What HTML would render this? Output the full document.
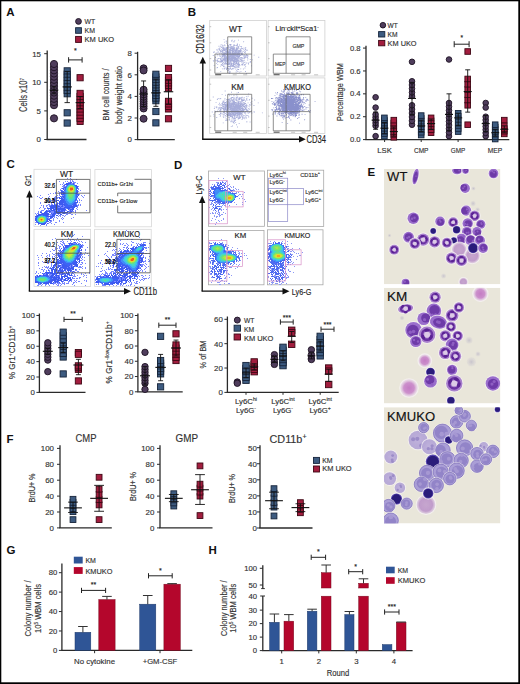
<!DOCTYPE html>
<html><head><meta charset="utf-8"><style>
html,body{margin:0;padding:0;background:#fff;}
svg{display:block;font-family:"Liberation Sans", sans-serif;}
</style></head><body>
<svg width="520" height="684" viewBox="0 0 520 684">
<defs><filter id="soft" x="-5%" y="-5%" width="110%" height="110%"><feGaussianBlur stdDeviation="0.65"/></filter><filter id="blur1" x="-20%" y="-20%" width="140%" height="140%"><feGaussianBlur stdDeviation="0.55"/></filter>
<radialGradient id="gP"><stop offset="0" stop-color="#b47ad2"/><stop offset="0.7" stop-color="#9a58c0"/><stop offset="1" stop-color="#8a4cb2"/></radialGradient>
<radialGradient id="gR"><stop offset="0" stop-color="#dcc4e4"/><stop offset="0.35" stop-color="#b88ad0"/><stop offset="0.6" stop-color="#8c48b4"/><stop offset="1" stop-color="#a06ac6"/></radialGradient>
<radialGradient id="gD"><stop offset="0" stop-color="#30207e"/><stop offset="1" stop-color="#3c2c92"/></radialGradient>
<radialGradient id="gL"><stop offset="0" stop-color="#c6a6ce"/><stop offset="0.7" stop-color="#c09ccb"/><stop offset="1" stop-color="#d0b6d6" stop-opacity="0.5"/></radialGradient>
<radialGradient id="gK"><stop offset="0" stop-color="#9c8ad0"/><stop offset="0.7" stop-color="#7e6cc0"/><stop offset="1" stop-color="#6c58b0"/></radialGradient>
<radialGradient id="gKp"><stop offset="0" stop-color="#c0b2dc"/><stop offset="1" stop-color="#a898d0" stop-opacity="0.8"/></radialGradient>
<radialGradient id="gM"><stop offset="0" stop-color="#c47cc4"/><stop offset="0.6" stop-color="#cc90cc"/><stop offset="1" stop-color="#dcc0dc" stop-opacity="0.3"/></radialGradient>
<radialGradient id="gH"><stop offset="0" stop-color="#d4b8d0" stop-opacity="0.9"/><stop offset="1" stop-color="#e2d4dc" stop-opacity="0"/></radialGradient>
<radialGradient id="gG"><stop offset="0" stop-color="#c8c4cc"/><stop offset="1" stop-color="#d6d2d4" stop-opacity="0.3"/></radialGradient>
<clipPath id="cE1"><rect x="384" y="169" width="116.4" height="115.3"/></clipPath>
<clipPath id="cE2"><rect x="384" y="287.8" width="116.4" height="115.6"/></clipPath>
<clipPath id="cE3"><rect x="384" y="407.2" width="116.4" height="116.3"/></clipPath>
</defs>
<rect x="0" y="0" width="520" height="684" fill="#fff"/>
<text x="6.30" y="16.20" font-size="11.5" text-anchor="start" font-weight="bold" fill="#111">A</text>
<circle cx="78.5" cy="21.4" r="2.9" fill="#4f3d5c" stroke="#1d1222" stroke-width="0.9"/>
<rect x="75.60" y="27.70" width="5.80" height="5.60" fill="#3d5b80" stroke="#16243a" stroke-width="0.9"/>
<rect x="75.60" y="36.40" width="5.80" height="6.00" fill="#a21d3e" stroke="#3f0714" stroke-width="0.9"/>
<text x="84.60" y="23.90" font-size="7.4" text-anchor="start" font-weight="normal" fill="#333" textLength="10.6" lengthAdjust="spacingAndGlyphs" stroke="#333" stroke-width="0.15">WT</text>
<text x="84.60" y="32.90" font-size="7.4" text-anchor="start" font-weight="normal" fill="#333" textLength="10.4" lengthAdjust="spacingAndGlyphs" stroke="#333" stroke-width="0.15">KM</text>
<text x="84.60" y="41.70" font-size="7.4" text-anchor="start" font-weight="normal" fill="#333" textLength="29.6" lengthAdjust="spacingAndGlyphs" stroke="#333" stroke-width="0.15">KM UKO</text>
<line x1="47.20" y1="50.60" x2="47.20" y2="139.50" stroke="#2a2a2a" stroke-width="1.3"/>
<line x1="44.20" y1="139.50" x2="47.20" y2="139.50" stroke="#2a2a2a" stroke-width="1.0"/>
<text x="41.00" y="142.34" font-size="7.9" text-anchor="end" font-weight="normal" fill="#333" stroke="#333" stroke-width="0.15">0</text>
<line x1="44.20" y1="110.90" x2="47.20" y2="110.90" stroke="#2a2a2a" stroke-width="1.0"/>
<text x="41.00" y="113.74" font-size="7.9" text-anchor="end" font-weight="normal" fill="#333" stroke="#333" stroke-width="0.15">5</text>
<line x1="44.20" y1="82.30" x2="47.20" y2="82.30" stroke="#2a2a2a" stroke-width="1.0"/>
<text x="41.00" y="85.14" font-size="7.9" text-anchor="end" font-weight="normal" fill="#333" stroke="#333" stroke-width="0.15">10</text>
<line x1="44.20" y1="53.70" x2="47.20" y2="53.70" stroke="#2a2a2a" stroke-width="1.0"/>
<text x="41.00" y="56.54" font-size="7.9" text-anchor="end" font-weight="normal" fill="#333" stroke="#333" stroke-width="0.15">15</text>
<line x1="46.60" y1="139.50" x2="86.50" y2="139.50" stroke="#2a2a2a" stroke-width="1.3"/>
<text x="27.30" y="95.00" font-size="10" text-anchor="middle" font-weight="normal" fill="#333" textLength="34" lengthAdjust="spacingAndGlyphs" transform="rotate(-90 27.3 95.0)" stroke="#333" stroke-width="0.15">Cells x10<tspan font-size="6" dy="-3.5">7</tspan></text>
<circle cx="54.00" cy="105.18" r="3.60" fill="#4f3d5c" stroke="#1d1222" stroke-width="0.9"/>
<circle cx="54.00" cy="102.01" r="3.60" fill="#4f3d5c" stroke="#1d1222" stroke-width="0.9"/>
<circle cx="54.00" cy="98.84" r="3.60" fill="#4f3d5c" stroke="#1d1222" stroke-width="0.9"/>
<circle cx="54.00" cy="95.68" r="3.60" fill="#4f3d5c" stroke="#1d1222" stroke-width="0.9"/>
<circle cx="54.00" cy="92.51" r="3.60" fill="#4f3d5c" stroke="#1d1222" stroke-width="0.9"/>
<circle cx="54.00" cy="89.34" r="3.60" fill="#4f3d5c" stroke="#1d1222" stroke-width="0.9"/>
<circle cx="54.00" cy="86.17" r="3.60" fill="#4f3d5c" stroke="#1d1222" stroke-width="0.9"/>
<circle cx="54.00" cy="83.00" r="3.60" fill="#4f3d5c" stroke="#1d1222" stroke-width="0.9"/>
<circle cx="54.00" cy="79.84" r="3.60" fill="#4f3d5c" stroke="#1d1222" stroke-width="0.9"/>
<circle cx="54.00" cy="76.67" r="3.60" fill="#4f3d5c" stroke="#1d1222" stroke-width="0.9"/>
<circle cx="54.00" cy="73.50" r="3.60" fill="#4f3d5c" stroke="#1d1222" stroke-width="0.9"/>
<circle cx="54.00" cy="70.33" r="3.60" fill="#4f3d5c" stroke="#1d1222" stroke-width="0.9"/>
<circle cx="54.00" cy="67.16" r="3.60" fill="#4f3d5c" stroke="#1d1222" stroke-width="0.9"/>
<circle cx="54.00" cy="64.00" r="3.60" fill="#4f3d5c" stroke="#1d1222" stroke-width="0.9"/>
<circle cx="54.00" cy="118.34" r="3.60" fill="#4f3d5c" stroke="#1d1222" stroke-width="0.9"/>
<line x1="54.00" y1="93.74" x2="54.00" y2="86.88" stroke="#111" stroke-width="0.9"/>
<line x1="51.50" y1="93.74" x2="56.50" y2="93.74" stroke="#111" stroke-width="0.9"/>
<line x1="51.50" y1="86.88" x2="56.50" y2="86.88" stroke="#111" stroke-width="0.9"/>
<line x1="49.75" y1="90.31" x2="58.25" y2="90.31" stroke="#111" stroke-width="1.1"/>
<rect x="64.10" y="90.64" width="6.20" height="6.20" fill="#3d5b80" stroke="#16243a" stroke-width="0.9"/>
<rect x="64.10" y="87.37" width="6.20" height="6.20" fill="#3d5b80" stroke="#16243a" stroke-width="0.9"/>
<rect x="64.10" y="84.10" width="6.20" height="6.20" fill="#3d5b80" stroke="#16243a" stroke-width="0.9"/>
<rect x="64.10" y="80.83" width="6.20" height="6.20" fill="#3d5b80" stroke="#16243a" stroke-width="0.9"/>
<rect x="64.10" y="77.57" width="6.20" height="6.20" fill="#3d5b80" stroke="#16243a" stroke-width="0.9"/>
<rect x="64.10" y="74.30" width="6.20" height="6.20" fill="#3d5b80" stroke="#16243a" stroke-width="0.9"/>
<rect x="64.10" y="71.03" width="6.20" height="6.20" fill="#3d5b80" stroke="#16243a" stroke-width="0.9"/>
<rect x="64.10" y="67.76" width="6.20" height="6.20" fill="#3d5b80" stroke="#16243a" stroke-width="0.9"/>
<rect x="64.10" y="109.69" width="6.20" height="6.20" fill="#3d5b80" stroke="#16243a" stroke-width="0.9"/>
<rect x="64.10" y="119.93" width="6.20" height="6.20" fill="#3d5b80" stroke="#16243a" stroke-width="0.9"/>
<line x1="67.20" y1="102.61" x2="67.20" y2="71.43" stroke="#111" stroke-width="0.9"/>
<line x1="64.50" y1="102.61" x2="69.90" y2="102.61" stroke="#111" stroke-width="0.9"/>
<line x1="64.50" y1="71.43" x2="69.90" y2="71.43" stroke="#111" stroke-width="0.9"/>
<line x1="62.60" y1="86.88" x2="71.80" y2="86.88" stroke="#111" stroke-width="1.1"/>
<rect x="77.00" y="74.62" width="6.20" height="6.20" fill="#a21d3e" stroke="#3f0714" stroke-width="0.9"/>
<rect x="77.00" y="118.32" width="6.20" height="6.20" fill="#a21d3e" stroke="#3f0714" stroke-width="0.9"/>
<rect x="77.00" y="115.21" width="6.20" height="6.20" fill="#a21d3e" stroke="#3f0714" stroke-width="0.9"/>
<rect x="77.00" y="112.10" width="6.20" height="6.20" fill="#a21d3e" stroke="#3f0714" stroke-width="0.9"/>
<rect x="77.00" y="108.98" width="6.20" height="6.20" fill="#a21d3e" stroke="#3f0714" stroke-width="0.9"/>
<rect x="77.00" y="105.87" width="6.20" height="6.20" fill="#a21d3e" stroke="#3f0714" stroke-width="0.9"/>
<rect x="77.00" y="102.75" width="6.20" height="6.20" fill="#a21d3e" stroke="#3f0714" stroke-width="0.9"/>
<rect x="77.00" y="99.64" width="6.20" height="6.20" fill="#a21d3e" stroke="#3f0714" stroke-width="0.9"/>
<rect x="77.00" y="96.53" width="6.20" height="6.20" fill="#a21d3e" stroke="#3f0714" stroke-width="0.9"/>
<rect x="77.00" y="93.41" width="6.20" height="6.20" fill="#a21d3e" stroke="#3f0714" stroke-width="0.9"/>
<rect x="77.00" y="90.30" width="6.20" height="6.20" fill="#a21d3e" stroke="#3f0714" stroke-width="0.9"/>
<line x1="80.10" y1="108.61" x2="80.10" y2="96.60" stroke="#111" stroke-width="0.9"/>
<line x1="77.60" y1="108.61" x2="82.60" y2="108.61" stroke="#111" stroke-width="0.9"/>
<line x1="77.60" y1="96.60" x2="82.60" y2="96.60" stroke="#111" stroke-width="0.9"/>
<line x1="75.60" y1="102.61" x2="84.60" y2="102.61" stroke="#111" stroke-width="1.1"/>
<line x1="68.60" y1="59.90" x2="82.10" y2="59.90" stroke="#222" stroke-width="1.0"/>
<line x1="68.60" y1="57.20" x2="68.60" y2="62.60" stroke="#222" stroke-width="1.0"/>
<line x1="82.10" y1="57.20" x2="82.10" y2="62.60" stroke="#222" stroke-width="1.0"/>
<text x="75.35" y="52.50" font-size="7" text-anchor="middle" font-weight="normal" fill="#222" stroke="#222" stroke-width="0.15">*</text>
<line x1="137.60" y1="51.80" x2="137.60" y2="139.60" stroke="#2a2a2a" stroke-width="1.3"/>
<line x1="134.60" y1="139.60" x2="137.60" y2="139.60" stroke="#2a2a2a" stroke-width="1.0"/>
<text x="131.80" y="142.44" font-size="7.9" text-anchor="end" font-weight="normal" fill="#333" stroke="#333" stroke-width="0.15">0</text>
<line x1="134.60" y1="118.00" x2="137.60" y2="118.00" stroke="#2a2a2a" stroke-width="1.0"/>
<text x="131.80" y="120.84" font-size="7.9" text-anchor="end" font-weight="normal" fill="#333" stroke="#333" stroke-width="0.15">2</text>
<line x1="134.60" y1="96.40" x2="137.60" y2="96.40" stroke="#2a2a2a" stroke-width="1.0"/>
<text x="131.80" y="99.24" font-size="7.9" text-anchor="end" font-weight="normal" fill="#333" stroke="#333" stroke-width="0.15">4</text>
<line x1="134.60" y1="74.80" x2="137.60" y2="74.80" stroke="#2a2a2a" stroke-width="1.0"/>
<text x="131.80" y="77.64" font-size="7.9" text-anchor="end" font-weight="normal" fill="#333" stroke="#333" stroke-width="0.15">6</text>
<line x1="134.60" y1="53.20" x2="137.60" y2="53.20" stroke="#2a2a2a" stroke-width="1.0"/>
<text x="131.80" y="56.04" font-size="7.9" text-anchor="end" font-weight="normal" fill="#333" stroke="#333" stroke-width="0.15">8</text>
<line x1="137.00" y1="139.60" x2="174.80" y2="139.60" stroke="#2a2a2a" stroke-width="1.3"/>
<text x="109.40" y="94.50" font-size="9.0" text-anchor="middle" font-weight="normal" fill="#333" textLength="52" lengthAdjust="spacingAndGlyphs" transform="rotate(-90 109.4 94.5)" stroke="#333" stroke-width="0.15">BM cell counts /</text>
<text x="121.60" y="95.00" font-size="9.0" text-anchor="middle" font-weight="normal" fill="#333" textLength="58" lengthAdjust="spacingAndGlyphs" transform="rotate(-90 121.6 95.0)" stroke="#333" stroke-width="0.15">body weight ratio</text>
<circle cx="143.60" cy="68.32" r="3.50" fill="#4f3d5c" stroke="#1d1222" stroke-width="0.9"/>
<circle cx="143.60" cy="70.48" r="3.50" fill="#4f3d5c" stroke="#1d1222" stroke-width="0.9"/>
<circle cx="143.60" cy="108.50" r="3.50" fill="#4f3d5c" stroke="#1d1222" stroke-width="0.9"/>
<circle cx="143.60" cy="106.15" r="3.50" fill="#4f3d5c" stroke="#1d1222" stroke-width="0.9"/>
<circle cx="143.60" cy="103.80" r="3.50" fill="#4f3d5c" stroke="#1d1222" stroke-width="0.9"/>
<circle cx="143.60" cy="101.45" r="3.50" fill="#4f3d5c" stroke="#1d1222" stroke-width="0.9"/>
<circle cx="143.60" cy="99.10" r="3.50" fill="#4f3d5c" stroke="#1d1222" stroke-width="0.9"/>
<circle cx="143.60" cy="96.75" r="3.50" fill="#4f3d5c" stroke="#1d1222" stroke-width="0.9"/>
<circle cx="143.60" cy="94.40" r="3.50" fill="#4f3d5c" stroke="#1d1222" stroke-width="0.9"/>
<circle cx="143.60" cy="92.05" r="3.50" fill="#4f3d5c" stroke="#1d1222" stroke-width="0.9"/>
<circle cx="143.60" cy="89.70" r="3.50" fill="#4f3d5c" stroke="#1d1222" stroke-width="0.9"/>
<circle cx="143.60" cy="118.76" r="3.50" fill="#4f3d5c" stroke="#1d1222" stroke-width="0.9"/>
<line x1="143.60" y1="106.66" x2="143.60" y2="80.96" stroke="#111" stroke-width="0.9"/>
<line x1="141.10" y1="106.66" x2="146.10" y2="106.66" stroke="#111" stroke-width="0.9"/>
<line x1="141.10" y1="80.96" x2="146.10" y2="80.96" stroke="#111" stroke-width="0.9"/>
<line x1="139.35" y1="93.92" x2="147.85" y2="93.92" stroke="#111" stroke-width="1.1"/>
<rect x="152.80" y="97.62" width="6.20" height="6.20" fill="#3d5b80" stroke="#16243a" stroke-width="0.9"/>
<rect x="152.80" y="94.97" width="6.20" height="6.20" fill="#3d5b80" stroke="#16243a" stroke-width="0.9"/>
<rect x="152.80" y="92.33" width="6.20" height="6.20" fill="#3d5b80" stroke="#16243a" stroke-width="0.9"/>
<rect x="152.80" y="89.68" width="6.20" height="6.20" fill="#3d5b80" stroke="#16243a" stroke-width="0.9"/>
<rect x="152.80" y="87.04" width="6.20" height="6.20" fill="#3d5b80" stroke="#16243a" stroke-width="0.9"/>
<rect x="152.80" y="84.39" width="6.20" height="6.20" fill="#3d5b80" stroke="#16243a" stroke-width="0.9"/>
<rect x="152.80" y="81.74" width="6.20" height="6.20" fill="#3d5b80" stroke="#16243a" stroke-width="0.9"/>
<rect x="152.80" y="79.10" width="6.20" height="6.20" fill="#3d5b80" stroke="#16243a" stroke-width="0.9"/>
<rect x="152.80" y="76.45" width="6.20" height="6.20" fill="#3d5b80" stroke="#16243a" stroke-width="0.9"/>
<rect x="152.80" y="73.81" width="6.20" height="6.20" fill="#3d5b80" stroke="#16243a" stroke-width="0.9"/>
<rect x="152.80" y="71.16" width="6.20" height="6.20" fill="#3d5b80" stroke="#16243a" stroke-width="0.9"/>
<rect x="152.80" y="108.42" width="6.20" height="6.20" fill="#3d5b80" stroke="#16243a" stroke-width="0.9"/>
<rect x="152.80" y="119.76" width="6.20" height="6.20" fill="#3d5b80" stroke="#16243a" stroke-width="0.9"/>
<line x1="155.90" y1="106.34" x2="155.90" y2="79.12" stroke="#111" stroke-width="0.9"/>
<line x1="153.40" y1="106.34" x2="158.40" y2="106.34" stroke="#111" stroke-width="0.9"/>
<line x1="153.40" y1="79.12" x2="158.40" y2="79.12" stroke="#111" stroke-width="0.9"/>
<line x1="151.15" y1="92.84" x2="160.65" y2="92.84" stroke="#111" stroke-width="1.1"/>
<rect x="165.40" y="65.33" width="6.20" height="6.20" fill="#a21d3e" stroke="#3f0714" stroke-width="0.9"/>
<rect x="165.40" y="84.98" width="6.20" height="6.20" fill="#a21d3e" stroke="#3f0714" stroke-width="0.9"/>
<rect x="165.40" y="82.37" width="6.20" height="6.20" fill="#a21d3e" stroke="#3f0714" stroke-width="0.9"/>
<rect x="165.40" y="79.75" width="6.20" height="6.20" fill="#a21d3e" stroke="#3f0714" stroke-width="0.9"/>
<rect x="165.40" y="77.13" width="6.20" height="6.20" fill="#a21d3e" stroke="#3f0714" stroke-width="0.9"/>
<rect x="165.40" y="74.51" width="6.20" height="6.20" fill="#a21d3e" stroke="#3f0714" stroke-width="0.9"/>
<rect x="165.40" y="105.83" width="6.20" height="6.20" fill="#a21d3e" stroke="#3f0714" stroke-width="0.9"/>
<rect x="165.40" y="103.31" width="6.20" height="6.20" fill="#a21d3e" stroke="#3f0714" stroke-width="0.9"/>
<rect x="165.40" y="100.79" width="6.20" height="6.20" fill="#a21d3e" stroke="#3f0714" stroke-width="0.9"/>
<rect x="165.40" y="98.27" width="6.20" height="6.20" fill="#a21d3e" stroke="#3f0714" stroke-width="0.9"/>
<rect x="165.40" y="115.66" width="6.20" height="6.20" fill="#a21d3e" stroke="#3f0714" stroke-width="0.9"/>
<line x1="168.50" y1="103.96" x2="168.50" y2="79.66" stroke="#111" stroke-width="0.9"/>
<line x1="166.00" y1="103.96" x2="171.00" y2="103.96" stroke="#111" stroke-width="0.9"/>
<line x1="166.00" y1="79.66" x2="171.00" y2="79.66" stroke="#111" stroke-width="0.9"/>
<line x1="163.75" y1="91.76" x2="173.25" y2="91.76" stroke="#111" stroke-width="1.1"/>
<text x="187.80" y="16.20" font-size="11.5" text-anchor="start" font-weight="bold" fill="#111">B</text>
<rect x="209.70" y="20.40" width="56.80" height="55.60" fill="none" stroke="#d0d0d0" stroke-width="0.8"/>
<line x1="209.70" y1="26.70" x2="211.20" y2="26.70" stroke="#999" stroke-width="0.6"/>
<line x1="209.70" y1="42.80" x2="211.20" y2="42.80" stroke="#999" stroke-width="0.6"/>
<line x1="209.70" y1="58.60" x2="211.20" y2="58.60" stroke="#999" stroke-width="0.6"/>
<line x1="209.70" y1="70.00" x2="211.20" y2="70.00" stroke="#999" stroke-width="0.6"/>
<line x1="232.70" y1="74.80" x2="236.70" y2="74.80" stroke="#aaa" stroke-width="0.7"/>
<line x1="243.20" y1="74.80" x2="247.20" y2="74.80" stroke="#aaa" stroke-width="0.7"/>
<line x1="255.70" y1="74.80" x2="259.70" y2="74.80" stroke="#aaa" stroke-width="0.7"/>
<line x1="215.20" y1="74.70" x2="221.20" y2="74.70" stroke="#555" stroke-width="1.1"/>
<rect x="268.10" y="20.40" width="56.80" height="55.60" fill="none" stroke="#d0d0d0" stroke-width="0.8"/>
<line x1="268.10" y1="26.70" x2="269.60" y2="26.70" stroke="#999" stroke-width="0.6"/>
<line x1="268.10" y1="42.80" x2="269.60" y2="42.80" stroke="#999" stroke-width="0.6"/>
<line x1="268.10" y1="58.60" x2="269.60" y2="58.60" stroke="#999" stroke-width="0.6"/>
<line x1="268.10" y1="70.00" x2="269.60" y2="70.00" stroke="#999" stroke-width="0.6"/>
<line x1="291.10" y1="74.80" x2="295.10" y2="74.80" stroke="#aaa" stroke-width="0.7"/>
<line x1="301.60" y1="74.80" x2="305.60" y2="74.80" stroke="#aaa" stroke-width="0.7"/>
<line x1="314.10" y1="74.80" x2="318.10" y2="74.80" stroke="#aaa" stroke-width="0.7"/>
<line x1="273.60" y1="74.70" x2="279.60" y2="74.70" stroke="#555" stroke-width="1.1"/>
<rect x="209.70" y="77.90" width="56.80" height="55.60" fill="none" stroke="#d0d0d0" stroke-width="0.8"/>
<line x1="209.70" y1="84.20" x2="211.20" y2="84.20" stroke="#999" stroke-width="0.6"/>
<line x1="209.70" y1="100.30" x2="211.20" y2="100.30" stroke="#999" stroke-width="0.6"/>
<line x1="209.70" y1="116.10" x2="211.20" y2="116.10" stroke="#999" stroke-width="0.6"/>
<line x1="209.70" y1="127.50" x2="211.20" y2="127.50" stroke="#999" stroke-width="0.6"/>
<line x1="232.70" y1="132.30" x2="236.70" y2="132.30" stroke="#aaa" stroke-width="0.7"/>
<line x1="243.20" y1="132.30" x2="247.20" y2="132.30" stroke="#aaa" stroke-width="0.7"/>
<line x1="255.70" y1="132.30" x2="259.70" y2="132.30" stroke="#aaa" stroke-width="0.7"/>
<line x1="215.20" y1="132.20" x2="221.20" y2="132.20" stroke="#555" stroke-width="1.1"/>
<rect x="268.10" y="77.90" width="56.80" height="55.60" fill="none" stroke="#d0d0d0" stroke-width="0.8"/>
<line x1="268.10" y1="84.20" x2="269.60" y2="84.20" stroke="#999" stroke-width="0.6"/>
<line x1="268.10" y1="100.30" x2="269.60" y2="100.30" stroke="#999" stroke-width="0.6"/>
<line x1="268.10" y1="116.10" x2="269.60" y2="116.10" stroke="#999" stroke-width="0.6"/>
<line x1="268.10" y1="127.50" x2="269.60" y2="127.50" stroke="#999" stroke-width="0.6"/>
<line x1="291.10" y1="132.30" x2="295.10" y2="132.30" stroke="#aaa" stroke-width="0.7"/>
<line x1="301.60" y1="132.30" x2="305.60" y2="132.30" stroke="#aaa" stroke-width="0.7"/>
<line x1="314.10" y1="132.30" x2="318.10" y2="132.30" stroke="#aaa" stroke-width="0.7"/>
<line x1="273.60" y1="132.20" x2="279.60" y2="132.20" stroke="#555" stroke-width="1.1"/>
<path d="M234.4 53.8h0.9v0.9h-0.9zM237.8 56.2h0.9v0.9h-0.9zM234.3 60.4h0.9v0.9h-0.9zM222.9 54.7h0.9v0.9h-0.9zM238.3 65.1h0.9v0.9h-0.9zM235.1 50.6h0.9v0.9h-0.9zM228.2 63.7h0.9v0.9h-0.9zM236.1 50.9h0.9v0.9h-0.9zM234.6 55.0h0.9v0.9h-0.9zM234.1 58.2h0.9v0.9h-0.9zM232.2 68.3h0.9v0.9h-0.9zM235.8 61.4h0.9v0.9h-0.9zM226.8 53.6h0.9v0.9h-0.9zM230.9 63.8h0.9v0.9h-0.9zM228.6 54.7h0.9v0.9h-0.9zM236.2 51.3h0.9v0.9h-0.9zM232.3 58.7h0.9v0.9h-0.9zM230.0 56.6h0.9v0.9h-0.9zM226.5 61.7h0.9v0.9h-0.9zM230.2 52.7h0.9v0.9h-0.9zM232.1 58.3h0.9v0.9h-0.9zM230.1 59.8h0.9v0.9h-0.9zM241.1 57.7h0.9v0.9h-0.9zM239.0 55.8h0.9v0.9h-0.9zM213.0 51.8h0.9v0.9h-0.9zM218.8 61.4h0.9v0.9h-0.9zM230.8 56.8h0.9v0.9h-0.9zM229.0 59.0h0.9v0.9h-0.9zM233.5 53.9h0.9v0.9h-0.9zM233.5 56.1h0.9v0.9h-0.9zM246.8 49.8h0.9v0.9h-0.9zM224.2 56.5h0.9v0.9h-0.9zM229.4 60.6h0.9v0.9h-0.9zM246.3 56.6h0.9v0.9h-0.9zM236.5 61.2h0.9v0.9h-0.9zM236.6 57.9h0.9v0.9h-0.9zM228.4 64.2h0.9v0.9h-0.9zM220.5 54.9h0.9v0.9h-0.9zM233.2 46.2h0.9v0.9h-0.9zM232.8 58.6h0.9v0.9h-0.9zM223.4 55.0h0.9v0.9h-0.9zM227.2 50.2h0.9v0.9h-0.9zM231.5 59.9h0.9v0.9h-0.9zM225.4 57.6h0.9v0.9h-0.9zM231.3 58.7h0.9v0.9h-0.9zM232.7 54.0h0.9v0.9h-0.9zM232.2 57.2h0.9v0.9h-0.9zM228.5 57.5h0.9v0.9h-0.9zM236.2 66.6h0.9v0.9h-0.9zM238.2 51.9h0.9v0.9h-0.9zM234.2 55.9h0.9v0.9h-0.9zM226.3 58.2h0.9v0.9h-0.9zM237.1 45.7h0.9v0.9h-0.9zM228.5 46.4h0.9v0.9h-0.9zM238.2 69.0h0.9v0.9h-0.9zM224.5 45.4h0.9v0.9h-0.9zM238.4 59.4h0.9v0.9h-0.9zM231.9 50.9h0.9v0.9h-0.9zM223.3 51.4h0.9v0.9h-0.9zM229.8 44.1h0.9v0.9h-0.9zM232.4 50.6h0.9v0.9h-0.9zM233.9 60.7h0.9v0.9h-0.9zM225.1 47.7h0.9v0.9h-0.9zM224.2 59.6h0.9v0.9h-0.9zM233.4 57.9h0.9v0.9h-0.9zM228.7 68.1h0.9v0.9h-0.9zM233.6 53.2h0.9v0.9h-0.9zM237.3 63.6h0.9v0.9h-0.9zM220.5 61.3h0.9v0.9h-0.9zM233.8 54.3h0.9v0.9h-0.9zM240.6 46.0h0.9v0.9h-0.9zM229.9 65.1h0.9v0.9h-0.9zM226.3 47.8h0.9v0.9h-0.9zM237.3 53.2h0.9v0.9h-0.9zM233.8 61.3h0.9v0.9h-0.9zM238.3 62.7h0.9v0.9h-0.9zM229.6 50.9h0.9v0.9h-0.9zM221.6 55.8h0.9v0.9h-0.9zM231.2 54.4h0.9v0.9h-0.9zM228.9 63.1h0.9v0.9h-0.9zM237.4 71.0h0.9v0.9h-0.9zM233.4 45.0h0.9v0.9h-0.9zM220.6 61.5h0.9v0.9h-0.9zM223.6 38.9h0.9v0.9h-0.9zM238.2 56.1h0.9v0.9h-0.9zM236.8 49.3h0.9v0.9h-0.9zM227.5 68.0h0.9v0.9h-0.9zM232.0 57.0h0.9v0.9h-0.9zM235.1 51.6h0.9v0.9h-0.9zM235.3 53.0h0.9v0.9h-0.9zM238.1 52.5h0.9v0.9h-0.9zM233.8 57.1h0.9v0.9h-0.9zM231.3 55.1h0.9v0.9h-0.9zM230.2 59.9h0.9v0.9h-0.9zM239.4 65.2h0.9v0.9h-0.9zM216.2 60.2h0.9v0.9h-0.9zM231.0 48.6h0.9v0.9h-0.9zM232.2 46.3h0.9v0.9h-0.9zM222.0 51.5h0.9v0.9h-0.9zM234.3 62.3h0.9v0.9h-0.9zM227.4 54.0h0.9v0.9h-0.9zM238.0 52.0h0.9v0.9h-0.9zM231.1 56.8h0.9v0.9h-0.9zM236.7 47.5h0.9v0.9h-0.9zM240.5 49.2h0.9v0.9h-0.9zM234.7 59.1h0.9v0.9h-0.9zM225.9 54.2h0.9v0.9h-0.9zM221.4 53.3h0.9v0.9h-0.9zM244.3 57.9h0.9v0.9h-0.9zM231.2 52.5h0.9v0.9h-0.9zM227.2 51.9h0.9v0.9h-0.9zM233.0 53.2h0.9v0.9h-0.9zM230.7 59.6h0.9v0.9h-0.9zM238.0 56.4h0.9v0.9h-0.9zM232.2 48.8h0.9v0.9h-0.9zM232.1 54.2h0.9v0.9h-0.9zM227.0 59.9h0.9v0.9h-0.9zM235.3 67.2h0.9v0.9h-0.9zM224.8 49.1h0.9v0.9h-0.9zM236.7 58.0h0.9v0.9h-0.9zM242.7 54.4h0.9v0.9h-0.9zM221.3 61.0h0.9v0.9h-0.9zM214.7 58.7h0.9v0.9h-0.9zM236.3 64.8h0.9v0.9h-0.9zM249.8 59.1h0.9v0.9h-0.9zM225.0 52.7h0.9v0.9h-0.9zM223.2 52.8h0.9v0.9h-0.9zM236.1 58.4h0.9v0.9h-0.9zM226.1 58.4h0.9v0.9h-0.9zM228.5 70.4h0.9v0.9h-0.9zM229.6 66.1h0.9v0.9h-0.9zM235.7 49.0h0.9v0.9h-0.9zM229.2 58.1h0.9v0.9h-0.9zM233.9 48.0h0.9v0.9h-0.9zM230.8 46.1h0.9v0.9h-0.9zM226.1 60.5h0.9v0.9h-0.9zM229.8 59.3h0.9v0.9h-0.9zM225.3 49.8h0.9v0.9h-0.9zM232.0 65.9h0.9v0.9h-0.9zM224.1 50.1h0.9v0.9h-0.9zM224.3 49.0h0.9v0.9h-0.9zM242.2 59.9h0.9v0.9h-0.9zM231.6 57.3h0.9v0.9h-0.9zM231.6 55.0h0.9v0.9h-0.9zM235.6 55.6h0.9v0.9h-0.9zM229.1 57.3h0.9v0.9h-0.9zM230.4 55.2h0.9v0.9h-0.9zM235.0 55.0h0.9v0.9h-0.9zM234.0 44.6h0.9v0.9h-0.9zM223.9 47.9h0.9v0.9h-0.9zM237.8 59.7h0.9v0.9h-0.9zM227.9 51.8h0.9v0.9h-0.9zM224.6 59.3h0.9v0.9h-0.9zM225.7 63.4h0.9v0.9h-0.9zM229.3 53.9h0.9v0.9h-0.9zM243.4 57.7h0.9v0.9h-0.9zM223.8 68.5h0.9v0.9h-0.9zM233.1 60.2h0.9v0.9h-0.9zM217.0 67.1h0.9v0.9h-0.9zM232.0 65.2h0.9v0.9h-0.9zM238.3 60.5h0.9v0.9h-0.9zM230.3 55.3h0.9v0.9h-0.9zM227.6 50.9h0.9v0.9h-0.9zM233.6 49.3h0.9v0.9h-0.9zM236.9 58.9h0.9v0.9h-0.9zM236.6 58.8h0.9v0.9h-0.9zM245.8 55.0h0.9v0.9h-0.9zM233.5 61.1h0.9v0.9h-0.9zM227.9 52.4h0.9v0.9h-0.9zM231.1 62.7h0.9v0.9h-0.9zM231.5 56.2h0.9v0.9h-0.9zM232.8 55.8h0.9v0.9h-0.9zM231.8 56.0h0.9v0.9h-0.9zM233.2 55.4h0.9v0.9h-0.9zM220.3 70.9h0.9v0.9h-0.9zM237.8 46.3h0.9v0.9h-0.9zM228.0 57.1h0.9v0.9h-0.9zM223.8 63.5h0.9v0.9h-0.9zM236.5 60.3h0.9v0.9h-0.9zM241.2 54.2h0.9v0.9h-0.9zM235.5 66.4h0.9v0.9h-0.9zM233.1 49.6h0.9v0.9h-0.9zM225.5 48.2h0.9v0.9h-0.9zM252.1 59.4h0.9v0.9h-0.9zM238.2 47.3h0.9v0.9h-0.9zM224.0 41.7h0.9v0.9h-0.9zM226.5 61.3h0.9v0.9h-0.9zM232.6 60.6h0.9v0.9h-0.9zM221.1 60.4h0.9v0.9h-0.9zM233.2 53.1h0.9v0.9h-0.9zM228.8 57.1h0.9v0.9h-0.9zM240.6 50.2h0.9v0.9h-0.9zM238.7 66.4h0.9v0.9h-0.9zM213.0 60.7h0.9v0.9h-0.9zM232.3 60.5h0.9v0.9h-0.9zM220.7 44.3h0.9v0.9h-0.9zM239.8 60.8h0.9v0.9h-0.9zM233.2 65.0h0.9v0.9h-0.9zM235.8 63.3h0.9v0.9h-0.9zM224.5 60.7h0.9v0.9h-0.9zM244.8 56.0h0.9v0.9h-0.9zM246.1 53.9h0.9v0.9h-0.9zM224.5 59.6h0.9v0.9h-0.9zM234.6 58.3h0.9v0.9h-0.9zM227.3 57.4h0.9v0.9h-0.9zM231.8 54.1h0.9v0.9h-0.9zM223.1 66.1h0.9v0.9h-0.9zM245.1 49.0h0.9v0.9h-0.9zM225.2 55.9h0.9v0.9h-0.9zM229.9 52.5h0.9v0.9h-0.9zM235.5 62.2h0.9v0.9h-0.9zM227.5 64.6h0.9v0.9h-0.9zM230.3 63.5h0.9v0.9h-0.9zM228.1 60.5h0.9v0.9h-0.9zM231.1 47.6h0.9v0.9h-0.9zM223.8 68.5h0.9v0.9h-0.9zM228.9 59.1h0.9v0.9h-0.9zM230.6 55.3h0.9v0.9h-0.9zM229.7 56.1h0.9v0.9h-0.9zM232.4 54.0h0.9v0.9h-0.9zM229.9 58.5h0.9v0.9h-0.9zM237.3 57.9h0.9v0.9h-0.9zM229.7 53.8h0.9v0.9h-0.9zM231.0 40.6h0.9v0.9h-0.9zM227.3 55.8h0.9v0.9h-0.9zM228.3 58.9h0.9v0.9h-0.9zM223.1 59.2h0.9v0.9h-0.9zM235.6 55.1h0.9v0.9h-0.9zM224.0 58.7h0.9v0.9h-0.9zM226.8 62.2h0.9v0.9h-0.9zM234.5 53.2h0.9v0.9h-0.9zM234.8 64.8h0.9v0.9h-0.9zM229.2 44.3h0.9v0.9h-0.9zM217.9 48.4h0.9v0.9h-0.9zM234.9 50.6h0.9v0.9h-0.9zM233.8 41.3h0.9v0.9h-0.9zM222.1 50.0h0.9v0.9h-0.9zM237.4 63.5h0.9v0.9h-0.9zM227.1 63.4h0.9v0.9h-0.9zM224.1 56.6h0.9v0.9h-0.9zM232.7 66.3h0.9v0.9h-0.9zM230.8 57.4h0.9v0.9h-0.9zM233.4 53.0h0.9v0.9h-0.9zM220.8 57.4h0.9v0.9h-0.9zM244.7 55.2h0.9v0.9h-0.9zM227.8 60.4h0.9v0.9h-0.9zM221.2 47.0h0.9v0.9h-0.9zM236.3 62.0h0.9v0.9h-0.9zM229.5 53.2h0.9v0.9h-0.9zM234.3 61.1h0.9v0.9h-0.9zM229.6 46.8h0.9v0.9h-0.9zM231.6 53.5h0.9v0.9h-0.9zM233.7 56.5h0.9v0.9h-0.9zM226.8 61.4h0.9v0.9h-0.9zM236.8 48.7h0.9v0.9h-0.9zM228.7 66.0h0.9v0.9h-0.9zM225.9 58.9h0.9v0.9h-0.9zM232.5 52.8h0.9v0.9h-0.9zM235.1 63.3h0.9v0.9h-0.9zM230.4 56.6h0.9v0.9h-0.9zM226.0 62.9h0.9v0.9h-0.9zM236.3 69.9h0.9v0.9h-0.9zM219.7 60.6h0.9v0.9h-0.9zM224.8 52.8h0.9v0.9h-0.9zM232.3 53.4h0.9v0.9h-0.9zM222.5 59.5h0.9v0.9h-0.9zM232.2 57.7h0.9v0.9h-0.9zM231.6 51.0h0.9v0.9h-0.9zM238.3 52.0h0.9v0.9h-0.9zM225.6 60.0h0.9v0.9h-0.9zM227.6 70.1h0.9v0.9h-0.9zM234.3 40.2h0.9v0.9h-0.9zM214.8 60.3h0.9v0.9h-0.9zM253.7 54.7h0.9v0.9h-0.9zM227.1 60.7h0.9v0.9h-0.9zM226.9 61.2h0.9v0.9h-0.9zM238.0 56.3h0.9v0.9h-0.9zM231.7 49.9h0.9v0.9h-0.9zM219.5 47.6h0.9v0.9h-0.9zM236.4 44.8h0.9v0.9h-0.9zM238.0 63.3h0.9v0.9h-0.9zM228.9 54.7h0.9v0.9h-0.9zM230.0 52.8h0.9v0.9h-0.9zM235.4 54.3h0.9v0.9h-0.9zM225.6 48.0h0.9v0.9h-0.9zM235.1 57.8h0.9v0.9h-0.9zM233.4 63.9h0.9v0.9h-0.9zM227.3 62.8h0.9v0.9h-0.9zM222.3 46.6h0.9v0.9h-0.9zM230.4 64.2h0.9v0.9h-0.9zM225.9 51.4h0.9v0.9h-0.9zM239.0 44.5h0.9v0.9h-0.9zM233.0 48.6h0.9v0.9h-0.9zM237.5 50.2h0.9v0.9h-0.9zM232.9 56.0h0.9v0.9h-0.9zM233.8 49.8h0.9v0.9h-0.9zM226.5 46.9h0.9v0.9h-0.9zM236.7 54.4h0.9v0.9h-0.9zM244.5 67.5h0.9v0.9h-0.9zM229.8 51.8h0.9v0.9h-0.9zM227.9 58.8h0.9v0.9h-0.9zM230.9 56.5h0.9v0.9h-0.9zM228.6 71.9h0.9v0.9h-0.9zM227.1 44.6h0.9v0.9h-0.9zM233.0 62.6h0.9v0.9h-0.9zM230.0 48.3h0.9v0.9h-0.9zM242.1 52.4h0.9v0.9h-0.9zM232.0 55.4h0.9v0.9h-0.9zM238.7 51.4h0.9v0.9h-0.9zM229.9 44.7h0.9v0.9h-0.9zM242.1 63.8h0.9v0.9h-0.9zM227.6 51.0h0.9v0.9h-0.9zM226.3 54.5h0.9v0.9h-0.9zM229.4 55.9h0.9v0.9h-0.9zM231.2 56.6h0.9v0.9h-0.9zM222.2 55.0h0.9v0.9h-0.9zM231.8 57.6h0.9v0.9h-0.9zM220.3 58.3h0.9v0.9h-0.9zM241.7 61.1h0.9v0.9h-0.9zM231.4 53.4h0.9v0.9h-0.9zM227.5 51.5h0.9v0.9h-0.9zM225.6 49.6h0.9v0.9h-0.9zM229.3 59.6h0.9v0.9h-0.9zM230.4 55.7h0.9v0.9h-0.9zM224.7 59.3h0.9v0.9h-0.9zM225.6 59.2h0.9v0.9h-0.9zM230.7 66.1h0.9v0.9h-0.9zM228.4 57.2h0.9v0.9h-0.9zM238.6 60.5h0.9v0.9h-0.9zM240.0 48.8h0.9v0.9h-0.9zM232.1 49.5h0.9v0.9h-0.9zM235.3 54.1h0.9v0.9h-0.9zM222.7 48.7h0.9v0.9h-0.9zM236.5 60.1h0.9v0.9h-0.9zM231.8 48.0h0.9v0.9h-0.9zM235.4 56.4h0.9v0.9h-0.9zM243.2 41.3h0.9v0.9h-0.9zM216.0 49.4h0.9v0.9h-0.9zM233.8 54.0h0.9v0.9h-0.9zM224.3 54.4h0.9v0.9h-0.9zM236.1 45.3h0.9v0.9h-0.9zM222.8 56.7h0.9v0.9h-0.9zM228.5 61.8h0.9v0.9h-0.9zM233.4 59.9h0.9v0.9h-0.9zM236.3 52.0h0.9v0.9h-0.9zM232.5 52.5h0.9v0.9h-0.9zM226.5 48.9h0.9v0.9h-0.9zM228.1 59.8h0.9v0.9h-0.9zM238.2 64.6h0.9v0.9h-0.9zM232.0 52.8h0.9v0.9h-0.9zM220.2 45.8h0.9v0.9h-0.9zM237.9 57.2h0.9v0.9h-0.9zM234.9 60.2h0.9v0.9h-0.9zM238.1 39.7h0.9v0.9h-0.9zM229.6 56.8h0.9v0.9h-0.9zM237.8 69.0h0.9v0.9h-0.9zM224.6 60.9h0.9v0.9h-0.9zM236.0 59.3h0.9v0.9h-0.9zM228.6 58.4h0.9v0.9h-0.9zM236.7 62.4h0.9v0.9h-0.9zM239.0 50.4h0.9v0.9h-0.9zM226.8 50.9h0.9v0.9h-0.9zM231.6 58.4h0.9v0.9h-0.9zM232.3 51.9h0.9v0.9h-0.9zM240.3 57.6h0.9v0.9h-0.9zM237.0 44.5h0.9v0.9h-0.9zM223.5 60.5h0.9v0.9h-0.9zM235.2 61.1h0.9v0.9h-0.9zM237.2 56.3h0.9v0.9h-0.9zM246.9 57.0h0.9v0.9h-0.9zM220.2 65.7h0.9v0.9h-0.9zM228.2 49.5h0.9v0.9h-0.9zM241.3 50.5h0.9v0.9h-0.9zM222.5 49.4h0.9v0.9h-0.9zM223.6 53.5h0.9v0.9h-0.9zM235.6 49.9h0.9v0.9h-0.9zM239.1 56.2h0.9v0.9h-0.9zM227.3 52.1h0.9v0.9h-0.9zM235.8 47.3h0.9v0.9h-0.9zM232.8 46.7h0.9v0.9h-0.9zM242.6 63.3h0.9v0.9h-0.9zM232.0 55.6h0.9v0.9h-0.9zM238.9 54.6h0.9v0.9h-0.9zM225.7 56.2h0.9v0.9h-0.9zM230.7 55.5h0.9v0.9h-0.9zM231.3 60.5h0.9v0.9h-0.9zM240.0 59.4h0.9v0.9h-0.9zM236.1 52.5h0.9v0.9h-0.9zM226.7 51.1h0.9v0.9h-0.9zM236.8 49.5h0.9v0.9h-0.9zM237.4 48.5h0.9v0.9h-0.9zM231.2 64.4h0.9v0.9h-0.9zM230.2 50.5h0.9v0.9h-0.9zM230.6 43.9h0.9v0.9h-0.9zM220.1 50.9h0.9v0.9h-0.9zM233.3 51.3h0.9v0.9h-0.9zM233.6 58.0h0.9v0.9h-0.9zM225.9 50.7h0.9v0.9h-0.9zM237.2 59.2h0.9v0.9h-0.9zM222.4 58.3h0.9v0.9h-0.9zM228.1 63.6h0.9v0.9h-0.9zM228.7 69.0h0.9v0.9h-0.9zM245.9 73.1h0.9v0.9h-0.9zM220.8 64.1h0.9v0.9h-0.9zM235.9 49.0h0.9v0.9h-0.9zM238.6 53.6h0.9v0.9h-0.9zM234.6 57.5h0.9v0.9h-0.9zM240.3 68.4h0.9v0.9h-0.9zM225.0 60.1h0.9v0.9h-0.9zM216.0 63.2h0.9v0.9h-0.9zM237.4 55.0h0.9v0.9h-0.9zM223.6 59.5h0.9v0.9h-0.9zM229.7 60.3h0.9v0.9h-0.9zM223.7 53.3h0.9v0.9h-0.9zM239.4 60.7h0.9v0.9h-0.9zM238.1 62.4h0.9v0.9h-0.9zM227.0 55.0h0.9v0.9h-0.9zM238.3 62.1h0.9v0.9h-0.9zM232.8 65.9h0.9v0.9h-0.9zM231.0 56.4h0.9v0.9h-0.9zM232.4 56.0h0.9v0.9h-0.9zM230.6 54.1h0.9v0.9h-0.9zM236.3 52.3h0.9v0.9h-0.9zM234.2 56.9h0.9v0.9h-0.9zM229.6 53.5h0.9v0.9h-0.9zM239.0 54.1h0.9v0.9h-0.9zM227.7 51.4h0.9v0.9h-0.9zM234.0 46.8h0.9v0.9h-0.9zM235.0 50.4h0.9v0.9h-0.9zM242.4 58.0h0.9v0.9h-0.9zM228.5 48.9h0.9v0.9h-0.9zM244.2 52.1h0.9v0.9h-0.9zM233.2 65.9h0.9v0.9h-0.9zM230.6 62.8h0.9v0.9h-0.9zM227.3 51.8h0.9v0.9h-0.9zM236.1 59.6h0.9v0.9h-0.9zM232.3 52.1h0.9v0.9h-0.9zM224.3 65.8h0.9v0.9h-0.9zM224.1 52.5h0.9v0.9h-0.9zM228.1 56.5h0.9v0.9h-0.9zM227.3 64.3h0.9v0.9h-0.9zM239.6 51.0h0.9v0.9h-0.9zM241.6 63.8h0.9v0.9h-0.9zM238.1 51.1h0.9v0.9h-0.9zM234.5 57.4h0.9v0.9h-0.9zM229.0 54.2h0.9v0.9h-0.9zM232.4 55.5h0.9v0.9h-0.9zM238.2 57.0h0.9v0.9h-0.9zM246.9 55.6h0.9v0.9h-0.9zM238.4 49.9h0.9v0.9h-0.9zM230.0 61.2h0.9v0.9h-0.9zM232.3 60.3h0.9v0.9h-0.9zM228.6 63.7h0.9v0.9h-0.9zM226.5 64.3h0.9v0.9h-0.9zM230.7 47.9h0.9v0.9h-0.9zM233.4 63.7h0.9v0.9h-0.9zM244.9 63.8h0.9v0.9h-0.9zM232.4 52.8h0.9v0.9h-0.9zM241.5 62.2h0.9v0.9h-0.9zM244.4 64.8h0.9v0.9h-0.9zM232.6 52.8h0.9v0.9h-0.9zM243.3 47.7h0.9v0.9h-0.9zM237.0 53.8h0.9v0.9h-0.9zM229.1 72.8h0.9v0.9h-0.9zM233.9 57.4h0.9v0.9h-0.9zM232.2 48.7h0.9v0.9h-0.9zM230.4 54.5h0.9v0.9h-0.9zM230.6 50.0h0.9v0.9h-0.9zM233.0 53.6h0.9v0.9h-0.9zM235.0 56.6h0.9v0.9h-0.9zM225.8 40.6h0.9v0.9h-0.9zM231.9 58.2h0.9v0.9h-0.9zM221.3 64.5h0.9v0.9h-0.9zM233.8 54.8h0.9v0.9h-0.9zM236.4 53.7h0.9v0.9h-0.9zM233.1 62.6h0.9v0.9h-0.9zM234.0 48.4h0.9v0.9h-0.9zM236.1 48.5h0.9v0.9h-0.9zM227.3 47.7h0.9v0.9h-0.9zM230.3 55.1h0.9v0.9h-0.9zM235.6 58.4h0.9v0.9h-0.9zM239.0 55.5h0.9v0.9h-0.9zM234.8 59.3h0.9v0.9h-0.9zM249.9 61.0h0.9v0.9h-0.9zM231.4 59.0h0.9v0.9h-0.9zM239.0 51.1h0.9v0.9h-0.9zM240.9 54.4h0.9v0.9h-0.9zM231.1 63.5h0.9v0.9h-0.9zM226.3 49.7h0.9v0.9h-0.9zM223.7 54.5h0.9v0.9h-0.9zM233.1 53.5h0.9v0.9h-0.9zM239.8 54.9h0.9v0.9h-0.9zM233.9 49.5h0.9v0.9h-0.9zM233.2 47.9h0.9v0.9h-0.9zM229.3 71.3h0.9v0.9h-0.9zM235.9 61.7h0.9v0.9h-0.9zM217.0 51.7h0.9v0.9h-0.9zM233.6 55.6h0.9v0.9h-0.9zM232.2 60.1h0.9v0.9h-0.9zM222.4 53.9h0.9v0.9h-0.9zM247.2 59.7h0.9v0.9h-0.9zM222.3 52.3h0.9v0.9h-0.9zM224.5 53.8h0.9v0.9h-0.9zM223.6 55.5h0.9v0.9h-0.9zM239.8 53.3h0.9v0.9h-0.9zM225.8 41.3h0.9v0.9h-0.9zM236.7 56.1h0.9v0.9h-0.9zM236.1 57.6h0.9v0.9h-0.9zM233.8 58.9h0.9v0.9h-0.9zM222.8 50.0h0.9v0.9h-0.9zM227.7 58.1h0.9v0.9h-0.9zM243.7 57.3h0.9v0.9h-0.9zM223.0 45.4h0.9v0.9h-0.9zM226.2 42.8h0.9v0.9h-0.9zM230.9 58.9h0.9v0.9h-0.9zM237.7 50.3h0.9v0.9h-0.9zM233.8 62.0h0.9v0.9h-0.9zM237.2 68.8h0.9v0.9h-0.9zM224.5 52.5h0.9v0.9h-0.9zM238.6 51.9h0.9v0.9h-0.9zM236.0 55.9h0.9v0.9h-0.9zM220.8 60.0h0.9v0.9h-0.9zM242.8 49.2h0.9v0.9h-0.9zM248.0 63.5h0.9v0.9h-0.9zM226.6 61.9h0.9v0.9h-0.9zM232.4 60.0h0.9v0.9h-0.9zM241.8 52.8h0.9v0.9h-0.9zM221.6 61.5h0.9v0.9h-0.9zM218.1 61.1h0.9v0.9h-0.9zM222.9 48.8h0.9v0.9h-0.9zM228.0 68.5h0.9v0.9h-0.9zM228.0 54.2h0.9v0.9h-0.9zM236.3 58.2h0.9v0.9h-0.9zM233.9 52.9h0.9v0.9h-0.9zM223.3 58.3h0.9v0.9h-0.9zM236.0 63.0h0.9v0.9h-0.9zM245.1 51.2h0.9v0.9h-0.9zM240.4 46.1h0.9v0.9h-0.9zM238.9 53.3h0.9v0.9h-0.9zM232.1 48.2h0.9v0.9h-0.9zM238.9 51.4h0.9v0.9h-0.9zM225.2 55.2h0.9v0.9h-0.9zM237.3 55.6h0.9v0.9h-0.9zM231.4 63.7h0.9v0.9h-0.9zM239.9 49.9h0.9v0.9h-0.9zM235.3 58.1h0.9v0.9h-0.9zM224.4 53.0h0.9v0.9h-0.9zM232.9 64.2h0.9v0.9h-0.9zM240.5 71.2h0.9v0.9h-0.9zM224.1 57.8h0.9v0.9h-0.9zM228.1 66.0h0.9v0.9h-0.9zM226.6 52.8h0.9v0.9h-0.9zM221.5 46.4h0.9v0.9h-0.9zM238.7 48.4h0.9v0.9h-0.9zM241.2 46.5h0.9v0.9h-0.9zM237.6 50.3h0.9v0.9h-0.9zM233.7 54.6h0.9v0.9h-0.9zM231.6 62.9h0.9v0.9h-0.9zM233.7 60.2h0.9v0.9h-0.9zM226.9 58.8h0.9v0.9h-0.9zM238.3 53.5h0.9v0.9h-0.9zM239.3 51.7h0.9v0.9h-0.9zM238.5 56.2h0.9v0.9h-0.9zM228.3 56.8h0.9v0.9h-0.9zM232.5 57.5h0.9v0.9h-0.9zM230.8 58.2h0.9v0.9h-0.9zM244.5 55.3h0.9v0.9h-0.9zM233.3 44.5h0.9v0.9h-0.9zM218.8 49.3h0.9v0.9h-0.9zM234.8 51.0h0.9v0.9h-0.9zM245.2 66.2h0.9v0.9h-0.9zM236.8 53.4h0.9v0.9h-0.9zM238.2 60.1h0.9v0.9h-0.9zM232.3 64.8h0.9v0.9h-0.9zM218.2 58.0h0.9v0.9h-0.9zM219.3 53.6h0.9v0.9h-0.9zM223.3 54.2h0.9v0.9h-0.9zM231.1 49.9h0.9v0.9h-0.9zM234.2 57.8h0.9v0.9h-0.9zM236.8 62.8h0.9v0.9h-0.9zM229.6 59.4h0.9v0.9h-0.9zM238.7 60.6h0.9v0.9h-0.9zM230.0 60.3h0.9v0.9h-0.9zM227.1 68.0h0.9v0.9h-0.9zM238.0 52.2h0.9v0.9h-0.9zM225.6 56.9h0.9v0.9h-0.9zM212.9 60.2h0.9v0.9h-0.9zM224.6 63.5h0.9v0.9h-0.9zM232.7 41.4h0.9v0.9h-0.9zM229.5 54.7h0.9v0.9h-0.9zM229.7 49.8h0.9v0.9h-0.9zM222.0 61.1h0.9v0.9h-0.9zM221.6 57.3h0.9v0.9h-0.9zM228.8 53.6h0.9v0.9h-0.9zM228.2 46.2h0.9v0.9h-0.9zM240.8 48.1h0.9v0.9h-0.9zM234.6 50.1h0.9v0.9h-0.9zM220.9 58.7h0.9v0.9h-0.9zM226.0 48.7h0.9v0.9h-0.9zM236.9 43.6h0.9v0.9h-0.9zM245.3 47.3h0.9v0.9h-0.9zM234.7 52.4h0.9v0.9h-0.9zM234.2 66.0h0.9v0.9h-0.9zM245.0 71.0h0.9v0.9h-0.9zM231.8 53.1h0.9v0.9h-0.9zM229.8 61.7h0.9v0.9h-0.9zM222.1 64.4h0.9v0.9h-0.9zM228.4 63.7h0.9v0.9h-0.9zM247.3 55.3h0.9v0.9h-0.9zM222.0 48.2h0.9v0.9h-0.9zM232.1 53.1h0.9v0.9h-0.9zM222.1 44.8h0.9v0.9h-0.9zM232.9 57.4h0.9v0.9h-0.9zM238.2 60.7h0.9v0.9h-0.9zM230.3 44.6h0.9v0.9h-0.9zM237.1 55.7h0.9v0.9h-0.9zM237.0 57.8h0.9v0.9h-0.9zM235.1 63.5h0.9v0.9h-0.9zM244.0 64.3h0.9v0.9h-0.9zM237.5 60.8h0.9v0.9h-0.9zM229.9 51.9h0.9v0.9h-0.9zM227.2 53.8h0.9v0.9h-0.9zM226.1 63.2h0.9v0.9h-0.9zM235.3 52.4h0.9v0.9h-0.9zM229.7 55.7h0.9v0.9h-0.9zM251.1 65.4h0.9v0.9h-0.9zM244.9 56.8h0.9v0.9h-0.9zM230.5 47.8h0.9v0.9h-0.9zM229.7 54.2h0.9v0.9h-0.9zM243.8 59.8h0.9v0.9h-0.9zM218.8 54.9h0.9v0.9h-0.9zM228.8 63.0h0.9v0.9h-0.9zM238.7 63.7h0.9v0.9h-0.9zM225.6 52.1h0.9v0.9h-0.9zM228.7 53.0h0.9v0.9h-0.9zM229.5 55.4h0.9v0.9h-0.9zM236.6 48.8h0.9v0.9h-0.9zM233.0 58.3h0.9v0.9h-0.9zM234.8 54.9h0.9v0.9h-0.9zM236.2 60.7h0.9v0.9h-0.9zM232.2 52.4h0.9v0.9h-0.9zM239.8 50.7h0.9v0.9h-0.9zM226.9 67.0h0.9v0.9h-0.9zM221.9 50.7h0.9v0.9h-0.9zM219.6 52.5h0.9v0.9h-0.9zM220.7 51.6h0.9v0.9h-0.9zM228.1 54.2h0.9v0.9h-0.9zM239.2 50.5h0.9v0.9h-0.9zM233.2 55.7h0.9v0.9h-0.9zM227.8 51.8h0.9v0.9h-0.9zM224.5 53.5h0.9v0.9h-0.9zM228.3 58.2h0.9v0.9h-0.9zM229.2 60.2h0.9v0.9h-0.9zM228.0 58.8h0.9v0.9h-0.9zM222.0 51.6h0.9v0.9h-0.9zM228.7 58.4h0.9v0.9h-0.9zM239.1 55.3h0.9v0.9h-0.9zM216.8 55.4h0.9v0.9h-0.9zM230.3 45.7h0.9v0.9h-0.9zM217.2 60.0h0.9v0.9h-0.9zM233.3 55.2h0.9v0.9h-0.9zM226.8 66.2h0.9v0.9h-0.9zM217.4 59.8h0.9v0.9h-0.9zM232.7 49.3h0.9v0.9h-0.9zM244.7 47.8h0.9v0.9h-0.9zM232.8 62.9h0.9v0.9h-0.9zM240.1 50.8h0.9v0.9h-0.9zM231.5 60.1h0.9v0.9h-0.9zM216.9 54.2h0.9v0.9h-0.9zM235.4 68.6h0.9v0.9h-0.9zM229.1 56.5h0.9v0.9h-0.9zM221.8 65.1h0.9v0.9h-0.9zM237.5 64.0h0.9v0.9h-0.9zM234.0 53.2h0.9v0.9h-0.9zM228.3 54.0h0.9v0.9h-0.9zM238.1 64.9h0.9v0.9h-0.9zM225.9 56.0h0.9v0.9h-0.9zM236.5 50.8h0.9v0.9h-0.9zM225.4 63.3h0.9v0.9h-0.9zM235.7 71.5h0.9v0.9h-0.9zM224.3 55.9h0.9v0.9h-0.9zM242.4 64.5h0.9v0.9h-0.9zM233.8 55.2h0.9v0.9h-0.9zM242.0 64.3h0.9v0.9h-0.9zM226.2 54.7h0.9v0.9h-0.9zM228.7 64.2h0.9v0.9h-0.9zM237.9 59.5h0.9v0.9h-0.9zM212.8 55.1h0.9v0.9h-0.9zM224.5 57.7h0.9v0.9h-0.9zM239.2 53.0h0.9v0.9h-0.9zM235.3 49.5h0.9v0.9h-0.9zM238.9 49.9h0.9v0.9h-0.9zM229.8 55.9h0.9v0.9h-0.9zM235.9 50.0h0.9v0.9h-0.9zM226.9 59.0h0.9v0.9h-0.9zM222.4 59.5h0.9v0.9h-0.9zM220.1 59.2h0.9v0.9h-0.9zM228.1 53.4h0.9v0.9h-0.9zM228.2 56.7h0.9v0.9h-0.9zM227.6 56.2h0.9v0.9h-0.9zM218.0 51.5h0.9v0.9h-0.9zM228.3 54.1h0.9v0.9h-0.9zM234.0 55.0h0.9v0.9h-0.9zM227.9 55.5h0.9v0.9h-0.9zM225.9 51.9h0.9v0.9h-0.9zM215.8 52.6h0.9v0.9h-0.9zM246.2 62.5h0.9v0.9h-0.9zM224.3 52.6h0.9v0.9h-0.9zM243.8 61.9h0.9v0.9h-0.9zM242.9 68.6h0.9v0.9h-0.9zM233.9 64.1h0.9v0.9h-0.9zM228.0 45.6h0.9v0.9h-0.9zM232.9 61.1h0.9v0.9h-0.9zM223.9 59.3h0.9v0.9h-0.9zM233.8 59.7h0.9v0.9h-0.9zM232.0 46.7h0.9v0.9h-0.9zM235.7 61.0h0.9v0.9h-0.9zM238.7 49.9h0.9v0.9h-0.9zM244.1 64.2h0.9v0.9h-0.9zM229.3 62.8h0.9v0.9h-0.9zM239.3 71.7h0.9v0.9h-0.9zM226.5 54.1h0.9v0.9h-0.9zM225.7 47.2h0.9v0.9h-0.9zM227.7 62.7h0.9v0.9h-0.9zM225.1 61.6h0.9v0.9h-0.9zM238.9 54.1h0.9v0.9h-0.9zM238.5 64.5h0.9v0.9h-0.9zM240.9 60.5h0.9v0.9h-0.9zM231.8 48.6h0.9v0.9h-0.9zM233.9 54.3h0.9v0.9h-0.9zM228.0 53.7h0.9v0.9h-0.9zM223.9 55.7h0.9v0.9h-0.9zM235.1 57.5h0.9v0.9h-0.9zM233.9 52.2h0.9v0.9h-0.9zM224.3 55.2h0.9v0.9h-0.9zM236.1 59.9h0.9v0.9h-0.9zM219.8 55.9h0.9v0.9h-0.9zM230.7 54.7h0.9v0.9h-0.9zM227.6 54.5h0.9v0.9h-0.9zM228.3 55.8h0.9v0.9h-0.9zM224.4 44.9h0.9v0.9h-0.9zM238.7 57.3h0.9v0.9h-0.9zM236.0 50.2h0.9v0.9h-0.9zM240.3 57.0h0.9v0.9h-0.9zM232.9 47.5h0.9v0.9h-0.9zM222.9 61.9h0.9v0.9h-0.9zM229.3 57.8h0.9v0.9h-0.9zM223.7 48.3h0.9v0.9h-0.9zM235.1 57.8h0.9v0.9h-0.9zM240.4 51.8h0.9v0.9h-0.9zM234.2 67.2h0.9v0.9h-0.9zM227.7 59.3h0.9v0.9h-0.9zM229.3 51.6h0.9v0.9h-0.9zM233.3 57.7h0.9v0.9h-0.9zM221.8 56.2h0.9v0.9h-0.9zM232.9 63.6h0.9v0.9h-0.9zM233.3 58.5h0.9v0.9h-0.9zM228.1 59.5h0.9v0.9h-0.9zM229.0 49.7h0.9v0.9h-0.9zM233.1 61.1h0.9v0.9h-0.9zM226.1 69.0h0.9v0.9h-0.9zM226.1 60.2h0.9v0.9h-0.9zM237.3 56.2h0.9v0.9h-0.9zM233.4 57.4h0.9v0.9h-0.9zM243.6 50.7h0.9v0.9h-0.9zM224.9 57.5h0.9v0.9h-0.9zM219.4 49.8h0.9v0.9h-0.9zM238.4 56.7h0.9v0.9h-0.9zM238.5 54.1h0.9v0.9h-0.9zM226.7 51.4h0.9v0.9h-0.9zM221.6 59.9h0.9v0.9h-0.9zM231.5 47.5h0.9v0.9h-0.9zM219.6 56.2h0.9v0.9h-0.9zM229.4 48.5h0.9v0.9h-0.9zM216.5 67.4h0.9v0.9h-0.9zM230.1 68.3h0.9v0.9h-0.9zM216.9 61.5h0.9v0.9h-0.9zM230.1 67.8h0.9v0.9h-0.9zM242.4 60.0h0.9v0.9h-0.9zM229.9 59.7h0.9v0.9h-0.9zM237.1 53.9h0.9v0.9h-0.9zM227.3 51.0h0.9v0.9h-0.9zM225.5 57.2h0.9v0.9h-0.9zM221.3 53.2h0.9v0.9h-0.9zM239.0 53.8h0.9v0.9h-0.9zM231.3 60.8h0.9v0.9h-0.9zM243.1 55.6h0.9v0.9h-0.9zM223.5 47.0h0.9v0.9h-0.9zM230.1 55.1h0.9v0.9h-0.9zM232.3 51.8h0.9v0.9h-0.9zM241.6 54.6h0.9v0.9h-0.9zM244.4 49.8h0.9v0.9h-0.9zM227.1 63.6h0.9v0.9h-0.9zM223.7 67.8h0.9v0.9h-0.9zM219.5 49.7h0.9v0.9h-0.9zM241.0 60.3h0.9v0.9h-0.9zM231.0 60.0h0.9v0.9h-0.9zM227.1 49.9h0.9v0.9h-0.9zM231.3 57.0h0.9v0.9h-0.9zM213.7 64.9h0.9v0.9h-0.9zM219.6 61.5h0.9v0.9h-0.9zM238.2 66.1h0.9v0.9h-0.9zM234.4 49.4h0.9v0.9h-0.9zM232.7 51.9h0.9v0.9h-0.9zM224.6 58.1h0.9v0.9h-0.9zM235.7 58.5h0.9v0.9h-0.9zM244.1 56.5h0.9v0.9h-0.9zM223.1 54.0h0.9v0.9h-0.9zM231.7 53.9h0.9v0.9h-0.9zM228.6 52.7h0.9v0.9h-0.9zM234.2 59.0h0.9v0.9h-0.9zM231.7 39.8h0.9v0.9h-0.9zM230.6 65.9h0.9v0.9h-0.9zM225.4 53.1h0.9v0.9h-0.9zM231.5 47.7h0.9v0.9h-0.9zM227.3 59.6h0.9v0.9h-0.9zM230.6 47.9h0.9v0.9h-0.9zM231.2 58.6h0.9v0.9h-0.9zM236.2 53.9h0.9v0.9h-0.9zM227.5 59.8h0.9v0.9h-0.9zM229.4 61.0h0.9v0.9h-0.9zM239.1 64.0h0.9v0.9h-0.9zM230.1 53.3h0.9v0.9h-0.9zM229.8 54.5h0.9v0.9h-0.9zM237.7 56.2h0.9v0.9h-0.9zM233.5 47.8h0.9v0.9h-0.9zM232.3 59.8h0.9v0.9h-0.9zM233.2 57.0h0.9v0.9h-0.9zM222.9 48.2h0.9v0.9h-0.9zM234.9 63.5h0.9v0.9h-0.9zM240.9 64.4h0.9v0.9h-0.9zM235.7 48.3h0.9v0.9h-0.9zM220.8 59.7h0.9v0.9h-0.9zM233.6 63.7h0.9v0.9h-0.9zM225.3 61.3h0.9v0.9h-0.9zM230.1 50.3h0.9v0.9h-0.9zM232.6 47.8h0.9v0.9h-0.9zM223.3 55.5h0.9v0.9h-0.9zM241.0 53.2h0.9v0.9h-0.9zM231.2 56.2h0.9v0.9h-0.9zM237.3 55.6h0.9v0.9h-0.9zM236.2 59.4h0.9v0.9h-0.9zM241.1 52.8h0.9v0.9h-0.9zM240.1 55.2h0.9v0.9h-0.9zM232.0 55.4h0.9v0.9h-0.9zM216.8 60.6h0.9v0.9h-0.9zM228.6 57.9h0.9v0.9h-0.9zM236.7 57.5h0.9v0.9h-0.9zM238.1 50.7h0.9v0.9h-0.9zM240.8 59.3h0.9v0.9h-0.9zM229.1 55.9h0.9v0.9h-0.9zM234.0 61.1h0.9v0.9h-0.9zM232.4 68.5h0.9v0.9h-0.9zM240.6 57.3h0.9v0.9h-0.9zM242.9 60.7h0.9v0.9h-0.9zM229.3 50.0h0.9v0.9h-0.9zM258.3 56.8h0.9v0.9h-0.9zM231.7 65.5h0.9v0.9h-0.9zM229.2 55.8h0.9v0.9h-0.9zM236.0 52.3h0.9v0.9h-0.9zM237.1 57.4h0.9v0.9h-0.9zM235.6 55.0h0.9v0.9h-0.9zM227.2 54.7h0.9v0.9h-0.9zM242.1 53.9h0.9v0.9h-0.9zM232.2 68.1h0.9v0.9h-0.9zM242.6 50.9h0.9v0.9h-0.9zM241.6 53.7h0.9v0.9h-0.9zM222.9 52.7h0.9v0.9h-0.9zM225.0 63.6h0.9v0.9h-0.9zM224.8 54.5h0.9v0.9h-0.9zM233.6 64.0h0.9v0.9h-0.9zM232.2 57.1h0.9v0.9h-0.9zM233.7 56.0h0.9v0.9h-0.9zM226.2 47.4h0.9v0.9h-0.9zM234.9 63.4h0.9v0.9h-0.9zM241.7 59.4h0.9v0.9h-0.9zM222.5 58.6h0.9v0.9h-0.9zM230.5 55.4h0.9v0.9h-0.9zM233.6 53.6h0.9v0.9h-0.9zM231.0 48.5h0.9v0.9h-0.9zM230.5 61.8h0.9v0.9h-0.9zM244.3 57.7h0.9v0.9h-0.9zM240.9 54.0h0.9v0.9h-0.9zM237.8 52.3h0.9v0.9h-0.9zM226.6 56.8h0.9v0.9h-0.9zM247.6 55.6h0.9v0.9h-0.9zM234.4 66.0h0.9v0.9h-0.9zM227.8 60.8h0.9v0.9h-0.9zM229.5 52.6h0.9v0.9h-0.9zM228.5 49.5h0.9v0.9h-0.9zM246.7 54.7h0.9v0.9h-0.9zM233.3 50.7h0.9v0.9h-0.9zM232.3 56.6h0.9v0.9h-0.9zM216.8 58.6h0.9v0.9h-0.9zM237.1 60.0h0.9v0.9h-0.9zM224.5 58.6h0.9v0.9h-0.9zM224.0 55.0h0.9v0.9h-0.9zM236.2 59.7h0.9v0.9h-0.9zM225.9 50.8h0.9v0.9h-0.9zM237.8 55.7h0.9v0.9h-0.9zM239.8 61.0h0.9v0.9h-0.9zM219.4 57.9h0.9v0.9h-0.9zM231.0 48.5h0.9v0.9h-0.9zM220.9 49.2h0.9v0.9h-0.9zM231.5 46.5h0.9v0.9h-0.9zM238.3 67.0h0.9v0.9h-0.9zM222.4 46.9h0.9v0.9h-0.9zM244.5 55.4h0.9v0.9h-0.9zM229.7 67.2h0.9v0.9h-0.9zM223.6 62.6h0.9v0.9h-0.9zM231.0 64.1h0.9v0.9h-0.9zM237.4 53.2h0.9v0.9h-0.9zM222.2 60.6h0.9v0.9h-0.9zM222.3 56.0h0.9v0.9h-0.9zM240.3 58.7h0.9v0.9h-0.9zM233.0 54.3h0.9v0.9h-0.9zM228.9 56.1h0.9v0.9h-0.9zM239.1 58.4h0.9v0.9h-0.9zM222.9 64.5h0.9v0.9h-0.9zM229.1 50.8h0.9v0.9h-0.9zM244.8 47.6h0.9v0.9h-0.9zM231.0 56.4h0.9v0.9h-0.9zM241.4 57.4h0.9v0.9h-0.9zM233.2 64.7h0.9v0.9h-0.9zM227.0 60.5h0.9v0.9h-0.9zM230.1 52.5h0.9v0.9h-0.9zM232.4 59.6h0.9v0.9h-0.9zM229.0 62.9h0.9v0.9h-0.9zM226.1 57.9h0.9v0.9h-0.9zM226.4 54.2h0.9v0.9h-0.9zM221.5 60.3h0.9v0.9h-0.9zM232.6 54.1h0.9v0.9h-0.9zM234.6 45.0h0.9v0.9h-0.9zM237.1 64.2h0.9v0.9h-0.9zM219.2 48.5h0.9v0.9h-0.9zM237.5 54.2h0.9v0.9h-0.9zM231.7 54.3h0.9v0.9h-0.9zM221.8 54.2h0.9v0.9h-0.9zM232.5 54.5h0.9v0.9h-0.9zM237.5 47.6h0.9v0.9h-0.9zM235.5 59.3h0.9v0.9h-0.9zM236.9 56.3h0.9v0.9h-0.9zM238.5 56.4h0.9v0.9h-0.9zM238.1 62.6h0.9v0.9h-0.9zM231.6 62.8h0.9v0.9h-0.9zM217.3 64.2h0.9v0.9h-0.9zM226.5 67.3h0.9v0.9h-0.9zM234.3 58.9h0.9v0.9h-0.9zM228.6 46.9h0.9v0.9h-0.9zM236.7 57.4h0.9v0.9h-0.9zM237.4 56.2h0.9v0.9h-0.9zM232.2 56.6h0.9v0.9h-0.9zM245.0 52.6h0.9v0.9h-0.9zM225.0 50.8h0.9v0.9h-0.9zM238.4 60.9h0.9v0.9h-0.9zM228.6 62.0h0.9v0.9h-0.9zM226.4 49.5h0.9v0.9h-0.9zM236.0 59.4h0.9v0.9h-0.9zM227.6 55.2h0.9v0.9h-0.9zM237.9 53.8h0.9v0.9h-0.9zM223.7 60.3h0.9v0.9h-0.9zM232.1 55.9h0.9v0.9h-0.9zM226.0 52.8h0.9v0.9h-0.9zM230.2 56.5h0.9v0.9h-0.9zM229.3 44.2h0.9v0.9h-0.9zM224.0 52.6h0.9v0.9h-0.9zM236.5 53.5h0.9v0.9h-0.9zM223.2 47.8h0.9v0.9h-0.9zM225.0 57.2h0.9v0.9h-0.9zM238.1 57.7h0.9v0.9h-0.9zM238.7 52.5h0.9v0.9h-0.9zM236.5 55.1h0.9v0.9h-0.9zM234.3 60.1h0.9v0.9h-0.9zM247.8 62.5h0.9v0.9h-0.9zM223.4 51.5h0.9v0.9h-0.9zM226.7 58.1h0.9v0.9h-0.9zM224.9 62.3h0.9v0.9h-0.9zM238.2 55.9h0.9v0.9h-0.9zM233.9 51.4h0.9v0.9h-0.9zM239.7 51.5h0.9v0.9h-0.9zM238.7 54.1h0.9v0.9h-0.9zM230.3 49.9h0.9v0.9h-0.9zM226.2 68.1h0.9v0.9h-0.9zM224.9 52.6h0.9v0.9h-0.9zM247.4 58.3h0.9v0.9h-0.9zM238.7 57.1h0.9v0.9h-0.9zM236.0 59.8h0.9v0.9h-0.9zM229.5 53.7h0.9v0.9h-0.9zM230.5 48.2h0.9v0.9h-0.9zM229.5 65.8h0.9v0.9h-0.9zM229.6 55.5h0.9v0.9h-0.9zM215.1 56.7h0.9v0.9h-0.9zM231.5 57.2h0.9v0.9h-0.9zM229.2 63.6h0.9v0.9h-0.9zM233.9 60.6h0.9v0.9h-0.9zM233.4 63.0h0.9v0.9h-0.9zM237.9 60.9h0.9v0.9h-0.9zM231.8 56.9h0.9v0.9h-0.9zM237.5 57.5h0.9v0.9h-0.9zM214.0 51.5h0.9v0.9h-0.9zM224.2 44.4h0.9v0.9h-0.9zM244.0 54.6h0.9v0.9h-0.9zM223.4 49.6h0.9v0.9h-0.9zM229.9 71.5h0.9v0.9h-0.9zM236.8 65.4h0.9v0.9h-0.9zM225.7 63.0h0.9v0.9h-0.9zM237.0 52.7h0.9v0.9h-0.9zM221.9 68.4h0.9v0.9h-0.9zM218.5 45.8h0.9v0.9h-0.9zM222.6 48.8h0.9v0.9h-0.9zM220.3 51.3h0.9v0.9h-0.9zM231.8 50.3h0.9v0.9h-0.9zM229.7 56.8h0.9v0.9h-0.9zM234.2 57.2h0.9v0.9h-0.9zM224.7 67.5h0.9v0.9h-0.9zM249.7 62.0h0.9v0.9h-0.9zM231.2 63.3h0.9v0.9h-0.9zM231.6 58.5h0.9v0.9h-0.9zM235.1 55.1h0.9v0.9h-0.9zM230.2 51.9h0.9v0.9h-0.9zM227.5 47.0h0.9v0.9h-0.9zM232.5 50.8h0.9v0.9h-0.9zM238.3 53.7h0.9v0.9h-0.9zM236.6 60.6h0.9v0.9h-0.9zM238.5 45.9h0.9v0.9h-0.9zM228.0 47.8h0.9v0.9h-0.9zM226.5 57.3h0.9v0.9h-0.9zM245.9 49.7h0.9v0.9h-0.9zM230.2 58.0h0.9v0.9h-0.9zM235.3 53.5h0.9v0.9h-0.9zM237.1 51.5h0.9v0.9h-0.9zM241.9 48.0h0.9v0.9h-0.9zM222.5 55.4h0.9v0.9h-0.9zM228.6 51.6h0.9v0.9h-0.9zM228.9 52.3h0.9v0.9h-0.9zM229.8 52.2h0.9v0.9h-0.9zM215.0 57.1h0.9v0.9h-0.9zM231.2 56.9h0.9v0.9h-0.9zM234.0 55.0h0.9v0.9h-0.9zM235.7 58.4h0.9v0.9h-0.9zM236.1 62.2h0.9v0.9h-0.9zM223.5 60.7h0.9v0.9h-0.9zM238.6 57.3h0.9v0.9h-0.9zM225.9 49.1h0.9v0.9h-0.9zM223.3 51.4h0.9v0.9h-0.9zM225.1 61.5h0.9v0.9h-0.9zM226.0 51.8h0.9v0.9h-0.9zM233.1 62.2h0.9v0.9h-0.9zM237.7 63.6h0.9v0.9h-0.9zM217.2 49.6h0.9v0.9h-0.9zM228.2 58.6h0.9v0.9h-0.9zM238.3 55.3h0.9v0.9h-0.9zM233.4 68.2h0.9v0.9h-0.9zM235.5 61.0h0.9v0.9h-0.9zM221.5 52.9h0.9v0.9h-0.9zM238.6 58.4h0.9v0.9h-0.9zM221.0 50.5h0.9v0.9h-0.9zM233.3 55.1h0.9v0.9h-0.9zM241.5 57.2h0.9v0.9h-0.9zM245.2 56.9h0.9v0.9h-0.9zM235.6 57.8h0.9v0.9h-0.9zM238.2 50.6h0.9v0.9h-0.9zM227.8 44.9h0.9v0.9h-0.9zM228.6 53.8h0.9v0.9h-0.9zM240.2 50.6h0.9v0.9h-0.9zM232.0 51.8h0.9v0.9h-0.9zM231.1 68.8h0.9v0.9h-0.9zM222.1 63.0h0.9v0.9h-0.9zM233.1 55.0h0.9v0.9h-0.9zM236.5 47.4h0.9v0.9h-0.9zM226.4 48.2h0.9v0.9h-0.9zM228.5 58.2h0.9v0.9h-0.9zM243.1 62.4h0.9v0.9h-0.9zM233.2 54.3h0.9v0.9h-0.9zM230.0 56.8h0.9v0.9h-0.9zM224.0 57.5h0.9v0.9h-0.9zM227.7 62.4h0.9v0.9h-0.9zM230.3 44.7h0.9v0.9h-0.9zM241.6 56.9h0.9v0.9h-0.9zM227.7 58.4h0.9v0.9h-0.9zM244.6 61.7h0.9v0.9h-0.9zM225.5 58.4h0.9v0.9h-0.9zM229.5 49.4h0.9v0.9h-0.9zM237.9 52.5h0.9v0.9h-0.9zM230.3 46.9h0.9v0.9h-0.9zM226.2 57.2h0.9v0.9h-0.9zM231.1 57.2h0.9v0.9h-0.9zM235.1 59.1h0.9v0.9h-0.9zM220.0 50.2h0.9v0.9h-0.9zM230.3 49.2h0.9v0.9h-0.9zM231.2 65.2h0.9v0.9h-0.9zM229.2 57.1h0.9v0.9h-0.9zM237.1 66.5h0.9v0.9h-0.9zM228.0 58.6h0.9v0.9h-0.9z" fill="#3a46aa" fill-opacity="0.44999999999999996"/>
<path d="M223.0 117.2h0.9v0.9h-0.9zM240.0 101.7h0.9v0.9h-0.9zM243.3 102.2h0.9v0.9h-0.9zM230.6 121.4h0.9v0.9h-0.9zM219.6 105.3h0.9v0.9h-0.9zM239.0 106.6h0.9v0.9h-0.9zM232.9 114.2h0.9v0.9h-0.9zM236.1 105.1h0.9v0.9h-0.9zM213.9 108.1h0.9v0.9h-0.9zM237.4 109.3h0.9v0.9h-0.9zM213.4 115.7h0.9v0.9h-0.9zM227.5 99.1h0.9v0.9h-0.9zM240.6 103.4h0.9v0.9h-0.9zM220.3 107.3h0.9v0.9h-0.9zM220.0 113.0h0.9v0.9h-0.9zM230.6 104.5h0.9v0.9h-0.9zM246.3 110.5h0.9v0.9h-0.9zM246.1 105.2h0.9v0.9h-0.9zM229.4 105.8h0.9v0.9h-0.9zM241.5 115.0h0.9v0.9h-0.9zM238.3 106.7h0.9v0.9h-0.9zM236.0 124.3h0.9v0.9h-0.9zM236.7 110.0h0.9v0.9h-0.9zM228.6 114.2h0.9v0.9h-0.9zM240.0 112.1h0.9v0.9h-0.9zM241.9 99.4h0.9v0.9h-0.9zM254.2 99.5h0.9v0.9h-0.9zM240.9 110.7h0.9v0.9h-0.9zM215.6 101.9h0.9v0.9h-0.9zM224.9 105.0h0.9v0.9h-0.9zM236.5 106.1h0.9v0.9h-0.9zM234.5 103.0h0.9v0.9h-0.9zM220.0 114.5h0.9v0.9h-0.9zM232.9 112.3h0.9v0.9h-0.9zM231.3 109.0h0.9v0.9h-0.9zM233.6 111.1h0.9v0.9h-0.9zM233.0 103.0h0.9v0.9h-0.9zM240.9 112.8h0.9v0.9h-0.9zM244.9 103.3h0.9v0.9h-0.9zM239.1 116.6h0.9v0.9h-0.9zM225.6 104.3h0.9v0.9h-0.9zM227.5 104.9h0.9v0.9h-0.9zM229.0 114.4h0.9v0.9h-0.9zM233.5 111.6h0.9v0.9h-0.9zM230.8 102.7h0.9v0.9h-0.9zM231.3 111.3h0.9v0.9h-0.9zM227.0 108.0h0.9v0.9h-0.9zM241.1 108.1h0.9v0.9h-0.9zM240.4 111.4h0.9v0.9h-0.9zM241.1 111.4h0.9v0.9h-0.9zM233.4 113.6h0.9v0.9h-0.9zM237.4 110.7h0.9v0.9h-0.9zM227.1 109.8h0.9v0.9h-0.9zM226.4 107.5h0.9v0.9h-0.9zM229.9 116.2h0.9v0.9h-0.9zM238.4 103.7h0.9v0.9h-0.9zM232.9 118.5h0.9v0.9h-0.9zM225.4 120.0h0.9v0.9h-0.9zM234.7 120.0h0.9v0.9h-0.9zM237.1 107.3h0.9v0.9h-0.9zM235.2 119.6h0.9v0.9h-0.9zM229.0 114.3h0.9v0.9h-0.9zM234.5 113.9h0.9v0.9h-0.9zM230.8 126.2h0.9v0.9h-0.9zM231.5 109.1h0.9v0.9h-0.9zM233.3 111.2h0.9v0.9h-0.9zM239.6 101.1h0.9v0.9h-0.9zM247.7 95.8h0.9v0.9h-0.9zM245.7 109.6h0.9v0.9h-0.9zM238.7 110.4h0.9v0.9h-0.9zM231.0 111.9h0.9v0.9h-0.9zM231.7 109.7h0.9v0.9h-0.9zM232.0 97.1h0.9v0.9h-0.9zM242.6 110.1h0.9v0.9h-0.9zM213.3 114.2h0.9v0.9h-0.9zM235.9 116.7h0.9v0.9h-0.9zM219.1 102.8h0.9v0.9h-0.9zM234.0 103.1h0.9v0.9h-0.9zM243.9 104.2h0.9v0.9h-0.9zM227.2 104.5h0.9v0.9h-0.9zM216.9 99.1h0.9v0.9h-0.9zM243.7 104.3h0.9v0.9h-0.9zM245.3 116.7h0.9v0.9h-0.9zM237.7 102.2h0.9v0.9h-0.9zM243.4 97.7h0.9v0.9h-0.9zM228.0 106.5h0.9v0.9h-0.9zM242.8 105.2h0.9v0.9h-0.9zM246.8 111.7h0.9v0.9h-0.9zM238.8 103.9h0.9v0.9h-0.9zM236.1 107.0h0.9v0.9h-0.9zM243.6 103.4h0.9v0.9h-0.9zM242.5 102.6h0.9v0.9h-0.9zM228.4 110.0h0.9v0.9h-0.9zM244.2 108.7h0.9v0.9h-0.9zM239.6 107.7h0.9v0.9h-0.9zM235.2 110.8h0.9v0.9h-0.9zM243.8 103.4h0.9v0.9h-0.9zM240.9 108.1h0.9v0.9h-0.9zM239.6 109.1h0.9v0.9h-0.9zM230.2 114.5h0.9v0.9h-0.9zM240.3 97.6h0.9v0.9h-0.9zM225.7 106.0h0.9v0.9h-0.9zM233.1 110.4h0.9v0.9h-0.9zM221.3 104.8h0.9v0.9h-0.9zM221.2 108.5h0.9v0.9h-0.9zM237.3 111.8h0.9v0.9h-0.9zM233.4 110.6h0.9v0.9h-0.9zM234.6 98.5h0.9v0.9h-0.9zM238.4 101.3h0.9v0.9h-0.9zM236.6 92.4h0.9v0.9h-0.9zM227.4 111.6h0.9v0.9h-0.9zM234.6 109.1h0.9v0.9h-0.9zM233.5 115.4h0.9v0.9h-0.9zM230.1 108.3h0.9v0.9h-0.9zM233.1 101.7h0.9v0.9h-0.9zM231.3 113.9h0.9v0.9h-0.9zM229.1 100.7h0.9v0.9h-0.9zM231.5 107.9h0.9v0.9h-0.9zM235.8 106.8h0.9v0.9h-0.9zM249.5 112.2h0.9v0.9h-0.9zM227.9 113.0h0.9v0.9h-0.9zM237.9 105.6h0.9v0.9h-0.9zM223.0 103.9h0.9v0.9h-0.9zM245.9 107.7h0.9v0.9h-0.9zM231.5 104.8h0.9v0.9h-0.9zM235.0 113.2h0.9v0.9h-0.9zM243.6 110.1h0.9v0.9h-0.9zM241.4 115.7h0.9v0.9h-0.9zM222.8 122.4h0.9v0.9h-0.9zM238.2 103.2h0.9v0.9h-0.9zM232.3 104.6h0.9v0.9h-0.9zM238.6 110.6h0.9v0.9h-0.9zM235.1 110.2h0.9v0.9h-0.9zM239.5 106.1h0.9v0.9h-0.9zM236.2 98.5h0.9v0.9h-0.9zM233.0 122.0h0.9v0.9h-0.9zM242.8 108.4h0.9v0.9h-0.9zM222.4 101.5h0.9v0.9h-0.9zM230.8 94.7h0.9v0.9h-0.9zM226.8 115.7h0.9v0.9h-0.9zM232.9 109.8h0.9v0.9h-0.9zM230.8 108.0h0.9v0.9h-0.9zM232.9 102.2h0.9v0.9h-0.9zM230.3 107.4h0.9v0.9h-0.9zM230.5 105.8h0.9v0.9h-0.9zM221.7 94.2h0.9v0.9h-0.9zM233.7 122.8h0.9v0.9h-0.9zM236.3 110.4h0.9v0.9h-0.9zM229.5 106.1h0.9v0.9h-0.9zM229.1 102.6h0.9v0.9h-0.9zM229.2 104.6h0.9v0.9h-0.9zM246.6 121.4h0.9v0.9h-0.9zM235.4 110.1h0.9v0.9h-0.9zM236.9 100.6h0.9v0.9h-0.9zM231.7 112.9h0.9v0.9h-0.9zM230.3 110.7h0.9v0.9h-0.9zM227.4 110.9h0.9v0.9h-0.9zM245.6 107.2h0.9v0.9h-0.9zM221.2 107.0h0.9v0.9h-0.9zM236.2 109.1h0.9v0.9h-0.9zM233.8 106.8h0.9v0.9h-0.9zM232.1 100.1h0.9v0.9h-0.9zM222.3 102.4h0.9v0.9h-0.9zM224.7 108.0h0.9v0.9h-0.9zM241.4 99.1h0.9v0.9h-0.9zM228.8 107.2h0.9v0.9h-0.9zM240.6 106.2h0.9v0.9h-0.9zM239.0 112.0h0.9v0.9h-0.9zM238.3 108.8h0.9v0.9h-0.9zM239.7 106.3h0.9v0.9h-0.9zM224.9 106.3h0.9v0.9h-0.9zM230.4 110.3h0.9v0.9h-0.9zM239.1 113.1h0.9v0.9h-0.9zM224.5 102.0h0.9v0.9h-0.9zM246.5 99.4h0.9v0.9h-0.9zM229.8 103.8h0.9v0.9h-0.9zM233.5 95.1h0.9v0.9h-0.9zM226.3 103.6h0.9v0.9h-0.9zM236.7 112.6h0.9v0.9h-0.9zM228.5 113.4h0.9v0.9h-0.9zM232.2 116.5h0.9v0.9h-0.9zM225.5 108.3h0.9v0.9h-0.9zM242.9 108.8h0.9v0.9h-0.9zM221.8 104.7h0.9v0.9h-0.9zM237.4 105.0h0.9v0.9h-0.9zM235.8 109.5h0.9v0.9h-0.9zM237.3 113.0h0.9v0.9h-0.9zM226.3 110.3h0.9v0.9h-0.9zM241.8 96.7h0.9v0.9h-0.9zM241.2 110.7h0.9v0.9h-0.9zM235.2 107.9h0.9v0.9h-0.9zM236.3 104.6h0.9v0.9h-0.9zM232.8 108.7h0.9v0.9h-0.9zM238.8 112.9h0.9v0.9h-0.9zM227.8 108.7h0.9v0.9h-0.9zM238.2 103.9h0.9v0.9h-0.9zM237.0 126.5h0.9v0.9h-0.9zM223.4 104.4h0.9v0.9h-0.9zM214.3 110.5h0.9v0.9h-0.9zM233.1 114.9h0.9v0.9h-0.9zM232.8 103.1h0.9v0.9h-0.9zM243.1 111.0h0.9v0.9h-0.9zM234.4 103.2h0.9v0.9h-0.9zM230.3 106.4h0.9v0.9h-0.9zM223.8 103.7h0.9v0.9h-0.9zM233.3 117.7h0.9v0.9h-0.9zM229.6 100.3h0.9v0.9h-0.9zM225.7 110.8h0.9v0.9h-0.9zM233.1 108.1h0.9v0.9h-0.9zM241.9 96.9h0.9v0.9h-0.9zM234.7 117.5h0.9v0.9h-0.9zM226.1 104.7h0.9v0.9h-0.9zM236.5 106.4h0.9v0.9h-0.9zM225.8 109.1h0.9v0.9h-0.9zM222.2 102.9h0.9v0.9h-0.9zM237.7 103.6h0.9v0.9h-0.9zM229.9 107.7h0.9v0.9h-0.9zM242.4 103.0h0.9v0.9h-0.9zM236.3 108.4h0.9v0.9h-0.9zM228.0 114.9h0.9v0.9h-0.9zM235.6 102.3h0.9v0.9h-0.9zM243.7 99.1h0.9v0.9h-0.9zM232.6 107.2h0.9v0.9h-0.9zM226.0 110.1h0.9v0.9h-0.9zM229.0 111.6h0.9v0.9h-0.9zM227.9 101.8h0.9v0.9h-0.9zM225.1 94.8h0.9v0.9h-0.9zM224.3 112.8h0.9v0.9h-0.9zM237.2 111.8h0.9v0.9h-0.9zM242.3 116.3h0.9v0.9h-0.9zM231.3 102.5h0.9v0.9h-0.9zM239.9 111.0h0.9v0.9h-0.9zM240.8 113.5h0.9v0.9h-0.9zM246.6 97.7h0.9v0.9h-0.9zM232.6 113.7h0.9v0.9h-0.9zM231.4 115.8h0.9v0.9h-0.9zM237.2 111.1h0.9v0.9h-0.9zM234.7 110.9h0.9v0.9h-0.9zM236.3 112.0h0.9v0.9h-0.9zM243.7 106.4h0.9v0.9h-0.9zM230.8 99.9h0.9v0.9h-0.9zM235.6 102.8h0.9v0.9h-0.9zM226.6 106.9h0.9v0.9h-0.9zM232.8 103.2h0.9v0.9h-0.9zM229.0 113.5h0.9v0.9h-0.9zM228.3 105.6h0.9v0.9h-0.9zM232.4 107.3h0.9v0.9h-0.9zM230.7 98.1h0.9v0.9h-0.9zM236.8 110.1h0.9v0.9h-0.9zM240.0 104.0h0.9v0.9h-0.9zM222.8 116.2h0.9v0.9h-0.9zM241.5 98.4h0.9v0.9h-0.9zM217.3 109.7h0.9v0.9h-0.9zM235.9 105.6h0.9v0.9h-0.9zM239.3 105.9h0.9v0.9h-0.9zM229.1 117.3h0.9v0.9h-0.9zM232.3 113.2h0.9v0.9h-0.9zM228.1 103.2h0.9v0.9h-0.9zM240.7 115.6h0.9v0.9h-0.9zM226.7 112.3h0.9v0.9h-0.9zM219.5 98.3h0.9v0.9h-0.9zM235.4 106.1h0.9v0.9h-0.9zM243.7 106.3h0.9v0.9h-0.9zM242.9 106.1h0.9v0.9h-0.9zM239.0 99.1h0.9v0.9h-0.9zM235.9 97.4h0.9v0.9h-0.9zM228.3 107.8h0.9v0.9h-0.9zM243.1 111.2h0.9v0.9h-0.9zM238.7 108.1h0.9v0.9h-0.9zM227.7 106.0h0.9v0.9h-0.9zM224.4 99.6h0.9v0.9h-0.9zM229.3 106.4h0.9v0.9h-0.9zM242.1 104.8h0.9v0.9h-0.9zM243.4 103.9h0.9v0.9h-0.9zM246.1 108.9h0.9v0.9h-0.9zM228.2 108.8h0.9v0.9h-0.9zM231.3 110.1h0.9v0.9h-0.9zM244.4 106.5h0.9v0.9h-0.9zM235.7 103.3h0.9v0.9h-0.9zM239.7 106.8h0.9v0.9h-0.9zM224.1 106.2h0.9v0.9h-0.9zM231.2 98.8h0.9v0.9h-0.9zM233.9 106.0h0.9v0.9h-0.9zM231.3 98.7h0.9v0.9h-0.9zM230.9 97.0h0.9v0.9h-0.9zM221.8 103.3h0.9v0.9h-0.9zM246.2 104.3h0.9v0.9h-0.9zM235.1 111.7h0.9v0.9h-0.9zM223.1 106.2h0.9v0.9h-0.9zM242.1 110.8h0.9v0.9h-0.9zM234.5 115.8h0.9v0.9h-0.9zM239.4 108.5h0.9v0.9h-0.9zM232.6 110.0h0.9v0.9h-0.9zM228.2 104.1h0.9v0.9h-0.9zM228.4 112.4h0.9v0.9h-0.9zM236.7 108.2h0.9v0.9h-0.9zM239.9 108.2h0.9v0.9h-0.9zM237.8 101.7h0.9v0.9h-0.9zM239.0 102.7h0.9v0.9h-0.9zM243.1 104.2h0.9v0.9h-0.9zM236.3 108.4h0.9v0.9h-0.9zM241.7 113.9h0.9v0.9h-0.9zM242.5 99.5h0.9v0.9h-0.9zM236.4 105.8h0.9v0.9h-0.9zM233.6 106.2h0.9v0.9h-0.9zM230.9 120.4h0.9v0.9h-0.9zM225.2 106.8h0.9v0.9h-0.9zM222.6 104.9h0.9v0.9h-0.9zM244.1 111.9h0.9v0.9h-0.9zM234.2 101.7h0.9v0.9h-0.9zM230.2 110.8h0.9v0.9h-0.9zM246.1 98.6h0.9v0.9h-0.9zM241.6 119.0h0.9v0.9h-0.9zM234.7 107.6h0.9v0.9h-0.9zM241.8 105.5h0.9v0.9h-0.9zM232.9 100.6h0.9v0.9h-0.9zM237.0 107.0h0.9v0.9h-0.9zM248.0 108.3h0.9v0.9h-0.9zM242.3 103.8h0.9v0.9h-0.9zM232.3 114.4h0.9v0.9h-0.9zM239.6 106.0h0.9v0.9h-0.9zM243.3 108.4h0.9v0.9h-0.9zM233.5 109.4h0.9v0.9h-0.9zM231.3 115.3h0.9v0.9h-0.9zM248.5 105.7h0.9v0.9h-0.9zM232.2 108.2h0.9v0.9h-0.9zM224.6 109.5h0.9v0.9h-0.9zM235.6 111.2h0.9v0.9h-0.9zM251.7 97.8h0.9v0.9h-0.9zM239.3 114.2h0.9v0.9h-0.9zM241.8 107.2h0.9v0.9h-0.9zM218.4 103.9h0.9v0.9h-0.9zM230.6 107.7h0.9v0.9h-0.9zM243.8 97.3h0.9v0.9h-0.9zM231.8 103.7h0.9v0.9h-0.9zM244.7 108.9h0.9v0.9h-0.9zM238.5 115.4h0.9v0.9h-0.9zM237.9 107.4h0.9v0.9h-0.9zM247.5 110.1h0.9v0.9h-0.9zM231.2 106.3h0.9v0.9h-0.9zM231.5 112.6h0.9v0.9h-0.9zM235.8 105.7h0.9v0.9h-0.9zM236.6 110.4h0.9v0.9h-0.9zM222.3 106.1h0.9v0.9h-0.9zM244.2 102.6h0.9v0.9h-0.9zM236.7 102.4h0.9v0.9h-0.9zM233.8 104.4h0.9v0.9h-0.9zM239.7 114.3h0.9v0.9h-0.9zM232.0 125.5h0.9v0.9h-0.9zM244.1 106.8h0.9v0.9h-0.9zM235.5 103.9h0.9v0.9h-0.9zM240.4 110.9h0.9v0.9h-0.9zM228.4 110.6h0.9v0.9h-0.9zM232.9 105.0h0.9v0.9h-0.9zM237.8 118.5h0.9v0.9h-0.9zM227.9 112.8h0.9v0.9h-0.9zM230.1 113.1h0.9v0.9h-0.9zM234.6 108.3h0.9v0.9h-0.9zM243.3 108.7h0.9v0.9h-0.9zM240.7 113.3h0.9v0.9h-0.9zM241.8 100.3h0.9v0.9h-0.9zM237.2 103.5h0.9v0.9h-0.9zM241.7 108.5h0.9v0.9h-0.9zM246.5 99.9h0.9v0.9h-0.9zM236.2 117.0h0.9v0.9h-0.9zM238.2 104.6h0.9v0.9h-0.9zM239.3 105.6h0.9v0.9h-0.9zM219.9 109.8h0.9v0.9h-0.9zM234.2 116.3h0.9v0.9h-0.9zM238.1 107.8h0.9v0.9h-0.9zM240.6 103.8h0.9v0.9h-0.9zM232.5 102.9h0.9v0.9h-0.9zM242.2 109.3h0.9v0.9h-0.9zM230.1 104.8h0.9v0.9h-0.9zM233.6 121.1h0.9v0.9h-0.9zM247.5 114.9h0.9v0.9h-0.9zM224.7 90.6h0.9v0.9h-0.9zM234.3 102.9h0.9v0.9h-0.9zM233.7 109.9h0.9v0.9h-0.9zM234.1 120.7h0.9v0.9h-0.9zM230.8 96.9h0.9v0.9h-0.9zM239.7 105.6h0.9v0.9h-0.9zM226.8 114.6h0.9v0.9h-0.9zM224.9 104.2h0.9v0.9h-0.9zM238.3 108.4h0.9v0.9h-0.9zM225.8 105.2h0.9v0.9h-0.9zM237.5 111.7h0.9v0.9h-0.9zM234.9 102.0h0.9v0.9h-0.9zM229.5 108.1h0.9v0.9h-0.9zM232.1 100.0h0.9v0.9h-0.9zM233.9 113.4h0.9v0.9h-0.9zM238.0 111.3h0.9v0.9h-0.9zM229.9 107.8h0.9v0.9h-0.9zM233.0 108.2h0.9v0.9h-0.9zM223.9 108.2h0.9v0.9h-0.9zM232.5 106.0h0.9v0.9h-0.9zM220.2 108.9h0.9v0.9h-0.9zM234.2 110.0h0.9v0.9h-0.9zM231.1 107.6h0.9v0.9h-0.9zM250.2 104.7h0.9v0.9h-0.9zM244.1 105.8h0.9v0.9h-0.9zM233.3 105.5h0.9v0.9h-0.9zM241.5 110.5h0.9v0.9h-0.9zM236.5 108.8h0.9v0.9h-0.9zM225.8 118.9h0.9v0.9h-0.9zM216.2 107.0h0.9v0.9h-0.9zM242.7 108.4h0.9v0.9h-0.9zM237.3 104.5h0.9v0.9h-0.9zM219.7 108.6h0.9v0.9h-0.9zM239.1 105.6h0.9v0.9h-0.9zM241.2 103.3h0.9v0.9h-0.9zM229.2 108.9h0.9v0.9h-0.9zM240.2 116.8h0.9v0.9h-0.9zM221.4 103.2h0.9v0.9h-0.9zM232.6 104.4h0.9v0.9h-0.9zM234.5 107.8h0.9v0.9h-0.9zM240.1 109.4h0.9v0.9h-0.9zM237.2 115.2h0.9v0.9h-0.9zM235.9 104.4h0.9v0.9h-0.9zM238.4 107.2h0.9v0.9h-0.9zM229.3 103.6h0.9v0.9h-0.9zM245.3 103.2h0.9v0.9h-0.9zM231.7 105.4h0.9v0.9h-0.9zM240.2 101.8h0.9v0.9h-0.9zM234.2 110.4h0.9v0.9h-0.9zM232.4 113.7h0.9v0.9h-0.9zM238.6 105.1h0.9v0.9h-0.9zM237.6 104.0h0.9v0.9h-0.9zM244.3 115.2h0.9v0.9h-0.9zM242.3 106.7h0.9v0.9h-0.9zM229.9 116.1h0.9v0.9h-0.9zM238.0 92.0h0.9v0.9h-0.9zM235.0 107.0h0.9v0.9h-0.9zM228.2 102.3h0.9v0.9h-0.9zM226.0 104.9h0.9v0.9h-0.9zM236.1 112.3h0.9v0.9h-0.9zM230.2 113.8h0.9v0.9h-0.9zM223.8 106.9h0.9v0.9h-0.9zM233.5 113.0h0.9v0.9h-0.9zM235.8 101.7h0.9v0.9h-0.9zM234.9 109.3h0.9v0.9h-0.9zM225.2 107.0h0.9v0.9h-0.9zM229.8 98.5h0.9v0.9h-0.9zM244.4 112.8h0.9v0.9h-0.9zM228.4 104.2h0.9v0.9h-0.9zM231.7 110.2h0.9v0.9h-0.9zM251.4 103.6h0.9v0.9h-0.9zM236.8 108.8h0.9v0.9h-0.9zM230.4 111.2h0.9v0.9h-0.9zM219.6 107.8h0.9v0.9h-0.9zM236.5 105.2h0.9v0.9h-0.9zM223.7 111.2h0.9v0.9h-0.9zM233.9 109.0h0.9v0.9h-0.9zM227.6 105.6h0.9v0.9h-0.9zM221.6 108.1h0.9v0.9h-0.9zM246.5 107.4h0.9v0.9h-0.9zM233.3 106.0h0.9v0.9h-0.9zM241.0 112.8h0.9v0.9h-0.9zM239.6 117.5h0.9v0.9h-0.9zM228.6 105.1h0.9v0.9h-0.9zM234.7 107.2h0.9v0.9h-0.9zM231.4 102.7h0.9v0.9h-0.9zM241.3 100.6h0.9v0.9h-0.9zM237.3 114.1h0.9v0.9h-0.9zM231.4 104.2h0.9v0.9h-0.9zM246.5 109.8h0.9v0.9h-0.9zM237.9 100.5h0.9v0.9h-0.9zM237.5 104.4h0.9v0.9h-0.9zM228.2 110.5h0.9v0.9h-0.9zM237.1 110.5h0.9v0.9h-0.9zM223.1 109.2h0.9v0.9h-0.9zM237.5 110.2h0.9v0.9h-0.9zM227.0 109.1h0.9v0.9h-0.9zM235.4 113.4h0.9v0.9h-0.9zM231.9 117.3h0.9v0.9h-0.9zM235.7 111.0h0.9v0.9h-0.9zM236.7 107.3h0.9v0.9h-0.9zM233.6 102.3h0.9v0.9h-0.9zM233.6 105.2h0.9v0.9h-0.9zM222.8 106.1h0.9v0.9h-0.9zM219.8 115.8h0.9v0.9h-0.9zM243.5 99.4h0.9v0.9h-0.9zM238.3 103.5h0.9v0.9h-0.9zM222.9 102.2h0.9v0.9h-0.9zM248.3 112.7h0.9v0.9h-0.9zM228.6 104.1h0.9v0.9h-0.9zM237.8 97.8h0.9v0.9h-0.9zM237.2 96.6h0.9v0.9h-0.9zM234.8 109.6h0.9v0.9h-0.9zM238.6 98.9h0.9v0.9h-0.9zM223.7 113.9h0.9v0.9h-0.9zM233.7 113.7h0.9v0.9h-0.9zM232.1 101.6h0.9v0.9h-0.9zM234.7 106.0h0.9v0.9h-0.9zM231.9 107.9h0.9v0.9h-0.9zM229.2 99.6h0.9v0.9h-0.9zM228.5 101.0h0.9v0.9h-0.9zM240.6 104.3h0.9v0.9h-0.9zM227.6 107.6h0.9v0.9h-0.9zM236.7 109.3h0.9v0.9h-0.9zM236.6 97.4h0.9v0.9h-0.9zM233.3 109.1h0.9v0.9h-0.9zM237.2 107.1h0.9v0.9h-0.9zM238.1 106.3h0.9v0.9h-0.9zM230.0 105.2h0.9v0.9h-0.9zM236.5 113.4h0.9v0.9h-0.9zM248.3 116.3h0.9v0.9h-0.9zM226.0 105.2h0.9v0.9h-0.9zM231.7 106.8h0.9v0.9h-0.9zM228.2 99.0h0.9v0.9h-0.9zM248.9 105.5h0.9v0.9h-0.9zM223.5 111.5h0.9v0.9h-0.9zM234.1 107.2h0.9v0.9h-0.9zM241.0 109.7h0.9v0.9h-0.9zM227.5 107.2h0.9v0.9h-0.9zM233.0 108.3h0.9v0.9h-0.9zM228.7 111.4h0.9v0.9h-0.9zM223.9 112.0h0.9v0.9h-0.9zM233.5 97.1h0.9v0.9h-0.9zM237.7 106.6h0.9v0.9h-0.9zM231.0 91.8h0.9v0.9h-0.9zM235.2 107.9h0.9v0.9h-0.9zM239.1 104.9h0.9v0.9h-0.9zM242.9 104.6h0.9v0.9h-0.9zM224.7 116.5h0.9v0.9h-0.9zM238.6 109.9h0.9v0.9h-0.9zM229.3 114.1h0.9v0.9h-0.9zM219.9 111.4h0.9v0.9h-0.9zM228.2 117.2h0.9v0.9h-0.9zM238.8 106.6h0.9v0.9h-0.9zM236.3 106.6h0.9v0.9h-0.9zM225.8 107.5h0.9v0.9h-0.9zM246.0 121.4h0.9v0.9h-0.9zM237.0 105.6h0.9v0.9h-0.9zM233.5 108.1h0.9v0.9h-0.9zM229.9 115.5h0.9v0.9h-0.9zM237.1 113.1h0.9v0.9h-0.9zM231.1 105.3h0.9v0.9h-0.9zM242.5 117.6h0.9v0.9h-0.9zM236.3 110.6h0.9v0.9h-0.9zM238.6 116.0h0.9v0.9h-0.9zM231.7 111.3h0.9v0.9h-0.9zM222.9 112.3h0.9v0.9h-0.9zM237.9 103.9h0.9v0.9h-0.9zM226.4 115.8h0.9v0.9h-0.9zM233.2 104.1h0.9v0.9h-0.9zM233.9 108.4h0.9v0.9h-0.9zM228.2 114.0h0.9v0.9h-0.9zM240.6 106.1h0.9v0.9h-0.9zM223.3 108.7h0.9v0.9h-0.9zM245.1 108.0h0.9v0.9h-0.9zM229.6 108.9h0.9v0.9h-0.9zM241.2 111.2h0.9v0.9h-0.9zM243.7 99.8h0.9v0.9h-0.9zM227.6 105.1h0.9v0.9h-0.9zM228.5 119.4h0.9v0.9h-0.9zM241.0 97.3h0.9v0.9h-0.9zM235.4 104.5h0.9v0.9h-0.9zM234.6 112.4h0.9v0.9h-0.9zM220.3 97.9h0.9v0.9h-0.9zM221.7 103.3h0.9v0.9h-0.9zM238.0 103.6h0.9v0.9h-0.9zM244.7 116.6h0.9v0.9h-0.9zM228.7 103.2h0.9v0.9h-0.9zM227.5 111.5h0.9v0.9h-0.9zM235.6 104.5h0.9v0.9h-0.9zM237.5 108.1h0.9v0.9h-0.9zM238.2 101.8h0.9v0.9h-0.9zM230.7 99.9h0.9v0.9h-0.9zM219.5 105.4h0.9v0.9h-0.9zM244.9 100.4h0.9v0.9h-0.9zM230.3 107.0h0.9v0.9h-0.9zM243.4 108.7h0.9v0.9h-0.9zM219.2 110.2h0.9v0.9h-0.9zM236.8 116.4h0.9v0.9h-0.9zM230.3 115.8h0.9v0.9h-0.9zM225.9 101.9h0.9v0.9h-0.9zM241.2 103.9h0.9v0.9h-0.9zM243.6 117.3h0.9v0.9h-0.9zM229.6 107.7h0.9v0.9h-0.9zM238.8 105.9h0.9v0.9h-0.9zM226.0 113.9h0.9v0.9h-0.9zM229.4 104.6h0.9v0.9h-0.9zM232.2 113.1h0.9v0.9h-0.9zM231.4 106.3h0.9v0.9h-0.9zM238.8 115.1h0.9v0.9h-0.9zM225.0 107.2h0.9v0.9h-0.9zM241.2 112.5h0.9v0.9h-0.9zM241.2 113.8h0.9v0.9h-0.9zM232.4 116.9h0.9v0.9h-0.9zM225.2 103.6h0.9v0.9h-0.9zM216.3 105.9h0.9v0.9h-0.9zM233.5 100.2h0.9v0.9h-0.9zM228.7 98.5h0.9v0.9h-0.9zM234.8 105.3h0.9v0.9h-0.9zM226.1 108.9h0.9v0.9h-0.9zM234.0 114.9h0.9v0.9h-0.9zM233.5 105.7h0.9v0.9h-0.9zM234.1 118.5h0.9v0.9h-0.9zM236.1 109.0h0.9v0.9h-0.9zM236.2 112.8h0.9v0.9h-0.9zM241.2 106.6h0.9v0.9h-0.9zM228.2 101.1h0.9v0.9h-0.9zM239.4 116.7h0.9v0.9h-0.9zM235.2 106.4h0.9v0.9h-0.9zM230.9 114.1h0.9v0.9h-0.9zM226.6 106.0h0.9v0.9h-0.9zM244.8 111.2h0.9v0.9h-0.9zM235.8 107.1h0.9v0.9h-0.9zM230.2 106.1h0.9v0.9h-0.9zM234.6 107.2h0.9v0.9h-0.9zM234.1 111.7h0.9v0.9h-0.9zM230.1 101.3h0.9v0.9h-0.9zM223.8 102.6h0.9v0.9h-0.9zM235.2 113.4h0.9v0.9h-0.9zM232.8 103.9h0.9v0.9h-0.9zM231.9 109.0h0.9v0.9h-0.9zM241.3 100.5h0.9v0.9h-0.9zM224.3 106.8h0.9v0.9h-0.9zM226.9 114.0h0.9v0.9h-0.9zM235.2 108.4h0.9v0.9h-0.9zM240.2 109.1h0.9v0.9h-0.9zM238.6 105.8h0.9v0.9h-0.9zM239.4 108.5h0.9v0.9h-0.9zM217.7 98.1h0.9v0.9h-0.9zM237.7 98.9h0.9v0.9h-0.9zM237.1 110.2h0.9v0.9h-0.9zM239.1 98.2h0.9v0.9h-0.9zM228.9 115.1h0.9v0.9h-0.9zM237.8 112.6h0.9v0.9h-0.9zM241.5 101.3h0.9v0.9h-0.9zM245.9 95.9h0.9v0.9h-0.9zM235.9 94.6h0.9v0.9h-0.9zM224.2 109.6h0.9v0.9h-0.9zM234.5 107.4h0.9v0.9h-0.9zM238.8 115.3h0.9v0.9h-0.9zM237.9 110.5h0.9v0.9h-0.9zM248.2 116.5h0.9v0.9h-0.9zM232.6 112.7h0.9v0.9h-0.9zM226.5 102.7h0.9v0.9h-0.9zM229.3 106.9h0.9v0.9h-0.9zM238.9 103.2h0.9v0.9h-0.9zM228.1 106.1h0.9v0.9h-0.9zM226.3 105.0h0.9v0.9h-0.9zM227.9 106.6h0.9v0.9h-0.9zM243.0 115.3h0.9v0.9h-0.9zM235.8 104.8h0.9v0.9h-0.9zM231.6 101.3h0.9v0.9h-0.9zM240.4 104.4h0.9v0.9h-0.9zM239.2 105.2h0.9v0.9h-0.9zM226.9 104.6h0.9v0.9h-0.9zM240.2 106.9h0.9v0.9h-0.9zM235.9 105.5h0.9v0.9h-0.9zM218.8 114.0h0.9v0.9h-0.9zM225.3 112.9h0.9v0.9h-0.9zM236.0 103.7h0.9v0.9h-0.9zM237.7 113.3h0.9v0.9h-0.9zM232.0 115.6h0.9v0.9h-0.9zM226.7 107.9h0.9v0.9h-0.9zM235.9 103.3h0.9v0.9h-0.9zM220.5 110.3h0.9v0.9h-0.9zM238.2 107.5h0.9v0.9h-0.9zM233.0 109.8h0.9v0.9h-0.9zM233.9 102.1h0.9v0.9h-0.9zM229.3 119.5h0.9v0.9h-0.9zM240.3 106.8h0.9v0.9h-0.9zM216.8 110.9h0.9v0.9h-0.9zM227.7 104.7h0.9v0.9h-0.9zM238.4 108.8h0.9v0.9h-0.9zM228.9 95.3h0.9v0.9h-0.9zM245.0 100.8h0.9v0.9h-0.9zM237.3 94.4h0.9v0.9h-0.9zM228.5 113.4h0.9v0.9h-0.9zM242.4 100.3h0.9v0.9h-0.9zM233.5 99.4h0.9v0.9h-0.9zM238.5 114.2h0.9v0.9h-0.9zM229.6 105.3h0.9v0.9h-0.9zM229.8 107.1h0.9v0.9h-0.9zM239.5 113.9h0.9v0.9h-0.9zM235.0 110.7h0.9v0.9h-0.9zM228.6 109.8h0.9v0.9h-0.9zM227.7 111.7h0.9v0.9h-0.9zM239.1 97.3h0.9v0.9h-0.9zM247.3 115.2h0.9v0.9h-0.9zM228.1 115.4h0.9v0.9h-0.9zM239.3 118.2h0.9v0.9h-0.9zM212.8 96.5h0.9v0.9h-0.9zM224.0 103.4h0.9v0.9h-0.9zM239.3 105.0h0.9v0.9h-0.9zM246.1 117.5h0.9v0.9h-0.9zM234.8 111.2h0.9v0.9h-0.9zM238.4 117.9h0.9v0.9h-0.9zM236.3 110.6h0.9v0.9h-0.9zM241.8 104.6h0.9v0.9h-0.9zM226.3 101.0h0.9v0.9h-0.9zM239.1 105.0h0.9v0.9h-0.9zM231.1 115.8h0.9v0.9h-0.9zM231.9 103.4h0.9v0.9h-0.9zM234.3 98.3h0.9v0.9h-0.9zM232.8 109.7h0.9v0.9h-0.9zM228.7 115.7h0.9v0.9h-0.9zM232.5 121.5h0.9v0.9h-0.9zM227.4 115.0h0.9v0.9h-0.9zM245.3 113.5h0.9v0.9h-0.9zM239.6 98.3h0.9v0.9h-0.9zM231.3 106.1h0.9v0.9h-0.9zM246.2 106.1h0.9v0.9h-0.9zM243.9 108.9h0.9v0.9h-0.9zM238.0 103.0h0.9v0.9h-0.9zM230.4 112.5h0.9v0.9h-0.9zM236.3 115.0h0.9v0.9h-0.9zM238.6 108.7h0.9v0.9h-0.9zM244.7 106.5h0.9v0.9h-0.9zM233.1 109.2h0.9v0.9h-0.9zM230.2 110.2h0.9v0.9h-0.9zM251.4 112.5h0.9v0.9h-0.9zM244.7 103.4h0.9v0.9h-0.9zM236.7 116.1h0.9v0.9h-0.9zM227.6 108.3h0.9v0.9h-0.9zM238.0 107.1h0.9v0.9h-0.9zM242.7 111.9h0.9v0.9h-0.9zM240.0 104.2h0.9v0.9h-0.9zM240.5 112.9h0.9v0.9h-0.9zM234.7 119.9h0.9v0.9h-0.9zM242.8 110.5h0.9v0.9h-0.9zM229.9 109.2h0.9v0.9h-0.9zM231.1 105.4h0.9v0.9h-0.9zM230.7 116.3h0.9v0.9h-0.9zM229.6 114.3h0.9v0.9h-0.9zM248.8 99.7h0.9v0.9h-0.9zM221.8 113.4h0.9v0.9h-0.9zM236.1 104.4h0.9v0.9h-0.9zM227.1 101.5h0.9v0.9h-0.9zM225.1 107.6h0.9v0.9h-0.9zM235.1 104.4h0.9v0.9h-0.9zM222.7 114.4h0.9v0.9h-0.9zM233.7 101.0h0.9v0.9h-0.9zM251.4 100.9h0.9v0.9h-0.9zM233.5 102.8h0.9v0.9h-0.9zM237.7 107.2h0.9v0.9h-0.9zM228.0 111.2h0.9v0.9h-0.9zM237.9 102.0h0.9v0.9h-0.9zM223.2 104.0h0.9v0.9h-0.9zM235.7 99.3h0.9v0.9h-0.9zM233.3 106.9h0.9v0.9h-0.9zM250.4 102.3h0.9v0.9h-0.9zM233.6 119.9h0.9v0.9h-0.9zM231.5 118.6h0.9v0.9h-0.9zM230.0 102.8h0.9v0.9h-0.9zM225.3 108.7h0.9v0.9h-0.9zM239.9 110.3h0.9v0.9h-0.9zM245.0 104.9h0.9v0.9h-0.9zM231.4 105.8h0.9v0.9h-0.9zM239.4 111.5h0.9v0.9h-0.9zM231.5 106.5h0.9v0.9h-0.9zM237.1 106.3h0.9v0.9h-0.9zM237.6 107.8h0.9v0.9h-0.9zM223.5 114.7h0.9v0.9h-0.9zM228.4 106.5h0.9v0.9h-0.9zM241.1 110.1h0.9v0.9h-0.9zM219.9 109.3h0.9v0.9h-0.9zM234.2 111.9h0.9v0.9h-0.9zM231.5 106.9h0.9v0.9h-0.9zM227.2 105.2h0.9v0.9h-0.9zM234.5 104.2h0.9v0.9h-0.9zM236.4 109.3h0.9v0.9h-0.9zM238.1 108.7h0.9v0.9h-0.9zM214.4 106.5h0.9v0.9h-0.9zM246.6 109.2h0.9v0.9h-0.9zM230.5 121.0h0.9v0.9h-0.9zM241.9 112.3h0.9v0.9h-0.9zM233.2 97.9h0.9v0.9h-0.9zM229.7 115.1h0.9v0.9h-0.9zM233.6 108.7h0.9v0.9h-0.9zM257.8 102.4h0.9v0.9h-0.9zM245.8 115.3h0.9v0.9h-0.9zM231.5 107.5h0.9v0.9h-0.9zM235.8 113.6h0.9v0.9h-0.9zM242.5 104.6h0.9v0.9h-0.9zM238.4 113.8h0.9v0.9h-0.9zM234.7 106.4h0.9v0.9h-0.9zM232.6 113.2h0.9v0.9h-0.9zM226.0 112.5h0.9v0.9h-0.9zM239.7 101.6h0.9v0.9h-0.9zM242.3 110.0h0.9v0.9h-0.9zM250.8 110.5h0.9v0.9h-0.9zM229.9 107.6h0.9v0.9h-0.9zM238.9 98.2h0.9v0.9h-0.9zM233.8 109.5h0.9v0.9h-0.9zM243.4 106.2h0.9v0.9h-0.9zM233.3 114.5h0.9v0.9h-0.9zM229.2 102.1h0.9v0.9h-0.9zM221.4 113.4h0.9v0.9h-0.9zM239.4 108.7h0.9v0.9h-0.9zM235.2 121.9h0.9v0.9h-0.9zM242.5 102.4h0.9v0.9h-0.9zM229.9 113.2h0.9v0.9h-0.9zM253.5 105.0h0.9v0.9h-0.9zM228.7 102.7h0.9v0.9h-0.9zM237.9 113.9h0.9v0.9h-0.9zM237.1 111.3h0.9v0.9h-0.9zM242.3 113.7h0.9v0.9h-0.9zM232.8 99.1h0.9v0.9h-0.9zM227.2 101.4h0.9v0.9h-0.9zM226.6 111.2h0.9v0.9h-0.9zM240.1 103.3h0.9v0.9h-0.9zM234.8 115.2h0.9v0.9h-0.9zM236.6 117.1h0.9v0.9h-0.9zM227.9 107.3h0.9v0.9h-0.9zM235.1 108.2h0.9v0.9h-0.9zM235.6 108.1h0.9v0.9h-0.9zM238.6 106.4h0.9v0.9h-0.9zM223.0 107.8h0.9v0.9h-0.9zM228.2 106.7h0.9v0.9h-0.9zM247.0 110.4h0.9v0.9h-0.9zM231.1 106.2h0.9v0.9h-0.9zM233.4 105.1h0.9v0.9h-0.9zM231.0 106.3h0.9v0.9h-0.9zM222.8 104.6h0.9v0.9h-0.9zM225.9 107.6h0.9v0.9h-0.9zM236.8 111.0h0.9v0.9h-0.9zM229.0 119.3h0.9v0.9h-0.9zM249.2 99.0h0.9v0.9h-0.9zM222.8 100.4h0.9v0.9h-0.9zM219.4 107.6h0.9v0.9h-0.9zM231.1 108.2h0.9v0.9h-0.9zM224.9 107.8h0.9v0.9h-0.9zM244.4 118.3h0.9v0.9h-0.9zM230.8 98.0h0.9v0.9h-0.9zM237.9 107.1h0.9v0.9h-0.9zM223.4 101.0h0.9v0.9h-0.9zM239.0 106.3h0.9v0.9h-0.9zM238.8 110.8h0.9v0.9h-0.9zM243.3 100.1h0.9v0.9h-0.9zM235.6 113.6h0.9v0.9h-0.9zM237.8 103.3h0.9v0.9h-0.9zM235.2 102.2h0.9v0.9h-0.9zM240.9 98.9h0.9v0.9h-0.9zM230.8 104.2h0.9v0.9h-0.9zM238.0 103.9h0.9v0.9h-0.9zM229.7 112.6h0.9v0.9h-0.9zM239.2 99.4h0.9v0.9h-0.9zM231.9 109.2h0.9v0.9h-0.9zM229.1 112.6h0.9v0.9h-0.9zM228.8 106.6h0.9v0.9h-0.9zM245.0 112.2h0.9v0.9h-0.9zM222.2 104.2h0.9v0.9h-0.9zM222.8 110.3h0.9v0.9h-0.9zM238.7 106.2h0.9v0.9h-0.9zM226.5 119.9h0.9v0.9h-0.9zM230.4 106.4h0.9v0.9h-0.9zM230.2 106.4h0.9v0.9h-0.9zM251.0 110.2h0.9v0.9h-0.9zM228.9 105.1h0.9v0.9h-0.9zM228.5 106.9h0.9v0.9h-0.9zM231.0 109.9h0.9v0.9h-0.9zM235.7 112.8h0.9v0.9h-0.9zM237.7 104.7h0.9v0.9h-0.9zM222.9 108.3h0.9v0.9h-0.9zM237.3 107.1h0.9v0.9h-0.9zM248.6 111.8h0.9v0.9h-0.9zM220.5 112.5h0.9v0.9h-0.9zM238.3 110.2h0.9v0.9h-0.9zM239.7 109.5h0.9v0.9h-0.9zM235.1 117.9h0.9v0.9h-0.9zM232.5 103.2h0.9v0.9h-0.9zM216.3 117.0h0.9v0.9h-0.9zM243.0 111.0h0.9v0.9h-0.9zM231.5 99.6h0.9v0.9h-0.9zM232.4 108.7h0.9v0.9h-0.9zM243.2 100.2h0.9v0.9h-0.9zM216.4 107.3h0.9v0.9h-0.9zM233.4 96.8h0.9v0.9h-0.9zM238.4 112.0h0.9v0.9h-0.9zM239.4 103.7h0.9v0.9h-0.9zM238.5 117.1h0.9v0.9h-0.9zM249.3 104.0h0.9v0.9h-0.9zM236.1 108.3h0.9v0.9h-0.9zM241.6 100.5h0.9v0.9h-0.9zM239.8 107.3h0.9v0.9h-0.9zM222.9 108.3h0.9v0.9h-0.9zM228.2 110.8h0.9v0.9h-0.9zM249.6 121.6h0.9v0.9h-0.9zM231.9 117.1h0.9v0.9h-0.9zM233.5 112.3h0.9v0.9h-0.9zM224.1 106.2h0.9v0.9h-0.9zM231.4 106.5h0.9v0.9h-0.9zM224.1 106.4h0.9v0.9h-0.9zM229.4 103.4h0.9v0.9h-0.9zM238.1 111.8h0.9v0.9h-0.9zM227.8 107.8h0.9v0.9h-0.9zM229.4 111.0h0.9v0.9h-0.9zM244.0 106.7h0.9v0.9h-0.9zM237.5 110.2h0.9v0.9h-0.9zM237.9 117.8h0.9v0.9h-0.9zM241.5 110.1h0.9v0.9h-0.9zM229.9 113.3h0.9v0.9h-0.9zM231.1 103.5h0.9v0.9h-0.9zM218.6 107.4h0.9v0.9h-0.9zM239.5 106.1h0.9v0.9h-0.9zM232.4 111.0h0.9v0.9h-0.9zM234.0 109.9h0.9v0.9h-0.9zM225.8 104.6h0.9v0.9h-0.9zM238.6 110.2h0.9v0.9h-0.9zM238.7 109.0h0.9v0.9h-0.9zM235.4 99.7h0.9v0.9h-0.9zM222.1 108.2h0.9v0.9h-0.9zM227.7 114.9h0.9v0.9h-0.9zM233.7 103.5h0.9v0.9h-0.9zM227.7 114.4h0.9v0.9h-0.9zM236.9 112.2h0.9v0.9h-0.9zM241.5 109.4h0.9v0.9h-0.9zM228.3 110.9h0.9v0.9h-0.9zM232.6 104.0h0.9v0.9h-0.9zM228.9 112.4h0.9v0.9h-0.9zM241.7 100.7h0.9v0.9h-0.9zM240.7 102.3h0.9v0.9h-0.9zM254.0 111.5h0.9v0.9h-0.9zM234.1 102.4h0.9v0.9h-0.9zM227.0 119.6h0.9v0.9h-0.9zM237.1 110.4h0.9v0.9h-0.9zM232.3 113.5h0.9v0.9h-0.9zM235.4 113.9h0.9v0.9h-0.9zM243.3 106.4h0.9v0.9h-0.9zM231.9 108.7h0.9v0.9h-0.9zM239.4 111.2h0.9v0.9h-0.9zM218.1 108.6h0.9v0.9h-0.9zM241.9 117.3h0.9v0.9h-0.9zM235.0 114.3h0.9v0.9h-0.9zM232.2 109.8h0.9v0.9h-0.9zM230.3 115.6h0.9v0.9h-0.9zM244.6 109.0h0.9v0.9h-0.9zM230.2 112.9h0.9v0.9h-0.9zM243.5 109.5h0.9v0.9h-0.9zM230.2 107.1h0.9v0.9h-0.9zM234.4 103.4h0.9v0.9h-0.9zM236.7 104.6h0.9v0.9h-0.9zM249.2 108.9h0.9v0.9h-0.9zM235.9 110.9h0.9v0.9h-0.9zM235.8 96.8h0.9v0.9h-0.9zM233.6 106.3h0.9v0.9h-0.9zM231.8 111.7h0.9v0.9h-0.9zM229.5 107.6h0.9v0.9h-0.9zM247.6 102.4h0.9v0.9h-0.9zM245.1 102.9h0.9v0.9h-0.9zM228.9 117.7h0.9v0.9h-0.9zM235.3 99.7h0.9v0.9h-0.9zM225.3 106.6h0.9v0.9h-0.9zM241.2 113.0h0.9v0.9h-0.9zM239.3 97.4h0.9v0.9h-0.9zM234.9 112.1h0.9v0.9h-0.9zM228.1 99.8h0.9v0.9h-0.9zM239.9 113.9h0.9v0.9h-0.9zM238.7 123.0h0.9v0.9h-0.9zM232.8 101.5h0.9v0.9h-0.9zM239.6 108.0h0.9v0.9h-0.9zM224.0 110.4h0.9v0.9h-0.9zM229.6 105.2h0.9v0.9h-0.9zM227.0 111.4h0.9v0.9h-0.9zM235.0 104.4h0.9v0.9h-0.9zM246.6 105.3h0.9v0.9h-0.9zM234.5 103.9h0.9v0.9h-0.9zM242.6 108.1h0.9v0.9h-0.9zM233.9 111.0h0.9v0.9h-0.9zM231.1 113.7h0.9v0.9h-0.9zM241.7 107.8h0.9v0.9h-0.9zM238.2 102.5h0.9v0.9h-0.9zM244.7 105.7h0.9v0.9h-0.9zM241.4 105.5h0.9v0.9h-0.9zM228.0 106.2h0.9v0.9h-0.9zM215.0 111.5h0.9v0.9h-0.9zM235.1 107.6h0.9v0.9h-0.9zM225.3 108.8h0.9v0.9h-0.9zM223.5 108.6h0.9v0.9h-0.9zM223.0 107.8h0.9v0.9h-0.9zM229.3 105.7h0.9v0.9h-0.9zM232.6 112.3h0.9v0.9h-0.9zM234.1 107.8h0.9v0.9h-0.9zM249.4 107.7h0.9v0.9h-0.9zM225.0 102.1h0.9v0.9h-0.9zM234.0 104.4h0.9v0.9h-0.9zM224.7 104.9h0.9v0.9h-0.9zM226.6 111.4h0.9v0.9h-0.9zM234.5 98.6h0.9v0.9h-0.9zM237.2 112.2h0.9v0.9h-0.9zM224.4 108.9h0.9v0.9h-0.9zM242.6 104.3h0.9v0.9h-0.9zM227.1 103.5h0.9v0.9h-0.9zM241.2 111.0h0.9v0.9h-0.9zM233.6 109.3h0.9v0.9h-0.9zM240.8 97.3h0.9v0.9h-0.9zM238.3 104.4h0.9v0.9h-0.9zM231.9 103.1h0.9v0.9h-0.9zM237.6 107.8h0.9v0.9h-0.9zM224.0 104.6h0.9v0.9h-0.9zM224.3 110.7h0.9v0.9h-0.9zM231.4 105.3h0.9v0.9h-0.9zM244.3 106.6h0.9v0.9h-0.9zM228.4 115.0h0.9v0.9h-0.9zM229.5 106.8h0.9v0.9h-0.9zM246.5 105.4h0.9v0.9h-0.9zM234.3 108.3h0.9v0.9h-0.9zM234.0 101.0h0.9v0.9h-0.9zM226.1 99.3h0.9v0.9h-0.9zM234.5 108.0h0.9v0.9h-0.9zM238.5 104.9h0.9v0.9h-0.9zM233.6 100.2h0.9v0.9h-0.9zM239.8 113.2h0.9v0.9h-0.9zM236.5 111.8h0.9v0.9h-0.9zM241.9 109.3h0.9v0.9h-0.9zM240.2 105.1h0.9v0.9h-0.9zM233.0 106.9h0.9v0.9h-0.9zM240.5 104.9h0.9v0.9h-0.9zM247.6 112.7h0.9v0.9h-0.9zM236.3 100.1h0.9v0.9h-0.9zM224.9 109.5h0.9v0.9h-0.9zM235.4 108.1h0.9v0.9h-0.9zM232.5 101.8h0.9v0.9h-0.9zM253.4 111.4h0.9v0.9h-0.9zM239.7 106.1h0.9v0.9h-0.9zM225.7 118.3h0.9v0.9h-0.9zM232.6 114.5h0.9v0.9h-0.9zM245.0 107.7h0.9v0.9h-0.9zM225.3 105.9h0.9v0.9h-0.9zM230.3 104.3h0.9v0.9h-0.9zM234.0 104.0h0.9v0.9h-0.9zM232.9 109.7h0.9v0.9h-0.9zM229.5 100.1h0.9v0.9h-0.9zM234.9 113.3h0.9v0.9h-0.9zM223.4 111.8h0.9v0.9h-0.9zM229.6 107.3h0.9v0.9h-0.9zM229.4 112.1h0.9v0.9h-0.9zM231.7 120.6h0.9v0.9h-0.9zM231.7 109.6h0.9v0.9h-0.9zM233.9 117.5h0.9v0.9h-0.9zM231.3 106.4h0.9v0.9h-0.9zM230.8 104.7h0.9v0.9h-0.9zM236.6 113.5h0.9v0.9h-0.9zM240.6 97.5h0.9v0.9h-0.9zM241.1 113.3h0.9v0.9h-0.9zM225.2 108.0h0.9v0.9h-0.9zM235.7 105.4h0.9v0.9h-0.9zM239.5 108.5h0.9v0.9h-0.9zM231.9 108.6h0.9v0.9h-0.9zM237.4 114.9h0.9v0.9h-0.9zM232.2 112.6h0.9v0.9h-0.9zM236.7 109.1h0.9v0.9h-0.9zM222.4 106.8h0.9v0.9h-0.9zM237.3 102.8h0.9v0.9h-0.9zM230.2 109.1h0.9v0.9h-0.9zM228.3 93.8h0.9v0.9h-0.9zM231.6 113.3h0.9v0.9h-0.9zM241.2 108.0h0.9v0.9h-0.9zM240.9 98.9h0.9v0.9h-0.9zM235.7 111.1h0.9v0.9h-0.9zM240.3 103.1h0.9v0.9h-0.9zM230.8 105.4h0.9v0.9h-0.9zM224.5 98.2h0.9v0.9h-0.9zM219.8 103.9h0.9v0.9h-0.9zM233.6 108.9h0.9v0.9h-0.9zM232.7 107.5h0.9v0.9h-0.9zM234.1 109.6h0.9v0.9h-0.9zM234.3 104.0h0.9v0.9h-0.9zM242.9 111.1h0.9v0.9h-0.9zM226.9 99.8h0.9v0.9h-0.9zM228.0 104.8h0.9v0.9h-0.9zM248.2 93.4h0.9v0.9h-0.9zM239.6 106.3h0.9v0.9h-0.9zM231.5 104.9h0.9v0.9h-0.9zM218.5 106.9h0.9v0.9h-0.9zM227.4 111.1h0.9v0.9h-0.9zM231.1 115.2h0.9v0.9h-0.9zM233.2 101.5h0.9v0.9h-0.9zM235.2 106.6h0.9v0.9h-0.9zM232.1 97.2h0.9v0.9h-0.9zM242.4 118.0h0.9v0.9h-0.9zM224.9 115.1h0.9v0.9h-0.9zM231.6 110.5h0.9v0.9h-0.9zM228.7 114.6h0.9v0.9h-0.9zM239.6 112.7h0.9v0.9h-0.9zM235.1 104.5h0.9v0.9h-0.9zM239.7 111.9h0.9v0.9h-0.9zM234.3 114.4h0.9v0.9h-0.9zM261.9 112.4h0.9v0.9h-0.9zM239.1 107.5h0.9v0.9h-0.9zM228.1 105.9h0.9v0.9h-0.9zM233.7 121.0h0.9v0.9h-0.9zM230.7 109.5h0.9v0.9h-0.9zM239.4 111.0h0.9v0.9h-0.9zM241.0 100.3h0.9v0.9h-0.9zM236.6 111.8h0.9v0.9h-0.9zM232.4 109.4h0.9v0.9h-0.9zM228.8 103.3h0.9v0.9h-0.9zM245.8 115.1h0.9v0.9h-0.9zM242.2 108.0h0.9v0.9h-0.9zM211.8 111.6h0.9v0.9h-0.9zM234.3 110.5h0.9v0.9h-0.9zM227.5 104.2h0.9v0.9h-0.9zM231.0 109.6h0.9v0.9h-0.9z" fill="#3a46aa" fill-opacity="0.44999999999999996"/>
<path d="M298.0 110.5h0.9v0.9h-0.9zM281.8 103.4h0.9v0.9h-0.9zM282.3 102.0h0.9v0.9h-0.9zM283.1 113.1h0.9v0.9h-0.9zM293.8 98.0h0.9v0.9h-0.9zM286.0 98.6h0.9v0.9h-0.9zM290.9 99.3h0.9v0.9h-0.9zM296.4 100.9h0.9v0.9h-0.9zM281.7 121.9h0.9v0.9h-0.9zM298.6 101.7h0.9v0.9h-0.9zM289.2 98.6h0.9v0.9h-0.9zM287.9 105.1h0.9v0.9h-0.9zM298.9 108.2h0.9v0.9h-0.9zM292.0 111.0h0.9v0.9h-0.9zM280.4 99.4h0.9v0.9h-0.9zM288.6 114.9h0.9v0.9h-0.9zM284.0 105.2h0.9v0.9h-0.9zM290.7 99.4h0.9v0.9h-0.9zM285.9 99.9h0.9v0.9h-0.9zM286.8 106.8h0.9v0.9h-0.9zM295.2 104.3h0.9v0.9h-0.9zM278.0 101.8h0.9v0.9h-0.9zM290.8 105.0h0.9v0.9h-0.9zM287.5 117.0h0.9v0.9h-0.9zM291.1 112.1h0.9v0.9h-0.9zM273.6 101.5h0.9v0.9h-0.9zM282.8 100.3h0.9v0.9h-0.9zM286.3 109.7h0.9v0.9h-0.9zM299.7 98.4h0.9v0.9h-0.9zM280.8 94.1h0.9v0.9h-0.9zM281.7 98.9h0.9v0.9h-0.9zM287.7 96.8h0.9v0.9h-0.9zM291.1 95.9h0.9v0.9h-0.9zM285.0 102.7h0.9v0.9h-0.9zM289.5 99.6h0.9v0.9h-0.9zM278.4 102.1h0.9v0.9h-0.9zM300.0 106.0h0.9v0.9h-0.9zM286.8 101.1h0.9v0.9h-0.9zM289.8 96.0h0.9v0.9h-0.9zM306.6 98.8h0.9v0.9h-0.9zM285.3 108.6h0.9v0.9h-0.9zM280.9 98.0h0.9v0.9h-0.9zM282.6 97.7h0.9v0.9h-0.9zM299.9 106.3h0.9v0.9h-0.9zM287.8 98.8h0.9v0.9h-0.9zM283.9 98.8h0.9v0.9h-0.9zM288.8 105.3h0.9v0.9h-0.9zM288.7 103.2h0.9v0.9h-0.9zM295.5 100.9h0.9v0.9h-0.9zM293.7 101.7h0.9v0.9h-0.9zM291.5 109.9h0.9v0.9h-0.9zM292.1 105.8h0.9v0.9h-0.9zM283.8 100.1h0.9v0.9h-0.9zM280.8 101.7h0.9v0.9h-0.9zM291.6 112.7h0.9v0.9h-0.9zM292.4 102.8h0.9v0.9h-0.9zM290.1 105.9h0.9v0.9h-0.9zM290.9 105.7h0.9v0.9h-0.9zM293.1 101.3h0.9v0.9h-0.9zM281.6 105.0h0.9v0.9h-0.9zM286.8 98.8h0.9v0.9h-0.9zM283.4 102.6h0.9v0.9h-0.9zM276.9 110.5h0.9v0.9h-0.9zM292.5 103.2h0.9v0.9h-0.9zM287.5 112.5h0.9v0.9h-0.9zM291.7 105.2h0.9v0.9h-0.9zM293.1 107.0h0.9v0.9h-0.9zM283.1 104.8h0.9v0.9h-0.9zM298.8 99.3h0.9v0.9h-0.9zM291.0 110.0h0.9v0.9h-0.9zM295.6 111.9h0.9v0.9h-0.9zM300.0 105.8h0.9v0.9h-0.9zM285.9 104.2h0.9v0.9h-0.9zM285.0 102.8h0.9v0.9h-0.9zM290.2 106.9h0.9v0.9h-0.9zM296.2 110.0h0.9v0.9h-0.9zM296.4 109.1h0.9v0.9h-0.9zM276.2 105.6h0.9v0.9h-0.9zM298.3 104.3h0.9v0.9h-0.9zM286.1 104.9h0.9v0.9h-0.9zM292.2 103.3h0.9v0.9h-0.9zM280.4 98.3h0.9v0.9h-0.9zM283.3 115.3h0.9v0.9h-0.9zM291.4 99.7h0.9v0.9h-0.9zM277.4 98.9h0.9v0.9h-0.9zM294.3 112.0h0.9v0.9h-0.9zM285.5 106.9h0.9v0.9h-0.9zM290.8 107.1h0.9v0.9h-0.9zM290.0 101.2h0.9v0.9h-0.9zM285.4 104.0h0.9v0.9h-0.9zM297.5 108.4h0.9v0.9h-0.9zM304.2 119.3h0.9v0.9h-0.9zM293.1 107.1h0.9v0.9h-0.9zM277.8 104.9h0.9v0.9h-0.9zM289.8 107.8h0.9v0.9h-0.9zM287.5 104.4h0.9v0.9h-0.9zM294.9 99.8h0.9v0.9h-0.9zM289.4 94.3h0.9v0.9h-0.9zM302.9 106.8h0.9v0.9h-0.9zM293.5 96.1h0.9v0.9h-0.9zM292.9 110.6h0.9v0.9h-0.9zM286.8 101.1h0.9v0.9h-0.9zM283.2 101.5h0.9v0.9h-0.9zM288.4 97.4h0.9v0.9h-0.9zM290.3 98.0h0.9v0.9h-0.9zM292.1 100.3h0.9v0.9h-0.9zM290.3 105.5h0.9v0.9h-0.9zM287.2 101.1h0.9v0.9h-0.9zM289.3 102.9h0.9v0.9h-0.9zM286.0 100.8h0.9v0.9h-0.9zM282.6 106.5h0.9v0.9h-0.9zM283.4 105.9h0.9v0.9h-0.9zM292.2 106.3h0.9v0.9h-0.9zM293.7 98.1h0.9v0.9h-0.9zM287.6 99.4h0.9v0.9h-0.9zM288.1 96.5h0.9v0.9h-0.9zM292.6 107.6h0.9v0.9h-0.9zM288.1 89.2h0.9v0.9h-0.9zM309.4 112.0h0.9v0.9h-0.9zM289.8 102.0h0.9v0.9h-0.9zM285.6 100.1h0.9v0.9h-0.9zM277.2 104.7h0.9v0.9h-0.9zM290.4 102.2h0.9v0.9h-0.9zM295.7 101.7h0.9v0.9h-0.9zM288.6 105.8h0.9v0.9h-0.9zM297.1 106.9h0.9v0.9h-0.9zM285.1 100.8h0.9v0.9h-0.9zM288.3 112.5h0.9v0.9h-0.9zM287.8 96.5h0.9v0.9h-0.9zM284.1 108.4h0.9v0.9h-0.9zM279.4 105.1h0.9v0.9h-0.9zM282.8 98.1h0.9v0.9h-0.9zM276.6 108.4h0.9v0.9h-0.9zM293.9 110.9h0.9v0.9h-0.9zM287.9 95.1h0.9v0.9h-0.9zM288.3 107.0h0.9v0.9h-0.9zM285.3 103.2h0.9v0.9h-0.9zM295.2 105.0h0.9v0.9h-0.9zM283.5 94.5h0.9v0.9h-0.9zM300.0 107.1h0.9v0.9h-0.9zM296.1 110.2h0.9v0.9h-0.9zM284.5 105.3h0.9v0.9h-0.9zM287.7 100.0h0.9v0.9h-0.9zM293.1 101.9h0.9v0.9h-0.9zM297.1 105.5h0.9v0.9h-0.9zM283.9 102.6h0.9v0.9h-0.9zM285.8 96.2h0.9v0.9h-0.9zM305.3 97.2h0.9v0.9h-0.9zM295.0 95.5h0.9v0.9h-0.9zM294.8 103.9h0.9v0.9h-0.9zM301.6 113.8h0.9v0.9h-0.9zM291.9 111.0h0.9v0.9h-0.9zM286.0 102.5h0.9v0.9h-0.9zM277.8 102.6h0.9v0.9h-0.9zM294.6 108.9h0.9v0.9h-0.9zM281.6 107.5h0.9v0.9h-0.9zM293.4 110.7h0.9v0.9h-0.9zM276.2 106.2h0.9v0.9h-0.9zM285.9 101.6h0.9v0.9h-0.9zM288.9 107.0h0.9v0.9h-0.9zM280.9 113.4h0.9v0.9h-0.9zM285.4 105.3h0.9v0.9h-0.9zM283.6 115.1h0.9v0.9h-0.9zM289.8 99.0h0.9v0.9h-0.9zM280.8 102.2h0.9v0.9h-0.9zM287.3 105.1h0.9v0.9h-0.9zM297.9 103.3h0.9v0.9h-0.9zM298.1 108.9h0.9v0.9h-0.9zM301.3 105.6h0.9v0.9h-0.9zM291.7 107.5h0.9v0.9h-0.9zM286.4 112.1h0.9v0.9h-0.9zM291.1 97.3h0.9v0.9h-0.9zM293.6 102.3h0.9v0.9h-0.9zM290.8 114.8h0.9v0.9h-0.9zM298.4 102.0h0.9v0.9h-0.9zM284.7 98.0h0.9v0.9h-0.9zM287.7 99.2h0.9v0.9h-0.9zM279.1 97.5h0.9v0.9h-0.9zM286.3 103.0h0.9v0.9h-0.9zM297.1 105.3h0.9v0.9h-0.9zM289.3 105.7h0.9v0.9h-0.9zM293.9 108.0h0.9v0.9h-0.9zM291.8 103.0h0.9v0.9h-0.9zM295.3 108.3h0.9v0.9h-0.9zM283.6 109.9h0.9v0.9h-0.9zM292.5 96.2h0.9v0.9h-0.9zM293.4 98.4h0.9v0.9h-0.9zM296.5 106.4h0.9v0.9h-0.9zM298.1 97.4h0.9v0.9h-0.9zM285.8 109.7h0.9v0.9h-0.9zM279.7 100.5h0.9v0.9h-0.9zM284.8 100.4h0.9v0.9h-0.9zM297.6 104.6h0.9v0.9h-0.9zM282.5 116.6h0.9v0.9h-0.9zM280.1 97.6h0.9v0.9h-0.9zM280.5 103.6h0.9v0.9h-0.9zM280.5 99.7h0.9v0.9h-0.9zM293.7 106.9h0.9v0.9h-0.9zM284.0 103.0h0.9v0.9h-0.9zM284.9 103.5h0.9v0.9h-0.9zM296.4 106.3h0.9v0.9h-0.9zM295.1 102.5h0.9v0.9h-0.9zM294.7 104.0h0.9v0.9h-0.9zM284.0 106.6h0.9v0.9h-0.9zM277.9 103.6h0.9v0.9h-0.9zM291.3 102.4h0.9v0.9h-0.9zM300.4 99.0h0.9v0.9h-0.9zM286.7 106.1h0.9v0.9h-0.9zM287.2 104.5h0.9v0.9h-0.9zM300.3 100.3h0.9v0.9h-0.9zM287.7 101.1h0.9v0.9h-0.9zM277.7 98.5h0.9v0.9h-0.9zM288.6 113.5h0.9v0.9h-0.9zM285.1 107.2h0.9v0.9h-0.9zM293.1 114.8h0.9v0.9h-0.9zM303.0 94.3h0.9v0.9h-0.9zM283.8 95.1h0.9v0.9h-0.9zM290.0 105.4h0.9v0.9h-0.9zM286.5 102.8h0.9v0.9h-0.9zM284.7 101.2h0.9v0.9h-0.9zM292.0 100.4h0.9v0.9h-0.9zM299.1 102.4h0.9v0.9h-0.9zM291.9 89.6h0.9v0.9h-0.9zM286.2 117.2h0.9v0.9h-0.9zM292.4 102.0h0.9v0.9h-0.9zM290.5 102.7h0.9v0.9h-0.9zM294.3 109.0h0.9v0.9h-0.9zM285.4 102.9h0.9v0.9h-0.9zM289.9 105.7h0.9v0.9h-0.9zM299.7 107.8h0.9v0.9h-0.9zM289.1 108.1h0.9v0.9h-0.9zM295.4 106.9h0.9v0.9h-0.9zM288.9 110.0h0.9v0.9h-0.9zM289.5 110.1h0.9v0.9h-0.9zM284.2 104.8h0.9v0.9h-0.9zM307.5 107.2h0.9v0.9h-0.9zM296.8 101.3h0.9v0.9h-0.9zM296.7 108.6h0.9v0.9h-0.9zM296.5 97.1h0.9v0.9h-0.9zM282.4 96.6h0.9v0.9h-0.9zM284.1 100.1h0.9v0.9h-0.9zM287.8 107.1h0.9v0.9h-0.9zM278.1 101.1h0.9v0.9h-0.9zM283.1 102.6h0.9v0.9h-0.9zM294.4 111.2h0.9v0.9h-0.9zM275.1 113.4h0.9v0.9h-0.9zM283.1 116.4h0.9v0.9h-0.9zM288.3 110.6h0.9v0.9h-0.9zM288.4 108.2h0.9v0.9h-0.9zM288.8 107.4h0.9v0.9h-0.9zM284.0 98.6h0.9v0.9h-0.9zM294.9 105.4h0.9v0.9h-0.9zM273.6 104.0h0.9v0.9h-0.9zM291.7 110.4h0.9v0.9h-0.9zM279.1 107.6h0.9v0.9h-0.9zM284.3 99.5h0.9v0.9h-0.9zM288.5 103.0h0.9v0.9h-0.9zM299.4 107.5h0.9v0.9h-0.9zM283.0 105.5h0.9v0.9h-0.9zM279.6 101.2h0.9v0.9h-0.9zM295.3 109.2h0.9v0.9h-0.9zM288.4 94.2h0.9v0.9h-0.9zM289.1 107.6h0.9v0.9h-0.9zM292.6 99.7h0.9v0.9h-0.9zM295.5 96.3h0.9v0.9h-0.9zM290.0 102.5h0.9v0.9h-0.9zM275.2 110.5h0.9v0.9h-0.9zM287.6 95.6h0.9v0.9h-0.9zM289.1 103.3h0.9v0.9h-0.9zM281.4 104.2h0.9v0.9h-0.9zM282.3 101.7h0.9v0.9h-0.9zM293.1 101.9h0.9v0.9h-0.9zM290.6 103.4h0.9v0.9h-0.9zM283.1 105.2h0.9v0.9h-0.9zM292.7 112.1h0.9v0.9h-0.9zM289.9 89.1h0.9v0.9h-0.9zM280.6 105.5h0.9v0.9h-0.9zM287.2 108.9h0.9v0.9h-0.9zM280.4 94.5h0.9v0.9h-0.9zM283.4 107.5h0.9v0.9h-0.9zM290.9 109.3h0.9v0.9h-0.9zM281.0 101.8h0.9v0.9h-0.9zM280.9 105.4h0.9v0.9h-0.9zM291.4 100.8h0.9v0.9h-0.9zM282.4 97.2h0.9v0.9h-0.9zM287.2 101.0h0.9v0.9h-0.9zM287.3 100.3h0.9v0.9h-0.9zM287.9 109.1h0.9v0.9h-0.9zM291.5 100.5h0.9v0.9h-0.9zM286.2 107.7h0.9v0.9h-0.9zM283.9 108.9h0.9v0.9h-0.9zM286.0 110.5h0.9v0.9h-0.9zM296.6 104.3h0.9v0.9h-0.9zM295.1 106.8h0.9v0.9h-0.9zM288.6 99.7h0.9v0.9h-0.9zM297.0 98.5h0.9v0.9h-0.9zM293.6 112.8h0.9v0.9h-0.9zM282.0 109.9h0.9v0.9h-0.9zM298.8 98.5h0.9v0.9h-0.9zM307.2 99.3h0.9v0.9h-0.9zM291.4 113.4h0.9v0.9h-0.9zM278.4 105.7h0.9v0.9h-0.9zM298.8 110.5h0.9v0.9h-0.9zM293.0 112.3h0.9v0.9h-0.9zM288.3 103.3h0.9v0.9h-0.9zM275.8 109.1h0.9v0.9h-0.9zM288.3 97.7h0.9v0.9h-0.9zM287.0 103.9h0.9v0.9h-0.9zM286.9 108.4h0.9v0.9h-0.9zM286.3 111.7h0.9v0.9h-0.9zM295.3 104.2h0.9v0.9h-0.9zM286.3 107.0h0.9v0.9h-0.9zM291.8 99.5h0.9v0.9h-0.9zM276.6 109.1h0.9v0.9h-0.9zM282.6 96.9h0.9v0.9h-0.9zM289.0 102.1h0.9v0.9h-0.9zM283.2 103.3h0.9v0.9h-0.9zM289.3 99.0h0.9v0.9h-0.9zM288.7 100.7h0.9v0.9h-0.9zM290.2 102.3h0.9v0.9h-0.9zM286.9 109.3h0.9v0.9h-0.9zM293.2 107.5h0.9v0.9h-0.9zM280.1 105.9h0.9v0.9h-0.9zM286.4 106.0h0.9v0.9h-0.9zM299.0 106.2h0.9v0.9h-0.9zM286.3 98.8h0.9v0.9h-0.9zM299.0 102.2h0.9v0.9h-0.9zM291.3 102.8h0.9v0.9h-0.9zM287.5 108.2h0.9v0.9h-0.9zM289.6 105.8h0.9v0.9h-0.9zM299.4 107.0h0.9v0.9h-0.9zM287.0 97.6h0.9v0.9h-0.9zM281.8 112.7h0.9v0.9h-0.9zM292.3 100.5h0.9v0.9h-0.9zM293.7 98.6h0.9v0.9h-0.9zM294.6 104.2h0.9v0.9h-0.9zM279.1 105.5h0.9v0.9h-0.9zM291.6 102.9h0.9v0.9h-0.9zM289.5 112.0h0.9v0.9h-0.9zM287.4 100.9h0.9v0.9h-0.9zM285.9 101.3h0.9v0.9h-0.9zM292.1 96.7h0.9v0.9h-0.9zM288.6 111.1h0.9v0.9h-0.9zM288.7 102.0h0.9v0.9h-0.9zM302.0 101.8h0.9v0.9h-0.9zM289.4 94.0h0.9v0.9h-0.9zM281.5 99.3h0.9v0.9h-0.9zM283.0 101.0h0.9v0.9h-0.9zM284.0 106.0h0.9v0.9h-0.9zM278.5 108.9h0.9v0.9h-0.9zM296.1 110.0h0.9v0.9h-0.9zM301.1 99.8h0.9v0.9h-0.9zM284.9 105.1h0.9v0.9h-0.9zM294.9 112.2h0.9v0.9h-0.9zM284.1 107.4h0.9v0.9h-0.9zM284.5 108.5h0.9v0.9h-0.9zM277.6 111.0h0.9v0.9h-0.9zM288.6 107.1h0.9v0.9h-0.9zM297.0 104.6h0.9v0.9h-0.9zM297.2 118.0h0.9v0.9h-0.9zM292.4 96.1h0.9v0.9h-0.9zM287.2 105.5h0.9v0.9h-0.9zM296.8 107.9h0.9v0.9h-0.9zM300.3 104.9h0.9v0.9h-0.9zM284.0 104.4h0.9v0.9h-0.9zM290.7 102.2h0.9v0.9h-0.9zM288.7 110.4h0.9v0.9h-0.9zM284.8 94.6h0.9v0.9h-0.9zM281.3 98.1h0.9v0.9h-0.9zM283.6 96.7h0.9v0.9h-0.9zM289.7 100.5h0.9v0.9h-0.9zM290.7 101.3h0.9v0.9h-0.9zM289.9 106.2h0.9v0.9h-0.9zM297.3 109.6h0.9v0.9h-0.9zM284.5 99.7h0.9v0.9h-0.9zM280.8 104.4h0.9v0.9h-0.9zM281.3 115.6h0.9v0.9h-0.9zM291.6 108.5h0.9v0.9h-0.9zM285.5 95.6h0.9v0.9h-0.9zM278.3 108.3h0.9v0.9h-0.9zM295.0 104.8h0.9v0.9h-0.9zM298.1 104.6h0.9v0.9h-0.9zM290.2 106.2h0.9v0.9h-0.9zM293.2 108.9h0.9v0.9h-0.9zM279.9 105.9h0.9v0.9h-0.9zM279.8 109.8h0.9v0.9h-0.9zM290.1 106.3h0.9v0.9h-0.9zM290.4 109.2h0.9v0.9h-0.9zM287.7 107.4h0.9v0.9h-0.9zM287.1 99.6h0.9v0.9h-0.9zM284.9 96.2h0.9v0.9h-0.9zM298.4 114.6h0.9v0.9h-0.9zM283.4 99.6h0.9v0.9h-0.9zM288.1 98.4h0.9v0.9h-0.9zM295.8 110.0h0.9v0.9h-0.9zM282.4 110.4h0.9v0.9h-0.9zM289.9 103.3h0.9v0.9h-0.9zM288.3 111.3h0.9v0.9h-0.9zM293.0 101.4h0.9v0.9h-0.9zM273.1 102.2h0.9v0.9h-0.9zM287.1 96.8h0.9v0.9h-0.9zM283.9 115.5h0.9v0.9h-0.9zM296.1 104.9h0.9v0.9h-0.9zM288.6 108.3h0.9v0.9h-0.9zM285.3 95.6h0.9v0.9h-0.9zM294.8 107.0h0.9v0.9h-0.9zM293.2 94.5h0.9v0.9h-0.9zM295.6 100.7h0.9v0.9h-0.9zM296.0 108.1h0.9v0.9h-0.9zM294.0 112.3h0.9v0.9h-0.9zM285.3 113.2h0.9v0.9h-0.9zM290.9 104.2h0.9v0.9h-0.9zM290.9 97.3h0.9v0.9h-0.9zM291.3 106.5h0.9v0.9h-0.9zM291.2 102.0h0.9v0.9h-0.9zM289.6 108.5h0.9v0.9h-0.9zM286.3 107.1h0.9v0.9h-0.9zM288.5 114.1h0.9v0.9h-0.9zM282.6 108.0h0.9v0.9h-0.9zM283.2 103.8h0.9v0.9h-0.9zM293.7 107.1h0.9v0.9h-0.9zM286.9 102.9h0.9v0.9h-0.9zM289.6 102.0h0.9v0.9h-0.9zM285.5 101.3h0.9v0.9h-0.9zM278.4 103.2h0.9v0.9h-0.9zM286.4 101.1h0.9v0.9h-0.9zM299.5 104.7h0.9v0.9h-0.9zM288.3 96.3h0.9v0.9h-0.9zM284.6 101.9h0.9v0.9h-0.9zM293.5 107.6h0.9v0.9h-0.9zM285.9 100.2h0.9v0.9h-0.9zM285.0 98.8h0.9v0.9h-0.9zM278.8 114.2h0.9v0.9h-0.9zM277.8 101.5h0.9v0.9h-0.9zM291.7 114.0h0.9v0.9h-0.9zM289.9 104.0h0.9v0.9h-0.9zM289.2 107.1h0.9v0.9h-0.9zM293.5 109.2h0.9v0.9h-0.9zM286.0 100.9h0.9v0.9h-0.9zM289.1 100.0h0.9v0.9h-0.9zM283.4 104.8h0.9v0.9h-0.9zM283.4 104.0h0.9v0.9h-0.9zM284.1 108.5h0.9v0.9h-0.9zM295.3 101.8h0.9v0.9h-0.9zM293.6 100.7h0.9v0.9h-0.9zM282.4 105.6h0.9v0.9h-0.9zM286.9 100.3h0.9v0.9h-0.9zM289.8 99.3h0.9v0.9h-0.9zM283.7 105.9h0.9v0.9h-0.9zM293.4 102.1h0.9v0.9h-0.9zM283.9 97.0h0.9v0.9h-0.9zM286.8 109.0h0.9v0.9h-0.9zM286.8 103.0h0.9v0.9h-0.9zM277.0 92.0h0.9v0.9h-0.9zM277.6 100.0h0.9v0.9h-0.9zM283.4 109.7h0.9v0.9h-0.9zM296.7 104.2h0.9v0.9h-0.9zM292.7 100.5h0.9v0.9h-0.9zM291.9 105.4h0.9v0.9h-0.9zM284.9 100.5h0.9v0.9h-0.9zM285.9 102.2h0.9v0.9h-0.9zM289.3 106.2h0.9v0.9h-0.9zM290.7 98.9h0.9v0.9h-0.9zM279.1 114.1h0.9v0.9h-0.9zM284.3 89.9h0.9v0.9h-0.9zM284.0 95.6h0.9v0.9h-0.9zM297.5 109.0h0.9v0.9h-0.9zM285.4 106.0h0.9v0.9h-0.9zM283.6 114.5h0.9v0.9h-0.9zM294.3 107.7h0.9v0.9h-0.9zM286.1 110.4h0.9v0.9h-0.9zM295.0 107.9h0.9v0.9h-0.9zM282.7 103.2h0.9v0.9h-0.9zM301.2 94.4h0.9v0.9h-0.9zM288.4 102.7h0.9v0.9h-0.9zM289.8 106.6h0.9v0.9h-0.9zM287.4 105.6h0.9v0.9h-0.9zM288.6 99.2h0.9v0.9h-0.9zM289.1 109.4h0.9v0.9h-0.9zM286.8 101.9h0.9v0.9h-0.9zM297.0 98.8h0.9v0.9h-0.9zM274.3 104.6h0.9v0.9h-0.9zM281.1 103.9h0.9v0.9h-0.9zM286.5 97.8h0.9v0.9h-0.9zM288.1 98.9h0.9v0.9h-0.9zM298.3 105.1h0.9v0.9h-0.9zM292.5 113.9h0.9v0.9h-0.9zM288.9 90.6h0.9v0.9h-0.9zM283.7 91.0h0.9v0.9h-0.9zM301.7 100.3h0.9v0.9h-0.9zM294.6 101.8h0.9v0.9h-0.9zM305.5 108.6h0.9v0.9h-0.9zM279.3 95.3h0.9v0.9h-0.9zM300.2 105.7h0.9v0.9h-0.9zM288.3 106.1h0.9v0.9h-0.9zM283.4 109.2h0.9v0.9h-0.9zM289.8 100.8h0.9v0.9h-0.9zM289.7 99.8h0.9v0.9h-0.9zM286.9 102.9h0.9v0.9h-0.9zM279.5 101.4h0.9v0.9h-0.9zM286.7 101.5h0.9v0.9h-0.9zM280.6 101.5h0.9v0.9h-0.9zM289.6 108.2h0.9v0.9h-0.9zM280.1 102.9h0.9v0.9h-0.9zM290.4 103.2h0.9v0.9h-0.9zM286.3 107.6h0.9v0.9h-0.9zM295.2 102.9h0.9v0.9h-0.9zM283.9 105.6h0.9v0.9h-0.9zM280.1 96.3h0.9v0.9h-0.9zM279.8 104.8h0.9v0.9h-0.9zM290.7 104.6h0.9v0.9h-0.9zM314.6 100.9h0.9v0.9h-0.9zM280.0 101.4h0.9v0.9h-0.9zM284.8 99.8h0.9v0.9h-0.9zM298.9 110.8h0.9v0.9h-0.9zM293.1 103.6h0.9v0.9h-0.9zM297.1 100.6h0.9v0.9h-0.9zM290.9 100.9h0.9v0.9h-0.9zM292.0 99.2h0.9v0.9h-0.9zM289.2 105.5h0.9v0.9h-0.9zM281.6 105.1h0.9v0.9h-0.9zM290.2 99.9h0.9v0.9h-0.9zM282.5 100.3h0.9v0.9h-0.9zM292.9 105.7h0.9v0.9h-0.9zM271.0 98.0h0.9v0.9h-0.9zM275.2 112.2h0.9v0.9h-0.9zM287.7 105.0h0.9v0.9h-0.9zM289.2 101.3h0.9v0.9h-0.9zM300.6 105.6h0.9v0.9h-0.9zM283.2 94.3h0.9v0.9h-0.9zM292.6 107.2h0.9v0.9h-0.9zM276.8 101.0h0.9v0.9h-0.9zM303.9 109.4h0.9v0.9h-0.9zM271.5 109.0h0.9v0.9h-0.9zM298.2 99.9h0.9v0.9h-0.9zM286.0 112.2h0.9v0.9h-0.9zM276.5 102.6h0.9v0.9h-0.9zM284.6 102.7h0.9v0.9h-0.9zM294.0 110.0h0.9v0.9h-0.9zM287.3 109.4h0.9v0.9h-0.9zM282.7 100.8h0.9v0.9h-0.9zM289.3 105.2h0.9v0.9h-0.9zM288.1 101.0h0.9v0.9h-0.9zM294.1 99.2h0.9v0.9h-0.9zM292.5 100.5h0.9v0.9h-0.9zM285.0 106.3h0.9v0.9h-0.9zM283.0 94.4h0.9v0.9h-0.9zM288.3 105.5h0.9v0.9h-0.9zM287.0 99.8h0.9v0.9h-0.9zM289.7 102.6h0.9v0.9h-0.9zM281.3 110.8h0.9v0.9h-0.9zM288.8 106.5h0.9v0.9h-0.9zM282.7 102.1h0.9v0.9h-0.9zM291.7 113.8h0.9v0.9h-0.9zM289.8 95.6h0.9v0.9h-0.9zM286.4 104.4h0.9v0.9h-0.9zM277.7 109.3h0.9v0.9h-0.9zM295.3 96.9h0.9v0.9h-0.9zM282.5 106.7h0.9v0.9h-0.9zM284.9 102.8h0.9v0.9h-0.9zM287.5 113.0h0.9v0.9h-0.9zM290.7 108.8h0.9v0.9h-0.9zM284.5 107.1h0.9v0.9h-0.9zM284.6 96.0h0.9v0.9h-0.9zM278.8 102.6h0.9v0.9h-0.9zM294.8 113.1h0.9v0.9h-0.9zM284.8 108.4h0.9v0.9h-0.9zM285.0 100.2h0.9v0.9h-0.9zM274.5 102.9h0.9v0.9h-0.9zM284.2 94.4h0.9v0.9h-0.9zM293.8 104.7h0.9v0.9h-0.9zM295.0 98.6h0.9v0.9h-0.9zM281.3 96.3h0.9v0.9h-0.9zM288.5 98.6h0.9v0.9h-0.9zM292.2 108.3h0.9v0.9h-0.9zM278.8 95.6h0.9v0.9h-0.9zM285.6 88.7h0.9v0.9h-0.9zM292.7 115.6h0.9v0.9h-0.9zM295.3 101.5h0.9v0.9h-0.9zM278.7 101.5h0.9v0.9h-0.9zM280.9 97.7h0.9v0.9h-0.9zM295.7 110.3h0.9v0.9h-0.9zM285.5 107.7h0.9v0.9h-0.9zM290.5 108.1h0.9v0.9h-0.9zM280.6 106.6h0.9v0.9h-0.9zM295.7 108.9h0.9v0.9h-0.9zM290.7 106.3h0.9v0.9h-0.9zM297.3 103.0h0.9v0.9h-0.9zM282.0 109.5h0.9v0.9h-0.9zM284.6 105.3h0.9v0.9h-0.9zM280.2 101.1h0.9v0.9h-0.9zM280.1 105.9h0.9v0.9h-0.9zM279.4 93.5h0.9v0.9h-0.9zM289.1 104.8h0.9v0.9h-0.9zM281.9 100.3h0.9v0.9h-0.9zM287.6 95.8h0.9v0.9h-0.9zM283.2 107.2h0.9v0.9h-0.9zM290.0 114.8h0.9v0.9h-0.9zM293.1 110.9h0.9v0.9h-0.9zM292.9 107.3h0.9v0.9h-0.9zM293.3 99.8h0.9v0.9h-0.9zM286.8 96.3h0.9v0.9h-0.9zM292.3 102.2h0.9v0.9h-0.9zM286.0 100.3h0.9v0.9h-0.9zM282.4 105.3h0.9v0.9h-0.9zM279.6 113.4h0.9v0.9h-0.9zM287.4 108.5h0.9v0.9h-0.9zM289.5 106.0h0.9v0.9h-0.9zM298.4 106.2h0.9v0.9h-0.9zM284.7 95.7h0.9v0.9h-0.9zM297.4 108.0h0.9v0.9h-0.9zM277.7 105.1h0.9v0.9h-0.9zM287.3 100.1h0.9v0.9h-0.9zM303.2 103.7h0.9v0.9h-0.9zM285.7 103.0h0.9v0.9h-0.9zM282.1 107.4h0.9v0.9h-0.9zM281.3 101.4h0.9v0.9h-0.9zM302.5 110.2h0.9v0.9h-0.9zM296.1 104.3h0.9v0.9h-0.9zM284.4 101.4h0.9v0.9h-0.9zM285.1 111.8h0.9v0.9h-0.9zM271.9 103.2h0.9v0.9h-0.9zM286.9 104.1h0.9v0.9h-0.9zM298.2 98.3h0.9v0.9h-0.9zM275.5 110.5h0.9v0.9h-0.9zM295.2 103.9h0.9v0.9h-0.9zM292.2 107.1h0.9v0.9h-0.9zM298.5 102.6h0.9v0.9h-0.9zM284.7 105.6h0.9v0.9h-0.9zM290.0 97.1h0.9v0.9h-0.9zM297.1 101.6h0.9v0.9h-0.9zM291.5 97.1h0.9v0.9h-0.9zM293.0 102.4h0.9v0.9h-0.9zM286.3 108.1h0.9v0.9h-0.9zM287.2 101.3h0.9v0.9h-0.9zM284.6 103.6h0.9v0.9h-0.9zM289.2 105.1h0.9v0.9h-0.9zM288.6 113.2h0.9v0.9h-0.9zM286.7 108.5h0.9v0.9h-0.9zM274.5 95.2h0.9v0.9h-0.9zM279.2 111.4h0.9v0.9h-0.9zM288.0 94.8h0.9v0.9h-0.9zM296.0 95.9h0.9v0.9h-0.9zM282.6 105.2h0.9v0.9h-0.9zM285.0 112.5h0.9v0.9h-0.9zM288.1 99.6h0.9v0.9h-0.9zM294.7 97.4h0.9v0.9h-0.9zM299.3 102.2h0.9v0.9h-0.9zM290.2 104.8h0.9v0.9h-0.9zM288.5 111.4h0.9v0.9h-0.9zM283.2 104.4h0.9v0.9h-0.9zM291.0 101.8h0.9v0.9h-0.9zM286.5 101.7h0.9v0.9h-0.9zM289.4 104.7h0.9v0.9h-0.9zM282.6 106.5h0.9v0.9h-0.9zM295.5 98.5h0.9v0.9h-0.9zM285.8 102.9h0.9v0.9h-0.9zM278.4 108.0h0.9v0.9h-0.9zM288.2 116.0h0.9v0.9h-0.9zM281.2 106.5h0.9v0.9h-0.9zM291.9 91.8h0.9v0.9h-0.9zM297.1 100.7h0.9v0.9h-0.9zM292.0 106.1h0.9v0.9h-0.9zM287.4 102.0h0.9v0.9h-0.9zM283.0 110.3h0.9v0.9h-0.9zM285.3 102.5h0.9v0.9h-0.9zM302.4 106.8h0.9v0.9h-0.9zM295.4 106.5h0.9v0.9h-0.9zM281.9 101.4h0.9v0.9h-0.9zM282.4 101.0h0.9v0.9h-0.9zM291.0 101.9h0.9v0.9h-0.9zM289.2 97.9h0.9v0.9h-0.9zM289.3 104.1h0.9v0.9h-0.9zM292.7 100.1h0.9v0.9h-0.9zM281.6 103.9h0.9v0.9h-0.9zM283.4 98.0h0.9v0.9h-0.9zM295.3 112.6h0.9v0.9h-0.9zM290.8 106.7h0.9v0.9h-0.9zM287.1 111.4h0.9v0.9h-0.9zM288.1 100.4h0.9v0.9h-0.9zM293.0 101.9h0.9v0.9h-0.9zM290.8 106.5h0.9v0.9h-0.9zM284.4 105.8h0.9v0.9h-0.9zM281.2 105.6h0.9v0.9h-0.9zM294.0 108.3h0.9v0.9h-0.9zM280.9 106.6h0.9v0.9h-0.9zM302.1 110.2h0.9v0.9h-0.9zM281.3 101.0h0.9v0.9h-0.9zM284.8 109.4h0.9v0.9h-0.9zM298.3 105.7h0.9v0.9h-0.9zM289.3 102.5h0.9v0.9h-0.9zM271.5 101.2h0.9v0.9h-0.9zM288.0 103.8h0.9v0.9h-0.9zM275.2 103.4h0.9v0.9h-0.9zM285.6 106.0h0.9v0.9h-0.9zM294.4 98.4h0.9v0.9h-0.9zM294.0 100.6h0.9v0.9h-0.9zM289.7 106.0h0.9v0.9h-0.9zM290.5 101.1h0.9v0.9h-0.9zM292.9 101.6h0.9v0.9h-0.9zM286.3 106.8h0.9v0.9h-0.9zM286.4 105.0h0.9v0.9h-0.9zM296.7 100.9h0.9v0.9h-0.9zM292.0 99.6h0.9v0.9h-0.9zM296.8 106.8h0.9v0.9h-0.9zM291.5 108.0h0.9v0.9h-0.9zM291.4 107.3h0.9v0.9h-0.9zM294.3 106.7h0.9v0.9h-0.9zM293.5 102.4h0.9v0.9h-0.9zM300.0 99.5h0.9v0.9h-0.9zM292.8 103.5h0.9v0.9h-0.9zM285.8 103.0h0.9v0.9h-0.9zM286.4 100.5h0.9v0.9h-0.9zM282.8 105.2h0.9v0.9h-0.9zM290.4 119.6h0.9v0.9h-0.9zM284.3 101.1h0.9v0.9h-0.9zM280.4 102.0h0.9v0.9h-0.9zM293.1 107.7h0.9v0.9h-0.9zM298.5 99.9h0.9v0.9h-0.9zM278.5 101.6h0.9v0.9h-0.9zM295.2 101.5h0.9v0.9h-0.9zM290.3 103.5h0.9v0.9h-0.9zM282.2 108.3h0.9v0.9h-0.9zM284.4 106.7h0.9v0.9h-0.9zM287.7 96.1h0.9v0.9h-0.9zM303.8 102.1h0.9v0.9h-0.9zM290.4 98.4h0.9v0.9h-0.9zM299.2 105.5h0.9v0.9h-0.9zM285.0 101.2h0.9v0.9h-0.9zM295.8 109.6h0.9v0.9h-0.9zM294.2 114.3h0.9v0.9h-0.9zM284.5 102.2h0.9v0.9h-0.9zM285.2 104.9h0.9v0.9h-0.9zM292.1 108.0h0.9v0.9h-0.9zM278.6 100.1h0.9v0.9h-0.9zM288.7 95.9h0.9v0.9h-0.9zM280.5 106.4h0.9v0.9h-0.9zM288.9 105.5h0.9v0.9h-0.9zM291.7 93.6h0.9v0.9h-0.9zM293.4 103.3h0.9v0.9h-0.9zM291.5 101.0h0.9v0.9h-0.9zM287.7 100.3h0.9v0.9h-0.9zM285.4 103.9h0.9v0.9h-0.9zM283.4 95.9h0.9v0.9h-0.9zM285.0 96.1h0.9v0.9h-0.9zM286.1 110.4h0.9v0.9h-0.9zM285.6 107.1h0.9v0.9h-0.9zM290.1 103.2h0.9v0.9h-0.9zM284.5 104.3h0.9v0.9h-0.9zM278.6 105.3h0.9v0.9h-0.9zM293.3 103.9h0.9v0.9h-0.9zM284.0 116.4h0.9v0.9h-0.9zM278.1 100.6h0.9v0.9h-0.9zM282.9 107.0h0.9v0.9h-0.9zM286.7 97.5h0.9v0.9h-0.9zM287.4 107.1h0.9v0.9h-0.9zM290.2 113.2h0.9v0.9h-0.9zM301.3 103.4h0.9v0.9h-0.9zM280.3 99.6h0.9v0.9h-0.9zM299.3 95.0h0.9v0.9h-0.9zM290.0 109.8h0.9v0.9h-0.9zM286.8 100.0h0.9v0.9h-0.9zM274.3 105.0h0.9v0.9h-0.9zM287.0 107.6h0.9v0.9h-0.9zM293.1 98.7h0.9v0.9h-0.9zM282.0 104.2h0.9v0.9h-0.9zM278.9 111.1h0.9v0.9h-0.9zM280.4 99.3h0.9v0.9h-0.9zM290.0 102.3h0.9v0.9h-0.9zM289.1 104.0h0.9v0.9h-0.9zM299.2 95.1h0.9v0.9h-0.9zM285.7 101.5h0.9v0.9h-0.9zM294.1 108.7h0.9v0.9h-0.9zM280.9 114.8h0.9v0.9h-0.9zM287.4 98.8h0.9v0.9h-0.9zM296.0 104.2h0.9v0.9h-0.9zM286.9 105.8h0.9v0.9h-0.9zM292.2 102.3h0.9v0.9h-0.9zM280.5 100.6h0.9v0.9h-0.9zM282.7 102.7h0.9v0.9h-0.9zM285.3 101.5h0.9v0.9h-0.9zM281.4 99.4h0.9v0.9h-0.9zM285.8 102.6h0.9v0.9h-0.9zM298.3 103.2h0.9v0.9h-0.9zM287.3 91.6h0.9v0.9h-0.9zM290.5 104.6h0.9v0.9h-0.9zM299.0 102.8h0.9v0.9h-0.9zM289.0 104.3h0.9v0.9h-0.9zM287.9 93.1h0.9v0.9h-0.9zM285.7 114.6h0.9v0.9h-0.9zM296.1 104.0h0.9v0.9h-0.9zM294.8 95.2h0.9v0.9h-0.9zM302.3 109.7h0.9v0.9h-0.9zM302.4 107.3h0.9v0.9h-0.9zM279.2 101.0h0.9v0.9h-0.9zM293.9 110.6h0.9v0.9h-0.9zM302.7 106.9h0.9v0.9h-0.9zM291.1 98.5h0.9v0.9h-0.9zM290.1 100.3h0.9v0.9h-0.9zM281.6 106.2h0.9v0.9h-0.9zM296.5 112.8h0.9v0.9h-0.9zM282.5 101.5h0.9v0.9h-0.9zM290.2 111.6h0.9v0.9h-0.9zM286.9 104.9h0.9v0.9h-0.9zM292.1 100.0h0.9v0.9h-0.9zM286.3 111.2h0.9v0.9h-0.9zM286.3 99.1h0.9v0.9h-0.9zM295.8 102.9h0.9v0.9h-0.9zM288.8 92.5h0.9v0.9h-0.9zM295.0 102.2h0.9v0.9h-0.9zM284.8 108.4h0.9v0.9h-0.9zM298.8 97.1h0.9v0.9h-0.9zM292.5 95.6h0.9v0.9h-0.9zM297.1 112.4h0.9v0.9h-0.9zM294.2 107.5h0.9v0.9h-0.9zM278.9 99.9h0.9v0.9h-0.9zM272.3 103.6h0.9v0.9h-0.9zM296.0 114.4h0.9v0.9h-0.9zM285.9 97.5h0.9v0.9h-0.9zM286.4 109.3h0.9v0.9h-0.9zM283.6 107.0h0.9v0.9h-0.9zM285.4 106.0h0.9v0.9h-0.9zM291.0 103.5h0.9v0.9h-0.9zM294.8 108.2h0.9v0.9h-0.9zM287.1 99.0h0.9v0.9h-0.9zM274.8 104.5h0.9v0.9h-0.9zM292.9 111.4h0.9v0.9h-0.9zM291.0 103.1h0.9v0.9h-0.9zM285.0 104.8h0.9v0.9h-0.9zM280.6 108.9h0.9v0.9h-0.9zM280.3 95.0h0.9v0.9h-0.9zM297.2 92.6h0.9v0.9h-0.9zM285.0 111.6h0.9v0.9h-0.9zM296.8 105.8h0.9v0.9h-0.9zM287.4 106.7h0.9v0.9h-0.9zM294.7 101.6h0.9v0.9h-0.9zM283.0 104.4h0.9v0.9h-0.9zM280.8 108.4h0.9v0.9h-0.9zM287.7 103.6h0.9v0.9h-0.9zM277.7 101.0h0.9v0.9h-0.9zM280.3 99.1h0.9v0.9h-0.9zM292.0 95.8h0.9v0.9h-0.9zM299.2 90.7h0.9v0.9h-0.9zM290.2 101.7h0.9v0.9h-0.9zM278.2 101.5h0.9v0.9h-0.9zM282.3 117.4h0.9v0.9h-0.9zM290.1 100.5h0.9v0.9h-0.9zM288.1 97.7h0.9v0.9h-0.9zM304.6 114.2h0.9v0.9h-0.9zM301.3 99.9h0.9v0.9h-0.9zM287.1 102.1h0.9v0.9h-0.9zM302.7 109.4h0.9v0.9h-0.9zM282.8 109.5h0.9v0.9h-0.9zM282.8 109.6h0.9v0.9h-0.9zM298.4 107.7h0.9v0.9h-0.9zM282.2 98.9h0.9v0.9h-0.9zM285.4 100.5h0.9v0.9h-0.9zM299.5 101.6h0.9v0.9h-0.9zM286.3 107.6h0.9v0.9h-0.9zM297.9 102.7h0.9v0.9h-0.9zM293.7 110.1h0.9v0.9h-0.9zM286.3 105.6h0.9v0.9h-0.9zM293.3 106.1h0.9v0.9h-0.9zM296.4 92.1h0.9v0.9h-0.9zM294.5 105.2h0.9v0.9h-0.9zM283.6 98.6h0.9v0.9h-0.9zM295.2 109.2h0.9v0.9h-0.9zM273.7 103.4h0.9v0.9h-0.9zM287.0 108.3h0.9v0.9h-0.9zM289.3 108.0h0.9v0.9h-0.9zM295.2 101.3h0.9v0.9h-0.9zM298.0 100.4h0.9v0.9h-0.9zM280.1 110.2h0.9v0.9h-0.9zM285.3 111.7h0.9v0.9h-0.9zM288.1 100.0h0.9v0.9h-0.9zM285.8 95.6h0.9v0.9h-0.9zM291.4 109.1h0.9v0.9h-0.9zM293.1 96.5h0.9v0.9h-0.9zM293.4 104.1h0.9v0.9h-0.9zM286.7 93.0h0.9v0.9h-0.9zM309.9 110.3h0.9v0.9h-0.9zM281.3 106.5h0.9v0.9h-0.9zM287.6 102.2h0.9v0.9h-0.9zM299.2 97.6h0.9v0.9h-0.9zM294.4 89.1h0.9v0.9h-0.9zM294.2 103.9h0.9v0.9h-0.9zM297.4 108.1h0.9v0.9h-0.9zM287.9 105.6h0.9v0.9h-0.9zM289.8 97.2h0.9v0.9h-0.9zM296.6 108.4h0.9v0.9h-0.9zM299.8 106.3h0.9v0.9h-0.9zM280.8 95.7h0.9v0.9h-0.9zM285.8 95.0h0.9v0.9h-0.9zM289.3 99.0h0.9v0.9h-0.9zM295.2 111.1h0.9v0.9h-0.9zM281.2 100.9h0.9v0.9h-0.9zM295.5 114.1h0.9v0.9h-0.9zM284.9 111.3h0.9v0.9h-0.9zM294.3 95.2h0.9v0.9h-0.9zM291.0 103.0h0.9v0.9h-0.9zM299.1 122.7h0.9v0.9h-0.9zM282.6 104.4h0.9v0.9h-0.9zM293.1 108.4h0.9v0.9h-0.9zM287.5 106.5h0.9v0.9h-0.9zM284.8 103.0h0.9v0.9h-0.9zM295.6 100.4h0.9v0.9h-0.9zM283.0 106.0h0.9v0.9h-0.9zM294.2 106.9h0.9v0.9h-0.9zM282.6 107.8h0.9v0.9h-0.9zM281.6 109.2h0.9v0.9h-0.9zM293.8 98.4h0.9v0.9h-0.9zM303.4 99.3h0.9v0.9h-0.9zM292.3 108.7h0.9v0.9h-0.9zM283.1 105.3h0.9v0.9h-0.9zM291.4 93.9h0.9v0.9h-0.9zM287.2 99.1h0.9v0.9h-0.9zM284.8 117.5h0.9v0.9h-0.9zM290.6 102.4h0.9v0.9h-0.9zM292.7 102.9h0.9v0.9h-0.9zM294.5 106.4h0.9v0.9h-0.9zM282.4 107.0h0.9v0.9h-0.9zM299.8 96.7h0.9v0.9h-0.9zM287.2 100.5h0.9v0.9h-0.9zM278.6 112.9h0.9v0.9h-0.9zM283.6 99.0h0.9v0.9h-0.9zM289.9 104.7h0.9v0.9h-0.9zM283.5 112.3h0.9v0.9h-0.9zM290.4 103.8h0.9v0.9h-0.9zM283.1 103.9h0.9v0.9h-0.9zM295.7 99.4h0.9v0.9h-0.9zM290.1 100.1h0.9v0.9h-0.9zM287.3 110.6h0.9v0.9h-0.9zM295.4 107.6h0.9v0.9h-0.9zM282.8 105.8h0.9v0.9h-0.9zM287.9 101.6h0.9v0.9h-0.9zM292.7 113.4h0.9v0.9h-0.9zM291.3 114.1h0.9v0.9h-0.9zM289.3 105.2h0.9v0.9h-0.9zM294.6 99.7h0.9v0.9h-0.9zM285.5 98.3h0.9v0.9h-0.9zM288.7 116.9h0.9v0.9h-0.9zM283.1 118.7h0.9v0.9h-0.9zM288.4 100.7h0.9v0.9h-0.9zM281.2 105.4h0.9v0.9h-0.9zM281.2 93.2h0.9v0.9h-0.9zM288.7 99.8h0.9v0.9h-0.9zM282.1 114.9h0.9v0.9h-0.9zM293.8 108.7h0.9v0.9h-0.9zM295.1 109.0h0.9v0.9h-0.9zM292.6 102.5h0.9v0.9h-0.9zM293.7 98.6h0.9v0.9h-0.9zM292.2 102.5h0.9v0.9h-0.9zM279.0 110.5h0.9v0.9h-0.9zM281.6 106.5h0.9v0.9h-0.9zM291.0 107.9h0.9v0.9h-0.9zM281.7 107.9h0.9v0.9h-0.9zM284.4 100.2h0.9v0.9h-0.9zM288.6 105.0h0.9v0.9h-0.9zM290.8 99.2h0.9v0.9h-0.9zM278.5 98.4h0.9v0.9h-0.9zM289.0 107.0h0.9v0.9h-0.9zM294.4 96.9h0.9v0.9h-0.9zM291.3 112.6h0.9v0.9h-0.9zM298.6 105.5h0.9v0.9h-0.9zM285.8 96.8h0.9v0.9h-0.9zM297.1 101.0h0.9v0.9h-0.9zM302.9 98.2h0.9v0.9h-0.9zM293.5 109.5h0.9v0.9h-0.9zM295.3 107.4h0.9v0.9h-0.9zM295.5 104.6h0.9v0.9h-0.9zM274.7 113.5h0.9v0.9h-0.9zM284.3 104.5h0.9v0.9h-0.9zM295.9 102.9h0.9v0.9h-0.9zM280.6 99.1h0.9v0.9h-0.9zM290.8 97.6h0.9v0.9h-0.9zM292.4 106.4h0.9v0.9h-0.9zM297.1 108.8h0.9v0.9h-0.9zM288.0 103.8h0.9v0.9h-0.9zM294.5 105.9h0.9v0.9h-0.9zM288.7 104.6h0.9v0.9h-0.9zM299.1 113.7h0.9v0.9h-0.9zM284.7 105.5h0.9v0.9h-0.9zM285.4 110.7h0.9v0.9h-0.9zM291.4 103.3h0.9v0.9h-0.9zM299.7 99.5h0.9v0.9h-0.9zM290.5 95.6h0.9v0.9h-0.9zM288.6 98.2h0.9v0.9h-0.9zM284.8 106.5h0.9v0.9h-0.9zM295.6 98.6h0.9v0.9h-0.9zM284.3 110.2h0.9v0.9h-0.9zM287.2 101.9h0.9v0.9h-0.9zM287.0 93.8h0.9v0.9h-0.9zM296.1 105.0h0.9v0.9h-0.9zM283.2 101.3h0.9v0.9h-0.9zM283.3 114.5h0.9v0.9h-0.9zM290.1 107.9h0.9v0.9h-0.9zM289.1 98.5h0.9v0.9h-0.9zM279.2 104.5h0.9v0.9h-0.9zM283.0 96.1h0.9v0.9h-0.9zM284.6 95.4h0.9v0.9h-0.9zM289.1 103.6h0.9v0.9h-0.9zM283.3 106.9h0.9v0.9h-0.9zM301.6 101.2h0.9v0.9h-0.9zM290.6 110.4h0.9v0.9h-0.9zM296.7 93.9h0.9v0.9h-0.9zM290.9 107.1h0.9v0.9h-0.9zM290.4 105.4h0.9v0.9h-0.9zM293.6 95.7h0.9v0.9h-0.9zM286.6 106.4h0.9v0.9h-0.9zM277.0 102.3h0.9v0.9h-0.9zM291.7 110.6h0.9v0.9h-0.9zM283.9 95.3h0.9v0.9h-0.9zM297.3 107.7h0.9v0.9h-0.9zM282.9 102.4h0.9v0.9h-0.9zM289.8 112.5h0.9v0.9h-0.9zM289.0 118.2h0.9v0.9h-0.9zM285.1 101.9h0.9v0.9h-0.9zM286.3 102.5h0.9v0.9h-0.9zM287.7 103.5h0.9v0.9h-0.9zM290.0 103.5h0.9v0.9h-0.9zM290.5 109.5h0.9v0.9h-0.9zM289.1 100.9h0.9v0.9h-0.9zM288.8 99.8h0.9v0.9h-0.9zM274.4 103.7h0.9v0.9h-0.9zM297.8 103.9h0.9v0.9h-0.9zM293.3 111.9h0.9v0.9h-0.9zM280.6 101.0h0.9v0.9h-0.9zM283.4 100.6h0.9v0.9h-0.9zM275.0 107.2h0.9v0.9h-0.9zM285.8 98.3h0.9v0.9h-0.9zM299.7 101.9h0.9v0.9h-0.9zM289.9 96.3h0.9v0.9h-0.9zM290.3 108.1h0.9v0.9h-0.9zM289.4 99.3h0.9v0.9h-0.9zM292.7 100.1h0.9v0.9h-0.9zM288.6 101.6h0.9v0.9h-0.9zM283.5 98.8h0.9v0.9h-0.9zM285.1 104.1h0.9v0.9h-0.9zM293.4 108.7h0.9v0.9h-0.9zM286.3 105.4h0.9v0.9h-0.9zM276.5 115.6h0.9v0.9h-0.9zM292.5 104.6h0.9v0.9h-0.9zM290.4 94.5h0.9v0.9h-0.9zM297.7 103.6h0.9v0.9h-0.9zM289.6 100.5h0.9v0.9h-0.9zM289.1 109.0h0.9v0.9h-0.9zM288.3 102.6h0.9v0.9h-0.9zM283.8 105.8h0.9v0.9h-0.9zM290.7 96.1h0.9v0.9h-0.9zM285.6 99.9h0.9v0.9h-0.9zM282.2 104.6h0.9v0.9h-0.9zM288.3 101.9h0.9v0.9h-0.9zM289.6 103.9h0.9v0.9h-0.9zM291.3 112.8h0.9v0.9h-0.9zM293.3 96.9h0.9v0.9h-0.9zM303.2 97.1h0.9v0.9h-0.9zM287.2 111.1h0.9v0.9h-0.9zM297.7 105.0h0.9v0.9h-0.9zM289.0 100.0h0.9v0.9h-0.9zM289.8 105.9h0.9v0.9h-0.9zM294.2 108.9h0.9v0.9h-0.9zM283.4 99.8h0.9v0.9h-0.9zM288.5 109.0h0.9v0.9h-0.9zM293.4 103.0h0.9v0.9h-0.9zM279.6 111.6h0.9v0.9h-0.9zM282.8 91.8h0.9v0.9h-0.9zM286.0 114.2h0.9v0.9h-0.9zM288.8 103.3h0.9v0.9h-0.9zM294.0 110.4h0.9v0.9h-0.9zM280.6 100.6h0.9v0.9h-0.9zM298.0 106.7h0.9v0.9h-0.9zM293.5 110.1h0.9v0.9h-0.9zM292.9 104.5h0.9v0.9h-0.9zM276.1 101.7h0.9v0.9h-0.9zM291.1 100.0h0.9v0.9h-0.9zM283.9 100.0h0.9v0.9h-0.9zM293.7 108.4h0.9v0.9h-0.9zM288.3 98.7h0.9v0.9h-0.9zM286.1 107.9h0.9v0.9h-0.9zM282.9 104.2h0.9v0.9h-0.9zM287.4 102.7h0.9v0.9h-0.9zM293.3 100.2h0.9v0.9h-0.9zM278.3 101.4h0.9v0.9h-0.9zM284.0 92.8h0.9v0.9h-0.9zM287.3 107.4h0.9v0.9h-0.9zM287.6 101.4h0.9v0.9h-0.9zM285.8 110.7h0.9v0.9h-0.9zM290.2 99.7h0.9v0.9h-0.9zM289.4 99.5h0.9v0.9h-0.9zM275.2 103.6h0.9v0.9h-0.9zM295.5 101.8h0.9v0.9h-0.9zM279.7 97.6h0.9v0.9h-0.9zM296.5 92.7h0.9v0.9h-0.9zM293.9 99.3h0.9v0.9h-0.9zM277.5 100.5h0.9v0.9h-0.9zM289.6 107.8h0.9v0.9h-0.9zM297.8 108.0h0.9v0.9h-0.9zM297.9 98.3h0.9v0.9h-0.9zM290.1 108.2h0.9v0.9h-0.9zM283.9 98.3h0.9v0.9h-0.9zM296.8 100.1h0.9v0.9h-0.9zM279.2 101.5h0.9v0.9h-0.9zM279.2 99.0h0.9v0.9h-0.9zM294.0 108.1h0.9v0.9h-0.9zM281.0 112.5h0.9v0.9h-0.9zM292.5 98.3h0.9v0.9h-0.9zM282.0 106.1h0.9v0.9h-0.9zM284.8 103.9h0.9v0.9h-0.9zM296.5 106.6h0.9v0.9h-0.9zM288.5 100.8h0.9v0.9h-0.9zM293.1 110.9h0.9v0.9h-0.9zM287.7 107.6h0.9v0.9h-0.9zM286.0 107.0h0.9v0.9h-0.9zM284.5 115.4h0.9v0.9h-0.9zM282.9 100.2h0.9v0.9h-0.9zM291.6 103.7h0.9v0.9h-0.9zM291.9 107.9h0.9v0.9h-0.9zM299.8 109.7h0.9v0.9h-0.9zM290.8 104.5h0.9v0.9h-0.9zM287.3 107.7h0.9v0.9h-0.9zM292.2 112.1h0.9v0.9h-0.9zM298.4 103.0h0.9v0.9h-0.9zM279.6 102.7h0.9v0.9h-0.9zM299.8 104.5h0.9v0.9h-0.9zM283.7 90.5h0.9v0.9h-0.9zM283.8 107.3h0.9v0.9h-0.9zM305.7 107.1h0.9v0.9h-0.9zM296.1 115.0h0.9v0.9h-0.9zM285.5 96.4h0.9v0.9h-0.9zM294.6 105.8h0.9v0.9h-0.9zM297.8 106.4h0.9v0.9h-0.9zM293.5 107.9h0.9v0.9h-0.9zM296.1 97.5h0.9v0.9h-0.9zM291.3 87.1h0.9v0.9h-0.9zM292.4 104.3h0.9v0.9h-0.9zM281.6 105.5h0.9v0.9h-0.9zM282.3 105.5h0.9v0.9h-0.9zM290.2 100.3h0.9v0.9h-0.9zM280.3 99.4h0.9v0.9h-0.9zM293.4 103.5h0.9v0.9h-0.9zM288.5 98.8h0.9v0.9h-0.9zM296.7 98.8h0.9v0.9h-0.9zM294.8 105.5h0.9v0.9h-0.9zM286.3 107.1h0.9v0.9h-0.9zM271.5 97.9h0.9v0.9h-0.9zM279.6 93.9h0.9v0.9h-0.9zM289.0 98.4h0.9v0.9h-0.9zM302.3 107.8h0.9v0.9h-0.9zM289.1 102.3h0.9v0.9h-0.9zM292.8 107.8h0.9v0.9h-0.9zM288.9 107.4h0.9v0.9h-0.9zM271.7 110.4h0.9v0.9h-0.9zM292.9 102.1h0.9v0.9h-0.9zM287.4 104.7h0.9v0.9h-0.9zM279.2 108.8h0.9v0.9h-0.9zM293.5 101.6h0.9v0.9h-0.9zM288.7 98.6h0.9v0.9h-0.9zM308.2 110.1h0.9v0.9h-0.9zM274.6 112.3h0.9v0.9h-0.9zM283.8 99.3h0.9v0.9h-0.9zM289.3 106.9h0.9v0.9h-0.9zM286.5 106.5h0.9v0.9h-0.9zM293.2 105.2h0.9v0.9h-0.9zM294.8 101.9h0.9v0.9h-0.9zM292.1 99.4h0.9v0.9h-0.9zM289.4 97.5h0.9v0.9h-0.9zM284.5 109.4h0.9v0.9h-0.9zM290.2 104.0h0.9v0.9h-0.9zM294.8 107.2h0.9v0.9h-0.9zM289.8 94.0h0.9v0.9h-0.9zM275.4 109.4h0.9v0.9h-0.9zM300.0 109.3h0.9v0.9h-0.9zM285.8 105.6h0.9v0.9h-0.9zM294.7 115.4h0.9v0.9h-0.9zM285.8 105.2h0.9v0.9h-0.9zM296.1 104.9h0.9v0.9h-0.9zM286.9 98.8h0.9v0.9h-0.9zM298.7 100.5h0.9v0.9h-0.9zM297.5 106.6h0.9v0.9h-0.9zM284.8 105.8h0.9v0.9h-0.9zM291.3 100.7h0.9v0.9h-0.9zM282.6 106.7h0.9v0.9h-0.9zM295.4 98.9h0.9v0.9h-0.9zM291.5 103.0h0.9v0.9h-0.9zM286.6 100.5h0.9v0.9h-0.9zM282.9 91.7h0.9v0.9h-0.9zM283.5 108.3h0.9v0.9h-0.9zM298.6 98.9h0.9v0.9h-0.9zM295.3 99.1h0.9v0.9h-0.9zM287.6 104.8h0.9v0.9h-0.9zM291.1 97.5h0.9v0.9h-0.9zM295.0 98.7h0.9v0.9h-0.9zM287.8 89.8h0.9v0.9h-0.9zM277.3 103.8h0.9v0.9h-0.9zM299.8 107.4h0.9v0.9h-0.9zM286.9 101.4h0.9v0.9h-0.9zM285.1 109.9h0.9v0.9h-0.9zM289.2 111.9h0.9v0.9h-0.9zM282.8 107.6h0.9v0.9h-0.9zM282.0 102.1h0.9v0.9h-0.9zM290.5 107.8h0.9v0.9h-0.9zM284.4 107.9h0.9v0.9h-0.9zM291.8 104.6h0.9v0.9h-0.9zM291.7 110.0h0.9v0.9h-0.9zM301.9 106.3h0.9v0.9h-0.9zM287.3 97.3h0.9v0.9h-0.9zM289.7 102.5h0.9v0.9h-0.9zM285.6 104.4h0.9v0.9h-0.9zM296.8 97.1h0.9v0.9h-0.9zM292.3 95.9h0.9v0.9h-0.9zM291.6 104.3h0.9v0.9h-0.9zM301.4 106.5h0.9v0.9h-0.9zM291.0 98.2h0.9v0.9h-0.9zM290.9 106.6h0.9v0.9h-0.9zM280.6 98.5h0.9v0.9h-0.9zM277.8 97.1h0.9v0.9h-0.9zM285.8 108.8h0.9v0.9h-0.9zM289.8 104.6h0.9v0.9h-0.9zM282.0 93.8h0.9v0.9h-0.9zM282.9 94.8h0.9v0.9h-0.9zM294.1 104.2h0.9v0.9h-0.9zM285.4 98.9h0.9v0.9h-0.9zM285.3 99.0h0.9v0.9h-0.9zM286.9 96.0h0.9v0.9h-0.9zM282.0 102.2h0.9v0.9h-0.9zM294.7 116.4h0.9v0.9h-0.9zM298.4 94.7h0.9v0.9h-0.9zM295.9 112.8h0.9v0.9h-0.9zM299.2 98.8h0.9v0.9h-0.9zM276.3 97.1h0.9v0.9h-0.9zM295.0 108.4h0.9v0.9h-0.9zM288.3 102.3h0.9v0.9h-0.9zM298.1 102.1h0.9v0.9h-0.9zM285.0 109.9h0.9v0.9h-0.9zM294.5 114.6h0.9v0.9h-0.9zM300.8 105.8h0.9v0.9h-0.9zM293.2 97.8h0.9v0.9h-0.9zM290.1 97.7h0.9v0.9h-0.9zM288.2 103.0h0.9v0.9h-0.9zM292.7 109.2h0.9v0.9h-0.9zM288.1 105.9h0.9v0.9h-0.9zM281.8 105.2h0.9v0.9h-0.9zM293.4 109.8h0.9v0.9h-0.9zM300.2 91.4h0.9v0.9h-0.9zM292.0 108.5h0.9v0.9h-0.9zM296.4 104.0h0.9v0.9h-0.9zM297.4 103.7h0.9v0.9h-0.9zM289.7 105.9h0.9v0.9h-0.9zM289.0 102.0h0.9v0.9h-0.9zM284.2 97.7h0.9v0.9h-0.9zM291.0 92.6h0.9v0.9h-0.9zM292.7 105.5h0.9v0.9h-0.9zM283.4 97.0h0.9v0.9h-0.9zM287.6 103.2h0.9v0.9h-0.9zM296.3 94.3h0.9v0.9h-0.9zM285.2 103.5h0.9v0.9h-0.9zM294.3 106.3h0.9v0.9h-0.9zM291.9 101.6h0.9v0.9h-0.9zM287.5 105.9h0.9v0.9h-0.9zM295.3 99.6h0.9v0.9h-0.9zM293.5 101.0h0.9v0.9h-0.9zM289.1 104.8h0.9v0.9h-0.9zM290.1 103.8h0.9v0.9h-0.9zM292.1 106.4h0.9v0.9h-0.9zM292.7 104.5h0.9v0.9h-0.9zM292.3 109.2h0.9v0.9h-0.9zM294.1 112.9h0.9v0.9h-0.9zM286.3 107.4h0.9v0.9h-0.9zM299.1 109.2h0.9v0.9h-0.9zM288.8 105.9h0.9v0.9h-0.9zM288.4 98.2h0.9v0.9h-0.9zM298.0 108.7h0.9v0.9h-0.9zM296.0 108.8h0.9v0.9h-0.9zM277.4 97.9h0.9v0.9h-0.9zM289.5 103.1h0.9v0.9h-0.9zM294.5 95.5h0.9v0.9h-0.9zM293.0 105.8h0.9v0.9h-0.9zM278.7 112.2h0.9v0.9h-0.9zM284.9 104.9h0.9v0.9h-0.9zM284.5 100.1h0.9v0.9h-0.9zM293.6 110.0h0.9v0.9h-0.9zM295.2 106.9h0.9v0.9h-0.9zM291.9 105.1h0.9v0.9h-0.9zM289.3 108.6h0.9v0.9h-0.9zM284.3 102.8h0.9v0.9h-0.9zM296.5 110.0h0.9v0.9h-0.9zM275.2 92.4h0.9v0.9h-0.9zM293.0 106.9h0.9v0.9h-0.9zM293.4 99.5h0.9v0.9h-0.9zM291.5 106.1h0.9v0.9h-0.9zM289.5 99.7h0.9v0.9h-0.9zM290.4 95.0h0.9v0.9h-0.9zM293.8 106.8h0.9v0.9h-0.9zM285.2 96.6h0.9v0.9h-0.9zM294.3 90.6h0.9v0.9h-0.9zM289.5 102.6h0.9v0.9h-0.9zM290.1 111.2h0.9v0.9h-0.9zM272.2 113.7h0.9v0.9h-0.9zM280.8 112.4h0.9v0.9h-0.9zM288.0 93.4h0.9v0.9h-0.9zM285.2 103.6h0.9v0.9h-0.9zM295.3 98.5h0.9v0.9h-0.9zM279.7 105.0h0.9v0.9h-0.9zM297.3 93.4h0.9v0.9h-0.9zM294.7 107.3h0.9v0.9h-0.9zM290.8 104.9h0.9v0.9h-0.9zM286.2 110.9h0.9v0.9h-0.9zM281.8 110.6h0.9v0.9h-0.9zM281.5 104.4h0.9v0.9h-0.9zM284.7 95.0h0.9v0.9h-0.9zM289.3 107.0h0.9v0.9h-0.9zM293.7 100.2h0.9v0.9h-0.9zM294.0 104.1h0.9v0.9h-0.9zM296.4 110.4h0.9v0.9h-0.9zM296.0 93.2h0.9v0.9h-0.9zM284.9 102.3h0.9v0.9h-0.9zM285.9 98.4h0.9v0.9h-0.9zM296.3 105.1h0.9v0.9h-0.9zM284.1 106.3h0.9v0.9h-0.9zM296.0 105.7h0.9v0.9h-0.9zM289.7 106.1h0.9v0.9h-0.9zM280.4 99.4h0.9v0.9h-0.9zM292.3 100.5h0.9v0.9h-0.9zM290.9 103.4h0.9v0.9h-0.9zM284.2 104.9h0.9v0.9h-0.9zM273.8 103.2h0.9v0.9h-0.9zM291.2 98.7h0.9v0.9h-0.9zM292.3 102.0h0.9v0.9h-0.9zM294.8 104.8h0.9v0.9h-0.9zM292.2 97.5h0.9v0.9h-0.9zM284.8 98.7h0.9v0.9h-0.9zM278.6 106.5h0.9v0.9h-0.9zM288.6 116.4h0.9v0.9h-0.9zM295.7 104.7h0.9v0.9h-0.9zM288.8 97.7h0.9v0.9h-0.9zM281.5 112.6h0.9v0.9h-0.9zM278.5 106.9h0.9v0.9h-0.9zM272.3 98.2h0.9v0.9h-0.9zM290.6 105.5h0.9v0.9h-0.9zM292.3 106.1h0.9v0.9h-0.9zM275.3 109.6h0.9v0.9h-0.9zM285.4 98.7h0.9v0.9h-0.9zM298.6 109.7h0.9v0.9h-0.9zM275.5 101.7h0.9v0.9h-0.9zM299.1 105.4h0.9v0.9h-0.9zM296.9 97.1h0.9v0.9h-0.9zM295.0 110.7h0.9v0.9h-0.9zM292.7 105.1h0.9v0.9h-0.9zM292.7 99.0h0.9v0.9h-0.9zM293.6 106.3h0.9v0.9h-0.9zM300.2 107.8h0.9v0.9h-0.9zM282.3 109.1h0.9v0.9h-0.9zM278.0 108.5h0.9v0.9h-0.9zM276.6 93.5h0.9v0.9h-0.9zM290.9 97.8h0.9v0.9h-0.9zM296.1 103.4h0.9v0.9h-0.9zM284.8 104.8h0.9v0.9h-0.9zM292.2 96.9h0.9v0.9h-0.9zM290.9 109.7h0.9v0.9h-0.9zM297.0 106.3h0.9v0.9h-0.9zM294.2 93.9h0.9v0.9h-0.9zM292.2 97.0h0.9v0.9h-0.9zM285.1 110.3h0.9v0.9h-0.9zM287.0 93.6h0.9v0.9h-0.9zM295.2 115.3h0.9v0.9h-0.9zM290.5 112.8h0.9v0.9h-0.9zM298.0 96.8h0.9v0.9h-0.9zM285.4 105.9h0.9v0.9h-0.9zM295.7 109.4h0.9v0.9h-0.9zM288.2 95.9h0.9v0.9h-0.9zM292.2 93.1h0.9v0.9h-0.9zM278.3 112.0h0.9v0.9h-0.9zM293.9 102.2h0.9v0.9h-0.9zM283.6 94.1h0.9v0.9h-0.9zM297.1 109.6h0.9v0.9h-0.9zM295.0 109.5h0.9v0.9h-0.9zM285.3 105.8h0.9v0.9h-0.9zM299.0 103.0h0.9v0.9h-0.9zM299.3 98.0h0.9v0.9h-0.9zM300.8 94.1h0.9v0.9h-0.9zM297.5 107.6h0.9v0.9h-0.9zM287.2 106.1h0.9v0.9h-0.9zM298.9 95.2h0.9v0.9h-0.9zM281.5 98.2h0.9v0.9h-0.9zM287.5 98.7h0.9v0.9h-0.9zM291.8 100.7h0.9v0.9h-0.9zM279.2 102.7h0.9v0.9h-0.9zM297.4 111.3h0.9v0.9h-0.9zM293.6 103.6h0.9v0.9h-0.9zM288.8 109.3h0.9v0.9h-0.9zM275.8 103.7h0.9v0.9h-0.9zM285.3 108.7h0.9v0.9h-0.9zM294.8 102.5h0.9v0.9h-0.9zM293.8 108.4h0.9v0.9h-0.9zM283.7 99.1h0.9v0.9h-0.9zM281.2 93.7h0.9v0.9h-0.9zM289.7 109.1h0.9v0.9h-0.9zM282.0 96.1h0.9v0.9h-0.9zM279.0 96.9h0.9v0.9h-0.9zM298.9 111.6h0.9v0.9h-0.9zM289.6 101.4h0.9v0.9h-0.9zM291.9 103.7h0.9v0.9h-0.9zM287.9 104.8h0.9v0.9h-0.9zM295.7 106.1h0.9v0.9h-0.9zM295.8 108.9h0.9v0.9h-0.9zM288.5 101.8h0.9v0.9h-0.9zM286.7 98.0h0.9v0.9h-0.9zM286.9 108.7h0.9v0.9h-0.9zM295.3 102.6h0.9v0.9h-0.9zM290.4 100.5h0.9v0.9h-0.9zM281.8 106.9h0.9v0.9h-0.9zM298.1 107.3h0.9v0.9h-0.9zM289.6 104.5h0.9v0.9h-0.9zM292.7 91.6h0.9v0.9h-0.9zM298.7 114.9h0.9v0.9h-0.9zM292.8 103.0h0.9v0.9h-0.9zM294.8 95.4h0.9v0.9h-0.9zM288.9 106.4h0.9v0.9h-0.9zM293.4 110.7h0.9v0.9h-0.9zM295.3 109.9h0.9v0.9h-0.9zM292.0 105.6h0.9v0.9h-0.9zM288.9 106.0h0.9v0.9h-0.9zM288.4 93.4h0.9v0.9h-0.9zM287.7 88.2h0.9v0.9h-0.9zM291.1 110.4h0.9v0.9h-0.9zM286.4 104.7h0.9v0.9h-0.9zM293.1 104.6h0.9v0.9h-0.9zM286.5 94.7h0.9v0.9h-0.9zM295.9 112.7h0.9v0.9h-0.9zM290.2 99.8h0.9v0.9h-0.9zM285.3 107.9h0.9v0.9h-0.9zM292.2 95.4h0.9v0.9h-0.9zM282.5 91.3h0.9v0.9h-0.9zM308.7 104.5h0.9v0.9h-0.9zM285.0 106.2h0.9v0.9h-0.9zM288.5 96.9h0.9v0.9h-0.9zM298.5 117.0h0.9v0.9h-0.9zM285.8 100.3h0.9v0.9h-0.9zM283.5 111.1h0.9v0.9h-0.9zM283.1 109.7h0.9v0.9h-0.9zM296.7 95.4h0.9v0.9h-0.9zM282.1 106.1h0.9v0.9h-0.9zM300.2 98.7h0.9v0.9h-0.9zM293.4 104.6h0.9v0.9h-0.9zM288.6 102.8h0.9v0.9h-0.9zM296.7 109.0h0.9v0.9h-0.9zM289.4 99.4h0.9v0.9h-0.9zM287.6 106.7h0.9v0.9h-0.9zM281.2 107.8h0.9v0.9h-0.9zM280.1 109.9h0.9v0.9h-0.9zM290.9 99.1h0.9v0.9h-0.9zM276.3 107.6h0.9v0.9h-0.9zM279.2 107.8h0.9v0.9h-0.9zM279.4 109.7h0.9v0.9h-0.9zM288.8 90.5h0.9v0.9h-0.9zM280.2 92.9h0.9v0.9h-0.9zM287.9 92.6h0.9v0.9h-0.9zM305.3 100.5h0.9v0.9h-0.9zM289.2 96.3h0.9v0.9h-0.9zM300.3 101.0h0.9v0.9h-0.9zM289.9 102.0h0.9v0.9h-0.9zM281.8 109.3h0.9v0.9h-0.9zM285.3 108.5h0.9v0.9h-0.9zM284.6 100.6h0.9v0.9h-0.9zM291.6 102.5h0.9v0.9h-0.9zM293.2 93.5h0.9v0.9h-0.9zM289.9 100.0h0.9v0.9h-0.9zM286.2 102.2h0.9v0.9h-0.9zM283.7 100.5h0.9v0.9h-0.9zM286.1 114.3h0.9v0.9h-0.9zM283.0 89.3h0.9v0.9h-0.9zM283.6 100.0h0.9v0.9h-0.9zM304.7 103.2h0.9v0.9h-0.9zM294.4 108.1h0.9v0.9h-0.9zM282.0 105.4h0.9v0.9h-0.9zM288.8 93.8h0.9v0.9h-0.9zM290.8 97.9h0.9v0.9h-0.9zM288.4 106.1h0.9v0.9h-0.9zM284.3 104.0h0.9v0.9h-0.9zM290.9 109.6h0.9v0.9h-0.9zM289.5 106.6h0.9v0.9h-0.9zM291.7 102.2h0.9v0.9h-0.9zM295.8 101.4h0.9v0.9h-0.9zM285.1 107.3h0.9v0.9h-0.9zM289.9 99.5h0.9v0.9h-0.9zM285.5 101.9h0.9v0.9h-0.9zM283.1 109.8h0.9v0.9h-0.9zM285.1 101.0h0.9v0.9h-0.9zM289.9 105.9h0.9v0.9h-0.9zM285.0 89.0h0.9v0.9h-0.9zM282.4 98.9h0.9v0.9h-0.9zM283.9 103.4h0.9v0.9h-0.9zM289.6 106.4h0.9v0.9h-0.9zM297.8 102.5h0.9v0.9h-0.9zM297.0 103.7h0.9v0.9h-0.9zM278.5 98.7h0.9v0.9h-0.9zM286.7 102.9h0.9v0.9h-0.9zM292.4 107.7h0.9v0.9h-0.9zM286.0 98.1h0.9v0.9h-0.9zM287.7 95.7h0.9v0.9h-0.9zM282.7 109.0h0.9v0.9h-0.9zM289.7 113.5h0.9v0.9h-0.9zM287.9 111.2h0.9v0.9h-0.9zM283.2 99.8h0.9v0.9h-0.9zM292.1 101.9h0.9v0.9h-0.9zM295.4 101.1h0.9v0.9h-0.9zM291.9 106.5h0.9v0.9h-0.9zM281.4 107.9h0.9v0.9h-0.9zM290.5 99.4h0.9v0.9h-0.9zM293.8 106.9h0.9v0.9h-0.9zM295.9 105.6h0.9v0.9h-0.9zM296.5 111.7h0.9v0.9h-0.9zM294.8 102.7h0.9v0.9h-0.9zM287.6 105.4h0.9v0.9h-0.9zM292.1 93.8h0.9v0.9h-0.9zM293.3 101.2h0.9v0.9h-0.9zM289.5 107.1h0.9v0.9h-0.9zM290.9 96.5h0.9v0.9h-0.9zM282.3 99.0h0.9v0.9h-0.9zM290.8 103.3h0.9v0.9h-0.9zM286.0 101.6h0.9v0.9h-0.9zM287.9 98.4h0.9v0.9h-0.9zM299.8 100.4h0.9v0.9h-0.9zM290.3 106.5h0.9v0.9h-0.9zM290.8 111.4h0.9v0.9h-0.9zM284.8 108.7h0.9v0.9h-0.9zM279.3 105.3h0.9v0.9h-0.9zM281.1 111.1h0.9v0.9h-0.9zM286.7 95.1h0.9v0.9h-0.9zM287.4 109.9h0.9v0.9h-0.9zM277.3 104.1h0.9v0.9h-0.9zM284.5 103.1h0.9v0.9h-0.9zM288.8 100.1h0.9v0.9h-0.9zM283.6 103.6h0.9v0.9h-0.9zM286.4 106.1h0.9v0.9h-0.9zM289.5 100.0h0.9v0.9h-0.9zM296.6 98.4h0.9v0.9h-0.9zM291.0 106.0h0.9v0.9h-0.9zM298.5 112.1h0.9v0.9h-0.9zM280.0 110.0h0.9v0.9h-0.9zM297.1 109.8h0.9v0.9h-0.9zM287.7 100.0h0.9v0.9h-0.9zM295.2 101.0h0.9v0.9h-0.9zM301.5 101.5h0.9v0.9h-0.9zM294.9 114.2h0.9v0.9h-0.9zM291.5 101.2h0.9v0.9h-0.9zM299.1 110.2h0.9v0.9h-0.9zM285.8 108.2h0.9v0.9h-0.9zM295.5 99.0h0.9v0.9h-0.9zM291.4 106.2h0.9v0.9h-0.9zM291.3 111.3h0.9v0.9h-0.9zM285.0 107.6h0.9v0.9h-0.9zM291.0 105.2h0.9v0.9h-0.9zM291.2 109.9h0.9v0.9h-0.9zM288.8 96.1h0.9v0.9h-0.9zM291.0 101.0h0.9v0.9h-0.9zM280.0 104.1h0.9v0.9h-0.9zM294.9 107.9h0.9v0.9h-0.9zM287.3 110.7h0.9v0.9h-0.9zM290.5 100.5h0.9v0.9h-0.9zM284.9 104.2h0.9v0.9h-0.9zM286.7 110.6h0.9v0.9h-0.9zM284.8 110.3h0.9v0.9h-0.9zM296.9 100.5h0.9v0.9h-0.9zM283.6 98.8h0.9v0.9h-0.9zM284.1 101.9h0.9v0.9h-0.9zM287.8 105.9h0.9v0.9h-0.9zM281.1 90.5h0.9v0.9h-0.9zM282.4 111.7h0.9v0.9h-0.9zM290.2 102.7h0.9v0.9h-0.9zM290.7 109.5h0.9v0.9h-0.9zM293.7 112.0h0.9v0.9h-0.9zM291.7 101.6h0.9v0.9h-0.9zM283.3 95.7h0.9v0.9h-0.9zM282.2 94.5h0.9v0.9h-0.9zM295.5 113.0h0.9v0.9h-0.9zM274.9 100.2h0.9v0.9h-0.9zM289.8 103.6h0.9v0.9h-0.9zM293.2 96.2h0.9v0.9h-0.9zM296.4 100.9h0.9v0.9h-0.9zM297.6 105.3h0.9v0.9h-0.9zM295.8 106.7h0.9v0.9h-0.9zM301.1 103.7h0.9v0.9h-0.9zM277.3 98.1h0.9v0.9h-0.9zM287.0 102.6h0.9v0.9h-0.9zM291.1 102.2h0.9v0.9h-0.9zM274.4 110.5h0.9v0.9h-0.9zM284.0 100.5h0.9v0.9h-0.9zM296.4 96.9h0.9v0.9h-0.9zM284.6 106.0h0.9v0.9h-0.9zM295.3 98.7h0.9v0.9h-0.9zM293.0 111.0h0.9v0.9h-0.9zM296.5 111.0h0.9v0.9h-0.9zM294.2 101.7h0.9v0.9h-0.9zM292.4 101.6h0.9v0.9h-0.9zM293.3 107.4h0.9v0.9h-0.9zM283.3 94.8h0.9v0.9h-0.9zM299.7 109.5h0.9v0.9h-0.9zM287.5 111.1h0.9v0.9h-0.9zM283.8 105.1h0.9v0.9h-0.9zM291.9 104.3h0.9v0.9h-0.9zM280.1 100.3h0.9v0.9h-0.9zM302.3 99.1h0.9v0.9h-0.9zM304.3 106.0h0.9v0.9h-0.9zM296.7 105.6h0.9v0.9h-0.9zM283.1 100.6h0.9v0.9h-0.9zM292.0 109.4h0.9v0.9h-0.9zM290.9 101.8h0.9v0.9h-0.9zM285.8 109.3h0.9v0.9h-0.9zM287.3 98.4h0.9v0.9h-0.9zM292.1 105.7h0.9v0.9h-0.9zM286.0 107.3h0.9v0.9h-0.9zM289.0 109.4h0.9v0.9h-0.9zM289.6 102.3h0.9v0.9h-0.9zM281.2 104.1h0.9v0.9h-0.9zM287.2 104.6h0.9v0.9h-0.9zM286.7 110.0h0.9v0.9h-0.9zM299.8 99.0h0.9v0.9h-0.9zM290.3 102.7h0.9v0.9h-0.9zM292.1 94.1h0.9v0.9h-0.9zM291.0 113.0h0.9v0.9h-0.9zM289.4 105.0h0.9v0.9h-0.9zM290.0 102.0h0.9v0.9h-0.9zM288.8 103.3h0.9v0.9h-0.9zM276.0 108.2h0.9v0.9h-0.9zM289.7 102.1h0.9v0.9h-0.9zM285.5 105.4h0.9v0.9h-0.9zM287.6 96.0h0.9v0.9h-0.9zM283.4 96.9h0.9v0.9h-0.9zM283.6 110.4h0.9v0.9h-0.9zM289.5 104.2h0.9v0.9h-0.9zM286.5 95.0h0.9v0.9h-0.9zM289.8 104.5h0.9v0.9h-0.9zM291.0 108.2h0.9v0.9h-0.9zM289.4 112.5h0.9v0.9h-0.9zM290.2 99.6h0.9v0.9h-0.9zM285.7 104.9h0.9v0.9h-0.9zM288.1 99.4h0.9v0.9h-0.9zM293.5 94.5h0.9v0.9h-0.9zM288.4 98.4h0.9v0.9h-0.9zM293.3 103.6h0.9v0.9h-0.9zM289.9 100.9h0.9v0.9h-0.9zM296.0 102.4h0.9v0.9h-0.9zM283.2 101.0h0.9v0.9h-0.9zM291.3 105.0h0.9v0.9h-0.9zM294.9 116.2h0.9v0.9h-0.9zM284.6 107.0h0.9v0.9h-0.9zM290.5 109.4h0.9v0.9h-0.9zM291.7 114.7h0.9v0.9h-0.9zM288.7 96.2h0.9v0.9h-0.9zM295.4 97.1h0.9v0.9h-0.9zM291.7 99.4h0.9v0.9h-0.9zM288.0 96.7h0.9v0.9h-0.9zM294.8 109.8h0.9v0.9h-0.9zM291.9 97.3h0.9v0.9h-0.9zM307.6 100.2h0.9v0.9h-0.9zM279.4 109.2h0.9v0.9h-0.9zM290.5 99.2h0.9v0.9h-0.9zM289.1 105.3h0.9v0.9h-0.9zM289.4 108.4h0.9v0.9h-0.9zM276.5 100.2h0.9v0.9h-0.9zM289.9 110.5h0.9v0.9h-0.9zM285.7 107.6h0.9v0.9h-0.9zM293.9 106.3h0.9v0.9h-0.9zM282.2 103.1h0.9v0.9h-0.9zM300.2 98.6h0.9v0.9h-0.9zM288.9 114.6h0.9v0.9h-0.9zM286.0 100.8h0.9v0.9h-0.9zM291.2 102.5h0.9v0.9h-0.9zM279.8 103.3h0.9v0.9h-0.9zM282.4 103.1h0.9v0.9h-0.9zM292.8 107.1h0.9v0.9h-0.9zM287.1 99.7h0.9v0.9h-0.9zM289.5 103.8h0.9v0.9h-0.9zM274.5 109.3h0.9v0.9h-0.9zM280.2 98.1h0.9v0.9h-0.9zM278.0 103.8h0.9v0.9h-0.9zM299.4 97.0h0.9v0.9h-0.9zM287.7 103.2h0.9v0.9h-0.9zM297.0 105.2h0.9v0.9h-0.9zM287.0 99.3h0.9v0.9h-0.9zM295.4 114.4h0.9v0.9h-0.9zM285.2 96.1h0.9v0.9h-0.9zM285.6 110.4h0.9v0.9h-0.9zM287.7 103.1h0.9v0.9h-0.9zM289.1 105.7h0.9v0.9h-0.9zM275.6 98.5h0.9v0.9h-0.9zM288.4 107.3h0.9v0.9h-0.9zM282.4 106.3h0.9v0.9h-0.9zM284.1 94.9h0.9v0.9h-0.9zM286.6 103.0h0.9v0.9h-0.9zM285.8 102.7h0.9v0.9h-0.9zM288.0 108.6h0.9v0.9h-0.9zM295.3 97.2h0.9v0.9h-0.9zM295.6 108.0h0.9v0.9h-0.9zM299.7 105.8h0.9v0.9h-0.9zM284.2 112.4h0.9v0.9h-0.9zM287.8 96.6h0.9v0.9h-0.9zM286.6 109.3h0.9v0.9h-0.9zM285.7 89.1h0.9v0.9h-0.9zM292.5 96.7h0.9v0.9h-0.9zM293.4 102.1h0.9v0.9h-0.9zM288.0 97.5h0.9v0.9h-0.9zM289.7 108.0h0.9v0.9h-0.9zM296.8 101.1h0.9v0.9h-0.9zM287.9 104.4h0.9v0.9h-0.9zM295.9 103.7h0.9v0.9h-0.9zM289.0 107.7h0.9v0.9h-0.9zM292.0 100.0h0.9v0.9h-0.9zM300.9 109.5h0.9v0.9h-0.9zM285.6 102.8h0.9v0.9h-0.9zM291.5 106.3h0.9v0.9h-0.9zM297.2 107.3h0.9v0.9h-0.9zM290.1 106.8h0.9v0.9h-0.9zM297.8 99.6h0.9v0.9h-0.9zM305.7 100.9h0.9v0.9h-0.9zM298.5 100.7h0.9v0.9h-0.9zM289.0 105.3h0.9v0.9h-0.9zM284.3 105.1h0.9v0.9h-0.9zM290.8 92.0h0.9v0.9h-0.9zM286.0 92.5h0.9v0.9h-0.9zM284.6 108.1h0.9v0.9h-0.9zM294.2 97.6h0.9v0.9h-0.9zM293.7 106.4h0.9v0.9h-0.9zM279.0 99.5h0.9v0.9h-0.9zM286.2 106.1h0.9v0.9h-0.9zM282.9 105.4h0.9v0.9h-0.9zM293.7 98.1h0.9v0.9h-0.9zM292.0 110.4h0.9v0.9h-0.9zM295.6 110.4h0.9v0.9h-0.9zM289.4 106.9h0.9v0.9h-0.9zM292.9 93.9h0.9v0.9h-0.9zM294.0 99.8h0.9v0.9h-0.9zM289.3 106.6h0.9v0.9h-0.9zM295.2 109.1h0.9v0.9h-0.9zM278.0 99.4h0.9v0.9h-0.9zM296.1 89.8h0.9v0.9h-0.9zM281.0 98.3h0.9v0.9h-0.9zM287.2 107.6h0.9v0.9h-0.9zM291.0 99.5h0.9v0.9h-0.9zM290.3 111.9h0.9v0.9h-0.9zM280.6 102.1h0.9v0.9h-0.9zM289.6 112.9h0.9v0.9h-0.9zM275.3 97.6h0.9v0.9h-0.9zM287.8 103.7h0.9v0.9h-0.9zM286.2 108.1h0.9v0.9h-0.9zM298.8 99.0h0.9v0.9h-0.9zM287.2 122.9h0.9v0.9h-0.9zM284.4 110.7h0.9v0.9h-0.9zM284.6 101.6h0.9v0.9h-0.9zM283.7 106.6h0.9v0.9h-0.9zM289.0 102.1h0.9v0.9h-0.9zM290.4 102.8h0.9v0.9h-0.9zM299.4 111.2h0.9v0.9h-0.9zM280.8 105.0h0.9v0.9h-0.9zM292.7 113.3h0.9v0.9h-0.9zM280.0 103.6h0.9v0.9h-0.9zM287.1 108.8h0.9v0.9h-0.9zM296.2 107.4h0.9v0.9h-0.9zM296.8 110.5h0.9v0.9h-0.9zM294.5 102.2h0.9v0.9h-0.9zM285.4 106.5h0.9v0.9h-0.9zM295.2 106.2h0.9v0.9h-0.9zM298.7 96.0h0.9v0.9h-0.9zM280.2 108.5h0.9v0.9h-0.9zM285.6 105.7h0.9v0.9h-0.9zM289.7 99.6h0.9v0.9h-0.9zM290.7 107.8h0.9v0.9h-0.9zM291.2 109.1h0.9v0.9h-0.9zM287.8 101.7h0.9v0.9h-0.9zM284.9 106.7h0.9v0.9h-0.9zM292.5 111.7h0.9v0.9h-0.9zM284.5 105.9h0.9v0.9h-0.9zM288.1 104.3h0.9v0.9h-0.9zM292.2 103.0h0.9v0.9h-0.9zM292.1 98.8h0.9v0.9h-0.9zM294.8 109.7h0.9v0.9h-0.9zM295.1 103.2h0.9v0.9h-0.9zM293.7 98.9h0.9v0.9h-0.9zM299.0 88.0h0.9v0.9h-0.9zM280.7 103.9h0.9v0.9h-0.9zM290.6 100.3h0.9v0.9h-0.9zM290.6 102.7h0.9v0.9h-0.9zM287.9 103.9h0.9v0.9h-0.9zM289.3 102.6h0.9v0.9h-0.9zM291.7 106.2h0.9v0.9h-0.9zM287.2 109.3h0.9v0.9h-0.9zM302.4 101.5h0.9v0.9h-0.9zM302.2 105.6h0.9v0.9h-0.9zM286.4 100.9h0.9v0.9h-0.9zM296.1 108.3h0.9v0.9h-0.9zM294.9 102.7h0.9v0.9h-0.9zM291.0 102.5h0.9v0.9h-0.9zM288.3 105.6h0.9v0.9h-0.9zM292.8 104.0h0.9v0.9h-0.9zM290.5 100.6h0.9v0.9h-0.9zM286.1 105.3h0.9v0.9h-0.9zM295.1 107.8h0.9v0.9h-0.9zM290.6 103.6h0.9v0.9h-0.9zM296.7 100.8h0.9v0.9h-0.9zM281.2 110.4h0.9v0.9h-0.9zM284.5 104.3h0.9v0.9h-0.9zM286.8 98.9h0.9v0.9h-0.9zM282.1 102.8h0.9v0.9h-0.9zM293.1 110.2h0.9v0.9h-0.9zM295.8 110.6h0.9v0.9h-0.9zM290.0 107.8h0.9v0.9h-0.9zM295.1 97.3h0.9v0.9h-0.9zM284.9 101.9h0.9v0.9h-0.9zM281.4 111.1h0.9v0.9h-0.9zM298.1 108.5h0.9v0.9h-0.9zM295.7 105.3h0.9v0.9h-0.9zM294.0 108.4h0.9v0.9h-0.9zM287.2 102.5h0.9v0.9h-0.9zM295.9 106.0h0.9v0.9h-0.9zM293.2 106.7h0.9v0.9h-0.9zM306.1 99.6h0.9v0.9h-0.9zM272.3 109.6h0.9v0.9h-0.9zM281.5 102.0h0.9v0.9h-0.9zM294.8 107.7h0.9v0.9h-0.9zM294.1 98.7h0.9v0.9h-0.9zM291.4 112.0h0.9v0.9h-0.9zM288.1 116.1h0.9v0.9h-0.9zM285.1 101.1h0.9v0.9h-0.9zM299.8 107.9h0.9v0.9h-0.9zM296.6 99.0h0.9v0.9h-0.9zM291.5 114.4h0.9v0.9h-0.9zM292.0 96.9h0.9v0.9h-0.9zM300.2 102.3h0.9v0.9h-0.9zM282.9 101.3h0.9v0.9h-0.9zM281.9 113.5h0.9v0.9h-0.9zM288.6 98.4h0.9v0.9h-0.9zM282.7 106.0h0.9v0.9h-0.9zM294.9 110.0h0.9v0.9h-0.9zM293.8 105.7h0.9v0.9h-0.9zM294.0 101.6h0.9v0.9h-0.9zM287.8 105.7h0.9v0.9h-0.9zM285.5 101.3h0.9v0.9h-0.9zM292.0 107.6h0.9v0.9h-0.9zM275.9 107.2h0.9v0.9h-0.9zM279.4 105.3h0.9v0.9h-0.9zM282.7 109.1h0.9v0.9h-0.9zM280.3 101.7h0.9v0.9h-0.9zM289.3 102.4h0.9v0.9h-0.9zM281.8 105.4h0.9v0.9h-0.9zM293.4 107.0h0.9v0.9h-0.9zM288.5 101.6h0.9v0.9h-0.9zM278.5 107.1h0.9v0.9h-0.9zM273.3 107.4h0.9v0.9h-0.9zM301.0 104.4h0.9v0.9h-0.9zM291.0 103.2h0.9v0.9h-0.9zM291.8 101.4h0.9v0.9h-0.9zM285.8 111.1h0.9v0.9h-0.9zM282.7 99.9h0.9v0.9h-0.9zM297.6 112.8h0.9v0.9h-0.9zM281.4 102.2h0.9v0.9h-0.9zM286.3 95.9h0.9v0.9h-0.9zM289.0 107.6h0.9v0.9h-0.9zM283.3 104.8h0.9v0.9h-0.9zM285.4 101.4h0.9v0.9h-0.9zM285.5 103.2h0.9v0.9h-0.9zM285.7 102.7h0.9v0.9h-0.9zM298.9 107.6h0.9v0.9h-0.9zM289.2 97.6h0.9v0.9h-0.9zM295.3 98.4h0.9v0.9h-0.9zM283.3 110.5h0.9v0.9h-0.9zM285.3 106.8h0.9v0.9h-0.9zM284.8 102.8h0.9v0.9h-0.9zM278.7 112.1h0.9v0.9h-0.9zM288.9 101.1h0.9v0.9h-0.9zM279.7 115.3h0.9v0.9h-0.9zM281.3 100.0h0.9v0.9h-0.9zM288.9 105.5h0.9v0.9h-0.9zM290.8 105.2h0.9v0.9h-0.9zM283.7 112.0h0.9v0.9h-0.9zM289.8 107.4h0.9v0.9h-0.9zM296.6 106.7h0.9v0.9h-0.9zM298.2 107.5h0.9v0.9h-0.9zM294.8 109.3h0.9v0.9h-0.9zM286.9 109.7h0.9v0.9h-0.9zM297.1 100.7h0.9v0.9h-0.9zM287.1 101.2h0.9v0.9h-0.9zM287.0 105.4h0.9v0.9h-0.9zM295.2 95.4h0.9v0.9h-0.9zM291.3 94.8h0.9v0.9h-0.9zM292.2 105.6h0.9v0.9h-0.9zM283.6 106.2h0.9v0.9h-0.9zM287.2 101.9h0.9v0.9h-0.9zM291.0 99.7h0.9v0.9h-0.9zM292.4 99.0h0.9v0.9h-0.9zM292.6 105.0h0.9v0.9h-0.9zM277.5 113.3h0.9v0.9h-0.9zM303.5 101.9h0.9v0.9h-0.9zM294.2 106.1h0.9v0.9h-0.9zM283.7 103.4h0.9v0.9h-0.9z" fill="#3a46aa" fill-opacity="0.6000000000000001"/>
<path d="M227.7 36.8H251.7V73.3H227.7Z M227.7 54.1H251.7 M227.7 54.1H214.9V73.3H227.7" fill="none" stroke="#606060" stroke-width="0.7"/>
<path d="M286.1 36.8H310.1V73.3H286.1Z M286.1 54.1H310.1 M286.1 54.1H273.3V73.3H286.1" fill="none" stroke="#606060" stroke-width="0.7"/>
<path d="M227.7 94.3H251.7V130.8H227.7Z M227.7 111.6H251.7 M227.7 111.6H214.9V130.8H227.7" fill="none" stroke="#606060" stroke-width="0.7"/>
<path d="M286.1 94.3H310.1V130.8H286.1Z M286.1 111.6H310.1 M286.1 111.6H273.3V130.8H286.1" fill="none" stroke="#606060" stroke-width="0.7"/>
<text x="235.60" y="31.80" font-size="8.4" text-anchor="middle" font-weight="normal" fill="#222" stroke="#222" stroke-width="0.15">WT</text>
<text x="297.00" y="31.00" font-size="7.6" text-anchor="middle" font-weight="normal" fill="#222" textLength="43.5" lengthAdjust="spacingAndGlyphs" stroke="#222" stroke-width="0.15">Lin<tspan font-size="4.5" dy="-2.5">-</tspan><tspan dy="2.5">ckit</tspan><tspan font-size="4.5" dy="-2.5">+</tspan><tspan dy="2.5">Sca1</tspan><tspan font-size="4.5" dy="-2.5">-</tspan></text>
<text x="298.40" y="47.80" font-size="5.8" text-anchor="middle" font-weight="normal" fill="#333" textLength="12" lengthAdjust="spacingAndGlyphs" stroke="#333" stroke-width="0.15">GMP</text>
<text x="298.40" y="65.80" font-size="5.8" text-anchor="middle" font-weight="normal" fill="#333" textLength="12" lengthAdjust="spacingAndGlyphs" stroke="#333" stroke-width="0.15">CMP</text>
<text x="280.30" y="65.80" font-size="5.4" text-anchor="middle" font-weight="normal" fill="#333" textLength="10.5" lengthAdjust="spacingAndGlyphs" stroke="#333" stroke-width="0.15">MEP</text>
<text x="237.50" y="89.80" font-size="8.4" text-anchor="middle" font-weight="normal" fill="#222" stroke="#222" stroke-width="0.15">KM</text>
<text x="297.50" y="89.80" font-size="8.4" text-anchor="middle" font-weight="normal" fill="#222" textLength="27" lengthAdjust="spacingAndGlyphs" stroke="#222" stroke-width="0.15">KMUKO</text>
<path d="M202.8 139.2 V62" stroke="#111" stroke-width="1.4" fill="none"/>
<path d="M199.6 63.5 L202.8 56.8 L206 63.5 Z" fill="#111"/>
<path d="M202.1 139.2 H300" stroke="#111" stroke-width="1.4" fill="none"/>
<path d="M299 136 L305.8 139.2 L299 142.4 Z" fill="#111"/>
<text x="203.60" y="39.00" font-size="10.8" text-anchor="middle" font-weight="normal" fill="#222" textLength="29.6" lengthAdjust="spacingAndGlyphs" transform="rotate(-90 203.6 39)" stroke="#222" stroke-width="0.15">CD16/32</text>
<text x="316.20" y="142.80" font-size="10.8" text-anchor="middle" font-weight="normal" fill="#222" textLength="19.5" lengthAdjust="spacingAndGlyphs" stroke="#222" stroke-width="0.15">CD34</text>
<line x1="366.00" y1="45.80" x2="366.00" y2="139.60" stroke="#2a2a2a" stroke-width="1.3"/>
<line x1="363.00" y1="139.60" x2="366.00" y2="139.60" stroke="#2a2a2a" stroke-width="1.0"/>
<text x="360.60" y="142.20" font-size="7.7" text-anchor="end" font-weight="normal" fill="#333" stroke="#333" stroke-width="0.15">0.0</text>
<line x1="363.00" y1="116.72" x2="366.00" y2="116.72" stroke="#2a2a2a" stroke-width="1.0"/>
<text x="360.60" y="119.32" font-size="7.7" text-anchor="end" font-weight="normal" fill="#333" stroke="#333" stroke-width="0.15">0.2</text>
<line x1="363.00" y1="93.84" x2="366.00" y2="93.84" stroke="#2a2a2a" stroke-width="1.0"/>
<text x="360.60" y="96.44" font-size="7.7" text-anchor="end" font-weight="normal" fill="#333" stroke="#333" stroke-width="0.15">0.4</text>
<line x1="363.00" y1="70.96" x2="366.00" y2="70.96" stroke="#2a2a2a" stroke-width="1.0"/>
<text x="360.60" y="73.56" font-size="7.7" text-anchor="end" font-weight="normal" fill="#333" stroke="#333" stroke-width="0.15">0.6</text>
<line x1="363.00" y1="48.08" x2="366.00" y2="48.08" stroke="#2a2a2a" stroke-width="1.0"/>
<text x="360.60" y="50.68" font-size="7.7" text-anchor="end" font-weight="normal" fill="#333" stroke="#333" stroke-width="0.15">0.8</text>
<line x1="365.40" y1="139.60" x2="509.30" y2="139.60" stroke="#2a2a2a" stroke-width="1.3"/>
<text x="343.00" y="92.00" font-size="8.6" text-anchor="middle" font-weight="normal" fill="#333" textLength="58" lengthAdjust="spacingAndGlyphs" transform="rotate(-90 343.0 92)" stroke="#333" stroke-width="0.15">Percentage WBM</text>
<line x1="384.60" y1="139.60" x2="384.60" y2="142.00" stroke="#2a2a2a" stroke-width="1.0"/>
<text x="384.60" y="153.20" font-size="8.0" text-anchor="middle" font-weight="normal" fill="#333" textLength="14.5" lengthAdjust="spacingAndGlyphs" stroke="#333" stroke-width="0.15">LSK</text>
<line x1="421.20" y1="139.60" x2="421.20" y2="142.00" stroke="#2a2a2a" stroke-width="1.0"/>
<text x="421.20" y="153.20" font-size="8.0" text-anchor="middle" font-weight="normal" fill="#333" textLength="14.5" lengthAdjust="spacingAndGlyphs" stroke="#333" stroke-width="0.15">CMP</text>
<line x1="458.10" y1="139.60" x2="458.10" y2="142.00" stroke="#2a2a2a" stroke-width="1.0"/>
<text x="458.10" y="153.20" font-size="8.0" text-anchor="middle" font-weight="normal" fill="#333" textLength="14.5" lengthAdjust="spacingAndGlyphs" stroke="#333" stroke-width="0.15">GMP</text>
<line x1="495.00" y1="139.60" x2="495.00" y2="142.00" stroke="#2a2a2a" stroke-width="1.0"/>
<text x="495.00" y="153.20" font-size="8.0" text-anchor="middle" font-weight="normal" fill="#333" textLength="14.5" lengthAdjust="spacingAndGlyphs" stroke="#333" stroke-width="0.15">MEP</text>
<circle cx="382.9" cy="25.2" r="2.8" fill="#4f3d5c" stroke="#1d1222" stroke-width="0.9"/>
<rect x="378.60" y="31.60" width="6.20" height="5.40" fill="#3d5b80" stroke="#16243a" stroke-width="0.9"/>
<rect x="378.60" y="40.40" width="6.20" height="5.40" fill="#a21d3e" stroke="#3f0714" stroke-width="0.9"/>
<text x="387.60" y="27.80" font-size="7.3" text-anchor="start" font-weight="normal" fill="#333" textLength="10.2" lengthAdjust="spacingAndGlyphs" stroke="#333" stroke-width="0.15">WT</text>
<text x="387.60" y="36.90" font-size="7.3" text-anchor="start" font-weight="normal" fill="#333" textLength="10.0" lengthAdjust="spacingAndGlyphs" stroke="#333" stroke-width="0.15">KM</text>
<text x="387.60" y="45.70" font-size="7.3" text-anchor="start" font-weight="normal" fill="#333" textLength="29" lengthAdjust="spacingAndGlyphs" stroke="#333" stroke-width="0.15">KM UKO</text>
<circle cx="375.60" cy="97.27" r="2.80" fill="#4f3d5c" stroke="#1d1222" stroke-width="0.9"/>
<circle cx="375.60" cy="107.57" r="2.80" fill="#4f3d5c" stroke="#1d1222" stroke-width="0.9"/>
<circle cx="375.60" cy="125.87" r="2.80" fill="#4f3d5c" stroke="#1d1222" stroke-width="0.9"/>
<circle cx="375.60" cy="123.01" r="2.80" fill="#4f3d5c" stroke="#1d1222" stroke-width="0.9"/>
<circle cx="375.60" cy="120.15" r="2.80" fill="#4f3d5c" stroke="#1d1222" stroke-width="0.9"/>
<circle cx="375.60" cy="117.29" r="2.80" fill="#4f3d5c" stroke="#1d1222" stroke-width="0.9"/>
<circle cx="375.60" cy="114.43" r="2.80" fill="#4f3d5c" stroke="#1d1222" stroke-width="0.9"/>
<circle cx="375.60" cy="136.17" r="2.80" fill="#4f3d5c" stroke="#1d1222" stroke-width="0.9"/>
<line x1="375.60" y1="129.30" x2="375.60" y2="112.14" stroke="#111" stroke-width="0.9"/>
<line x1="373.10" y1="129.30" x2="378.10" y2="129.30" stroke="#111" stroke-width="0.9"/>
<line x1="373.10" y1="112.14" x2="378.10" y2="112.14" stroke="#111" stroke-width="0.9"/>
<line x1="371.60" y1="120.15" x2="379.60" y2="120.15" stroke="#111" stroke-width="1.1"/>
<rect x="381.60" y="133.37" width="5.60" height="5.60" fill="#3d5b80" stroke="#16243a" stroke-width="0.9"/>
<rect x="381.60" y="130.75" width="5.60" height="5.60" fill="#3d5b80" stroke="#16243a" stroke-width="0.9"/>
<rect x="381.60" y="128.14" width="5.60" height="5.60" fill="#3d5b80" stroke="#16243a" stroke-width="0.9"/>
<rect x="381.60" y="125.52" width="5.60" height="5.60" fill="#3d5b80" stroke="#16243a" stroke-width="0.9"/>
<rect x="381.60" y="122.91" width="5.60" height="5.60" fill="#3d5b80" stroke="#16243a" stroke-width="0.9"/>
<rect x="381.60" y="120.29" width="5.60" height="5.60" fill="#3d5b80" stroke="#16243a" stroke-width="0.9"/>
<rect x="381.60" y="117.68" width="5.60" height="5.60" fill="#3d5b80" stroke="#16243a" stroke-width="0.9"/>
<rect x="381.60" y="115.06" width="5.60" height="5.60" fill="#3d5b80" stroke="#16243a" stroke-width="0.9"/>
<line x1="384.40" y1="133.88" x2="384.40" y2="122.44" stroke="#111" stroke-width="0.9"/>
<line x1="381.90" y1="133.88" x2="386.90" y2="133.88" stroke="#111" stroke-width="0.9"/>
<line x1="381.90" y1="122.44" x2="386.90" y2="122.44" stroke="#111" stroke-width="0.9"/>
<line x1="380.40" y1="128.16" x2="388.40" y2="128.16" stroke="#111" stroke-width="1.1"/>
<rect x="391.00" y="134.51" width="5.60" height="5.60" fill="#a21d3e" stroke="#3f0714" stroke-width="0.9"/>
<rect x="391.00" y="131.65" width="5.60" height="5.60" fill="#a21d3e" stroke="#3f0714" stroke-width="0.9"/>
<rect x="391.00" y="128.79" width="5.60" height="5.60" fill="#a21d3e" stroke="#3f0714" stroke-width="0.9"/>
<rect x="391.00" y="125.93" width="5.60" height="5.60" fill="#a21d3e" stroke="#3f0714" stroke-width="0.9"/>
<rect x="391.00" y="123.07" width="5.60" height="5.60" fill="#a21d3e" stroke="#3f0714" stroke-width="0.9"/>
<rect x="391.00" y="120.21" width="5.60" height="5.60" fill="#a21d3e" stroke="#3f0714" stroke-width="0.9"/>
<rect x="391.00" y="117.35" width="5.60" height="5.60" fill="#a21d3e" stroke="#3f0714" stroke-width="0.9"/>
<line x1="393.80" y1="136.17" x2="393.80" y2="127.02" stroke="#111" stroke-width="0.9"/>
<line x1="391.30" y1="136.17" x2="396.30" y2="136.17" stroke="#111" stroke-width="0.9"/>
<line x1="391.30" y1="127.02" x2="396.30" y2="127.02" stroke="#111" stroke-width="0.9"/>
<line x1="389.80" y1="131.59" x2="397.80" y2="131.59" stroke="#111" stroke-width="1.1"/>
<circle cx="412.00" cy="61.81" r="2.80" fill="#4f3d5c" stroke="#1d1222" stroke-width="0.9"/>
<circle cx="412.00" cy="96.13" r="2.80" fill="#4f3d5c" stroke="#1d1222" stroke-width="0.9"/>
<circle cx="412.00" cy="92.41" r="2.80" fill="#4f3d5c" stroke="#1d1222" stroke-width="0.9"/>
<circle cx="412.00" cy="88.69" r="2.80" fill="#4f3d5c" stroke="#1d1222" stroke-width="0.9"/>
<circle cx="412.00" cy="84.97" r="2.80" fill="#4f3d5c" stroke="#1d1222" stroke-width="0.9"/>
<circle cx="412.00" cy="81.26" r="2.80" fill="#4f3d5c" stroke="#1d1222" stroke-width="0.9"/>
<circle cx="412.00" cy="124.73" r="2.80" fill="#4f3d5c" stroke="#1d1222" stroke-width="0.9"/>
<circle cx="412.00" cy="120.84" r="2.80" fill="#4f3d5c" stroke="#1d1222" stroke-width="0.9"/>
<circle cx="412.00" cy="116.95" r="2.80" fill="#4f3d5c" stroke="#1d1222" stroke-width="0.9"/>
<circle cx="412.00" cy="113.06" r="2.80" fill="#4f3d5c" stroke="#1d1222" stroke-width="0.9"/>
<circle cx="412.00" cy="109.17" r="2.80" fill="#4f3d5c" stroke="#1d1222" stroke-width="0.9"/>
<circle cx="412.00" cy="105.28" r="2.80" fill="#4f3d5c" stroke="#1d1222" stroke-width="0.9"/>
<line x1="412.00" y1="114.43" x2="412.00" y2="82.40" stroke="#111" stroke-width="0.9"/>
<line x1="409.50" y1="114.43" x2="414.50" y2="114.43" stroke="#111" stroke-width="0.9"/>
<line x1="409.50" y1="82.40" x2="414.50" y2="82.40" stroke="#111" stroke-width="0.9"/>
<line x1="408.00" y1="98.42" x2="416.00" y2="98.42" stroke="#111" stroke-width="1.1"/>
<rect x="418.40" y="132.22" width="5.60" height="5.60" fill="#3d5b80" stroke="#16243a" stroke-width="0.9"/>
<rect x="418.40" y="129.45" width="5.60" height="5.60" fill="#3d5b80" stroke="#16243a" stroke-width="0.9"/>
<rect x="418.40" y="126.67" width="5.60" height="5.60" fill="#3d5b80" stroke="#16243a" stroke-width="0.9"/>
<rect x="418.40" y="123.89" width="5.60" height="5.60" fill="#3d5b80" stroke="#16243a" stroke-width="0.9"/>
<rect x="418.40" y="121.11" width="5.60" height="5.60" fill="#3d5b80" stroke="#16243a" stroke-width="0.9"/>
<rect x="418.40" y="118.33" width="5.60" height="5.60" fill="#3d5b80" stroke="#16243a" stroke-width="0.9"/>
<rect x="418.40" y="115.55" width="5.60" height="5.60" fill="#3d5b80" stroke="#16243a" stroke-width="0.9"/>
<rect x="418.40" y="112.78" width="5.60" height="5.60" fill="#3d5b80" stroke="#16243a" stroke-width="0.9"/>
<line x1="421.20" y1="131.59" x2="421.20" y2="120.15" stroke="#111" stroke-width="0.9"/>
<line x1="418.70" y1="131.59" x2="423.70" y2="131.59" stroke="#111" stroke-width="0.9"/>
<line x1="418.70" y1="120.15" x2="423.70" y2="120.15" stroke="#111" stroke-width="0.9"/>
<line x1="417.20" y1="125.87" x2="425.20" y2="125.87" stroke="#111" stroke-width="1.1"/>
<rect x="428.30" y="129.94" width="5.60" height="5.60" fill="#a21d3e" stroke="#3f0714" stroke-width="0.9"/>
<rect x="428.30" y="126.96" width="5.60" height="5.60" fill="#a21d3e" stroke="#3f0714" stroke-width="0.9"/>
<rect x="428.30" y="123.99" width="5.60" height="5.60" fill="#a21d3e" stroke="#3f0714" stroke-width="0.9"/>
<rect x="428.30" y="121.01" width="5.60" height="5.60" fill="#a21d3e" stroke="#3f0714" stroke-width="0.9"/>
<rect x="428.30" y="118.04" width="5.60" height="5.60" fill="#a21d3e" stroke="#3f0714" stroke-width="0.9"/>
<rect x="428.30" y="115.06" width="5.60" height="5.60" fill="#a21d3e" stroke="#3f0714" stroke-width="0.9"/>
<line x1="431.10" y1="129.30" x2="431.10" y2="119.01" stroke="#111" stroke-width="0.9"/>
<line x1="428.60" y1="129.30" x2="433.60" y2="129.30" stroke="#111" stroke-width="0.9"/>
<line x1="428.60" y1="119.01" x2="433.60" y2="119.01" stroke="#111" stroke-width="0.9"/>
<line x1="427.10" y1="123.58" x2="435.10" y2="123.58" stroke="#111" stroke-width="1.1"/>
<circle cx="449.00" cy="59.52" r="2.80" fill="#4f3d5c" stroke="#1d1222" stroke-width="0.9"/>
<circle cx="449.00" cy="136.17" r="2.80" fill="#4f3d5c" stroke="#1d1222" stroke-width="0.9"/>
<circle cx="449.00" cy="132.48" r="2.80" fill="#4f3d5c" stroke="#1d1222" stroke-width="0.9"/>
<circle cx="449.00" cy="128.80" r="2.80" fill="#4f3d5c" stroke="#1d1222" stroke-width="0.9"/>
<circle cx="449.00" cy="125.11" r="2.80" fill="#4f3d5c" stroke="#1d1222" stroke-width="0.9"/>
<circle cx="449.00" cy="121.42" r="2.80" fill="#4f3d5c" stroke="#1d1222" stroke-width="0.9"/>
<circle cx="449.00" cy="117.74" r="2.80" fill="#4f3d5c" stroke="#1d1222" stroke-width="0.9"/>
<circle cx="449.00" cy="114.05" r="2.80" fill="#4f3d5c" stroke="#1d1222" stroke-width="0.9"/>
<circle cx="449.00" cy="110.36" r="2.80" fill="#4f3d5c" stroke="#1d1222" stroke-width="0.9"/>
<circle cx="449.00" cy="106.68" r="2.80" fill="#4f3d5c" stroke="#1d1222" stroke-width="0.9"/>
<circle cx="449.00" cy="102.99" r="2.80" fill="#4f3d5c" stroke="#1d1222" stroke-width="0.9"/>
<line x1="449.00" y1="130.45" x2="449.00" y2="93.84" stroke="#111" stroke-width="0.9"/>
<line x1="446.50" y1="130.45" x2="451.50" y2="130.45" stroke="#111" stroke-width="0.9"/>
<line x1="446.50" y1="93.84" x2="451.50" y2="93.84" stroke="#111" stroke-width="0.9"/>
<line x1="445.00" y1="114.43" x2="453.00" y2="114.43" stroke="#111" stroke-width="1.1"/>
<rect x="455.40" y="128.79" width="5.60" height="5.60" fill="#3d5b80" stroke="#16243a" stroke-width="0.9"/>
<rect x="455.40" y="125.74" width="5.60" height="5.60" fill="#3d5b80" stroke="#16243a" stroke-width="0.9"/>
<rect x="455.40" y="122.69" width="5.60" height="5.60" fill="#3d5b80" stroke="#16243a" stroke-width="0.9"/>
<rect x="455.40" y="119.64" width="5.60" height="5.60" fill="#3d5b80" stroke="#16243a" stroke-width="0.9"/>
<rect x="455.40" y="116.59" width="5.60" height="5.60" fill="#3d5b80" stroke="#16243a" stroke-width="0.9"/>
<rect x="455.40" y="113.54" width="5.60" height="5.60" fill="#3d5b80" stroke="#16243a" stroke-width="0.9"/>
<rect x="455.40" y="110.49" width="5.60" height="5.60" fill="#3d5b80" stroke="#16243a" stroke-width="0.9"/>
<line x1="458.20" y1="125.87" x2="458.20" y2="113.29" stroke="#111" stroke-width="0.9"/>
<line x1="455.70" y1="125.87" x2="460.70" y2="125.87" stroke="#111" stroke-width="0.9"/>
<line x1="455.70" y1="113.29" x2="460.70" y2="113.29" stroke="#111" stroke-width="0.9"/>
<line x1="454.20" y1="117.86" x2="462.20" y2="117.86" stroke="#111" stroke-width="1.1"/>
<rect x="464.90" y="48.71" width="5.60" height="5.60" fill="#a21d3e" stroke="#3f0714" stroke-width="0.9"/>
<rect x="464.90" y="102.48" width="5.60" height="5.60" fill="#a21d3e" stroke="#3f0714" stroke-width="0.9"/>
<rect x="464.90" y="97.22" width="5.60" height="5.60" fill="#a21d3e" stroke="#3f0714" stroke-width="0.9"/>
<rect x="464.90" y="91.96" width="5.60" height="5.60" fill="#a21d3e" stroke="#3f0714" stroke-width="0.9"/>
<rect x="464.90" y="86.69" width="5.60" height="5.60" fill="#a21d3e" stroke="#3f0714" stroke-width="0.9"/>
<rect x="464.90" y="81.43" width="5.60" height="5.60" fill="#a21d3e" stroke="#3f0714" stroke-width="0.9"/>
<rect x="464.90" y="76.17" width="5.60" height="5.60" fill="#a21d3e" stroke="#3f0714" stroke-width="0.9"/>
<rect x="464.90" y="121.93" width="5.60" height="5.60" fill="#a21d3e" stroke="#3f0714" stroke-width="0.9"/>
<line x1="467.70" y1="112.14" x2="467.70" y2="69.82" stroke="#111" stroke-width="0.9"/>
<line x1="465.20" y1="112.14" x2="470.20" y2="112.14" stroke="#111" stroke-width="0.9"/>
<line x1="465.20" y1="69.82" x2="470.20" y2="69.82" stroke="#111" stroke-width="0.9"/>
<line x1="463.70" y1="91.55" x2="471.70" y2="91.55" stroke="#111" stroke-width="1.1"/>
<circle cx="485.70" cy="102.99" r="2.80" fill="#4f3d5c" stroke="#1d1222" stroke-width="0.9"/>
<circle cx="485.70" cy="107.57" r="2.80" fill="#4f3d5c" stroke="#1d1222" stroke-width="0.9"/>
<circle cx="485.70" cy="136.17" r="2.80" fill="#4f3d5c" stroke="#1d1222" stroke-width="0.9"/>
<circle cx="485.70" cy="132.93" r="2.80" fill="#4f3d5c" stroke="#1d1222" stroke-width="0.9"/>
<circle cx="485.70" cy="129.69" r="2.80" fill="#4f3d5c" stroke="#1d1222" stroke-width="0.9"/>
<circle cx="485.70" cy="126.44" r="2.80" fill="#4f3d5c" stroke="#1d1222" stroke-width="0.9"/>
<circle cx="485.70" cy="123.20" r="2.80" fill="#4f3d5c" stroke="#1d1222" stroke-width="0.9"/>
<circle cx="485.70" cy="119.96" r="2.80" fill="#4f3d5c" stroke="#1d1222" stroke-width="0.9"/>
<circle cx="485.70" cy="116.72" r="2.80" fill="#4f3d5c" stroke="#1d1222" stroke-width="0.9"/>
<line x1="485.70" y1="131.59" x2="485.70" y2="115.58" stroke="#111" stroke-width="0.9"/>
<line x1="483.20" y1="131.59" x2="488.20" y2="131.59" stroke="#111" stroke-width="0.9"/>
<line x1="483.20" y1="115.58" x2="488.20" y2="115.58" stroke="#111" stroke-width="0.9"/>
<line x1="481.70" y1="123.58" x2="489.70" y2="123.58" stroke="#111" stroke-width="1.1"/>
<rect x="492.40" y="136.23" width="5.60" height="5.60" fill="#3d5b80" stroke="#16243a" stroke-width="0.9"/>
<rect x="492.40" y="133.84" width="5.60" height="5.60" fill="#3d5b80" stroke="#16243a" stroke-width="0.9"/>
<rect x="492.40" y="131.46" width="5.60" height="5.60" fill="#3d5b80" stroke="#16243a" stroke-width="0.9"/>
<rect x="492.40" y="129.08" width="5.60" height="5.60" fill="#3d5b80" stroke="#16243a" stroke-width="0.9"/>
<rect x="492.40" y="126.69" width="5.60" height="5.60" fill="#3d5b80" stroke="#16243a" stroke-width="0.9"/>
<rect x="492.40" y="124.31" width="5.60" height="5.60" fill="#3d5b80" stroke="#16243a" stroke-width="0.9"/>
<rect x="492.40" y="121.93" width="5.60" height="5.60" fill="#3d5b80" stroke="#16243a" stroke-width="0.9"/>
<line x1="495.20" y1="136.17" x2="495.20" y2="129.30" stroke="#111" stroke-width="0.9"/>
<line x1="492.70" y1="136.17" x2="497.70" y2="136.17" stroke="#111" stroke-width="0.9"/>
<line x1="492.70" y1="129.30" x2="497.70" y2="129.30" stroke="#111" stroke-width="0.9"/>
<line x1="491.20" y1="132.74" x2="499.20" y2="132.74" stroke="#111" stroke-width="1.1"/>
<rect x="501.50" y="117.35" width="5.60" height="5.60" fill="#a21d3e" stroke="#3f0714" stroke-width="0.9"/>
<rect x="501.50" y="131.08" width="5.60" height="5.60" fill="#a21d3e" stroke="#3f0714" stroke-width="0.9"/>
<rect x="501.50" y="128.41" width="5.60" height="5.60" fill="#a21d3e" stroke="#3f0714" stroke-width="0.9"/>
<rect x="501.50" y="125.74" width="5.60" height="5.60" fill="#a21d3e" stroke="#3f0714" stroke-width="0.9"/>
<rect x="501.50" y="123.07" width="5.60" height="5.60" fill="#a21d3e" stroke="#3f0714" stroke-width="0.9"/>
<line x1="504.30" y1="132.74" x2="504.30" y2="125.87" stroke="#111" stroke-width="0.9"/>
<line x1="501.80" y1="132.74" x2="506.80" y2="132.74" stroke="#111" stroke-width="0.9"/>
<line x1="501.80" y1="125.87" x2="506.80" y2="125.87" stroke="#111" stroke-width="0.9"/>
<line x1="500.30" y1="129.30" x2="508.30" y2="129.30" stroke="#111" stroke-width="1.1"/>
<line x1="454.20" y1="44.20" x2="469.10" y2="44.20" stroke="#222" stroke-width="1.0"/>
<line x1="454.20" y1="41.20" x2="454.20" y2="47.20" stroke="#222" stroke-width="1.0"/>
<line x1="469.10" y1="41.20" x2="469.10" y2="47.20" stroke="#222" stroke-width="1.0"/>
<text x="461.65" y="40.20" font-size="6.5" text-anchor="middle" font-weight="normal" fill="#222" stroke="#222" stroke-width="0.15">*</text>
<text x="6.50" y="168.20" font-size="11.5" text-anchor="start" font-weight="bold" fill="#111">C</text>
<rect x="34.00" y="169.30" width="56.60" height="57.20" fill="none" stroke="#d8d8d8" stroke-width="0.8"/>
<rect x="94.90" y="169.60" width="56.60" height="57.20" fill="none" stroke="#d8d8d8" stroke-width="0.8"/>
<rect x="34.00" y="229.30" width="56.60" height="57.20" fill="none" stroke="#d8d8d8" stroke-width="0.8"/>
<rect x="94.60" y="229.30" width="56.60" height="57.20" fill="none" stroke="#d8d8d8" stroke-width="0.8"/>
<g filter="url(#soft)">
<path d="M67.0 178.0h1v1h-1zM70.0 178.0h1v1h-1zM71.0 179.0h1v1h-1zM76.0 179.0h1v1h-1zM70.0 180.0h1v1h-1zM72.0 180.0h1v1h-1zM59.0 181.0h1v1h-1zM65.0 181.0h1v1h-1zM67.0 181.0h1v1h-1zM70.0 181.0h1v1h-1zM72.0 181.0h2v1h-2zM63.0 182.0h1v1h-1zM68.0 182.0h2v1h-2zM73.0 182.0h3v1h-3zM54.0 183.0h1v1h-1zM63.0 183.0h1v1h-1zM71.0 183.0h2v1h-2zM74.0 183.0h1v1h-1zM77.0 183.0h1v1h-1zM60.0 184.0h1v1h-1zM62.0 184.0h1v1h-1zM64.0 184.0h1v1h-1zM74.0 184.0h1v1h-1zM48.0 185.0h1v1h-1zM63.0 185.0h1v1h-1zM66.0 185.0h1v1h-1zM62.0 186.0h4v1h-4zM78.0 186.0h1v1h-1zM63.0 187.0h1v1h-1zM61.0 188.0h1v1h-1zM64.0 188.0h1v1h-1zM78.0 188.0h1v1h-1zM60.0 189.0h1v1h-1zM64.0 189.0h1v1h-1zM78.0 189.0h1v1h-1zM60.0 190.0h1v1h-1zM62.0 190.0h1v1h-1zM80.0 190.0h1v1h-1zM58.0 191.0h1v1h-1zM64.0 191.0h1v1h-1zM78.0 191.0h1v1h-1zM55.0 192.0h1v1h-1zM59.0 192.0h2v1h-2zM50.0 193.0h1v1h-1zM53.0 193.0h1v1h-1zM55.0 193.0h1v1h-1zM59.0 193.0h1v1h-1zM62.0 193.0h1v1h-1zM77.0 193.0h1v1h-1zM48.0 194.0h1v1h-1zM59.0 194.0h1v1h-1zM79.0 194.0h1v1h-1zM40.0 195.0h1v1h-1zM57.0 195.0h1v1h-1zM59.0 195.0h1v1h-1zM62.0 195.0h2v1h-2zM77.0 195.0h1v1h-1zM81.0 195.0h1v1h-1zM84.0 195.0h1v1h-1zM37.0 196.0h1v1h-1zM49.0 196.0h1v1h-1zM55.0 196.0h2v1h-2zM61.0 196.0h1v1h-1zM82.0 196.0h1v1h-1zM39.0 197.0h1v1h-1zM42.0 197.0h1v1h-1zM48.0 197.0h1v1h-1zM54.0 197.0h5v1h-5zM62.0 197.0h1v1h-1zM77.0 197.0h1v1h-1zM83.0 197.0h1v1h-1zM40.0 198.0h2v1h-2zM48.0 198.0h1v1h-1zM52.0 198.0h2v1h-2zM55.0 198.0h3v1h-3zM63.0 198.0h1v1h-1zM78.0 198.0h1v1h-1zM44.0 199.0h1v1h-1zM54.0 199.0h2v1h-2zM79.0 199.0h1v1h-1zM47.0 200.0h1v1h-1zM51.0 200.0h3v1h-3zM55.0 200.0h2v1h-2zM76.0 200.0h2v1h-2zM79.0 200.0h1v1h-1zM81.0 200.0h1v1h-1zM46.0 201.0h1v1h-1zM49.0 201.0h2v1h-2zM53.0 201.0h1v1h-1zM55.0 201.0h1v1h-1zM75.0 201.0h1v1h-1zM40.0 202.0h1v1h-1zM44.0 202.0h1v1h-1zM49.0 202.0h1v1h-1zM51.0 202.0h2v1h-2zM54.0 202.0h1v1h-1zM57.0 202.0h1v1h-1zM79.0 202.0h1v1h-1zM40.0 203.0h1v1h-1zM51.0 203.0h1v1h-1zM58.0 203.0h1v1h-1zM63.0 203.0h1v1h-1zM76.0 203.0h1v1h-1zM48.0 204.0h2v1h-2zM51.0 204.0h2v1h-2zM55.0 204.0h2v1h-2zM76.0 204.0h1v1h-1zM78.0 204.0h1v1h-1zM80.0 204.0h1v1h-1zM41.0 205.0h1v1h-1zM43.0 205.0h1v1h-1zM46.0 205.0h2v1h-2zM49.0 205.0h2v1h-2zM58.0 205.0h4v1h-4zM63.0 205.0h1v1h-1zM72.0 205.0h1v1h-1zM77.0 205.0h2v1h-2zM80.0 205.0h1v1h-1zM43.0 206.0h1v1h-1zM46.0 206.0h1v1h-1zM49.0 206.0h1v1h-1zM60.0 206.0h1v1h-1zM63.0 206.0h2v1h-2zM77.0 206.0h1v1h-1zM40.0 207.0h1v1h-1zM43.0 207.0h1v1h-1zM47.0 207.0h1v1h-1zM58.0 207.0h2v1h-2zM61.0 207.0h3v1h-3zM77.0 207.0h1v1h-1zM39.0 208.0h1v1h-1zM44.0 208.0h2v1h-2zM54.0 208.0h1v1h-1zM65.0 208.0h2v1h-2zM70.0 208.0h2v1h-2zM76.0 208.0h1v1h-1zM44.0 209.0h1v1h-1zM48.0 209.0h1v1h-1zM69.0 209.0h1v1h-1zM77.0 209.0h1v1h-1zM41.0 210.0h3v1h-3zM47.0 210.0h2v1h-2zM50.0 210.0h1v1h-1zM55.0 210.0h1v1h-1zM57.0 210.0h1v1h-1zM60.0 210.0h1v1h-1zM65.0 210.0h2v1h-2zM69.0 210.0h1v1h-1zM71.0 210.0h1v1h-1zM75.0 210.0h1v1h-1zM86.0 210.0h1v1h-1zM38.0 211.0h1v1h-1zM40.0 211.0h2v1h-2zM51.0 211.0h3v1h-3zM63.0 211.0h1v1h-1zM69.0 211.0h1v1h-1zM72.0 211.0h2v1h-2zM75.0 211.0h1v1h-1zM38.0 212.0h1v1h-1zM47.0 212.0h1v1h-1zM50.0 212.0h4v1h-4zM69.0 212.0h3v1h-3zM75.0 212.0h1v1h-1zM35.0 213.0h1v1h-1zM37.0 213.0h2v1h-2zM41.0 213.0h1v1h-1zM52.0 213.0h1v1h-1zM56.0 213.0h1v1h-1zM60.0 213.0h1v1h-1zM62.0 213.0h1v1h-1zM65.0 213.0h6v1h-6zM36.0 214.0h1v1h-1zM49.0 214.0h3v1h-3zM55.0 214.0h1v1h-1zM58.0 214.0h1v1h-1zM66.0 214.0h2v1h-2zM71.0 214.0h2v1h-2zM75.0 214.0h1v1h-1zM36.0 215.0h1v1h-1zM48.0 215.0h1v1h-1zM50.0 215.0h2v1h-2zM59.0 215.0h2v1h-2zM62.0 215.0h2v1h-2zM65.0 215.0h1v1h-1zM54.0 216.0h1v1h-1zM58.0 216.0h1v1h-1zM60.0 216.0h1v1h-1zM64.0 216.0h1v1h-1zM35.0 217.0h1v1h-1zM47.0 217.0h2v1h-2zM54.0 217.0h1v1h-1zM56.0 217.0h1v1h-1zM62.0 217.0h1v1h-1zM73.0 217.0h1v1h-1zM48.0 218.0h2v1h-2zM51.0 218.0h1v1h-1zM53.0 218.0h1v1h-1zM57.0 218.0h1v1h-1zM61.0 218.0h1v1h-1zM63.0 218.0h1v1h-1zM71.0 218.0h1v1h-1zM53.0 219.0h1v1h-1zM62.0 219.0h1v1h-1zM51.0 220.0h1v1h-1zM53.0 220.0h1v1h-1zM59.0 220.0h1v1h-1zM50.0 221.0h2v1h-2zM59.0 221.0h1v1h-1zM35.0 222.0h2v1h-2zM46.0 222.0h1v1h-1zM49.0 222.0h2v1h-2zM55.0 222.0h2v1h-2zM63.0 222.0h1v1h-1zM48.0 223.0h1v1h-1zM51.0 223.0h1v1h-1zM35.0 224.0h1v1h-1zM38.0 224.0h1v1h-1zM46.0 224.0h1v1h-1zM54.0 224.0h1v1h-1zM40.0 225.0h1v1h-1zM46.0 225.0h1v1h-1z" fill="#7a88ff"/>
<path d="M70.0 182.0h2v1h-2zM66.0 183.0h5v1h-5zM73.0 183.0h1v1h-1zM65.0 184.0h3v1h-3zM64.0 185.0h1v1h-1zM75.0 185.0h2v1h-2zM76.0 186.0h2v1h-2zM64.0 187.0h2v1h-2zM76.0 187.0h2v1h-2zM62.0 188.0h2v1h-2zM77.0 188.0h1v1h-1zM63.0 189.0h1v1h-1zM61.0 190.0h1v1h-1zM64.0 190.0h1v1h-1zM77.0 190.0h1v1h-1zM61.0 191.0h3v1h-3zM77.0 191.0h1v1h-1zM61.0 192.0h3v1h-3zM77.0 192.0h1v1h-1zM61.0 193.0h1v1h-1zM63.0 193.0h1v1h-1zM61.0 194.0h3v1h-3zM77.0 194.0h2v1h-2zM78.0 195.0h1v1h-1zM60.0 196.0h1v1h-1zM62.0 196.0h2v1h-2zM77.0 196.0h1v1h-1zM59.0 197.0h1v1h-1zM61.0 197.0h1v1h-1zM63.0 197.0h1v1h-1zM59.0 198.0h4v1h-4zM76.0 198.0h1v1h-1zM61.0 199.0h3v1h-3zM76.0 199.0h1v1h-1zM57.0 200.0h2v1h-2zM60.0 200.0h4v1h-4zM56.0 201.0h1v1h-1zM59.0 201.0h5v1h-5zM77.0 201.0h1v1h-1zM59.0 202.0h5v1h-5zM75.0 202.0h3v1h-3zM54.0 203.0h1v1h-1zM57.0 203.0h1v1h-1zM59.0 203.0h4v1h-4zM74.0 203.0h2v1h-2zM54.0 204.0h1v1h-1zM57.0 204.0h1v1h-1zM59.0 204.0h6v1h-6zM74.0 204.0h2v1h-2zM51.0 205.0h7v1h-7zM62.0 205.0h1v1h-1zM64.0 205.0h1v1h-1zM73.0 205.0h4v1h-4zM50.0 206.0h10v1h-10zM61.0 206.0h2v1h-2zM71.0 206.0h6v1h-6zM50.0 207.0h8v1h-8zM60.0 207.0h1v1h-1zM64.0 207.0h11v1h-11zM47.0 208.0h7v1h-7zM55.0 208.0h10v1h-10zM67.0 208.0h3v1h-3zM72.0 208.0h2v1h-2zM50.0 209.0h2v1h-2zM53.0 209.0h13v1h-13zM68.0 209.0h1v1h-1zM70.0 209.0h4v1h-4zM46.0 210.0h1v1h-1zM49.0 210.0h1v1h-1zM51.0 210.0h4v1h-4zM56.0 210.0h1v1h-1zM58.0 210.0h2v1h-2zM61.0 210.0h4v1h-4zM70.0 210.0h1v1h-1zM72.0 210.0h1v1h-1zM45.0 211.0h6v1h-6zM54.0 211.0h9v1h-9zM64.0 211.0h1v1h-1zM67.0 211.0h2v1h-2zM70.0 211.0h2v1h-2zM40.0 212.0h2v1h-2zM44.0 212.0h3v1h-3zM49.0 212.0h1v1h-1zM54.0 212.0h14v1h-14zM42.0 213.0h7v1h-7zM51.0 213.0h1v1h-1zM53.0 213.0h3v1h-3zM57.0 213.0h3v1h-3zM63.0 213.0h2v1h-2zM38.0 214.0h11v1h-11zM52.0 214.0h3v1h-3zM60.0 214.0h2v1h-2zM37.0 215.0h3v1h-3zM45.0 215.0h3v1h-3zM52.0 215.0h3v1h-3zM56.0 215.0h2v1h-2zM35.0 216.0h3v1h-3zM47.0 216.0h7v1h-7zM36.0 217.0h1v1h-1zM50.0 217.0h3v1h-3zM35.0 218.0h1v1h-1zM50.0 218.0h1v1h-1zM35.0 219.0h1v1h-1zM48.0 219.0h2v1h-2zM35.0 220.0h1v1h-1zM47.0 220.0h1v1h-1zM49.0 220.0h2v1h-2zM36.0 221.0h1v1h-1zM47.0 221.0h2v1h-2zM37.0 222.0h1v1h-1zM38.0 223.0h2v1h-2zM43.0 223.0h3v1h-3zM47.0 223.0h1v1h-1zM41.0 224.0h4v1h-4z" fill="#3c5af0"/>
<path d="M68.0 184.0h1v1h-1zM73.0 184.0h1v1h-1zM67.0 185.0h1v1h-1zM66.0 186.0h1v1h-1zM65.0 188.0h1v1h-1zM76.0 188.0h1v1h-1zM65.0 189.0h1v1h-1zM76.0 189.0h1v1h-1zM76.0 190.0h1v1h-1zM76.0 191.0h1v1h-1zM64.0 192.0h1v1h-1zM76.0 192.0h1v1h-1zM64.0 193.0h1v1h-1zM76.0 193.0h1v1h-1zM64.0 194.0h1v1h-1zM76.0 194.0h1v1h-1zM64.0 195.0h1v1h-1zM76.0 195.0h1v1h-1zM64.0 196.0h1v1h-1zM76.0 196.0h1v1h-1zM64.0 197.0h1v1h-1zM76.0 197.0h1v1h-1zM64.0 198.0h1v1h-1zM64.0 199.0h1v1h-1zM75.0 199.0h1v1h-1zM64.0 200.0h1v1h-1zM75.0 200.0h1v1h-1zM64.0 201.0h2v1h-2zM64.0 202.0h2v1h-2zM74.0 202.0h1v1h-1zM64.0 203.0h3v1h-3zM73.0 203.0h1v1h-1zM65.0 204.0h3v1h-3zM72.0 204.0h2v1h-2zM65.0 205.0h7v1h-7zM65.0 206.0h6v1h-6zM40.0 215.0h1v1h-1zM43.0 215.0h2v1h-2zM46.0 216.0h1v1h-1zM36.0 218.0h1v1h-1zM47.0 218.0h1v1h-1zM36.0 219.0h1v1h-1zM47.0 219.0h1v1h-1zM36.0 220.0h1v1h-1zM46.0 221.0h1v1h-1zM38.0 222.0h1v1h-1zM45.0 222.0h1v1h-1zM40.0 223.0h3v1h-3z" fill="#3d63f5"/>
<path d="M69.0 184.0h4v1h-4zM74.0 185.0h1v1h-1zM75.0 186.0h1v1h-1zM66.0 187.0h1v1h-1zM65.0 190.0h1v1h-1zM65.0 191.0h1v1h-1zM65.0 192.0h1v1h-1zM65.0 193.0h1v1h-1zM75.0 193.0h1v1h-1zM65.0 194.0h1v1h-1zM75.0 194.0h1v1h-1zM65.0 195.0h1v1h-1zM75.0 195.0h1v1h-1zM65.0 196.0h1v1h-1zM75.0 196.0h1v1h-1zM65.0 197.0h1v1h-1zM75.0 197.0h1v1h-1zM65.0 198.0h1v1h-1zM75.0 198.0h1v1h-1zM65.0 199.0h2v1h-2zM65.0 200.0h2v1h-2zM74.0 200.0h1v1h-1zM66.0 201.0h2v1h-2zM73.0 201.0h2v1h-2zM66.0 202.0h3v1h-3zM72.0 202.0h2v1h-2zM67.0 203.0h6v1h-6zM68.0 204.0h4v1h-4zM41.0 215.0h2v1h-2zM38.0 216.0h1v1h-1zM45.0 216.0h1v1h-1zM37.0 217.0h1v1h-1zM46.0 217.0h1v1h-1zM46.0 218.0h1v1h-1zM46.0 219.0h1v1h-1zM46.0 220.0h1v1h-1zM37.0 221.0h1v1h-1zM44.0 222.0h1v1h-1z" fill="#3f8cf7"/>
<path d="M68.0 185.0h1v1h-1zM67.0 186.0h1v1h-1zM75.0 187.0h1v1h-1zM66.0 188.0h1v1h-1zM66.0 189.0h1v1h-1zM66.0 190.0h1v1h-1zM75.0 190.0h1v1h-1zM66.0 191.0h1v1h-1zM75.0 191.0h1v1h-1zM66.0 192.0h1v1h-1zM75.0 192.0h1v1h-1zM66.0 193.0h1v1h-1zM66.0 194.0h1v1h-1zM66.0 195.0h1v1h-1zM74.0 195.0h1v1h-1zM66.0 196.0h1v1h-1zM74.0 196.0h1v1h-1zM66.0 197.0h1v1h-1zM74.0 197.0h1v1h-1zM66.0 198.0h2v1h-2zM74.0 198.0h1v1h-1zM67.0 199.0h1v1h-1zM73.0 199.0h2v1h-2zM67.0 200.0h2v1h-2zM72.0 200.0h2v1h-2zM68.0 201.0h5v1h-5zM69.0 202.0h3v1h-3zM39.0 216.0h1v1h-1zM43.0 216.0h2v1h-2zM38.0 217.0h1v1h-1zM45.0 217.0h1v1h-1zM37.0 218.0h1v1h-1zM37.0 219.0h1v1h-1zM37.0 220.0h1v1h-1zM45.0 221.0h1v1h-1zM39.0 222.0h1v1h-1zM43.0 222.0h1v1h-1z" fill="#3fbcee"/>
<path d="M69.0 185.0h1v1h-1zM73.0 185.0h1v1h-1zM68.0 186.0h1v1h-1zM74.0 186.0h1v1h-1zM67.0 187.0h1v1h-1zM75.0 188.0h1v1h-1zM75.0 189.0h1v1h-1zM67.0 191.0h1v1h-1zM67.0 192.0h1v1h-1zM74.0 192.0h1v1h-1zM67.0 193.0h1v1h-1zM74.0 193.0h1v1h-1zM67.0 194.0h1v1h-1zM74.0 194.0h1v1h-1zM67.0 195.0h1v1h-1zM67.0 196.0h1v1h-1zM73.0 196.0h1v1h-1zM67.0 197.0h2v1h-2zM73.0 197.0h1v1h-1zM68.0 198.0h1v1h-1zM72.0 198.0h2v1h-2zM68.0 199.0h5v1h-5zM69.0 200.0h3v1h-3zM40.0 216.0h3v1h-3zM44.0 217.0h1v1h-1zM45.0 218.0h1v1h-1zM45.0 219.0h1v1h-1zM45.0 220.0h1v1h-1zM38.0 221.0h1v1h-1zM44.0 221.0h1v1h-1zM40.0 222.0h3v1h-3z" fill="#45d8c6"/>
<path d="M70.0 185.0h3v1h-3zM74.0 187.0h1v1h-1zM67.0 188.0h1v1h-1zM67.0 189.0h1v1h-1zM67.0 190.0h1v1h-1zM74.0 191.0h1v1h-1zM68.0 192.0h1v1h-1zM68.0 193.0h1v1h-1zM73.0 193.0h1v1h-1zM68.0 194.0h1v1h-1zM73.0 194.0h1v1h-1zM68.0 195.0h1v1h-1zM72.0 195.0h2v1h-2zM68.0 196.0h2v1h-2zM72.0 196.0h1v1h-1zM69.0 197.0h4v1h-4zM69.0 198.0h3v1h-3zM39.0 217.0h1v1h-1zM38.0 218.0h1v1h-1zM38.0 220.0h1v1h-1zM39.0 221.0h1v1h-1z" fill="#62e08a"/>
<path d="M69.0 186.0h1v1h-1zM73.0 186.0h1v1h-1zM68.0 187.0h1v1h-1zM74.0 188.0h1v1h-1zM74.0 189.0h1v1h-1zM74.0 190.0h1v1h-1zM68.0 191.0h1v1h-1zM69.0 192.0h1v1h-1zM73.0 192.0h1v1h-1zM69.0 193.0h4v1h-4zM69.0 194.0h4v1h-4zM69.0 195.0h3v1h-3zM70.0 196.0h2v1h-2zM40.0 217.0h1v1h-1zM43.0 217.0h1v1h-1zM44.0 218.0h1v1h-1zM38.0 219.0h1v1h-1zM44.0 219.0h1v1h-1zM44.0 220.0h1v1h-1zM43.0 221.0h1v1h-1z" fill="#7ee468"/>
<path d="M70.0 186.0h1v1h-1zM72.0 186.0h1v1h-1zM68.0 188.0h1v1h-1zM68.0 189.0h1v1h-1zM68.0 190.0h1v1h-1zM69.0 191.0h1v1h-1zM73.0 191.0h1v1h-1zM70.0 192.0h3v1h-3zM41.0 217.0h2v1h-2zM39.0 218.0h1v1h-1zM39.0 220.0h1v1h-1zM40.0 221.0h3v1h-3z" fill="#a2e84e"/>
<path d="M71.0 186.0h1v1h-1zM69.0 187.0h1v1h-1zM73.0 187.0h1v1h-1zM69.0 190.0h1v1h-1zM73.0 190.0h1v1h-1zM70.0 191.0h1v1h-1zM72.0 191.0h1v1h-1zM43.0 218.0h1v1h-1zM39.0 219.0h1v1h-1zM43.0 219.0h1v1h-1zM43.0 220.0h1v1h-1z" fill="#c8e63a"/>
<path d="M70.0 187.0h3v1h-3zM70.0 190.0h2v1h-2zM40.0 219.0h1v1h-1zM42.0 219.0h1v1h-1zM41.0 220.0h1v1h-1z" fill="#f4a424"/>
<path d="M69.0 188.0h1v1h-1zM73.0 188.0h1v1h-1zM69.0 189.0h1v1h-1zM73.0 189.0h1v1h-1zM72.0 190.0h1v1h-1zM71.0 191.0h1v1h-1zM40.0 218.0h3v1h-3zM40.0 220.0h1v1h-1zM42.0 220.0h1v1h-1z" fill="#ecd42c"/>
<path d="M70.0 188.0h3v1h-3zM70.0 189.0h3v1h-3zM41.0 219.0h1v1h-1z" fill="#e8601c"/>
</g>
<g filter="url(#soft)">
<path d="M74.0 234.0h1v1h-1zM73.0 235.0h1v1h-1zM67.0 236.0h1v1h-1zM71.0 236.0h1v1h-1zM82.0 236.0h1v1h-1zM71.0 237.0h1v1h-1zM55.0 238.0h1v1h-1zM68.0 238.0h1v1h-1zM77.0 238.0h1v1h-1zM52.0 239.0h1v1h-1zM62.0 239.0h1v1h-1zM70.0 239.0h1v1h-1zM72.0 239.0h2v1h-2zM80.0 239.0h1v1h-1zM62.0 240.0h1v1h-1zM70.0 240.0h1v1h-1zM74.0 240.0h1v1h-1zM76.0 240.0h1v1h-1zM78.0 240.0h1v1h-1zM60.0 241.0h2v1h-2zM63.0 241.0h1v1h-1zM67.0 241.0h1v1h-1zM71.0 241.0h1v1h-1zM79.0 241.0h1v1h-1zM81.0 241.0h1v1h-1zM57.0 242.0h1v1h-1zM62.0 242.0h2v1h-2zM70.0 242.0h1v1h-1zM73.0 242.0h1v1h-1zM77.0 242.0h1v1h-1zM82.0 242.0h1v1h-1zM85.0 242.0h1v1h-1zM60.0 243.0h1v1h-1zM63.0 243.0h2v1h-2zM68.0 243.0h1v1h-1zM73.0 243.0h3v1h-3zM78.0 243.0h2v1h-2zM56.0 244.0h1v1h-1zM61.0 244.0h2v1h-2zM64.0 244.0h1v1h-1zM70.0 244.0h1v1h-1zM79.0 244.0h1v1h-1zM82.0 244.0h1v1h-1zM58.0 245.0h1v1h-1zM62.0 245.0h1v1h-1zM64.0 245.0h1v1h-1zM80.0 245.0h1v1h-1zM82.0 245.0h2v1h-2zM59.0 246.0h2v1h-2zM82.0 246.0h1v1h-1zM55.0 247.0h1v1h-1zM59.0 247.0h1v1h-1zM64.0 247.0h1v1h-1zM81.0 247.0h2v1h-2zM87.0 247.0h1v1h-1zM55.0 248.0h1v1h-1zM57.0 248.0h1v1h-1zM59.0 248.0h1v1h-1zM63.0 248.0h1v1h-1zM65.0 248.0h1v1h-1zM52.0 249.0h1v1h-1zM55.0 249.0h1v1h-1zM60.0 249.0h1v1h-1zM85.0 249.0h1v1h-1zM53.0 250.0h2v1h-2zM58.0 250.0h2v1h-2zM80.0 250.0h1v1h-1zM85.0 250.0h1v1h-1zM50.0 251.0h1v1h-1zM59.0 251.0h2v1h-2zM62.0 251.0h1v1h-1zM58.0 252.0h1v1h-1zM61.0 252.0h1v1h-1zM79.0 252.0h1v1h-1zM81.0 252.0h1v1h-1zM85.0 252.0h1v1h-1zM42.0 253.0h1v1h-1zM46.0 253.0h1v1h-1zM52.0 253.0h1v1h-1zM55.0 253.0h3v1h-3zM60.0 253.0h2v1h-2zM78.0 253.0h1v1h-1zM81.0 253.0h1v1h-1zM87.0 253.0h1v1h-1zM49.0 254.0h1v1h-1zM53.0 254.0h2v1h-2zM57.0 254.0h1v1h-1zM59.0 254.0h1v1h-1zM78.0 254.0h1v1h-1zM81.0 254.0h2v1h-2zM84.0 254.0h1v1h-1zM37.0 255.0h1v1h-1zM41.0 255.0h1v1h-1zM47.0 255.0h1v1h-1zM49.0 255.0h1v1h-1zM55.0 255.0h1v1h-1zM57.0 255.0h1v1h-1zM60.0 255.0h1v1h-1zM80.0 255.0h2v1h-2zM88.0 255.0h1v1h-1zM46.0 256.0h1v1h-1zM49.0 256.0h1v1h-1zM52.0 256.0h1v1h-1zM54.0 256.0h1v1h-1zM79.0 256.0h1v1h-1zM82.0 256.0h1v1h-1zM38.0 257.0h1v1h-1zM42.0 257.0h1v1h-1zM47.0 257.0h1v1h-1zM52.0 257.0h1v1h-1zM55.0 257.0h1v1h-1zM60.0 257.0h1v1h-1zM78.0 257.0h2v1h-2zM82.0 257.0h1v1h-1zM84.0 257.0h1v1h-1zM49.0 258.0h1v1h-1zM52.0 258.0h1v1h-1zM54.0 258.0h1v1h-1zM56.0 258.0h1v1h-1zM81.0 258.0h1v1h-1zM38.0 259.0h1v1h-1zM49.0 259.0h1v1h-1zM54.0 259.0h1v1h-1zM56.0 259.0h1v1h-1zM76.0 259.0h1v1h-1zM82.0 259.0h1v1h-1zM45.0 260.0h1v1h-1zM48.0 260.0h1v1h-1zM51.0 260.0h1v1h-1zM58.0 260.0h1v1h-1zM77.0 260.0h1v1h-1zM80.0 260.0h2v1h-2zM84.0 260.0h1v1h-1zM42.0 261.0h1v1h-1zM50.0 261.0h1v1h-1zM53.0 261.0h2v1h-2zM56.0 261.0h1v1h-1zM59.0 261.0h1v1h-1zM78.0 261.0h1v1h-1zM38.0 262.0h1v1h-1zM43.0 262.0h2v1h-2zM47.0 262.0h1v1h-1zM51.0 262.0h1v1h-1zM53.0 262.0h3v1h-3zM81.0 262.0h2v1h-2zM38.0 263.0h1v1h-1zM47.0 263.0h2v1h-2zM51.0 263.0h1v1h-1zM62.0 263.0h1v1h-1zM78.0 263.0h1v1h-1zM82.0 263.0h1v1h-1zM85.0 263.0h1v1h-1zM51.0 264.0h1v1h-1zM57.0 264.0h2v1h-2zM61.0 264.0h1v1h-1zM72.0 264.0h1v1h-1zM80.0 264.0h2v1h-2zM38.0 265.0h1v1h-1zM51.0 265.0h1v1h-1zM57.0 265.0h1v1h-1zM61.0 265.0h1v1h-1zM70.0 265.0h1v1h-1zM72.0 265.0h1v1h-1zM74.0 265.0h1v1h-1zM44.0 266.0h1v1h-1zM46.0 266.0h1v1h-1zM48.0 266.0h1v1h-1zM51.0 266.0h1v1h-1zM54.0 266.0h4v1h-4zM60.0 266.0h2v1h-2zM69.0 266.0h2v1h-2zM72.0 266.0h1v1h-1zM75.0 266.0h1v1h-1zM79.0 266.0h2v1h-2zM82.0 266.0h1v1h-1zM42.0 267.0h1v1h-1zM45.0 267.0h4v1h-4zM50.0 267.0h1v1h-1zM67.0 267.0h1v1h-1zM70.0 267.0h1v1h-1zM78.0 267.0h4v1h-4zM85.0 267.0h1v1h-1zM39.0 268.0h1v1h-1zM47.0 268.0h1v1h-1zM49.0 268.0h1v1h-1zM52.0 268.0h1v1h-1zM57.0 268.0h1v1h-1zM61.0 268.0h2v1h-2zM82.0 268.0h1v1h-1zM85.0 268.0h1v1h-1zM41.0 269.0h2v1h-2zM44.0 269.0h1v1h-1zM48.0 269.0h1v1h-1zM56.0 269.0h2v1h-2zM61.0 269.0h1v1h-1zM66.0 269.0h1v1h-1zM71.0 269.0h1v1h-1zM76.0 269.0h1v1h-1zM79.0 269.0h1v1h-1zM43.0 270.0h1v1h-1zM46.0 270.0h1v1h-1zM49.0 270.0h1v1h-1zM57.0 270.0h1v1h-1zM63.0 270.0h1v1h-1zM75.0 270.0h2v1h-2zM36.0 271.0h1v1h-1zM43.0 271.0h1v1h-1zM46.0 271.0h1v1h-1zM49.0 271.0h1v1h-1zM51.0 271.0h1v1h-1zM57.0 271.0h1v1h-1zM59.0 271.0h1v1h-1zM65.0 271.0h2v1h-2zM71.0 271.0h2v1h-2zM74.0 271.0h1v1h-1zM77.0 271.0h2v1h-2zM36.0 272.0h1v1h-1zM40.0 272.0h1v1h-1zM59.0 272.0h1v1h-1zM69.0 272.0h1v1h-1zM74.0 272.0h2v1h-2zM89.0 272.0h1v1h-1zM35.0 273.0h1v1h-1zM38.0 273.0h1v1h-1zM43.0 273.0h1v1h-1zM45.0 273.0h1v1h-1zM49.0 273.0h1v1h-1zM58.0 273.0h1v1h-1zM60.0 273.0h2v1h-2zM65.0 273.0h1v1h-1zM69.0 273.0h1v1h-1zM71.0 273.0h3v1h-3zM81.0 273.0h1v1h-1zM85.0 273.0h1v1h-1zM89.0 273.0h1v1h-1zM44.0 274.0h2v1h-2zM49.0 274.0h3v1h-3zM55.0 274.0h1v1h-1zM59.0 274.0h2v1h-2zM63.0 274.0h2v1h-2zM74.0 274.0h1v1h-1zM81.0 274.0h1v1h-1zM83.0 274.0h1v1h-1zM36.0 275.0h1v1h-1zM41.0 275.0h2v1h-2zM48.0 275.0h3v1h-3zM59.0 275.0h1v1h-1zM66.0 275.0h2v1h-2zM72.0 275.0h1v1h-1zM74.0 275.0h1v1h-1zM77.0 275.0h1v1h-1zM84.0 275.0h1v1h-1zM86.0 275.0h1v1h-1zM36.0 276.0h1v1h-1zM49.0 276.0h1v1h-1zM53.0 276.0h1v1h-1zM55.0 276.0h1v1h-1zM57.0 276.0h1v1h-1zM59.0 276.0h1v1h-1zM73.0 276.0h3v1h-3zM83.0 276.0h1v1h-1zM69.0 277.0h1v1h-1zM79.0 277.0h2v1h-2zM86.0 277.0h1v1h-1zM52.0 278.0h1v1h-1zM57.0 278.0h1v1h-1zM60.0 278.0h1v1h-1zM67.0 278.0h1v1h-1zM72.0 278.0h3v1h-3zM76.0 278.0h2v1h-2zM79.0 278.0h1v1h-1zM59.0 279.0h1v1h-1zM62.0 279.0h2v1h-2zM67.0 279.0h1v1h-1zM56.0 280.0h1v1h-1zM63.0 280.0h1v1h-1zM71.0 280.0h1v1h-1zM74.0 280.0h1v1h-1zM76.0 280.0h1v1h-1zM84.0 280.0h1v1h-1zM86.0 280.0h1v1h-1zM52.0 281.0h1v1h-1zM63.0 281.0h1v1h-1zM68.0 281.0h2v1h-2zM71.0 281.0h1v1h-1zM75.0 281.0h1v1h-1zM78.0 281.0h2v1h-2zM86.0 281.0h1v1h-1zM54.0 282.0h1v1h-1zM56.0 282.0h1v1h-1zM58.0 282.0h1v1h-1zM62.0 282.0h1v1h-1zM64.0 282.0h1v1h-1zM68.0 282.0h1v1h-1zM73.0 282.0h2v1h-2zM76.0 282.0h1v1h-1zM39.0 283.0h1v1h-1zM53.0 283.0h3v1h-3zM57.0 283.0h4v1h-4zM62.0 283.0h3v1h-3zM66.0 283.0h3v1h-3zM73.0 283.0h1v1h-1zM81.0 283.0h1v1h-1zM38.0 284.0h3v1h-3zM42.0 284.0h1v1h-1zM45.0 284.0h2v1h-2zM48.0 284.0h1v1h-1zM53.0 284.0h1v1h-1zM56.0 284.0h1v1h-1zM58.0 284.0h1v1h-1zM61.0 284.0h1v1h-1zM64.0 284.0h1v1h-1zM72.0 284.0h1v1h-1zM37.0 285.0h2v1h-2zM41.0 285.0h1v1h-1zM45.0 285.0h1v1h-1zM49.0 285.0h1v1h-1zM57.0 285.0h2v1h-2zM60.0 285.0h1v1h-1zM74.0 285.0h1v1h-1zM85.0 285.0h1v1h-1z" fill="#7a88ff"/>
<path d="M74.0 242.0h2v1h-2zM69.0 243.0h4v1h-4zM76.0 243.0h1v1h-1zM69.0 244.0h1v1h-1zM71.0 244.0h2v1h-2zM80.0 244.0h1v1h-1zM65.0 245.0h5v1h-5zM81.0 245.0h1v1h-1zM63.0 246.0h1v1h-1zM65.0 246.0h3v1h-3zM80.0 246.0h2v1h-2zM63.0 247.0h1v1h-1zM65.0 247.0h2v1h-2zM80.0 247.0h1v1h-1zM61.0 248.0h1v1h-1zM64.0 248.0h1v1h-1zM80.0 248.0h1v1h-1zM63.0 249.0h1v1h-1zM79.0 249.0h1v1h-1zM81.0 249.0h1v1h-1zM60.0 250.0h1v1h-1zM62.0 250.0h2v1h-2zM79.0 250.0h1v1h-1zM81.0 250.0h1v1h-1zM61.0 251.0h1v1h-1zM79.0 251.0h1v1h-1zM60.0 252.0h1v1h-1zM78.0 252.0h1v1h-1zM80.0 252.0h1v1h-1zM58.0 253.0h2v1h-2zM80.0 253.0h1v1h-1zM58.0 254.0h1v1h-1zM60.0 254.0h1v1h-1zM79.0 254.0h2v1h-2zM58.0 255.0h2v1h-2zM77.0 255.0h3v1h-3zM58.0 256.0h3v1h-3zM77.0 256.0h2v1h-2zM80.0 256.0h1v1h-1zM57.0 257.0h1v1h-1zM59.0 257.0h1v1h-1zM77.0 257.0h1v1h-1zM80.0 257.0h1v1h-1zM59.0 258.0h2v1h-2zM76.0 258.0h4v1h-4zM57.0 259.0h2v1h-2zM60.0 259.0h2v1h-2zM77.0 259.0h3v1h-3zM57.0 260.0h1v1h-1zM59.0 260.0h3v1h-3zM75.0 260.0h1v1h-1zM79.0 260.0h1v1h-1zM57.0 261.0h2v1h-2zM60.0 261.0h3v1h-3zM75.0 261.0h2v1h-2zM79.0 261.0h1v1h-1zM56.0 262.0h8v1h-8zM74.0 262.0h4v1h-4zM79.0 262.0h1v1h-1zM55.0 263.0h7v1h-7zM63.0 263.0h1v1h-1zM73.0 263.0h4v1h-4zM54.0 264.0h3v1h-3zM62.0 264.0h3v1h-3zM73.0 264.0h5v1h-5zM53.0 265.0h3v1h-3zM58.0 265.0h3v1h-3zM62.0 265.0h5v1h-5zM69.0 265.0h1v1h-1zM71.0 265.0h1v1h-1zM75.0 265.0h3v1h-3zM53.0 266.0h1v1h-1zM58.0 266.0h2v1h-2zM62.0 266.0h7v1h-7zM71.0 266.0h1v1h-1zM73.0 266.0h2v1h-2zM76.0 266.0h2v1h-2zM52.0 267.0h3v1h-3zM56.0 267.0h3v1h-3zM60.0 267.0h7v1h-7zM68.0 267.0h2v1h-2zM71.0 267.0h3v1h-3zM50.0 268.0h2v1h-2zM53.0 268.0h1v1h-1zM55.0 268.0h1v1h-1zM59.0 268.0h2v1h-2zM63.0 268.0h11v1h-11zM51.0 269.0h5v1h-5zM59.0 269.0h2v1h-2zM62.0 269.0h1v1h-1zM64.0 269.0h2v1h-2zM67.0 269.0h4v1h-4zM72.0 269.0h2v1h-2zM75.0 269.0h1v1h-1zM48.0 270.0h1v1h-1zM51.0 270.0h2v1h-2zM54.0 270.0h3v1h-3zM58.0 270.0h5v1h-5zM64.0 270.0h2v1h-2zM67.0 270.0h5v1h-5zM52.0 271.0h1v1h-1zM54.0 271.0h2v1h-2zM58.0 271.0h1v1h-1zM60.0 271.0h4v1h-4zM68.0 271.0h1v1h-1zM70.0 271.0h1v1h-1zM73.0 271.0h1v1h-1zM45.0 272.0h8v1h-8zM54.0 272.0h2v1h-2zM57.0 272.0h2v1h-2zM60.0 272.0h3v1h-3zM66.0 272.0h1v1h-1zM68.0 272.0h1v1h-1zM72.0 272.0h1v1h-1zM42.0 273.0h1v1h-1zM44.0 273.0h1v1h-1zM46.0 273.0h3v1h-3zM50.0 273.0h8v1h-8zM59.0 273.0h1v1h-1zM62.0 273.0h3v1h-3zM66.0 273.0h3v1h-3zM43.0 274.0h1v1h-1zM46.0 274.0h2v1h-2zM52.0 274.0h3v1h-3zM56.0 274.0h1v1h-1zM61.0 274.0h2v1h-2zM65.0 274.0h1v1h-1zM67.0 274.0h3v1h-3zM71.0 274.0h1v1h-1zM37.0 275.0h1v1h-1zM39.0 275.0h2v1h-2zM43.0 275.0h5v1h-5zM51.0 275.0h3v1h-3zM55.0 275.0h4v1h-4zM61.0 275.0h1v1h-1zM64.0 275.0h2v1h-2zM69.0 275.0h3v1h-3zM35.0 276.0h1v1h-1zM37.0 276.0h1v1h-1zM50.0 276.0h3v1h-3zM54.0 276.0h1v1h-1zM56.0 276.0h1v1h-1zM58.0 276.0h1v1h-1zM61.0 276.0h7v1h-7zM35.0 277.0h1v1h-1zM51.0 277.0h9v1h-9zM61.0 277.0h2v1h-2zM64.0 277.0h1v1h-1zM67.0 277.0h2v1h-2zM70.0 277.0h1v1h-1zM72.0 277.0h1v1h-1zM53.0 278.0h4v1h-4zM58.0 278.0h2v1h-2zM61.0 278.0h2v1h-2zM65.0 278.0h2v1h-2zM68.0 278.0h3v1h-3zM52.0 279.0h7v1h-7zM60.0 279.0h2v1h-2zM64.0 279.0h2v1h-2zM68.0 279.0h1v1h-1zM70.0 279.0h2v1h-2zM51.0 280.0h5v1h-5zM57.0 280.0h5v1h-5zM64.0 280.0h4v1h-4zM69.0 280.0h2v1h-2zM35.0 281.0h2v1h-2zM49.0 281.0h3v1h-3zM54.0 281.0h5v1h-5zM61.0 281.0h2v1h-2zM35.0 282.0h4v1h-4zM46.0 282.0h6v1h-6zM53.0 282.0h1v1h-1zM55.0 282.0h1v1h-1zM57.0 282.0h1v1h-1zM59.0 282.0h1v1h-1zM38.0 283.0h1v1h-1zM40.0 283.0h2v1h-2zM43.0 283.0h6v1h-6zM50.0 283.0h3v1h-3z" fill="#3c5af0"/>
<path d="M73.0 244.0h2v1h-2zM78.0 244.0h1v1h-1zM70.0 245.0h1v1h-1zM68.0 246.0h1v1h-1zM67.0 247.0h1v1h-1zM79.0 248.0h1v1h-1zM64.0 249.0h1v1h-1zM78.0 250.0h1v1h-1zM63.0 251.0h1v1h-1zM78.0 251.0h1v1h-1zM62.0 252.0h1v1h-1zM77.0 253.0h1v1h-1zM61.0 254.0h1v1h-1zM77.0 254.0h1v1h-1zM61.0 255.0h1v1h-1zM61.0 256.0h1v1h-1zM76.0 256.0h1v1h-1zM61.0 257.0h1v1h-1zM76.0 257.0h1v1h-1zM61.0 258.0h1v1h-1zM75.0 258.0h1v1h-1zM62.0 259.0h1v1h-1zM75.0 259.0h1v1h-1zM62.0 260.0h2v1h-2zM74.0 260.0h1v1h-1zM63.0 261.0h2v1h-2zM73.0 261.0h2v1h-2zM64.0 262.0h2v1h-2zM72.0 262.0h2v1h-2zM64.0 263.0h9v1h-9zM65.0 264.0h7v1h-7zM67.0 265.0h2v1h-2zM38.0 276.0h2v1h-2zM46.0 276.0h3v1h-3zM36.0 277.0h1v1h-1zM49.0 277.0h2v1h-2zM35.0 278.0h1v1h-1zM50.0 278.0h2v1h-2zM35.0 279.0h1v1h-1zM50.0 279.0h2v1h-2zM35.0 280.0h1v1h-1zM49.0 280.0h2v1h-2zM37.0 281.0h1v1h-1zM48.0 281.0h1v1h-1zM39.0 282.0h2v1h-2zM44.0 282.0h2v1h-2z" fill="#3d63f5"/>
<path d="M75.0 244.0h3v1h-3zM71.0 245.0h1v1h-1zM79.0 245.0h1v1h-1zM69.0 246.0h1v1h-1zM79.0 246.0h1v1h-1zM68.0 247.0h1v1h-1zM79.0 247.0h1v1h-1zM66.0 248.0h1v1h-1zM65.0 249.0h1v1h-1zM78.0 249.0h1v1h-1zM64.0 250.0h1v1h-1zM77.0 250.0h1v1h-1zM77.0 251.0h1v1h-1zM63.0 252.0h1v1h-1zM77.0 252.0h1v1h-1zM62.0 253.0h1v1h-1zM76.0 253.0h1v1h-1zM62.0 254.0h1v1h-1zM76.0 254.0h1v1h-1zM62.0 255.0h1v1h-1zM76.0 255.0h1v1h-1zM62.0 256.0h1v1h-1zM75.0 256.0h1v1h-1zM62.0 257.0h1v1h-1zM75.0 257.0h1v1h-1zM62.0 258.0h2v1h-2zM74.0 258.0h1v1h-1zM63.0 259.0h1v1h-1zM74.0 259.0h1v1h-1zM64.0 260.0h1v1h-1zM73.0 260.0h1v1h-1zM65.0 261.0h2v1h-2zM71.0 261.0h2v1h-2zM66.0 262.0h6v1h-6zM40.0 276.0h6v1h-6zM37.0 277.0h2v1h-2zM47.0 277.0h2v1h-2zM36.0 278.0h1v1h-1zM48.0 278.0h2v1h-2zM36.0 279.0h1v1h-1zM49.0 279.0h1v1h-1zM36.0 280.0h1v1h-1zM48.0 280.0h1v1h-1zM38.0 281.0h1v1h-1zM46.0 281.0h2v1h-2zM41.0 282.0h3v1h-3z" fill="#3f8cf7"/>
<path d="M72.0 245.0h1v1h-1zM78.0 245.0h1v1h-1zM70.0 246.0h1v1h-1zM67.0 248.0h1v1h-1zM78.0 248.0h1v1h-1zM66.0 249.0h1v1h-1zM77.0 249.0h1v1h-1zM65.0 250.0h1v1h-1zM64.0 251.0h1v1h-1zM76.0 251.0h1v1h-1zM64.0 252.0h1v1h-1zM76.0 252.0h1v1h-1zM63.0 253.0h1v1h-1zM63.0 254.0h1v1h-1zM75.0 254.0h1v1h-1zM63.0 255.0h1v1h-1zM75.0 255.0h1v1h-1zM63.0 256.0h1v1h-1zM74.0 256.0h1v1h-1zM63.0 257.0h1v1h-1zM74.0 257.0h1v1h-1zM64.0 258.0h1v1h-1zM73.0 258.0h1v1h-1zM64.0 259.0h2v1h-2zM72.0 259.0h2v1h-2zM65.0 260.0h3v1h-3zM70.0 260.0h3v1h-3zM67.0 261.0h4v1h-4zM39.0 277.0h1v1h-1zM45.0 277.0h2v1h-2zM37.0 278.0h1v1h-1zM47.0 278.0h1v1h-1zM37.0 279.0h1v1h-1zM47.0 279.0h2v1h-2zM37.0 280.0h1v1h-1zM47.0 280.0h1v1h-1zM39.0 281.0h2v1h-2zM44.0 281.0h2v1h-2z" fill="#3fbcee"/>
<path d="M73.0 245.0h1v1h-1zM77.0 245.0h1v1h-1zM71.0 246.0h1v1h-1zM78.0 246.0h1v1h-1zM69.0 247.0h1v1h-1zM78.0 247.0h1v1h-1zM68.0 248.0h1v1h-1zM67.0 249.0h1v1h-1zM66.0 250.0h1v1h-1zM76.0 250.0h1v1h-1zM65.0 251.0h1v1h-1zM75.0 251.0h1v1h-1zM75.0 252.0h1v1h-1zM64.0 253.0h1v1h-1zM75.0 253.0h1v1h-1zM64.0 254.0h1v1h-1zM74.0 254.0h1v1h-1zM64.0 255.0h1v1h-1zM74.0 255.0h1v1h-1zM64.0 256.0h1v1h-1zM64.0 257.0h1v1h-1zM73.0 257.0h1v1h-1zM65.0 258.0h1v1h-1zM72.0 258.0h1v1h-1zM66.0 259.0h2v1h-2zM70.0 259.0h2v1h-2zM68.0 260.0h2v1h-2zM40.0 277.0h5v1h-5zM38.0 278.0h2v1h-2zM45.0 278.0h2v1h-2zM38.0 279.0h1v1h-1zM46.0 279.0h1v1h-1zM38.0 280.0h2v1h-2zM45.0 280.0h2v1h-2zM41.0 281.0h3v1h-3z" fill="#45d8c6"/>
<path d="M74.0 245.0h3v1h-3zM70.0 247.0h1v1h-1zM77.0 248.0h1v1h-1zM68.0 249.0h1v1h-1zM76.0 249.0h1v1h-1zM67.0 250.0h1v1h-1zM75.0 250.0h1v1h-1zM66.0 251.0h1v1h-1zM65.0 252.0h1v1h-1zM74.0 252.0h1v1h-1zM65.0 253.0h1v1h-1zM74.0 253.0h1v1h-1zM73.0 255.0h1v1h-1zM65.0 256.0h1v1h-1zM73.0 256.0h1v1h-1zM65.0 257.0h1v1h-1zM72.0 257.0h1v1h-1zM66.0 258.0h2v1h-2zM70.0 258.0h2v1h-2zM68.0 259.0h2v1h-2zM40.0 278.0h5v1h-5zM39.0 279.0h1v1h-1zM44.0 279.0h2v1h-2zM40.0 280.0h5v1h-5z" fill="#62e08a"/>
<path d="M72.0 246.0h1v1h-1zM77.0 246.0h1v1h-1zM77.0 247.0h1v1h-1zM69.0 248.0h1v1h-1zM68.0 250.0h1v1h-1zM67.0 251.0h1v1h-1zM74.0 251.0h1v1h-1zM66.0 252.0h1v1h-1zM73.0 252.0h1v1h-1zM66.0 253.0h1v1h-1zM73.0 253.0h1v1h-1zM65.0 254.0h1v1h-1zM73.0 254.0h1v1h-1zM65.0 255.0h1v1h-1zM72.0 255.0h1v1h-1zM66.0 256.0h1v1h-1zM72.0 256.0h1v1h-1zM66.0 257.0h2v1h-2zM70.0 257.0h2v1h-2zM68.0 258.0h2v1h-2zM40.0 279.0h4v1h-4z" fill="#7ee468"/>
<path d="M73.0 246.0h1v1h-1zM76.0 246.0h1v1h-1zM76.0 247.0h1v1h-1zM70.0 248.0h1v1h-1zM70.0 249.0h1v1h-1zM69.0 250.0h2v1h-2zM73.0 250.0h1v1h-1zM69.0 251.0h4v1h-4zM68.0 252.0h4v1h-4zM68.0 253.0h1v1h-1zM71.0 253.0h1v1h-1zM67.0 254.0h2v1h-2zM70.0 254.0h2v1h-2zM67.0 255.0h4v1h-4zM68.0 256.0h2v1h-2z" fill="#c8e63a"/>
<path d="M74.0 246.0h2v1h-2zM72.0 247.0h1v1h-1zM71.0 248.0h1v1h-1zM75.0 248.0h1v1h-1zM74.0 249.0h1v1h-1zM71.0 250.0h2v1h-2zM69.0 253.0h2v1h-2zM69.0 254.0h1v1h-1z" fill="#ecd42c"/>
<path d="M71.0 247.0h1v1h-1zM76.0 248.0h1v1h-1zM69.0 249.0h1v1h-1zM75.0 249.0h1v1h-1zM74.0 250.0h1v1h-1zM68.0 251.0h1v1h-1zM73.0 251.0h1v1h-1zM67.0 252.0h1v1h-1zM72.0 252.0h1v1h-1zM67.0 253.0h1v1h-1zM72.0 253.0h1v1h-1zM66.0 254.0h1v1h-1zM72.0 254.0h1v1h-1zM66.0 255.0h1v1h-1zM71.0 255.0h1v1h-1zM67.0 256.0h1v1h-1zM70.0 256.0h2v1h-2zM68.0 257.0h2v1h-2z" fill="#a2e84e"/>
<path d="M73.0 247.0h2v1h-2zM72.0 248.0h3v1h-3z" fill="#e8601c"/>
<path d="M75.0 247.0h1v1h-1zM71.0 249.0h3v1h-3z" fill="#f4a424"/>
</g>
<g filter="url(#soft)">
<path d="M126.0 230.0h1v1h-1zM127.0 231.0h1v1h-1zM131.0 233.0h1v1h-1zM125.0 235.0h1v1h-1zM130.0 235.0h1v1h-1zM139.0 237.0h1v1h-1zM127.0 239.0h1v1h-1zM131.0 239.0h2v1h-2zM141.0 239.0h1v1h-1zM120.0 240.0h1v1h-1zM140.0 240.0h1v1h-1zM131.0 241.0h1v1h-1zM132.0 242.0h2v1h-2zM143.0 242.0h3v1h-3zM120.0 243.0h1v1h-1zM123.0 243.0h1v1h-1zM126.0 243.0h1v1h-1zM136.0 243.0h1v1h-1zM138.0 243.0h1v1h-1zM141.0 243.0h1v1h-1zM143.0 243.0h1v1h-1zM149.0 243.0h1v1h-1zM120.0 244.0h1v1h-1zM122.0 244.0h1v1h-1zM127.0 244.0h1v1h-1zM131.0 244.0h1v1h-1zM137.0 244.0h1v1h-1zM139.0 244.0h1v1h-1zM141.0 244.0h1v1h-1zM145.0 244.0h1v1h-1zM124.0 245.0h2v1h-2zM128.0 245.0h1v1h-1zM131.0 245.0h1v1h-1zM127.0 246.0h1v1h-1zM133.0 246.0h2v1h-2zM136.0 246.0h1v1h-1zM108.0 247.0h1v1h-1zM115.0 247.0h1v1h-1zM123.0 247.0h2v1h-2zM126.0 247.0h2v1h-2zM132.0 247.0h1v1h-1zM143.0 247.0h1v1h-1zM145.0 247.0h2v1h-2zM148.0 247.0h1v1h-1zM119.0 248.0h1v1h-1zM126.0 248.0h1v1h-1zM134.0 248.0h1v1h-1zM145.0 248.0h2v1h-2zM113.0 249.0h1v1h-1zM115.0 249.0h2v1h-2zM120.0 249.0h1v1h-1zM123.0 249.0h1v1h-1zM112.0 250.0h1v1h-1zM114.0 250.0h1v1h-1zM119.0 250.0h1v1h-1zM121.0 250.0h1v1h-1zM126.0 250.0h1v1h-1zM146.0 250.0h1v1h-1zM107.0 251.0h1v1h-1zM115.0 251.0h1v1h-1zM118.0 251.0h1v1h-1zM129.0 251.0h2v1h-2zM115.0 252.0h1v1h-1zM124.0 252.0h2v1h-2zM127.0 252.0h2v1h-2zM141.0 252.0h3v1h-3zM105.0 253.0h1v1h-1zM114.0 253.0h2v1h-2zM120.0 253.0h3v1h-3zM139.0 253.0h2v1h-2zM143.0 253.0h1v1h-1zM145.0 253.0h2v1h-2zM104.0 254.0h1v1h-1zM112.0 254.0h2v1h-2zM115.0 254.0h3v1h-3zM119.0 254.0h1v1h-1zM123.0 254.0h1v1h-1zM142.0 254.0h1v1h-1zM98.0 255.0h1v1h-1zM106.0 255.0h1v1h-1zM112.0 255.0h4v1h-4zM121.0 255.0h1v1h-1zM139.0 255.0h1v1h-1zM143.0 255.0h1v1h-1zM107.0 256.0h1v1h-1zM111.0 256.0h1v1h-1zM120.0 256.0h1v1h-1zM143.0 256.0h1v1h-1zM149.0 256.0h1v1h-1zM108.0 257.0h1v1h-1zM111.0 257.0h1v1h-1zM115.0 257.0h1v1h-1zM117.0 257.0h2v1h-2zM141.0 257.0h2v1h-2zM145.0 257.0h1v1h-1zM109.0 258.0h1v1h-1zM119.0 258.0h1v1h-1zM145.0 258.0h1v1h-1zM112.0 259.0h3v1h-3zM140.0 259.0h1v1h-1zM148.0 259.0h1v1h-1zM101.0 260.0h1v1h-1zM111.0 260.0h1v1h-1zM116.0 260.0h1v1h-1zM145.0 260.0h1v1h-1zM149.0 260.0h1v1h-1zM106.0 261.0h1v1h-1zM108.0 261.0h1v1h-1zM111.0 261.0h2v1h-2zM140.0 261.0h1v1h-1zM143.0 261.0h3v1h-3zM148.0 261.0h2v1h-2zM100.0 262.0h1v1h-1zM109.0 262.0h1v1h-1zM112.0 262.0h1v1h-1zM119.0 262.0h1v1h-1zM143.0 262.0h1v1h-1zM98.0 263.0h1v1h-1zM100.0 263.0h1v1h-1zM104.0 263.0h1v1h-1zM112.0 263.0h2v1h-2zM145.0 263.0h1v1h-1zM102.0 264.0h1v1h-1zM109.0 264.0h1v1h-1zM114.0 264.0h1v1h-1zM141.0 264.0h3v1h-3zM146.0 264.0h1v1h-1zM110.0 265.0h1v1h-1zM112.0 265.0h1v1h-1zM121.0 265.0h1v1h-1zM139.0 265.0h1v1h-1zM141.0 265.0h2v1h-2zM144.0 265.0h1v1h-1zM96.0 266.0h1v1h-1zM98.0 266.0h1v1h-1zM102.0 266.0h1v1h-1zM110.0 266.0h1v1h-1zM115.0 266.0h1v1h-1zM117.0 266.0h1v1h-1zM123.0 266.0h2v1h-2zM139.0 266.0h1v1h-1zM142.0 266.0h1v1h-1zM145.0 266.0h1v1h-1zM148.0 266.0h1v1h-1zM108.0 267.0h1v1h-1zM112.0 267.0h2v1h-2zM123.0 267.0h1v1h-1zM127.0 267.0h1v1h-1zM139.0 267.0h2v1h-2zM146.0 267.0h1v1h-1zM101.0 268.0h1v1h-1zM108.0 268.0h1v1h-1zM110.0 268.0h1v1h-1zM118.0 268.0h1v1h-1zM139.0 268.0h1v1h-1zM145.0 268.0h1v1h-1zM106.0 269.0h1v1h-1zM108.0 269.0h2v1h-2zM111.0 269.0h2v1h-2zM123.0 269.0h1v1h-1zM128.0 269.0h1v1h-1zM141.0 269.0h1v1h-1zM144.0 269.0h1v1h-1zM102.0 270.0h1v1h-1zM104.0 270.0h1v1h-1zM117.0 270.0h1v1h-1zM124.0 270.0h1v1h-1zM128.0 270.0h1v1h-1zM130.0 270.0h1v1h-1zM140.0 270.0h1v1h-1zM142.0 270.0h1v1h-1zM100.0 271.0h2v1h-2zM105.0 271.0h1v1h-1zM111.0 271.0h3v1h-3zM117.0 271.0h1v1h-1zM131.0 271.0h1v1h-1zM134.0 271.0h1v1h-1zM136.0 271.0h2v1h-2zM142.0 271.0h1v1h-1zM145.0 271.0h1v1h-1zM105.0 272.0h2v1h-2zM110.0 272.0h2v1h-2zM113.0 272.0h4v1h-4zM120.0 272.0h2v1h-2zM126.0 272.0h1v1h-1zM133.0 272.0h1v1h-1zM135.0 272.0h1v1h-1zM102.0 273.0h1v1h-1zM105.0 273.0h3v1h-3zM109.0 273.0h3v1h-3zM118.0 273.0h2v1h-2zM123.0 273.0h1v1h-1zM125.0 273.0h1v1h-1zM128.0 273.0h1v1h-1zM99.0 274.0h1v1h-1zM101.0 274.0h1v1h-1zM103.0 274.0h3v1h-3zM107.0 274.0h1v1h-1zM109.0 274.0h1v1h-1zM116.0 274.0h1v1h-1zM131.0 274.0h1v1h-1zM137.0 274.0h1v1h-1zM100.0 275.0h1v1h-1zM107.0 275.0h1v1h-1zM116.0 275.0h1v1h-1zM119.0 275.0h1v1h-1zM123.0 275.0h1v1h-1zM127.0 275.0h1v1h-1zM129.0 275.0h1v1h-1zM132.0 275.0h1v1h-1zM138.0 275.0h1v1h-1zM141.0 275.0h2v1h-2zM145.0 275.0h1v1h-1zM149.0 275.0h1v1h-1zM95.0 276.0h1v1h-1zM97.0 276.0h2v1h-2zM101.0 276.0h2v1h-2zM104.0 276.0h2v1h-2zM117.0 276.0h2v1h-2zM139.0 276.0h1v1h-1zM143.0 276.0h1v1h-1zM96.0 277.0h1v1h-1zM111.0 277.0h1v1h-1zM119.0 277.0h1v1h-1zM122.0 277.0h2v1h-2zM125.0 277.0h1v1h-1zM127.0 277.0h1v1h-1zM131.0 277.0h1v1h-1zM137.0 277.0h1v1h-1zM142.0 277.0h1v1h-1zM149.0 277.0h1v1h-1zM119.0 278.0h2v1h-2zM122.0 278.0h3v1h-3zM126.0 278.0h1v1h-1zM133.0 278.0h1v1h-1zM135.0 278.0h1v1h-1zM137.0 278.0h1v1h-1zM143.0 278.0h4v1h-4zM148.0 278.0h1v1h-1zM95.0 279.0h1v1h-1zM118.0 279.0h3v1h-3zM122.0 279.0h1v1h-1zM124.0 279.0h1v1h-1zM128.0 279.0h1v1h-1zM139.0 279.0h1v1h-1zM141.0 279.0h2v1h-2zM144.0 279.0h1v1h-1zM95.0 280.0h1v1h-1zM97.0 280.0h1v1h-1zM118.0 280.0h1v1h-1zM120.0 280.0h1v1h-1zM129.0 280.0h1v1h-1zM140.0 280.0h1v1h-1zM143.0 280.0h1v1h-1zM114.0 281.0h2v1h-2zM117.0 281.0h1v1h-1zM122.0 281.0h1v1h-1zM125.0 281.0h1v1h-1zM136.0 281.0h2v1h-2zM95.0 282.0h1v1h-1zM99.0 282.0h1v1h-1zM122.0 282.0h1v1h-1zM125.0 282.0h1v1h-1zM129.0 282.0h1v1h-1zM131.0 282.0h1v1h-1zM134.0 282.0h1v1h-1zM136.0 282.0h1v1h-1zM139.0 282.0h1v1h-1zM98.0 283.0h1v1h-1zM101.0 283.0h1v1h-1zM121.0 283.0h1v1h-1zM131.0 283.0h1v1h-1zM135.0 283.0h3v1h-3zM96.0 284.0h1v1h-1zM98.0 284.0h1v1h-1zM102.0 284.0h2v1h-2zM110.0 284.0h2v1h-2zM117.0 284.0h2v1h-2zM120.0 284.0h2v1h-2zM123.0 284.0h1v1h-1zM130.0 284.0h2v1h-2zM102.0 285.0h4v1h-4zM109.0 285.0h1v1h-1zM113.0 285.0h1v1h-1zM116.0 285.0h1v1h-1zM120.0 285.0h1v1h-1zM122.0 285.0h1v1h-1zM126.0 285.0h1v1h-1zM128.0 285.0h1v1h-1zM130.0 285.0h1v1h-1zM134.0 285.0h1v1h-1z" fill="#7a88ff"/>
<path d="M140.0 244.0h1v1h-1zM142.0 244.0h3v1h-3zM137.0 245.0h1v1h-1zM140.0 245.0h6v1h-6zM133.0 247.0h1v1h-1zM135.0 247.0h2v1h-2zM144.0 247.0h1v1h-1zM128.0 248.0h1v1h-1zM130.0 248.0h4v1h-4zM135.0 248.0h1v1h-1zM143.0 248.0h1v1h-1zM127.0 249.0h1v1h-1zM131.0 249.0h3v1h-3zM142.0 249.0h2v1h-2zM124.0 250.0h2v1h-2zM127.0 250.0h2v1h-2zM130.0 250.0h1v1h-1zM132.0 250.0h1v1h-1zM141.0 250.0h2v1h-2zM120.0 251.0h2v1h-2zM123.0 251.0h6v1h-6zM131.0 251.0h1v1h-1zM140.0 251.0h2v1h-2zM120.0 252.0h4v1h-4zM126.0 252.0h1v1h-1zM139.0 252.0h2v1h-2zM117.0 253.0h3v1h-3zM123.0 253.0h3v1h-3zM138.0 253.0h1v1h-1zM141.0 253.0h2v1h-2zM118.0 254.0h1v1h-1zM120.0 254.0h3v1h-3zM124.0 254.0h1v1h-1zM139.0 254.0h1v1h-1zM141.0 254.0h1v1h-1zM119.0 255.0h2v1h-2zM122.0 255.0h1v1h-1zM140.0 255.0h2v1h-2zM116.0 256.0h1v1h-1zM118.0 256.0h2v1h-2zM121.0 256.0h1v1h-1zM140.0 256.0h1v1h-1zM116.0 257.0h1v1h-1zM119.0 257.0h2v1h-2zM140.0 257.0h1v1h-1zM143.0 257.0h1v1h-1zM115.0 258.0h4v1h-4zM140.0 258.0h3v1h-3zM116.0 259.0h4v1h-4zM141.0 259.0h2v1h-2zM114.0 260.0h2v1h-2zM117.0 260.0h3v1h-3zM139.0 260.0h4v1h-4zM113.0 261.0h1v1h-1zM116.0 261.0h4v1h-4zM139.0 261.0h1v1h-1zM141.0 261.0h2v1h-2zM113.0 262.0h2v1h-2zM118.0 262.0h1v1h-1zM139.0 262.0h3v1h-3zM116.0 263.0h4v1h-4zM139.0 263.0h1v1h-1zM113.0 264.0h1v1h-1zM117.0 264.0h4v1h-4zM139.0 264.0h2v1h-2zM113.0 265.0h1v1h-1zM116.0 265.0h5v1h-5zM122.0 265.0h2v1h-2zM138.0 265.0h1v1h-1zM140.0 265.0h1v1h-1zM113.0 266.0h1v1h-1zM116.0 266.0h1v1h-1zM118.0 266.0h5v1h-5zM125.0 266.0h2v1h-2zM138.0 266.0h1v1h-1zM141.0 266.0h1v1h-1zM117.0 267.0h3v1h-3zM121.0 267.0h2v1h-2zM124.0 267.0h3v1h-3zM128.0 267.0h1v1h-1zM138.0 267.0h1v1h-1zM117.0 268.0h1v1h-1zM119.0 268.0h6v1h-6zM126.0 268.0h4v1h-4zM137.0 268.0h2v1h-2zM140.0 268.0h1v1h-1zM114.0 269.0h9v1h-9zM125.0 269.0h3v1h-3zM129.0 269.0h1v1h-1zM137.0 269.0h1v1h-1zM114.0 270.0h3v1h-3zM118.0 270.0h2v1h-2zM121.0 270.0h3v1h-3zM127.0 270.0h1v1h-1zM129.0 270.0h1v1h-1zM136.0 270.0h1v1h-1zM138.0 270.0h1v1h-1zM115.0 271.0h1v1h-1zM119.0 271.0h5v1h-5zM125.0 271.0h3v1h-3zM129.0 271.0h2v1h-2zM132.0 271.0h2v1h-2zM135.0 271.0h1v1h-1zM139.0 271.0h1v1h-1zM118.0 272.0h1v1h-1zM122.0 272.0h1v1h-1zM129.0 272.0h2v1h-2zM132.0 272.0h1v1h-1zM134.0 272.0h1v1h-1zM136.0 272.0h3v1h-3zM113.0 273.0h3v1h-3zM117.0 273.0h1v1h-1zM121.0 273.0h1v1h-1zM124.0 273.0h1v1h-1zM126.0 273.0h2v1h-2zM129.0 273.0h1v1h-1zM131.0 273.0h5v1h-5zM137.0 273.0h2v1h-2zM111.0 274.0h1v1h-1zM113.0 274.0h1v1h-1zM115.0 274.0h1v1h-1zM117.0 274.0h1v1h-1zM119.0 274.0h2v1h-2zM123.0 274.0h5v1h-5zM132.0 274.0h5v1h-5zM104.0 275.0h3v1h-3zM108.0 275.0h2v1h-2zM111.0 275.0h2v1h-2zM114.0 275.0h2v1h-2zM118.0 275.0h1v1h-1zM120.0 275.0h3v1h-3zM124.0 275.0h3v1h-3zM130.0 275.0h1v1h-1zM133.0 275.0h4v1h-4zM99.0 276.0h2v1h-2zM103.0 276.0h1v1h-1zM106.0 276.0h3v1h-3zM110.0 276.0h1v1h-1zM112.0 276.0h5v1h-5zM119.0 276.0h1v1h-1zM122.0 276.0h4v1h-4zM127.0 276.0h6v1h-6zM134.0 276.0h4v1h-4zM97.0 277.0h1v1h-1zM100.0 277.0h2v1h-2zM112.0 277.0h7v1h-7zM120.0 277.0h2v1h-2zM124.0 277.0h1v1h-1zM126.0 277.0h1v1h-1zM129.0 277.0h2v1h-2zM134.0 277.0h1v1h-1zM96.0 278.0h3v1h-3zM116.0 278.0h3v1h-3zM121.0 278.0h1v1h-1zM125.0 278.0h1v1h-1zM129.0 278.0h2v1h-2zM132.0 278.0h1v1h-1zM134.0 278.0h1v1h-1zM96.0 279.0h2v1h-2zM121.0 279.0h1v1h-1zM123.0 279.0h1v1h-1zM125.0 279.0h1v1h-1zM127.0 279.0h1v1h-1zM130.0 279.0h1v1h-1zM136.0 279.0h1v1h-1zM117.0 280.0h1v1h-1zM119.0 280.0h1v1h-1zM121.0 280.0h7v1h-7zM130.0 280.0h1v1h-1zM133.0 280.0h1v1h-1zM96.0 281.0h3v1h-3zM116.0 281.0h1v1h-1zM118.0 281.0h4v1h-4zM126.0 281.0h1v1h-1zM128.0 281.0h1v1h-1zM130.0 281.0h1v1h-1zM96.0 282.0h3v1h-3zM100.0 282.0h1v1h-1zM111.0 282.0h9v1h-9zM121.0 282.0h1v1h-1zM126.0 282.0h1v1h-1zM102.0 283.0h1v1h-1zM104.0 283.0h5v1h-5zM110.0 283.0h5v1h-5zM116.0 283.0h3v1h-3zM120.0 283.0h1v1h-1zM123.0 283.0h3v1h-3zM104.0 284.0h6v1h-6zM112.0 284.0h1v1h-1z" fill="#3c5af0"/>
<path d="M138.0 246.0h1v1h-1zM143.0 246.0h1v1h-1zM142.0 248.0h1v1h-1zM134.0 249.0h1v1h-1zM133.0 250.0h1v1h-1zM140.0 250.0h1v1h-1zM132.0 251.0h2v1h-2zM139.0 251.0h1v1h-1zM129.0 252.0h3v1h-3zM137.0 252.0h2v1h-2zM126.0 253.0h3v1h-3zM137.0 253.0h1v1h-1zM125.0 254.0h1v1h-1zM138.0 254.0h1v1h-1zM123.0 255.0h2v1h-2zM138.0 255.0h1v1h-1zM122.0 256.0h2v1h-2zM139.0 256.0h1v1h-1zM121.0 257.0h2v1h-2zM139.0 257.0h1v1h-1zM120.0 258.0h2v1h-2zM139.0 258.0h1v1h-1zM120.0 259.0h1v1h-1zM139.0 259.0h1v1h-1zM120.0 260.0h1v1h-1zM120.0 261.0h1v1h-1zM138.0 261.0h1v1h-1zM120.0 262.0h2v1h-2zM138.0 262.0h1v1h-1zM120.0 263.0h3v1h-3zM138.0 263.0h1v1h-1zM121.0 264.0h4v1h-4zM138.0 264.0h1v1h-1zM124.0 265.0h4v1h-4zM127.0 266.0h2v1h-2zM137.0 266.0h1v1h-1zM129.0 267.0h1v1h-1zM137.0 267.0h1v1h-1zM130.0 268.0h1v1h-1zM136.0 268.0h1v1h-1zM130.0 269.0h2v1h-2zM136.0 269.0h1v1h-1zM131.0 270.0h5v1h-5zM102.0 277.0h9v1h-9zM99.0 278.0h1v1h-1zM112.0 278.0h4v1h-4zM98.0 279.0h1v1h-1zM113.0 279.0h5v1h-5zM98.0 280.0h1v1h-1zM113.0 280.0h4v1h-4zM99.0 281.0h1v1h-1zM112.0 281.0h2v1h-2zM101.0 282.0h1v1h-1zM108.0 282.0h3v1h-3z" fill="#3d63f5"/>
<path d="M139.0 246.0h4v1h-4zM137.0 247.0h1v1h-1zM142.0 247.0h1v1h-1zM136.0 248.0h1v1h-1zM135.0 249.0h1v1h-1zM141.0 249.0h1v1h-1zM134.0 250.0h2v1h-2zM139.0 250.0h1v1h-1zM134.0 251.0h5v1h-5zM132.0 252.0h5v1h-5zM129.0 253.0h4v1h-4zM134.0 253.0h3v1h-3zM126.0 254.0h3v1h-3zM136.0 254.0h2v1h-2zM125.0 255.0h2v1h-2zM137.0 255.0h1v1h-1zM124.0 256.0h1v1h-1zM138.0 256.0h1v1h-1zM123.0 257.0h1v1h-1zM138.0 257.0h1v1h-1zM122.0 258.0h2v1h-2zM138.0 258.0h1v1h-1zM121.0 259.0h2v1h-2zM138.0 259.0h1v1h-1zM121.0 260.0h2v1h-2zM138.0 260.0h1v1h-1zM121.0 261.0h3v1h-3zM122.0 262.0h3v1h-3zM137.0 262.0h1v1h-1zM123.0 263.0h3v1h-3zM137.0 263.0h1v1h-1zM125.0 264.0h3v1h-3zM137.0 264.0h1v1h-1zM128.0 265.0h2v1h-2zM136.0 265.0h2v1h-2zM129.0 266.0h2v1h-2zM136.0 266.0h1v1h-1zM130.0 267.0h2v1h-2zM135.0 267.0h2v1h-2zM131.0 268.0h5v1h-5zM132.0 269.0h4v1h-4zM100.0 278.0h2v1h-2zM109.0 278.0h3v1h-3zM99.0 279.0h1v1h-1zM111.0 279.0h2v1h-2zM99.0 280.0h1v1h-1zM111.0 280.0h2v1h-2zM100.0 281.0h1v1h-1zM109.0 281.0h3v1h-3zM102.0 282.0h6v1h-6z" fill="#3f8cf7"/>
<path d="M138.0 247.0h4v1h-4zM137.0 248.0h1v1h-1zM141.0 248.0h1v1h-1zM136.0 249.0h1v1h-1zM140.0 249.0h1v1h-1zM136.0 250.0h3v1h-3zM133.0 253.0h1v1h-1zM129.0 254.0h7v1h-7zM127.0 255.0h2v1h-2zM136.0 255.0h1v1h-1zM125.0 256.0h2v1h-2zM137.0 256.0h1v1h-1zM124.0 257.0h2v1h-2zM124.0 258.0h1v1h-1zM123.0 259.0h2v1h-2zM137.0 259.0h1v1h-1zM123.0 260.0h2v1h-2zM137.0 260.0h1v1h-1zM124.0 261.0h2v1h-2zM137.0 261.0h1v1h-1zM125.0 262.0h2v1h-2zM136.0 262.0h1v1h-1zM126.0 263.0h2v1h-2zM136.0 263.0h1v1h-1zM128.0 264.0h3v1h-3zM135.0 264.0h2v1h-2zM130.0 265.0h2v1h-2zM135.0 265.0h1v1h-1zM131.0 266.0h5v1h-5zM132.0 267.0h3v1h-3zM102.0 278.0h7v1h-7zM100.0 279.0h2v1h-2zM109.0 279.0h2v1h-2zM100.0 280.0h2v1h-2zM109.0 280.0h2v1h-2zM101.0 281.0h3v1h-3zM107.0 281.0h2v1h-2z" fill="#3fbcee"/>
<path d="M138.0 248.0h3v1h-3zM137.0 249.0h3v1h-3zM129.0 255.0h2v1h-2zM135.0 255.0h1v1h-1zM127.0 256.0h2v1h-2zM136.0 256.0h1v1h-1zM126.0 257.0h2v1h-2zM137.0 257.0h1v1h-1zM125.0 258.0h2v1h-2zM137.0 258.0h1v1h-1zM125.0 259.0h2v1h-2zM125.0 260.0h2v1h-2zM126.0 261.0h1v1h-1zM136.0 261.0h1v1h-1zM127.0 262.0h1v1h-1zM135.0 262.0h1v1h-1zM128.0 263.0h2v1h-2zM134.0 263.0h2v1h-2zM131.0 264.0h4v1h-4zM132.0 265.0h3v1h-3zM102.0 279.0h7v1h-7zM102.0 280.0h2v1h-2zM106.0 280.0h3v1h-3zM104.0 281.0h3v1h-3z" fill="#45d8c6"/>
<path d="M131.0 255.0h4v1h-4zM129.0 256.0h1v1h-1zM135.0 256.0h1v1h-1zM128.0 257.0h1v1h-1zM136.0 257.0h1v1h-1zM127.0 258.0h1v1h-1zM127.0 259.0h1v1h-1zM136.0 259.0h1v1h-1zM127.0 260.0h1v1h-1zM136.0 260.0h1v1h-1zM127.0 261.0h1v1h-1zM135.0 261.0h1v1h-1zM128.0 262.0h1v1h-1zM134.0 262.0h1v1h-1zM130.0 263.0h4v1h-4zM104.0 280.0h2v1h-2z" fill="#62e08a"/>
<path d="M130.0 256.0h2v1h-2zM134.0 256.0h1v1h-1zM129.0 257.0h1v1h-1zM128.0 258.0h1v1h-1zM136.0 258.0h1v1h-1zM135.0 260.0h1v1h-1zM128.0 261.0h1v1h-1zM129.0 262.0h2v1h-2zM132.0 262.0h2v1h-2z" fill="#7ee468"/>
<path d="M132.0 256.0h2v1h-2zM130.0 257.0h1v1h-1zM135.0 257.0h1v1h-1zM135.0 258.0h1v1h-1zM128.0 259.0h1v1h-1zM135.0 259.0h1v1h-1zM128.0 260.0h1v1h-1zM129.0 261.0h1v1h-1zM134.0 261.0h1v1h-1zM131.0 262.0h1v1h-1z" fill="#a2e84e"/>
<path d="M131.0 257.0h1v1h-1zM134.0 257.0h1v1h-1zM129.0 258.0h1v1h-1zM129.0 259.0h1v1h-1zM129.0 260.0h1v1h-1zM134.0 260.0h1v1h-1zM130.0 261.0h1v1h-1zM133.0 261.0h1v1h-1z" fill="#c8e63a"/>
<path d="M132.0 257.0h2v1h-2zM130.0 258.0h1v1h-1zM134.0 258.0h1v1h-1zM134.0 259.0h1v1h-1zM131.0 261.0h2v1h-2z" fill="#ecd42c"/>
<path d="M131.0 258.0h1v1h-1zM130.0 259.0h1v1h-1zM130.0 260.0h1v1h-1zM133.0 260.0h1v1h-1z" fill="#f4a424"/>
<path d="M132.0 258.0h2v1h-2zM131.0 259.0h3v1h-3zM131.0 260.0h2v1h-2z" fill="#e8601c"/>
</g>
<path d="M56.4 179.4H89.8V212.8H56.4Z M56.4 193.2H89.8" fill="none" stroke="#505050" stroke-width="0.8"/>
<path d="M56.4 239.4H89.8V272.8H56.4Z M56.4 253.2H89.8" fill="none" stroke="#505050" stroke-width="0.8"/>
<path d="M116.9 239.4H150.2V272.8H116.9Z M116.9 253.5H150.2" fill="none" stroke="#505050" stroke-width="0.8"/>
<path d="M134.5 179.3H151V212.8H117.7V205.5 M117.7 196.2V193.1H151" fill="none" stroke="#505050" stroke-width="0.8"/>
<text x="97.60" y="186.30" font-size="6.2" text-anchor="start" font-weight="normal" fill="#222" textLength="35.5" lengthAdjust="spacingAndGlyphs" stroke="#222" stroke-width="0.15">CD11b+ Gr1hi</text>
<text x="97.60" y="202.90" font-size="6.2" text-anchor="start" font-weight="normal" fill="#222" textLength="39.6" lengthAdjust="spacingAndGlyphs" stroke="#222" stroke-width="0.15">CD11b+ Gr1low</text>
<text x="66.50" y="177.00" font-size="8.4" text-anchor="middle" font-weight="normal" fill="#222" stroke="#222" stroke-width="0.15">WT</text>
<text x="67.00" y="237.00" font-size="8.4" text-anchor="middle" font-weight="normal" fill="#222" stroke="#222" stroke-width="0.15">KM</text>
<text x="126.60" y="237.00" font-size="8.4" text-anchor="middle" font-weight="normal" fill="#222" textLength="27" lengthAdjust="spacingAndGlyphs" stroke="#222" stroke-width="0.15">KMUKO</text>
<text x="55.20" y="187.50" font-size="7.0" text-anchor="end" font-weight="normal" fill="#000" textLength="10.8" lengthAdjust="spacingAndGlyphs" stroke="#000" stroke-width="0.2">32.6</text>
<text x="55.20" y="202.80" font-size="7.0" text-anchor="end" font-weight="bold" fill="#000" textLength="10.8" lengthAdjust="spacingAndGlyphs" stroke="#000" stroke-width="0.2">30.5</text>
<text x="55.20" y="247.00" font-size="7.0" text-anchor="end" font-weight="normal" fill="#000" textLength="10.8" lengthAdjust="spacingAndGlyphs" stroke="#000" stroke-width="0.2">40.2</text>
<text x="55.20" y="262.80" font-size="7.0" text-anchor="end" font-weight="bold" fill="#000" textLength="10.8" lengthAdjust="spacingAndGlyphs" stroke="#000" stroke-width="0.2">37.2</text>
<text x="115.80" y="247.30" font-size="7.0" text-anchor="end" font-weight="normal" fill="#000" textLength="10.8" lengthAdjust="spacingAndGlyphs" stroke="#000" stroke-width="0.2">22.0</text>
<text x="115.80" y="264.00" font-size="7.0" text-anchor="end" font-weight="bold" fill="#000" textLength="10.8" lengthAdjust="spacingAndGlyphs" stroke="#000" stroke-width="0.2">58.0</text>
<path d="M29.4 291.2 V195" stroke="#111" stroke-width="1.3" fill="none"/>
<path d="M26.2 197.5 L29.4 190.2 L32.6 197.5 Z" fill="#111"/>
<path d="M28.8 291.2 H126" stroke="#111" stroke-width="1.3" fill="none"/>
<path d="M124 288 L131 291.2 L124 294.4 Z" fill="#111"/>
<text x="31.00" y="180.40" font-size="9.4" text-anchor="middle" font-weight="normal" fill="#222" textLength="11.2" lengthAdjust="spacingAndGlyphs" transform="rotate(-90 31.0 180.4)" stroke="#222" stroke-width="0.15">Gr1</text>
<text x="145.20" y="294.80" font-size="10" text-anchor="middle" font-weight="normal" fill="#222" textLength="23.5" lengthAdjust="spacingAndGlyphs" stroke="#222" stroke-width="0.15">CD11b</text>
<line x1="39.40" y1="313.50" x2="39.40" y2="392.40" stroke="#2a2a2a" stroke-width="1.3"/>
<line x1="36.40" y1="392.40" x2="39.40" y2="392.40" stroke="#2a2a2a" stroke-width="1.0"/>
<text x="34.90" y="395.24" font-size="7.9" text-anchor="end" font-weight="normal" fill="#333" stroke="#333" stroke-width="0.15">0</text>
<line x1="36.40" y1="377.01" x2="39.40" y2="377.01" stroke="#2a2a2a" stroke-width="1.0"/>
<text x="34.90" y="379.86" font-size="7.9" text-anchor="end" font-weight="normal" fill="#333" stroke="#333" stroke-width="0.15">20</text>
<line x1="36.40" y1="361.62" x2="39.40" y2="361.62" stroke="#2a2a2a" stroke-width="1.0"/>
<text x="34.90" y="364.47" font-size="7.9" text-anchor="end" font-weight="normal" fill="#333" stroke="#333" stroke-width="0.15">40</text>
<line x1="36.40" y1="346.24" x2="39.40" y2="346.24" stroke="#2a2a2a" stroke-width="1.0"/>
<text x="34.90" y="349.08" font-size="7.9" text-anchor="end" font-weight="normal" fill="#333" stroke="#333" stroke-width="0.15">60</text>
<line x1="36.40" y1="330.85" x2="39.40" y2="330.85" stroke="#2a2a2a" stroke-width="1.0"/>
<text x="34.90" y="333.69" font-size="7.9" text-anchor="end" font-weight="normal" fill="#333" stroke="#333" stroke-width="0.15">80</text>
<line x1="36.40" y1="315.46" x2="39.40" y2="315.46" stroke="#2a2a2a" stroke-width="1.0"/>
<text x="34.90" y="318.30" font-size="7.9" text-anchor="end" font-weight="normal" fill="#333" stroke="#333" stroke-width="0.15">100</text>
<line x1="38.80" y1="392.40" x2="85.50" y2="392.40" stroke="#2a2a2a" stroke-width="1.3"/>
<text x="14.60" y="352.50" font-size="9.4" text-anchor="middle" font-weight="normal" fill="#333" textLength="53.5" lengthAdjust="spacingAndGlyphs" transform="rotate(-90 14.6 352.5)" stroke="#333" stroke-width="0.15">% Gr1<tspan font-size="5.5" dy="-3">+</tspan><tspan dy="3">CD11b</tspan><tspan font-size="5.5" dy="-3">+</tspan></text>
<circle cx="47.80" cy="360.09" r="3.20" fill="#4f3d5c" stroke="#1d1222" stroke-width="0.9"/>
<circle cx="47.80" cy="357.20" r="3.20" fill="#4f3d5c" stroke="#1d1222" stroke-width="0.9"/>
<circle cx="47.80" cy="354.31" r="3.20" fill="#4f3d5c" stroke="#1d1222" stroke-width="0.9"/>
<circle cx="47.80" cy="351.43" r="3.20" fill="#4f3d5c" stroke="#1d1222" stroke-width="0.9"/>
<circle cx="47.80" cy="348.54" r="3.20" fill="#4f3d5c" stroke="#1d1222" stroke-width="0.9"/>
<circle cx="47.80" cy="345.66" r="3.20" fill="#4f3d5c" stroke="#1d1222" stroke-width="0.9"/>
<circle cx="47.80" cy="342.77" r="3.20" fill="#4f3d5c" stroke="#1d1222" stroke-width="0.9"/>
<circle cx="47.80" cy="371.63" r="3.20" fill="#4f3d5c" stroke="#1d1222" stroke-width="0.9"/>
<line x1="47.80" y1="354.31" x2="47.80" y2="348.16" stroke="#111" stroke-width="0.9"/>
<line x1="45.30" y1="354.31" x2="50.30" y2="354.31" stroke="#111" stroke-width="0.9"/>
<line x1="45.30" y1="348.16" x2="50.30" y2="348.16" stroke="#111" stroke-width="0.9"/>
<line x1="42.80" y1="351.31" x2="52.80" y2="351.31" stroke="#111" stroke-width="1.1"/>
<rect x="60.10" y="353.91" width="6.20" height="6.20" fill="#3d5b80" stroke="#16243a" stroke-width="0.9"/>
<rect x="60.10" y="350.36" width="6.20" height="6.20" fill="#3d5b80" stroke="#16243a" stroke-width="0.9"/>
<rect x="60.10" y="346.81" width="6.20" height="6.20" fill="#3d5b80" stroke="#16243a" stroke-width="0.9"/>
<rect x="60.10" y="343.26" width="6.20" height="6.20" fill="#3d5b80" stroke="#16243a" stroke-width="0.9"/>
<rect x="60.10" y="339.71" width="6.20" height="6.20" fill="#3d5b80" stroke="#16243a" stroke-width="0.9"/>
<rect x="60.10" y="336.16" width="6.20" height="6.20" fill="#3d5b80" stroke="#16243a" stroke-width="0.9"/>
<rect x="60.10" y="332.61" width="6.20" height="6.20" fill="#3d5b80" stroke="#16243a" stroke-width="0.9"/>
<rect x="60.10" y="329.06" width="6.20" height="6.20" fill="#3d5b80" stroke="#16243a" stroke-width="0.9"/>
<rect x="60.10" y="370.83" width="6.20" height="6.20" fill="#3d5b80" stroke="#16243a" stroke-width="0.9"/>
<line x1="63.20" y1="352.39" x2="63.20" y2="343.16" stroke="#111" stroke-width="0.9"/>
<line x1="60.70" y1="352.39" x2="65.70" y2="352.39" stroke="#111" stroke-width="0.9"/>
<line x1="60.70" y1="343.16" x2="65.70" y2="343.16" stroke="#111" stroke-width="0.9"/>
<line x1="58.20" y1="347.62" x2="68.20" y2="347.62" stroke="#111" stroke-width="1.1"/>
<rect x="75.30" y="349.52" width="6.20" height="6.20" fill="#a21d3e" stroke="#3f0714" stroke-width="0.9"/>
<rect x="75.30" y="351.21" width="6.20" height="6.20" fill="#a21d3e" stroke="#3f0714" stroke-width="0.9"/>
<rect x="75.30" y="366.22" width="6.20" height="6.20" fill="#a21d3e" stroke="#3f0714" stroke-width="0.9"/>
<rect x="75.30" y="364.49" width="6.20" height="6.20" fill="#a21d3e" stroke="#3f0714" stroke-width="0.9"/>
<rect x="75.30" y="362.76" width="6.20" height="6.20" fill="#a21d3e" stroke="#3f0714" stroke-width="0.9"/>
<rect x="75.30" y="377.84" width="6.20" height="6.20" fill="#a21d3e" stroke="#3f0714" stroke-width="0.9"/>
<line x1="78.40" y1="374.70" x2="78.40" y2="359.32" stroke="#111" stroke-width="0.9"/>
<line x1="75.90" y1="374.70" x2="80.90" y2="374.70" stroke="#111" stroke-width="0.9"/>
<line x1="75.90" y1="359.32" x2="80.90" y2="359.32" stroke="#111" stroke-width="0.9"/>
<line x1="73.40" y1="365.01" x2="83.40" y2="365.01" stroke="#111" stroke-width="1.1"/>
<line x1="64.00" y1="319.40" x2="82.20" y2="319.40" stroke="#222" stroke-width="1.0"/>
<line x1="64.00" y1="316.80" x2="64.00" y2="322.00" stroke="#222" stroke-width="1.0"/>
<line x1="82.20" y1="316.80" x2="82.20" y2="322.00" stroke="#222" stroke-width="1.0"/>
<text x="73.10" y="315.50" font-size="7" text-anchor="middle" font-weight="normal" fill="#222" stroke="#222" stroke-width="0.15">**</text>
<line x1="137.90" y1="313.50" x2="137.90" y2="391.80" stroke="#2a2a2a" stroke-width="1.3"/>
<line x1="134.90" y1="391.80" x2="137.90" y2="391.80" stroke="#2a2a2a" stroke-width="1.0"/>
<text x="133.30" y="394.64" font-size="7.9" text-anchor="end" font-weight="normal" fill="#333" stroke="#333" stroke-width="0.15">0</text>
<line x1="134.90" y1="376.54" x2="137.90" y2="376.54" stroke="#2a2a2a" stroke-width="1.0"/>
<text x="133.30" y="379.38" font-size="7.9" text-anchor="end" font-weight="normal" fill="#333" stroke="#333" stroke-width="0.15">20</text>
<line x1="134.90" y1="361.28" x2="137.90" y2="361.28" stroke="#2a2a2a" stroke-width="1.0"/>
<text x="133.30" y="364.12" font-size="7.9" text-anchor="end" font-weight="normal" fill="#333" stroke="#333" stroke-width="0.15">40</text>
<line x1="134.90" y1="346.02" x2="137.90" y2="346.02" stroke="#2a2a2a" stroke-width="1.0"/>
<text x="133.30" y="348.86" font-size="7.9" text-anchor="end" font-weight="normal" fill="#333" stroke="#333" stroke-width="0.15">60</text>
<line x1="134.90" y1="330.76" x2="137.90" y2="330.76" stroke="#2a2a2a" stroke-width="1.0"/>
<text x="133.30" y="333.60" font-size="7.9" text-anchor="end" font-weight="normal" fill="#333" stroke="#333" stroke-width="0.15">80</text>
<line x1="134.90" y1="315.50" x2="137.90" y2="315.50" stroke="#2a2a2a" stroke-width="1.0"/>
<text x="133.30" y="318.34" font-size="7.9" text-anchor="end" font-weight="normal" fill="#333" stroke="#333" stroke-width="0.15">100</text>
<line x1="137.30" y1="391.80" x2="182.70" y2="391.80" stroke="#2a2a2a" stroke-width="1.3"/>
<text x="112.00" y="352.50" font-size="9.4" text-anchor="middle" font-weight="normal" fill="#333" textLength="62" lengthAdjust="spacingAndGlyphs" transform="rotate(-90 112.0 352.5)" stroke="#333" stroke-width="0.15">% Gr1<tspan font-size="5.5" dy="-3">-/low</tspan><tspan dy="3">CD11b</tspan><tspan font-size="5.5" dy="-3">+</tspan></text>
<circle cx="145.00" cy="352.35" r="3.20" fill="#4f3d5c" stroke="#1d1222" stroke-width="0.9"/>
<circle cx="145.00" cy="383.18" r="3.20" fill="#4f3d5c" stroke="#1d1222" stroke-width="0.9"/>
<circle cx="145.00" cy="380.42" r="3.20" fill="#4f3d5c" stroke="#1d1222" stroke-width="0.9"/>
<circle cx="145.00" cy="377.66" r="3.20" fill="#4f3d5c" stroke="#1d1222" stroke-width="0.9"/>
<circle cx="145.00" cy="374.90" r="3.20" fill="#4f3d5c" stroke="#1d1222" stroke-width="0.9"/>
<circle cx="145.00" cy="372.14" r="3.20" fill="#4f3d5c" stroke="#1d1222" stroke-width="0.9"/>
<circle cx="145.00" cy="369.38" r="3.20" fill="#4f3d5c" stroke="#1d1222" stroke-width="0.9"/>
<circle cx="145.00" cy="366.62" r="3.20" fill="#4f3d5c" stroke="#1d1222" stroke-width="0.9"/>
<circle cx="145.00" cy="389.36" r="3.20" fill="#4f3d5c" stroke="#1d1222" stroke-width="0.9"/>
<line x1="145.00" y1="384.93" x2="145.00" y2="366.62" stroke="#111" stroke-width="0.9"/>
<line x1="142.50" y1="384.93" x2="147.50" y2="384.93" stroke="#111" stroke-width="0.9"/>
<line x1="142.50" y1="366.62" x2="147.50" y2="366.62" stroke="#111" stroke-width="0.9"/>
<line x1="140.00" y1="375.78" x2="150.00" y2="375.78" stroke="#111" stroke-width="1.1"/>
<rect x="157.50" y="333.23" width="6.20" height="6.20" fill="#3d5b80" stroke="#16243a" stroke-width="0.9"/>
<rect x="157.50" y="370.77" width="6.20" height="6.20" fill="#3d5b80" stroke="#16243a" stroke-width="0.9"/>
<rect x="157.50" y="368.10" width="6.20" height="6.20" fill="#3d5b80" stroke="#16243a" stroke-width="0.9"/>
<rect x="157.50" y="365.43" width="6.20" height="6.20" fill="#3d5b80" stroke="#16243a" stroke-width="0.9"/>
<rect x="157.50" y="362.76" width="6.20" height="6.20" fill="#3d5b80" stroke="#16243a" stroke-width="0.9"/>
<rect x="157.50" y="360.09" width="6.20" height="6.20" fill="#3d5b80" stroke="#16243a" stroke-width="0.9"/>
<rect x="157.50" y="357.42" width="6.20" height="6.20" fill="#3d5b80" stroke="#16243a" stroke-width="0.9"/>
<rect x="157.50" y="383.74" width="6.20" height="6.20" fill="#3d5b80" stroke="#16243a" stroke-width="0.9"/>
<line x1="160.60" y1="380.74" x2="160.60" y2="354.41" stroke="#111" stroke-width="0.9"/>
<line x1="158.10" y1="380.74" x2="163.10" y2="380.74" stroke="#111" stroke-width="0.9"/>
<line x1="158.10" y1="354.41" x2="163.10" y2="354.41" stroke="#111" stroke-width="0.9"/>
<line x1="155.35" y1="367.38" x2="165.85" y2="367.38" stroke="#111" stroke-width="1.1"/>
<rect x="172.90" y="330.71" width="6.20" height="6.20" fill="#a21d3e" stroke="#3f0714" stroke-width="0.9"/>
<rect x="172.90" y="357.42" width="6.20" height="6.20" fill="#a21d3e" stroke="#3f0714" stroke-width="0.9"/>
<rect x="172.90" y="354.30" width="6.20" height="6.20" fill="#a21d3e" stroke="#3f0714" stroke-width="0.9"/>
<rect x="172.90" y="351.19" width="6.20" height="6.20" fill="#a21d3e" stroke="#3f0714" stroke-width="0.9"/>
<rect x="172.90" y="348.08" width="6.20" height="6.20" fill="#a21d3e" stroke="#3f0714" stroke-width="0.9"/>
<rect x="172.90" y="344.96" width="6.20" height="6.20" fill="#a21d3e" stroke="#3f0714" stroke-width="0.9"/>
<rect x="172.90" y="341.85" width="6.20" height="6.20" fill="#a21d3e" stroke="#3f0714" stroke-width="0.9"/>
<line x1="176.00" y1="355.94" x2="176.00" y2="340.07" stroke="#111" stroke-width="0.9"/>
<line x1="173.50" y1="355.94" x2="178.50" y2="355.94" stroke="#111" stroke-width="0.9"/>
<line x1="173.50" y1="340.07" x2="178.50" y2="340.07" stroke="#111" stroke-width="0.9"/>
<line x1="171.00" y1="348.00" x2="181.00" y2="348.00" stroke="#111" stroke-width="1.1"/>
<line x1="158.80" y1="325.20" x2="176.00" y2="325.20" stroke="#222" stroke-width="1.0"/>
<line x1="158.80" y1="322.60" x2="158.80" y2="327.80" stroke="#222" stroke-width="1.0"/>
<line x1="176.00" y1="322.60" x2="176.00" y2="327.80" stroke="#222" stroke-width="1.0"/>
<text x="167.40" y="321.50" font-size="7" text-anchor="middle" font-weight="normal" fill="#222" stroke="#222" stroke-width="0.15">**</text>
<text x="174.00" y="168.90" font-size="11.5" text-anchor="start" font-weight="bold" fill="#111">D</text>
<rect x="208.50" y="171.00" width="55.90" height="55.30" fill="none" stroke="#a8a8a8" stroke-width="0.8"/>
<rect x="267.40" y="170.20" width="56.30" height="56.30" fill="none" stroke="#a8a8a8" stroke-width="0.8"/>
<rect x="208.50" y="230.40" width="55.50" height="54.40" fill="none" stroke="#a8a8a8" stroke-width="0.8"/>
<rect x="267.40" y="229.80" width="55.60" height="55.00" fill="none" stroke="#a8a8a8" stroke-width="0.8"/>
<g filter="url(#soft)">
<path d="M218.0 178.0h1v1h-1zM223.0 178.0h1v1h-1zM222.0 181.0h1v1h-1zM226.0 181.0h1v1h-1zM216.0 182.0h3v1h-3zM223.0 182.0h1v1h-1zM225.0 182.0h1v1h-1zM217.0 183.0h1v1h-1zM225.0 183.0h1v1h-1zM212.0 184.0h1v1h-1zM214.0 184.0h1v1h-1zM219.0 184.0h1v1h-1zM223.0 184.0h1v1h-1zM229.0 184.0h1v1h-1zM227.0 185.0h2v1h-2zM211.0 186.0h1v1h-1zM216.0 186.0h1v1h-1zM219.0 186.0h1v1h-1zM226.0 186.0h2v1h-2zM230.0 186.0h1v1h-1zM233.0 186.0h1v1h-1zM210.0 187.0h1v1h-1zM220.0 187.0h1v1h-1zM225.0 187.0h1v1h-1zM227.0 187.0h1v1h-1zM231.0 187.0h1v1h-1zM233.0 187.0h1v1h-1zM235.0 188.0h1v1h-1zM211.0 189.0h1v1h-1zM222.0 189.0h1v1h-1zM224.0 189.0h1v1h-1zM230.0 189.0h1v1h-1zM233.0 189.0h1v1h-1zM236.0 189.0h1v1h-1zM238.0 189.0h1v1h-1zM233.0 190.0h2v1h-2zM232.0 192.0h1v1h-1zM236.0 192.0h1v1h-1zM238.0 192.0h1v1h-1zM244.0 192.0h1v1h-1zM210.0 193.0h1v1h-1zM212.0 193.0h1v1h-1zM236.0 193.0h1v1h-1zM239.0 194.0h2v1h-2zM242.0 194.0h1v1h-1zM238.0 195.0h1v1h-1zM212.0 196.0h2v1h-2zM241.0 196.0h1v1h-1zM213.0 197.0h1v1h-1zM239.0 198.0h1v1h-1zM242.0 198.0h1v1h-1zM244.0 199.0h1v1h-1zM209.0 200.0h1v1h-1zM215.0 201.0h1v1h-1zM245.0 201.0h1v1h-1zM211.0 202.0h1v1h-1zM215.0 202.0h3v1h-3zM229.0 202.0h1v1h-1zM234.0 202.0h1v1h-1zM242.0 202.0h1v1h-1zM211.0 203.0h2v1h-2zM215.0 203.0h1v1h-1zM217.0 203.0h4v1h-4zM227.0 203.0h2v1h-2zM210.0 204.0h2v1h-2zM223.0 204.0h1v1h-1zM227.0 204.0h1v1h-1zM236.0 204.0h1v1h-1zM242.0 204.0h1v1h-1zM222.0 205.0h1v1h-1zM224.0 205.0h2v1h-2zM229.0 205.0h1v1h-1zM212.0 206.0h1v1h-1zM215.0 206.0h2v1h-2zM220.0 206.0h2v1h-2zM209.0 207.0h1v1h-1zM221.0 207.0h1v1h-1zM212.0 208.0h1v1h-1zM220.0 208.0h1v1h-1zM211.0 209.0h1v1h-1zM218.0 209.0h1v1h-1zM220.0 209.0h2v1h-2zM223.0 209.0h1v1h-1zM226.0 209.0h1v1h-1zM213.0 210.0h1v1h-1zM221.0 210.0h1v1h-1zM216.0 211.0h1v1h-1zM218.0 211.0h1v1h-1zM212.0 212.0h1v1h-1zM215.0 212.0h1v1h-1zM218.0 212.0h2v1h-2zM223.0 212.0h1v1h-1zM210.0 213.0h1v1h-1zM212.0 213.0h2v1h-2zM215.0 213.0h1v1h-1zM217.0 213.0h1v1h-1zM219.0 213.0h1v1h-1zM225.0 213.0h1v1h-1zM218.0 214.0h2v1h-2zM221.0 214.0h2v1h-2zM214.0 215.0h1v1h-1zM219.0 215.0h2v1h-2zM214.0 216.0h1v1h-1zM216.0 216.0h2v1h-2zM219.0 216.0h1v1h-1zM216.0 217.0h1v1h-1zM212.0 218.0h1v1h-1zM223.0 218.0h1v1h-1zM215.0 219.0h1v1h-1zM223.0 219.0h1v1h-1zM211.0 220.0h1v1h-1zM218.0 220.0h1v1h-1zM221.0 220.0h1v1h-1zM219.0 221.0h1v1h-1zM216.0 222.0h1v1h-1zM215.0 224.0h1v1h-1z" fill="#8c98f6"/>
<path d="M220.0 182.0h1v1h-1zM222.0 182.0h1v1h-1zM218.0 183.0h1v1h-1zM220.0 183.0h2v1h-2zM224.0 183.0h1v1h-1zM217.0 184.0h1v1h-1zM220.0 184.0h2v1h-2zM225.0 184.0h1v1h-1zM214.0 185.0h1v1h-1zM217.0 185.0h3v1h-3zM222.0 185.0h3v1h-3zM213.0 186.0h3v1h-3zM218.0 186.0h1v1h-1zM220.0 186.0h2v1h-2zM224.0 186.0h1v1h-1zM211.0 187.0h3v1h-3zM215.0 187.0h2v1h-2zM222.0 187.0h1v1h-1zM224.0 187.0h1v1h-1zM211.0 188.0h4v1h-4zM221.0 188.0h3v1h-3zM228.0 188.0h2v1h-2zM209.0 189.0h1v1h-1zM212.0 189.0h2v1h-2zM225.0 189.0h1v1h-1zM227.0 189.0h1v1h-1zM229.0 189.0h1v1h-1zM210.0 190.0h1v1h-1zM230.0 190.0h3v1h-3zM209.0 191.0h2v1h-2zM229.0 191.0h1v1h-1zM231.0 191.0h1v1h-1zM211.0 192.0h1v1h-1zM230.0 192.0h1v1h-1zM209.0 193.0h1v1h-1zM233.0 193.0h3v1h-3zM210.0 194.0h1v1h-1zM209.0 195.0h1v1h-1zM211.0 195.0h3v1h-3zM235.0 195.0h1v1h-1zM210.0 196.0h2v1h-2zM236.0 196.0h2v1h-2zM235.0 197.0h1v1h-1zM210.0 198.0h1v1h-1zM213.0 198.0h1v1h-1zM209.0 199.0h1v1h-1zM214.0 199.0h3v1h-3zM210.0 200.0h6v1h-6zM217.0 200.0h2v1h-2zM212.0 201.0h1v1h-1zM216.0 201.0h5v1h-5zM232.0 201.0h1v1h-1zM214.0 202.0h1v1h-1zM218.0 202.0h3v1h-3zM222.0 202.0h5v1h-5zM228.0 202.0h1v1h-1zM230.0 202.0h2v1h-2zM221.0 203.0h5v1h-5zM213.0 204.0h1v1h-1zM216.0 204.0h1v1h-1zM219.0 204.0h1v1h-1zM213.0 205.0h1v1h-1zM215.0 205.0h1v1h-1zM217.0 206.0h3v1h-3zM213.0 207.0h1v1h-1zM215.0 207.0h2v1h-2zM214.0 208.0h4v1h-4zM219.0 208.0h1v1h-1zM214.0 209.0h1v1h-1zM219.0 209.0h1v1h-1zM215.0 210.0h1v1h-1zM218.0 210.0h1v1h-1z" fill="#4d6af0"/>
<path d="M217.0 187.0h3v1h-3zM215.0 188.0h6v1h-6zM214.0 189.0h2v1h-2zM219.0 189.0h2v1h-2zM214.0 190.0h1v1h-1zM220.0 190.0h5v1h-5zM226.0 190.0h2v1h-2zM213.0 191.0h1v1h-1zM213.0 192.0h2v1h-2zM213.0 193.0h2v1h-2zM232.0 193.0h1v1h-1zM214.0 194.0h1v1h-1zM234.0 194.0h1v1h-1zM214.0 195.0h1v1h-1zM214.0 196.0h1v1h-1zM235.0 196.0h1v1h-1zM214.0 197.0h1v1h-1zM215.0 198.0h1v1h-1zM217.0 199.0h2v1h-2zM234.0 199.0h1v1h-1zM219.0 200.0h1v1h-1zM233.0 200.0h1v1h-1zM221.0 201.0h1v1h-1zM231.0 201.0h1v1h-1z" fill="#3d63f5"/>
<path d="M216.0 189.0h3v1h-3zM215.0 190.0h5v1h-5zM225.0 190.0h1v1h-1zM214.0 191.0h9v1h-9zM227.0 191.0h2v1h-2zM215.0 192.0h4v1h-4zM228.0 192.0h2v1h-2zM215.0 193.0h3v1h-3zM230.0 193.0h2v1h-2zM215.0 194.0h2v1h-2zM215.0 195.0h1v1h-1zM234.0 195.0h1v1h-1zM215.0 196.0h1v1h-1zM215.0 197.0h2v1h-2zM216.0 198.0h4v1h-4zM219.0 199.0h2v1h-2zM220.0 200.0h2v1h-2zM222.0 201.0h9v1h-9z" fill="#3f8cf7"/>
<path d="M223.0 191.0h4v1h-4zM219.0 192.0h3v1h-3zM226.0 192.0h2v1h-2zM218.0 193.0h2v1h-2zM227.0 193.0h3v1h-3zM217.0 194.0h2v1h-2zM232.0 194.0h2v1h-2zM216.0 195.0h2v1h-2zM216.0 196.0h3v1h-3zM234.0 196.0h1v1h-1zM217.0 197.0h4v1h-4zM234.0 197.0h1v1h-1zM220.0 198.0h2v1h-2zM234.0 198.0h1v1h-1zM221.0 199.0h2v1h-2zM222.0 200.0h3v1h-3zM232.0 200.0h1v1h-1z" fill="#3fbcee"/>
<path d="M222.0 192.0h4v1h-4zM220.0 193.0h7v1h-7zM219.0 194.0h3v1h-3zM223.0 194.0h9v1h-9zM218.0 195.0h7v1h-7zM233.0 195.0h1v1h-1zM219.0 196.0h5v1h-5zM221.0 197.0h3v1h-3zM222.0 198.0h2v1h-2zM223.0 199.0h1v1h-1zM233.0 199.0h1v1h-1zM225.0 200.0h2v1h-2z" fill="#45d8c6"/>
<path d="M222.0 194.0h1v1h-1zM225.0 195.0h2v1h-2zM232.0 195.0h1v1h-1zM224.0 196.0h2v1h-2zM233.0 196.0h1v1h-1zM224.0 197.0h1v1h-1zM233.0 197.0h1v1h-1zM224.0 198.0h1v1h-1zM233.0 198.0h1v1h-1zM224.0 199.0h2v1h-2zM227.0 200.0h2v1h-2zM230.0 200.0h2v1h-2z" fill="#62e08a"/>
<path d="M227.0 195.0h2v1h-2zM231.0 195.0h1v1h-1zM226.0 196.0h1v1h-1zM225.0 197.0h1v1h-1zM225.0 198.0h1v1h-1zM226.0 199.0h1v1h-1zM232.0 199.0h1v1h-1zM229.0 200.0h1v1h-1z" fill="#7ee468"/>
<path d="M229.0 195.0h2v1h-2zM227.0 196.0h1v1h-1zM232.0 196.0h1v1h-1zM226.0 197.0h1v1h-1zM232.0 197.0h1v1h-1zM226.0 198.0h1v1h-1zM232.0 198.0h1v1h-1zM227.0 199.0h1v1h-1zM231.0 199.0h1v1h-1z" fill="#a2e84e"/>
<path d="M228.0 196.0h1v1h-1zM231.0 196.0h1v1h-1zM227.0 197.0h1v1h-1zM227.0 198.0h1v1h-1zM228.0 199.0h1v1h-1zM230.0 199.0h1v1h-1z" fill="#c8e63a"/>
<path d="M229.0 196.0h2v1h-2zM231.0 197.0h1v1h-1zM231.0 198.0h1v1h-1zM229.0 199.0h1v1h-1z" fill="#ecd42c"/>
<path d="M228.0 197.0h3v1h-3zM228.0 198.0h3v1h-3z" fill="#f4a424"/>
</g>
<g filter="url(#soft)">
<path d="M221.0 239.0h1v1h-1zM209.0 242.0h1v1h-1zM213.0 242.0h1v1h-1zM219.0 242.0h1v1h-1zM222.0 242.0h1v1h-1zM209.0 243.0h2v1h-2zM222.0 243.0h1v1h-1zM222.0 244.0h1v1h-1zM225.0 244.0h2v1h-2zM228.0 245.0h1v1h-1zM209.0 246.0h1v1h-1zM226.0 246.0h1v1h-1zM228.0 247.0h1v1h-1zM232.0 247.0h1v1h-1zM226.0 248.0h1v1h-1zM237.0 248.0h1v1h-1zM231.0 249.0h1v1h-1zM209.0 250.0h1v1h-1zM225.0 250.0h1v1h-1zM230.0 250.0h1v1h-1zM232.0 250.0h1v1h-1zM227.0 251.0h1v1h-1zM231.0 251.0h1v1h-1zM235.0 251.0h1v1h-1zM238.0 251.0h1v1h-1zM212.0 252.0h1v1h-1zM233.0 252.0h1v1h-1zM239.0 252.0h1v1h-1zM238.0 253.0h2v1h-2zM241.0 253.0h1v1h-1zM244.0 253.0h1v1h-1zM211.0 254.0h2v1h-2zM235.0 254.0h1v1h-1zM239.0 254.0h1v1h-1zM236.0 255.0h1v1h-1zM244.0 255.0h1v1h-1zM246.0 255.0h1v1h-1zM241.0 256.0h1v1h-1zM209.0 257.0h1v1h-1zM239.0 257.0h1v1h-1zM242.0 257.0h1v1h-1zM209.0 258.0h1v1h-1zM211.0 258.0h1v1h-1zM238.0 258.0h1v1h-1zM247.0 258.0h1v1h-1zM209.0 259.0h1v1h-1zM213.0 259.0h1v1h-1zM237.0 260.0h1v1h-1zM240.0 260.0h1v1h-1zM209.0 261.0h2v1h-2zM212.0 261.0h1v1h-1zM215.0 261.0h1v1h-1zM238.0 261.0h1v1h-1zM217.0 262.0h1v1h-1zM234.0 262.0h1v1h-1zM210.0 263.0h1v1h-1zM213.0 263.0h1v1h-1zM217.0 263.0h2v1h-2zM222.0 263.0h1v1h-1zM230.0 263.0h1v1h-1zM213.0 264.0h1v1h-1zM222.0 264.0h1v1h-1zM228.0 264.0h1v1h-1zM233.0 264.0h1v1h-1zM236.0 264.0h1v1h-1zM239.0 264.0h1v1h-1zM225.0 265.0h2v1h-2zM232.0 265.0h1v1h-1zM238.0 265.0h1v1h-1zM209.0 266.0h2v1h-2zM220.0 266.0h1v1h-1zM228.0 266.0h1v1h-1zM210.0 267.0h1v1h-1zM212.0 267.0h1v1h-1zM224.0 267.0h1v1h-1zM229.0 267.0h3v1h-3zM237.0 267.0h1v1h-1zM210.0 268.0h2v1h-2zM213.0 268.0h1v1h-1zM226.0 268.0h1v1h-1zM235.0 268.0h1v1h-1zM213.0 269.0h1v1h-1zM218.0 269.0h1v1h-1zM226.0 270.0h2v1h-2zM210.0 271.0h1v1h-1zM219.0 271.0h1v1h-1zM226.0 271.0h1v1h-1zM209.0 272.0h1v1h-1zM218.0 272.0h1v1h-1zM220.0 272.0h1v1h-1zM224.0 272.0h1v1h-1zM226.0 272.0h1v1h-1zM210.0 273.0h1v1h-1zM226.0 273.0h1v1h-1zM228.0 273.0h1v1h-1zM210.0 274.0h2v1h-2zM217.0 274.0h1v1h-1zM228.0 274.0h2v1h-2zM214.0 275.0h1v1h-1zM216.0 275.0h1v1h-1zM219.0 275.0h1v1h-1zM224.0 275.0h1v1h-1zM231.0 275.0h1v1h-1zM219.0 276.0h1v1h-1zM226.0 276.0h1v1h-1zM211.0 277.0h2v1h-2zM225.0 277.0h1v1h-1zM229.0 277.0h1v1h-1zM216.0 278.0h1v1h-1zM224.0 278.0h2v1h-2zM212.0 280.0h1v1h-1zM215.0 280.0h1v1h-1zM221.0 280.0h2v1h-2zM220.0 281.0h1v1h-1zM224.0 281.0h1v1h-1zM226.0 281.0h1v1h-1zM211.0 282.0h1v1h-1zM217.0 282.0h3v1h-3zM224.0 283.0h1v1h-1zM228.0 283.0h2v1h-2zM219.0 284.0h2v1h-2z" fill="#8c98f6"/>
<path d="M215.0 242.0h1v1h-1zM211.0 243.0h1v1h-1zM214.0 243.0h2v1h-2zM217.0 243.0h1v1h-1zM220.0 243.0h2v1h-2zM220.0 244.0h2v1h-2zM223.0 244.0h1v1h-1zM210.0 245.0h2v1h-2zM223.0 245.0h1v1h-1zM225.0 245.0h1v1h-1zM210.0 246.0h1v1h-1zM224.0 246.0h2v1h-2zM227.0 247.0h1v1h-1zM209.0 248.0h1v1h-1zM227.0 248.0h1v1h-1zM209.0 249.0h1v1h-1zM227.0 249.0h1v1h-1zM210.0 251.0h1v1h-1zM225.0 251.0h2v1h-2zM228.0 251.0h3v1h-3zM232.0 251.0h2v1h-2zM210.0 252.0h1v1h-1zM213.0 252.0h1v1h-1zM229.0 252.0h3v1h-3zM234.0 252.0h2v1h-2zM212.0 253.0h1v1h-1zM214.0 253.0h1v1h-1zM233.0 253.0h1v1h-1zM235.0 253.0h1v1h-1zM213.0 254.0h3v1h-3zM236.0 254.0h1v1h-1zM210.0 255.0h1v1h-1zM212.0 255.0h2v1h-2zM238.0 255.0h1v1h-1zM210.0 256.0h1v1h-1zM213.0 256.0h2v1h-2zM237.0 256.0h2v1h-2zM240.0 256.0h1v1h-1zM237.0 257.0h2v1h-2zM210.0 258.0h1v1h-1zM212.0 258.0h2v1h-2zM239.0 258.0h1v1h-1zM239.0 259.0h1v1h-1zM211.0 260.0h4v1h-4zM236.0 260.0h1v1h-1zM239.0 260.0h1v1h-1zM213.0 261.0h2v1h-2zM233.0 261.0h2v1h-2zM236.0 261.0h1v1h-1zM210.0 262.0h1v1h-1zM212.0 262.0h2v1h-2zM233.0 262.0h1v1h-1zM212.0 263.0h1v1h-1zM216.0 263.0h1v1h-1zM219.0 263.0h2v1h-2zM223.0 263.0h2v1h-2zM226.0 263.0h3v1h-3zM231.0 263.0h1v1h-1zM234.0 263.0h1v1h-1zM212.0 264.0h1v1h-1zM217.0 264.0h2v1h-2zM220.0 264.0h1v1h-1zM223.0 264.0h3v1h-3zM230.0 264.0h1v1h-1zM214.0 265.0h2v1h-2zM217.0 265.0h1v1h-1zM219.0 265.0h2v1h-2zM222.0 265.0h3v1h-3zM212.0 266.0h1v1h-1zM214.0 266.0h3v1h-3zM218.0 266.0h1v1h-1zM223.0 266.0h1v1h-1zM225.0 266.0h1v1h-1zM213.0 267.0h2v1h-2zM216.0 267.0h3v1h-3zM220.0 267.0h4v1h-4zM212.0 268.0h1v1h-1zM215.0 268.0h2v1h-2zM221.0 268.0h1v1h-1zM223.0 268.0h1v1h-1zM225.0 268.0h1v1h-1zM212.0 269.0h1v1h-1zM214.0 269.0h1v1h-1zM216.0 269.0h1v1h-1zM219.0 269.0h4v1h-4zM211.0 270.0h1v1h-1zM214.0 270.0h1v1h-1zM217.0 270.0h1v1h-1zM219.0 270.0h3v1h-3zM223.0 270.0h3v1h-3zM211.0 271.0h2v1h-2zM214.0 271.0h2v1h-2zM217.0 271.0h2v1h-2zM220.0 271.0h2v1h-2zM223.0 271.0h2v1h-2zM212.0 272.0h1v1h-1zM214.0 272.0h1v1h-1zM221.0 272.0h1v1h-1zM223.0 272.0h1v1h-1zM211.0 273.0h1v1h-1zM214.0 273.0h3v1h-3zM218.0 273.0h3v1h-3zM223.0 273.0h1v1h-1zM214.0 274.0h3v1h-3zM218.0 274.0h1v1h-1zM220.0 274.0h3v1h-3zM217.0 275.0h1v1h-1zM212.0 276.0h1v1h-1zM216.0 276.0h3v1h-3zM220.0 276.0h1v1h-1zM213.0 277.0h2v1h-2zM217.0 277.0h3v1h-3zM217.0 278.0h1v1h-1zM219.0 278.0h3v1h-3zM216.0 279.0h1v1h-1zM219.0 279.0h1v1h-1z" fill="#4d6af0"/>
<path d="M214.0 244.0h2v1h-2zM219.0 244.0h1v1h-1zM212.0 245.0h1v1h-1zM222.0 245.0h1v1h-1zM223.0 246.0h1v1h-1zM210.0 247.0h1v1h-1zM224.0 247.0h1v1h-1zM210.0 249.0h1v1h-1zM224.0 250.0h1v1h-1zM212.0 251.0h1v1h-1zM224.0 251.0h1v1h-1zM227.0 252.0h2v1h-2zM215.0 253.0h1v1h-1zM231.0 253.0h1v1h-1zM216.0 254.0h1v1h-1zM234.0 254.0h1v1h-1zM215.0 255.0h1v1h-1zM215.0 256.0h1v1h-1zM215.0 257.0h1v1h-1zM215.0 258.0h1v1h-1zM215.0 259.0h1v1h-1zM236.0 259.0h1v1h-1zM216.0 260.0h1v1h-1zM217.0 261.0h1v1h-1zM218.0 262.0h2v1h-2zM228.0 262.0h2v1h-2z" fill="#3d63f5"/>
<path d="M216.0 244.0h3v1h-3zM213.0 245.0h1v1h-1zM221.0 245.0h1v1h-1zM211.0 246.0h1v1h-1zM223.0 247.0h1v1h-1zM210.0 248.0h1v1h-1zM224.0 248.0h1v1h-1zM224.0 249.0h1v1h-1zM211.0 250.0h1v1h-1zM223.0 250.0h1v1h-1zM213.0 251.0h1v1h-1zM223.0 251.0h1v1h-1zM214.0 252.0h2v1h-2zM223.0 252.0h4v1h-4zM216.0 253.0h3v1h-3zM229.0 253.0h2v1h-2zM217.0 254.0h1v1h-1zM233.0 254.0h1v1h-1zM216.0 255.0h2v1h-2zM235.0 255.0h1v1h-1zM216.0 256.0h1v1h-1zM236.0 256.0h1v1h-1zM216.0 257.0h1v1h-1zM236.0 257.0h1v1h-1zM216.0 258.0h1v1h-1zM236.0 258.0h1v1h-1zM216.0 259.0h1v1h-1zM235.0 259.0h1v1h-1zM217.0 260.0h1v1h-1zM234.0 260.0h1v1h-1zM218.0 261.0h2v1h-2zM231.0 261.0h2v1h-2zM220.0 262.0h8v1h-8z" fill="#3f8cf7"/>
<path d="M214.0 245.0h2v1h-2zM219.0 245.0h2v1h-2zM212.0 246.0h1v1h-1zM222.0 246.0h1v1h-1zM211.0 247.0h1v1h-1zM211.0 248.0h1v1h-1zM223.0 248.0h1v1h-1zM211.0 249.0h1v1h-1zM223.0 249.0h1v1h-1zM212.0 250.0h1v1h-1zM222.0 250.0h1v1h-1zM214.0 251.0h1v1h-1zM221.0 251.0h2v1h-2zM216.0 252.0h7v1h-7zM219.0 253.0h10v1h-10zM218.0 254.0h3v1h-3zM231.0 254.0h2v1h-2zM218.0 255.0h2v1h-2zM234.0 255.0h1v1h-1zM217.0 256.0h2v1h-2zM235.0 256.0h1v1h-1zM217.0 257.0h2v1h-2zM217.0 258.0h2v1h-2zM235.0 258.0h1v1h-1zM217.0 259.0h2v1h-2zM218.0 260.0h3v1h-3zM233.0 260.0h1v1h-1zM220.0 261.0h11v1h-11z" fill="#3fbcee"/>
<path d="M216.0 245.0h3v1h-3zM213.0 246.0h2v1h-2zM220.0 246.0h2v1h-2zM212.0 247.0h1v1h-1zM222.0 247.0h1v1h-1zM212.0 248.0h1v1h-1zM222.0 248.0h1v1h-1zM212.0 249.0h1v1h-1zM222.0 249.0h1v1h-1zM213.0 250.0h2v1h-2zM221.0 250.0h1v1h-1zM215.0 251.0h6v1h-6zM221.0 254.0h10v1h-10zM220.0 255.0h2v1h-2zM233.0 255.0h1v1h-1zM219.0 256.0h2v1h-2zM234.0 256.0h1v1h-1zM219.0 257.0h1v1h-1zM235.0 257.0h1v1h-1zM219.0 258.0h2v1h-2zM219.0 259.0h3v1h-3zM234.0 259.0h1v1h-1zM221.0 260.0h3v1h-3zM231.0 260.0h2v1h-2z" fill="#45d8c6"/>
<path d="M215.0 246.0h5v1h-5zM213.0 247.0h2v1h-2zM220.0 247.0h2v1h-2zM213.0 248.0h1v1h-1zM221.0 248.0h1v1h-1zM213.0 249.0h2v1h-2zM220.0 249.0h2v1h-2zM215.0 250.0h2v1h-2zM218.0 250.0h3v1h-3zM222.0 255.0h3v1h-3zM231.0 255.0h2v1h-2zM221.0 256.0h2v1h-2zM233.0 256.0h1v1h-1zM220.0 257.0h2v1h-2zM234.0 257.0h1v1h-1zM221.0 258.0h1v1h-1zM234.0 258.0h1v1h-1zM222.0 259.0h1v1h-1zM233.0 259.0h1v1h-1zM224.0 260.0h7v1h-7z" fill="#62e08a"/>
<path d="M215.0 247.0h2v1h-2zM218.0 247.0h2v1h-2zM214.0 248.0h2v1h-2zM219.0 248.0h2v1h-2zM215.0 249.0h2v1h-2zM218.0 249.0h2v1h-2zM217.0 250.0h1v1h-1zM225.0 255.0h6v1h-6zM223.0 256.0h1v1h-1zM222.0 257.0h1v1h-1zM233.0 257.0h1v1h-1zM222.0 258.0h2v1h-2zM233.0 258.0h1v1h-1zM223.0 259.0h2v1h-2zM232.0 259.0h1v1h-1z" fill="#7ee468"/>
<path d="M217.0 247.0h1v1h-1zM216.0 248.0h3v1h-3zM217.0 249.0h1v1h-1zM224.0 256.0h2v1h-2zM232.0 256.0h1v1h-1zM223.0 257.0h2v1h-2zM224.0 258.0h1v1h-1zM225.0 259.0h2v1h-2zM231.0 259.0h1v1h-1z" fill="#a2e84e"/>
<path d="M226.0 256.0h1v1h-1zM230.0 256.0h2v1h-2zM225.0 257.0h1v1h-1zM232.0 257.0h1v1h-1zM225.0 258.0h1v1h-1zM232.0 258.0h1v1h-1zM227.0 259.0h4v1h-4z" fill="#c8e63a"/>
<path d="M227.0 256.0h3v1h-3zM226.0 257.0h1v1h-1zM231.0 257.0h1v1h-1zM226.0 258.0h1v1h-1zM231.0 258.0h1v1h-1z" fill="#ecd42c"/>
<path d="M227.0 257.0h4v1h-4zM227.0 258.0h4v1h-4z" fill="#f4a424"/>
</g>
<g filter="url(#soft)">
<path d="M270.0 241.0h1v1h-1zM274.0 241.0h1v1h-1zM282.0 241.0h1v1h-1zM287.0 241.0h1v1h-1zM281.0 242.0h1v1h-1zM268.0 243.0h4v1h-4zM282.0 243.0h1v1h-1zM284.0 243.0h1v1h-1zM291.0 243.0h1v1h-1zM287.0 244.0h1v1h-1zM268.0 246.0h2v1h-2zM287.0 246.0h2v1h-2zM268.0 248.0h1v1h-1zM284.0 248.0h1v1h-1zM287.0 248.0h2v1h-2zM292.0 248.0h1v1h-1zM299.0 248.0h1v1h-1zM290.0 249.0h2v1h-2zM289.0 250.0h1v1h-1zM292.0 250.0h1v1h-1zM290.0 251.0h2v1h-2zM293.0 251.0h1v1h-1zM268.0 252.0h2v1h-2zM286.0 252.0h1v1h-1zM294.0 252.0h1v1h-1zM302.0 252.0h1v1h-1zM290.0 253.0h1v1h-1zM296.0 253.0h1v1h-1zM298.0 253.0h1v1h-1zM291.0 254.0h2v1h-2zM288.0 255.0h1v1h-1zM299.0 255.0h2v1h-2zM288.0 256.0h2v1h-2zM293.0 256.0h1v1h-1zM297.0 256.0h1v1h-1zM269.0 257.0h1v1h-1zM290.0 257.0h2v1h-2zM287.0 258.0h1v1h-1zM269.0 259.0h1v1h-1zM287.0 259.0h1v1h-1zM289.0 259.0h1v1h-1zM296.0 259.0h1v1h-1zM290.0 260.0h1v1h-1zM270.0 261.0h1v1h-1zM283.0 261.0h1v1h-1zM286.0 261.0h1v1h-1zM291.0 261.0h1v1h-1zM289.0 262.0h2v1h-2zM293.0 262.0h1v1h-1zM277.0 263.0h1v1h-1zM283.0 263.0h1v1h-1zM288.0 263.0h1v1h-1zM292.0 263.0h1v1h-1zM274.0 264.0h1v1h-1zM277.0 264.0h1v1h-1zM279.0 264.0h1v1h-1zM282.0 264.0h1v1h-1zM285.0 264.0h1v1h-1zM288.0 264.0h1v1h-1zM290.0 264.0h1v1h-1zM285.0 265.0h1v1h-1zM269.0 266.0h1v1h-1zM275.0 266.0h1v1h-1zM284.0 266.0h1v1h-1zM294.0 266.0h1v1h-1zM276.0 267.0h1v1h-1zM279.0 267.0h1v1h-1zM285.0 267.0h1v1h-1zM270.0 268.0h2v1h-2zM279.0 268.0h1v1h-1zM269.0 269.0h1v1h-1zM271.0 269.0h1v1h-1zM274.0 269.0h1v1h-1zM278.0 269.0h1v1h-1zM281.0 269.0h1v1h-1zM284.0 269.0h1v1h-1zM288.0 269.0h1v1h-1zM271.0 270.0h1v1h-1zM273.0 270.0h1v1h-1zM276.0 270.0h1v1h-1zM278.0 270.0h1v1h-1zM283.0 270.0h1v1h-1zM288.0 270.0h1v1h-1zM282.0 271.0h1v1h-1zM289.0 271.0h2v1h-2zM273.0 272.0h1v1h-1zM285.0 272.0h1v1h-1zM293.0 272.0h1v1h-1zM271.0 273.0h1v1h-1zM280.0 273.0h2v1h-2zM286.0 273.0h1v1h-1zM283.0 274.0h1v1h-1zM286.0 274.0h1v1h-1zM272.0 275.0h1v1h-1zM274.0 275.0h2v1h-2zM279.0 275.0h1v1h-1zM285.0 275.0h1v1h-1zM287.0 275.0h1v1h-1zM268.0 276.0h1v1h-1zM274.0 276.0h2v1h-2zM282.0 276.0h1v1h-1zM284.0 276.0h2v1h-2zM288.0 276.0h1v1h-1zM268.0 277.0h1v1h-1zM278.0 277.0h1v1h-1zM284.0 277.0h1v1h-1zM286.0 277.0h3v1h-3zM277.0 278.0h2v1h-2zM286.0 278.0h1v1h-1zM277.0 279.0h2v1h-2zM271.0 280.0h1v1h-1zM278.0 280.0h1v1h-1zM284.0 280.0h1v1h-1zM269.0 281.0h1v1h-1zM272.0 281.0h1v1h-1zM280.0 281.0h1v1h-1zM282.0 281.0h1v1h-1zM271.0 282.0h3v1h-3zM279.0 282.0h1v1h-1zM282.0 282.0h2v1h-2zM269.0 283.0h1v1h-1zM272.0 283.0h1v1h-1zM275.0 283.0h3v1h-3zM281.0 283.0h1v1h-1zM286.0 283.0h1v1h-1zM271.0 284.0h1v1h-1zM279.0 284.0h2v1h-2z" fill="#8c98f6"/>
<path d="M273.0 242.0h1v1h-1zM275.0 242.0h1v1h-1zM278.0 242.0h2v1h-2zM273.0 243.0h1v1h-1zM278.0 243.0h2v1h-2zM281.0 243.0h1v1h-1zM269.0 245.0h1v1h-1zM283.0 245.0h1v1h-1zM285.0 246.0h2v1h-2zM284.0 247.0h1v1h-1zM286.0 247.0h1v1h-1zM285.0 248.0h1v1h-1zM268.0 249.0h2v1h-2zM284.0 249.0h1v1h-1zM287.0 249.0h1v1h-1zM268.0 250.0h1v1h-1zM285.0 250.0h1v1h-1zM288.0 250.0h1v1h-1zM285.0 251.0h1v1h-1zM287.0 251.0h2v1h-2zM285.0 252.0h1v1h-1zM268.0 253.0h2v1h-2zM268.0 254.0h1v1h-1zM286.0 254.0h3v1h-3zM290.0 254.0h1v1h-1zM289.0 255.0h1v1h-1zM291.0 255.0h1v1h-1zM268.0 256.0h1v1h-1zM290.0 256.0h1v1h-1zM268.0 257.0h1v1h-1zM286.0 257.0h4v1h-4zM268.0 258.0h1v1h-1zM288.0 258.0h1v1h-1zM270.0 259.0h1v1h-1zM286.0 259.0h1v1h-1zM288.0 259.0h1v1h-1zM290.0 259.0h1v1h-1zM268.0 260.0h2v1h-2zM271.0 260.0h1v1h-1zM283.0 260.0h2v1h-2zM287.0 260.0h1v1h-1zM269.0 261.0h1v1h-1zM271.0 261.0h3v1h-3zM288.0 261.0h1v1h-1zM270.0 262.0h6v1h-6zM280.0 262.0h1v1h-1zM282.0 262.0h2v1h-2zM287.0 262.0h2v1h-2zM271.0 263.0h6v1h-6zM278.0 263.0h5v1h-5zM272.0 264.0h2v1h-2zM275.0 264.0h2v1h-2zM278.0 264.0h1v1h-1zM280.0 264.0h2v1h-2zM283.0 264.0h1v1h-1zM287.0 264.0h1v1h-1zM271.0 265.0h1v1h-1zM273.0 265.0h2v1h-2zM276.0 265.0h1v1h-1zM278.0 265.0h1v1h-1zM280.0 265.0h4v1h-4zM268.0 266.0h1v1h-1zM270.0 266.0h5v1h-5zM276.0 266.0h2v1h-2zM279.0 266.0h4v1h-4zM286.0 266.0h1v1h-1zM269.0 267.0h2v1h-2zM274.0 267.0h1v1h-1zM277.0 267.0h2v1h-2zM280.0 267.0h4v1h-4zM268.0 268.0h1v1h-1zM272.0 268.0h3v1h-3zM276.0 268.0h3v1h-3zM282.0 268.0h4v1h-4zM272.0 269.0h2v1h-2zM275.0 269.0h3v1h-3zM280.0 269.0h1v1h-1zM282.0 269.0h1v1h-1zM270.0 270.0h1v1h-1zM272.0 270.0h1v1h-1zM274.0 270.0h1v1h-1zM277.0 270.0h1v1h-1zM280.0 270.0h3v1h-3zM271.0 271.0h3v1h-3zM275.0 271.0h1v1h-1zM277.0 271.0h2v1h-2zM283.0 271.0h1v1h-1zM285.0 271.0h1v1h-1zM270.0 272.0h3v1h-3zM274.0 272.0h3v1h-3zM278.0 272.0h1v1h-1zM281.0 272.0h1v1h-1zM283.0 272.0h1v1h-1zM268.0 273.0h2v1h-2zM273.0 273.0h1v1h-1zM275.0 273.0h5v1h-5zM282.0 273.0h1v1h-1zM284.0 273.0h1v1h-1zM271.0 274.0h2v1h-2zM275.0 274.0h4v1h-4zM280.0 274.0h1v1h-1zM282.0 274.0h1v1h-1zM280.0 275.0h2v1h-2zM283.0 275.0h1v1h-1zM271.0 276.0h3v1h-3zM276.0 276.0h3v1h-3zM280.0 276.0h1v1h-1zM274.0 277.0h3v1h-3zM279.0 277.0h1v1h-1zM281.0 277.0h3v1h-3zM270.0 278.0h1v1h-1zM272.0 278.0h1v1h-1zM275.0 278.0h2v1h-2zM279.0 278.0h1v1h-1zM281.0 278.0h2v1h-2zM271.0 279.0h1v1h-1zM275.0 279.0h1v1h-1zM279.0 279.0h2v1h-2zM282.0 279.0h1v1h-1zM273.0 280.0h1v1h-1zM276.0 280.0h1v1h-1zM279.0 280.0h1v1h-1zM276.0 281.0h2v1h-2zM279.0 281.0h1v1h-1z" fill="#4d6af0"/>
<path d="M275.0 243.0h3v1h-3zM281.0 244.0h1v1h-1zM270.0 245.0h1v1h-1zM283.0 246.0h1v1h-1zM269.0 247.0h1v1h-1zM269.0 248.0h1v1h-1zM270.0 251.0h1v1h-1zM284.0 251.0h1v1h-1zM270.0 252.0h1v1h-1zM285.0 253.0h1v1h-1zM269.0 254.0h1v1h-1zM269.0 255.0h1v1h-1zM286.0 255.0h1v1h-1zM269.0 256.0h1v1h-1zM286.0 256.0h1v1h-1zM270.0 258.0h1v1h-1zM285.0 258.0h1v1h-1zM271.0 259.0h1v1h-1zM284.0 259.0h1v1h-1zM272.0 260.0h1v1h-1zM282.0 260.0h1v1h-1zM274.0 261.0h1v1h-1zM280.0 261.0h2v1h-2zM276.0 262.0h3v1h-3z" fill="#3d63f5"/>
<path d="M272.0 244.0h2v1h-2zM280.0 244.0h1v1h-1zM271.0 245.0h1v1h-1zM282.0 245.0h1v1h-1zM270.0 246.0h1v1h-1zM270.0 247.0h1v1h-1zM283.0 247.0h1v1h-1zM270.0 248.0h1v1h-1zM283.0 248.0h1v1h-1zM270.0 249.0h1v1h-1zM283.0 249.0h1v1h-1zM270.0 250.0h1v1h-1zM283.0 250.0h1v1h-1zM271.0 251.0h1v1h-1zM283.0 251.0h1v1h-1zM271.0 252.0h1v1h-1zM284.0 252.0h1v1h-1zM270.0 253.0h1v1h-1zM284.0 253.0h1v1h-1zM270.0 254.0h1v1h-1zM285.0 254.0h1v1h-1zM270.0 255.0h1v1h-1zM285.0 255.0h1v1h-1zM270.0 256.0h1v1h-1zM285.0 256.0h1v1h-1zM270.0 257.0h1v1h-1zM285.0 257.0h1v1h-1zM271.0 258.0h1v1h-1zM284.0 258.0h1v1h-1zM272.0 259.0h1v1h-1zM282.0 259.0h2v1h-2zM273.0 260.0h3v1h-3zM280.0 260.0h2v1h-2zM275.0 261.0h5v1h-5z" fill="#3f8cf7"/>
<path d="M274.0 244.0h2v1h-2zM278.0 244.0h2v1h-2zM272.0 245.0h1v1h-1zM281.0 245.0h1v1h-1zM271.0 246.0h1v1h-1zM282.0 246.0h1v1h-1zM282.0 247.0h1v1h-1zM271.0 248.0h1v1h-1zM282.0 248.0h1v1h-1zM271.0 249.0h1v1h-1zM282.0 249.0h1v1h-1zM271.0 250.0h2v1h-2zM281.0 250.0h2v1h-2zM272.0 251.0h1v1h-1zM281.0 251.0h2v1h-2zM272.0 252.0h1v1h-1zM282.0 252.0h2v1h-2zM271.0 253.0h1v1h-1zM283.0 253.0h1v1h-1zM271.0 254.0h1v1h-1zM284.0 254.0h1v1h-1zM271.0 255.0h1v1h-1zM271.0 256.0h1v1h-1zM271.0 257.0h1v1h-1zM284.0 257.0h1v1h-1zM272.0 258.0h1v1h-1zM283.0 258.0h1v1h-1zM273.0 259.0h3v1h-3zM280.0 259.0h2v1h-2zM276.0 260.0h4v1h-4z" fill="#3fbcee"/>
<path d="M276.0 244.0h2v1h-2zM273.0 245.0h1v1h-1zM279.0 245.0h2v1h-2zM272.0 246.0h1v1h-1zM281.0 246.0h1v1h-1zM271.0 247.0h1v1h-1zM281.0 247.0h1v1h-1zM272.0 248.0h1v1h-1zM281.0 248.0h1v1h-1zM272.0 249.0h1v1h-1zM281.0 249.0h1v1h-1zM273.0 250.0h1v1h-1zM280.0 250.0h1v1h-1zM273.0 251.0h3v1h-3zM279.0 251.0h2v1h-2zM273.0 252.0h2v1h-2zM280.0 252.0h2v1h-2zM272.0 253.0h2v1h-2zM282.0 253.0h1v1h-1zM272.0 254.0h1v1h-1zM283.0 254.0h1v1h-1zM272.0 255.0h1v1h-1zM284.0 255.0h1v1h-1zM272.0 256.0h1v1h-1zM284.0 256.0h1v1h-1zM272.0 257.0h1v1h-1zM283.0 257.0h1v1h-1zM273.0 258.0h2v1h-2zM281.0 258.0h2v1h-2zM276.0 259.0h4v1h-4z" fill="#45d8c6"/>
<path d="M274.0 245.0h5v1h-5zM273.0 246.0h1v1h-1zM279.0 246.0h2v1h-2zM272.0 247.0h2v1h-2zM280.0 247.0h1v1h-1zM273.0 248.0h1v1h-1zM280.0 248.0h1v1h-1zM273.0 249.0h2v1h-2zM279.0 249.0h2v1h-2zM274.0 250.0h6v1h-6zM276.0 251.0h3v1h-3zM275.0 252.0h5v1h-5zM274.0 253.0h1v1h-1zM281.0 253.0h1v1h-1zM273.0 254.0h1v1h-1zM283.0 255.0h1v1h-1zM283.0 256.0h1v1h-1zM273.0 257.0h1v1h-1zM282.0 257.0h1v1h-1zM275.0 258.0h2v1h-2zM280.0 258.0h1v1h-1z" fill="#62e08a"/>
<path d="M274.0 246.0h5v1h-5zM274.0 247.0h1v1h-1zM278.0 247.0h2v1h-2zM274.0 248.0h2v1h-2zM278.0 248.0h2v1h-2zM275.0 249.0h4v1h-4zM275.0 253.0h6v1h-6zM274.0 254.0h1v1h-1zM282.0 254.0h1v1h-1zM273.0 255.0h1v1h-1zM273.0 256.0h1v1h-1zM282.0 256.0h1v1h-1zM274.0 257.0h1v1h-1zM281.0 257.0h1v1h-1zM277.0 258.0h3v1h-3z" fill="#7ee468"/>
<path d="M275.0 247.0h3v1h-3zM276.0 248.0h2v1h-2zM275.0 254.0h1v1h-1zM281.0 254.0h1v1h-1zM274.0 255.0h1v1h-1zM282.0 255.0h1v1h-1zM274.0 256.0h1v1h-1zM275.0 257.0h1v1h-1zM280.0 257.0h1v1h-1z" fill="#a2e84e"/>
<path d="M276.0 254.0h1v1h-1zM279.0 254.0h2v1h-2zM275.0 255.0h1v1h-1zM281.0 255.0h1v1h-1zM275.0 256.0h1v1h-1zM281.0 256.0h1v1h-1zM276.0 257.0h4v1h-4z" fill="#c8e63a"/>
<path d="M277.0 254.0h2v1h-2zM276.0 255.0h1v1h-1zM280.0 255.0h1v1h-1zM276.0 256.0h1v1h-1zM280.0 256.0h1v1h-1z" fill="#ecd42c"/>
<path d="M277.0 255.0h3v1h-3zM277.0 256.0h3v1h-3z" fill="#f4a424"/>
</g>
<rect x="209.0" y="180.6" width="18.30" height="43.20" fill="none" stroke="#d890c8" stroke-width="0.7"/>
<rect x="225.6" y="191.3" width="17.50" height="15.60" fill="none" stroke="#d890c8" stroke-width="0.7"/>
<rect x="208.8" y="240.4" width="18.10" height="40.60" fill="none" stroke="#d890c8" stroke-width="0.7"/>
<rect x="226.9" y="250.4" width="15.60" height="16.20" fill="none" stroke="#d890c8" stroke-width="0.7"/>
<rect x="267.8" y="239.8" width="17.70" height="41.20" fill="none" stroke="#d890c8" stroke-width="0.7"/>
<rect x="285.5" y="249.8" width="15.60" height="15.00" fill="none" stroke="#d890c8" stroke-width="0.7"/>
<rect x="268.3" y="178.2" width="19.40" height="43.20" fill="none" stroke="#8a88c8" stroke-width="0.7"/>
<rect x="268.3" y="188.6" width="35.30" height="16.10" fill="none" stroke="#8a88c8" stroke-width="0.7"/>
<text x="239.40" y="179.60" font-size="7.8" text-anchor="middle" font-weight="normal" fill="#222" stroke="#222" stroke-width="0.15">WT</text>
<text x="240.40" y="237.90" font-size="7.8" text-anchor="middle" font-weight="normal" fill="#222" stroke="#222" stroke-width="0.15">KM</text>
<text x="297.40" y="237.90" font-size="7.8" text-anchor="middle" font-weight="normal" fill="#222" textLength="26" lengthAdjust="spacingAndGlyphs" stroke="#222" stroke-width="0.15">KMUKO</text>
<text x="269.50" y="176.60" font-size="5.8" text-anchor="start" font-weight="normal" fill="#333" stroke="#333" stroke-width="0.15">Ly6C<tspan font-size="3.8" dy="-2.2">hi</tspan></text>
<text x="269.50" y="184.20" font-size="5.8" text-anchor="start" font-weight="normal" fill="#333" stroke="#333" stroke-width="0.15">Ly6G<tspan font-size="3.8" dy="-2.2">-</tspan></text>
<text x="269.50" y="194.40" font-size="5.8" text-anchor="start" font-weight="normal" fill="#333" stroke="#333" stroke-width="0.15">Ly6C<tspan font-size="3.8" dy="-2.2">int</tspan></text>
<text x="269.50" y="202.00" font-size="5.8" text-anchor="start" font-weight="normal" fill="#333" stroke="#333" stroke-width="0.15">Ly6G<tspan font-size="3.8" dy="-2.2">-</tspan></text>
<text x="305.20" y="194.40" font-size="5.8" text-anchor="start" font-weight="normal" fill="#333" stroke="#333" stroke-width="0.15">Ly6C<tspan font-size="3.8" dy="-2.2">int</tspan></text>
<text x="305.20" y="202.00" font-size="5.8" text-anchor="start" font-weight="normal" fill="#333" stroke="#333" stroke-width="0.15">Ly6G<tspan font-size="3.8" dy="-2.2">+</tspan></text>
<text x="300.20" y="176.60" font-size="5.8" text-anchor="start" font-weight="normal" fill="#333" stroke="#333" stroke-width="0.15">CD11b<tspan font-size="3.8" dy="-2.2">+</tspan></text>
<path d="M202.2 291.2 V201" stroke="#111" stroke-width="1.3" fill="none"/>
<path d="M199.0 203.0 L202.2 195.8 L205.4 203.0 Z" fill="#111"/>
<path d="M201.6 291.2 H284" stroke="#111" stroke-width="1.3" fill="none"/>
<path d="M282.5 288 L289.5 291.2 L282.5 294.4 Z" fill="#111"/>
<text x="201.60" y="185.00" font-size="9.6" text-anchor="middle" font-weight="normal" fill="#222" textLength="19" lengthAdjust="spacingAndGlyphs" transform="rotate(-90 201.6 185.0)" stroke="#222" stroke-width="0.15">Ly6-C</text>
<text x="301.60" y="294.60" font-size="9.6" text-anchor="middle" font-weight="normal" fill="#222" textLength="19.5" lengthAdjust="spacingAndGlyphs" stroke="#222" stroke-width="0.15">Ly6-G</text>
<line x1="227.40" y1="316.50" x2="227.40" y2="392.40" stroke="#2a2a2a" stroke-width="1.3"/>
<line x1="224.40" y1="392.40" x2="227.40" y2="392.40" stroke="#2a2a2a" stroke-width="1.0"/>
<text x="222.80" y="395.24" font-size="7.9" text-anchor="end" font-weight="normal" fill="#333" stroke="#333" stroke-width="0.15">0</text>
<line x1="224.40" y1="368.03" x2="227.40" y2="368.03" stroke="#2a2a2a" stroke-width="1.0"/>
<text x="222.80" y="370.88" font-size="7.9" text-anchor="end" font-weight="normal" fill="#333" stroke="#333" stroke-width="0.15">20</text>
<line x1="224.40" y1="343.67" x2="227.40" y2="343.67" stroke="#2a2a2a" stroke-width="1.0"/>
<text x="222.80" y="346.51" font-size="7.9" text-anchor="end" font-weight="normal" fill="#333" stroke="#333" stroke-width="0.15">40</text>
<line x1="224.40" y1="319.30" x2="227.40" y2="319.30" stroke="#2a2a2a" stroke-width="1.0"/>
<text x="222.80" y="322.15" font-size="7.9" text-anchor="end" font-weight="normal" fill="#333" stroke="#333" stroke-width="0.15">60</text>
<line x1="226.80" y1="392.40" x2="338.70" y2="392.40" stroke="#2a2a2a" stroke-width="1.3"/>
<text x="206.30" y="354.50" font-size="9.4" text-anchor="middle" font-weight="normal" fill="#333" textLength="28" lengthAdjust="spacingAndGlyphs" transform="rotate(-90 206.3 354.5)" stroke="#333" stroke-width="0.15">% of BM</text>
<circle cx="237.3" cy="320.1" r="3.0" fill="#4f3d5c" stroke="#1d1222" stroke-width="0.9"/>
<rect x="234.10" y="325.20" width="6.40" height="6.00" fill="#3d5b80" stroke="#16243a" stroke-width="0.9"/>
<rect x="234.10" y="334.00" width="6.40" height="6.00" fill="#a21d3e" stroke="#3f0714" stroke-width="0.9"/>
<text x="243.90" y="322.60" font-size="7.4" text-anchor="start" font-weight="normal" fill="#333" textLength="10.4" lengthAdjust="spacingAndGlyphs" stroke="#333" stroke-width="0.15">WT</text>
<text x="243.90" y="331.50" font-size="7.4" text-anchor="start" font-weight="normal" fill="#333" textLength="10.2" lengthAdjust="spacingAndGlyphs" stroke="#333" stroke-width="0.15">KM</text>
<text x="243.90" y="340.50" font-size="7.4" text-anchor="start" font-weight="normal" fill="#333" textLength="29.5" lengthAdjust="spacingAndGlyphs" stroke="#333" stroke-width="0.15">KM UKO</text>
<circle cx="237.30" cy="382.04" r="3.20" fill="#4f3d5c" stroke="#1d1222" stroke-width="0.9"/>
<circle cx="237.30" cy="383.26" r="3.20" fill="#4f3d5c" stroke="#1d1222" stroke-width="0.9"/>
<rect x="242.80" y="377.02" width="6.40" height="6.40" fill="#3d5b80" stroke="#16243a" stroke-width="0.9"/>
<rect x="242.80" y="374.09" width="6.40" height="6.40" fill="#3d5b80" stroke="#16243a" stroke-width="0.9"/>
<rect x="242.80" y="371.17" width="6.40" height="6.40" fill="#3d5b80" stroke="#16243a" stroke-width="0.9"/>
<rect x="242.80" y="368.25" width="6.40" height="6.40" fill="#3d5b80" stroke="#16243a" stroke-width="0.9"/>
<rect x="242.80" y="365.32" width="6.40" height="6.40" fill="#3d5b80" stroke="#16243a" stroke-width="0.9"/>
<rect x="242.80" y="362.40" width="6.40" height="6.40" fill="#3d5b80" stroke="#16243a" stroke-width="0.9"/>
<line x1="246.00" y1="377.78" x2="246.00" y2="368.03" stroke="#111" stroke-width="0.9"/>
<line x1="243.50" y1="377.78" x2="248.50" y2="377.78" stroke="#111" stroke-width="0.9"/>
<line x1="243.50" y1="368.03" x2="248.50" y2="368.03" stroke="#111" stroke-width="0.9"/>
<line x1="242.00" y1="372.91" x2="250.00" y2="372.91" stroke="#111" stroke-width="1.1"/>
<rect x="251.00" y="368.49" width="6.40" height="6.40" fill="#a21d3e" stroke="#3f0714" stroke-width="0.9"/>
<rect x="251.00" y="366.05" width="6.40" height="6.40" fill="#a21d3e" stroke="#3f0714" stroke-width="0.9"/>
<rect x="251.00" y="363.62" width="6.40" height="6.40" fill="#a21d3e" stroke="#3f0714" stroke-width="0.9"/>
<rect x="251.00" y="361.18" width="6.40" height="6.40" fill="#a21d3e" stroke="#3f0714" stroke-width="0.9"/>
<rect x="251.00" y="358.74" width="6.40" height="6.40" fill="#a21d3e" stroke="#3f0714" stroke-width="0.9"/>
<line x1="254.20" y1="369.86" x2="254.20" y2="363.77" stroke="#111" stroke-width="0.9"/>
<line x1="251.70" y1="369.86" x2="256.70" y2="369.86" stroke="#111" stroke-width="0.9"/>
<line x1="251.70" y1="363.77" x2="256.70" y2="363.77" stroke="#111" stroke-width="0.9"/>
<line x1="250.20" y1="366.82" x2="258.20" y2="366.82" stroke="#111" stroke-width="1.1"/>
<circle cx="274.40" cy="354.63" r="3.20" fill="#4f3d5c" stroke="#1d1222" stroke-width="0.9"/>
<circle cx="274.40" cy="358.29" r="3.20" fill="#4f3d5c" stroke="#1d1222" stroke-width="0.9"/>
<circle cx="274.40" cy="361.94" r="3.20" fill="#4f3d5c" stroke="#1d1222" stroke-width="0.9"/>
<circle cx="274.40" cy="364.38" r="3.20" fill="#4f3d5c" stroke="#1d1222" stroke-width="0.9"/>
<line x1="274.40" y1="362.55" x2="274.40" y2="356.46" stroke="#111" stroke-width="0.9"/>
<line x1="271.90" y1="362.55" x2="276.90" y2="362.55" stroke="#111" stroke-width="0.9"/>
<line x1="271.90" y1="356.46" x2="276.90" y2="356.46" stroke="#111" stroke-width="0.9"/>
<line x1="270.40" y1="359.51" x2="278.40" y2="359.51" stroke="#111" stroke-width="1.1"/>
<rect x="279.80" y="362.40" width="6.40" height="6.40" fill="#3d5b80" stroke="#16243a" stroke-width="0.9"/>
<rect x="279.80" y="359.35" width="6.40" height="6.40" fill="#3d5b80" stroke="#16243a" stroke-width="0.9"/>
<rect x="279.80" y="356.31" width="6.40" height="6.40" fill="#3d5b80" stroke="#16243a" stroke-width="0.9"/>
<rect x="279.80" y="353.26" width="6.40" height="6.40" fill="#3d5b80" stroke="#16243a" stroke-width="0.9"/>
<rect x="279.80" y="350.21" width="6.40" height="6.40" fill="#3d5b80" stroke="#16243a" stroke-width="0.9"/>
<rect x="279.80" y="347.17" width="6.40" height="6.40" fill="#3d5b80" stroke="#16243a" stroke-width="0.9"/>
<rect x="279.80" y="344.12" width="6.40" height="6.40" fill="#3d5b80" stroke="#16243a" stroke-width="0.9"/>
<line x1="283.00" y1="360.72" x2="283.00" y2="350.98" stroke="#111" stroke-width="0.9"/>
<line x1="280.50" y1="360.72" x2="285.50" y2="360.72" stroke="#111" stroke-width="0.9"/>
<line x1="280.50" y1="350.98" x2="285.50" y2="350.98" stroke="#111" stroke-width="0.9"/>
<line x1="279.00" y1="355.85" x2="287.00" y2="355.85" stroke="#111" stroke-width="1.1"/>
<rect x="288.50" y="327.07" width="6.40" height="6.40" fill="#a21d3e" stroke="#3f0714" stroke-width="0.9"/>
<rect x="288.50" y="329.50" width="6.40" height="6.40" fill="#a21d3e" stroke="#3f0714" stroke-width="0.9"/>
<rect x="288.50" y="341.08" width="6.40" height="6.40" fill="#a21d3e" stroke="#3f0714" stroke-width="0.9"/>
<line x1="291.70" y1="342.45" x2="291.70" y2="331.48" stroke="#111" stroke-width="0.9"/>
<line x1="289.20" y1="342.45" x2="294.20" y2="342.45" stroke="#111" stroke-width="0.9"/>
<line x1="289.20" y1="331.48" x2="294.20" y2="331.48" stroke="#111" stroke-width="0.9"/>
<line x1="287.70" y1="336.36" x2="295.70" y2="336.36" stroke="#111" stroke-width="1.1"/>
<circle cx="311.40" cy="349.76" r="3.20" fill="#4f3d5c" stroke="#1d1222" stroke-width="0.9"/>
<circle cx="311.40" cy="354.63" r="3.20" fill="#4f3d5c" stroke="#1d1222" stroke-width="0.9"/>
<circle cx="311.40" cy="358.29" r="3.20" fill="#4f3d5c" stroke="#1d1222" stroke-width="0.9"/>
<circle cx="311.40" cy="359.51" r="3.20" fill="#4f3d5c" stroke="#1d1222" stroke-width="0.9"/>
<line x1="311.40" y1="358.90" x2="311.40" y2="352.81" stroke="#111" stroke-width="0.9"/>
<line x1="308.90" y1="358.90" x2="313.90" y2="358.90" stroke="#111" stroke-width="0.9"/>
<line x1="308.90" y1="352.81" x2="313.90" y2="352.81" stroke="#111" stroke-width="0.9"/>
<line x1="307.40" y1="355.85" x2="315.40" y2="355.85" stroke="#111" stroke-width="1.1"/>
<rect x="317.00" y="352.65" width="6.40" height="6.40" fill="#3d5b80" stroke="#16243a" stroke-width="0.9"/>
<rect x="317.00" y="349.40" width="6.40" height="6.40" fill="#3d5b80" stroke="#16243a" stroke-width="0.9"/>
<rect x="317.00" y="346.15" width="6.40" height="6.40" fill="#3d5b80" stroke="#16243a" stroke-width="0.9"/>
<rect x="317.00" y="342.90" width="6.40" height="6.40" fill="#3d5b80" stroke="#16243a" stroke-width="0.9"/>
<rect x="317.00" y="339.66" width="6.40" height="6.40" fill="#3d5b80" stroke="#16243a" stroke-width="0.9"/>
<rect x="317.00" y="336.41" width="6.40" height="6.40" fill="#3d5b80" stroke="#16243a" stroke-width="0.9"/>
<rect x="317.00" y="333.16" width="6.40" height="6.40" fill="#3d5b80" stroke="#16243a" stroke-width="0.9"/>
<line x1="320.20" y1="350.98" x2="320.20" y2="341.23" stroke="#111" stroke-width="0.9"/>
<line x1="317.70" y1="350.98" x2="322.70" y2="350.98" stroke="#111" stroke-width="0.9"/>
<line x1="317.70" y1="341.23" x2="322.70" y2="341.23" stroke="#111" stroke-width="0.9"/>
<line x1="316.20" y1="346.10" x2="324.20" y2="346.10" stroke="#111" stroke-width="1.1"/>
<rect x="325.50" y="364.83" width="6.40" height="6.40" fill="#a21d3e" stroke="#3f0714" stroke-width="0.9"/>
<rect x="325.50" y="367.88" width="6.40" height="6.40" fill="#a21d3e" stroke="#3f0714" stroke-width="0.9"/>
<rect x="325.50" y="381.28" width="6.40" height="6.40" fill="#a21d3e" stroke="#3f0714" stroke-width="0.9"/>
<line x1="328.70" y1="381.44" x2="328.70" y2="369.25" stroke="#111" stroke-width="0.9"/>
<line x1="326.20" y1="381.44" x2="331.20" y2="381.44" stroke="#111" stroke-width="0.9"/>
<line x1="326.20" y1="369.25" x2="331.20" y2="369.25" stroke="#111" stroke-width="0.9"/>
<line x1="324.70" y1="374.13" x2="332.70" y2="374.13" stroke="#111" stroke-width="1.1"/>
<line x1="246.00" y1="392.40" x2="246.00" y2="394.80" stroke="#2a2a2a" stroke-width="1.0"/>
<line x1="283.00" y1="392.40" x2="283.00" y2="394.80" stroke="#2a2a2a" stroke-width="1.0"/>
<line x1="320.20" y1="392.40" x2="320.20" y2="394.80" stroke="#2a2a2a" stroke-width="1.0"/>
<text x="246.00" y="404.00" font-size="7.8" text-anchor="middle" font-weight="normal" fill="#333" stroke="#333" stroke-width="0.15">Ly6C<tspan font-size="5.2" dy="-3">hi</tspan></text>
<text x="246.00" y="413.20" font-size="7.8" text-anchor="middle" font-weight="normal" fill="#333" stroke="#333" stroke-width="0.15">Ly6G<tspan font-size="5.2" dy="-3">-</tspan></text>
<text x="283.00" y="404.00" font-size="7.8" text-anchor="middle" font-weight="normal" fill="#333" stroke="#333" stroke-width="0.15">Ly6C<tspan font-size="5.2" dy="-3">int</tspan></text>
<text x="283.00" y="413.20" font-size="7.8" text-anchor="middle" font-weight="normal" fill="#333" stroke="#333" stroke-width="0.15">Ly6G<tspan font-size="5.2" dy="-3">-</tspan></text>
<text x="320.20" y="404.00" font-size="7.8" text-anchor="middle" font-weight="normal" fill="#333" stroke="#333" stroke-width="0.15">Ly6C<tspan font-size="5.2" dy="-3">int</tspan></text>
<text x="320.20" y="413.20" font-size="7.8" text-anchor="middle" font-weight="normal" fill="#333" stroke="#333" stroke-width="0.15">Ly6G<tspan font-size="5.2" dy="-3">+</tspan></text>
<line x1="280.40" y1="322.00" x2="293.20" y2="322.00" stroke="#222" stroke-width="1.0"/>
<line x1="280.40" y1="319.40" x2="280.40" y2="324.60" stroke="#222" stroke-width="1.0"/>
<line x1="293.20" y1="319.40" x2="293.20" y2="324.60" stroke="#222" stroke-width="1.0"/>
<text x="286.80" y="319.50" font-size="7" text-anchor="middle" font-weight="normal" fill="#222" stroke="#222" stroke-width="0.15">***</text>
<line x1="321.00" y1="329.20" x2="334.00" y2="329.20" stroke="#222" stroke-width="1.0"/>
<line x1="321.00" y1="326.60" x2="321.00" y2="331.80" stroke="#222" stroke-width="1.0"/>
<line x1="334.00" y1="326.60" x2="334.00" y2="331.80" stroke="#222" stroke-width="1.0"/>
<text x="327.50" y="326.70" font-size="7" text-anchor="middle" font-weight="normal" fill="#222" stroke="#222" stroke-width="0.15">***</text>
<text x="367.60" y="175.80" font-size="11.5" text-anchor="start" font-weight="bold" fill="#111">E</text>
<g clip-path="url(#cE1)">
<rect x="384.00" y="169.00" width="116.40" height="115.30" fill="#e9e6da"/>
<g filter="url(#blur1)">
<ellipse cx="466" cy="254" rx="17.549999999999997" ry="12.87" fill="url(#gH)"/>
<ellipse cx="415.6" cy="176.5" rx="3.5909999999999997" ry="8.856" fill="#f6f3f4" fill-opacity="0.8" transform="rotate(12 415.6 176.5)"/>
<ellipse cx="415.6" cy="176.5" rx="2.691" ry="7.9559999999999995" fill="#9a6ecc" transform="rotate(12 415.6 176.5)"/>
<ellipse cx="415.62" cy="177.10" rx="1.94" ry="5.73" fill="#6e3aa8" transform="rotate(12 415.6 176.5)"/>
<circle cx="416.67" cy="176.05" r="0.64" fill="#8e5ec2"/>
<circle cx="415.34" cy="176.04" r="0.64" fill="#8e5ec2"/>
<ellipse cx="457.1" cy="170.6" rx="5.814" ry="4.644" fill="#f6f3f4" fill-opacity="0.8"/>
<ellipse cx="457.1" cy="170.6" rx="4.914" ry="3.7439999999999998" fill="#9a6ecc"/>
<ellipse cx="457.48" cy="170.56" rx="3.54" ry="2.70" fill="#6e3aa8"/>
<circle cx="458.10" cy="168.14" r="0.98" fill="#8e5ec2"/>
<circle cx="459.19" cy="170.47" r="0.98" fill="#8e5ec2"/>
<ellipse cx="465.5" cy="170.6" rx="4.176" ry="4.176" fill="#f6f3f4" fill-opacity="0.8"/>
<ellipse cx="465.5" cy="170.6" rx="3.276" ry="3.276" fill="#9a6ecc"/>
<ellipse cx="465.83" cy="170.53" rx="2.36" ry="2.36" fill="#6e3aa8"/>
<circle cx="465.13" cy="171.06" r="0.72" fill="#8e5ec2"/>
<circle cx="466.31" cy="170.40" r="0.72" fill="#8e5ec2"/>
<ellipse cx="493.5" cy="173.5" rx="5.697" ry="5.697" fill="#f6f3f4" fill-opacity="0.8"/>
<ellipse cx="493.5" cy="173.5" rx="4.797" ry="4.797" fill="#9a6ecc"/>
<ellipse cx="493.39" cy="173.99" rx="3.45" ry="3.45" fill="#6e3aa8"/>
<circle cx="492.25" cy="171.32" r="1.06" fill="#8e5ec2"/>
<circle cx="494.07" cy="172.53" r="1.06" fill="#8e5ec2"/>
<ellipse cx="465.2" cy="188.2" rx="5.58" ry="5.58" fill="#f6f3f4" fill-opacity="0.8"/>
<ellipse cx="465.2" cy="188.2" rx="4.68" ry="4.68" fill="#9a6ecc"/>
<ellipse cx="463.85" cy="187.63" rx="3.37" ry="3.37" fill="#6e3aa8"/>
<circle cx="464.54" cy="186.52" r="1.03" fill="#8e5ec2"/>
<circle cx="463.10" cy="188.25" r="1.03" fill="#8e5ec2"/>
<ellipse cx="473.5" cy="188.5" rx="2.106" ry="2.106" fill="url(#gG)"/>
<ellipse cx="413.3" cy="218.2" rx="6.633" ry="6.633" fill="#f6f3f4" fill-opacity="0.8"/>
<ellipse cx="413.3" cy="218.2" rx="5.733" ry="5.733" fill="#9a6ecc"/>
<ellipse cx="414.07" cy="218.00" rx="4.13" ry="4.13" fill="#6e3aa8"/>
<circle cx="412.02" cy="218.86" r="1.26" fill="#8e5ec2"/>
<circle cx="414.53" cy="217.68" r="1.26" fill="#8e5ec2"/>
<ellipse cx="440.1" cy="221.4" rx="5.697" ry="5.697" fill="#f6f3f4" fill-opacity="0.8"/>
<ellipse cx="440.1" cy="221.4" rx="4.797" ry="4.797" fill="#9a6ecc"/>
<ellipse cx="440.49" cy="222.15" rx="3.45" ry="3.45" fill="#6e3aa8"/>
<circle cx="439.80" cy="220.23" r="1.06" fill="#8e5ec2"/>
<circle cx="440.60" cy="221.76" r="1.06" fill="#8e5ec2"/>
<ellipse cx="433.2" cy="231.0" rx="3.8249999999999997" ry="3.8249999999999997" fill="#f6f3f4" fill-opacity="0.8"/>
<ellipse cx="433.2" cy="231.0" rx="2.925" ry="2.925" fill="#5a4ab0"/>
<ellipse cx="433.2" cy="231.0" rx="2.49" ry="2.49" fill="#2a1a7a"/>
<ellipse cx="453.2" cy="222.3" rx="5.931" ry="5.931" fill="#f6f3f4" fill-opacity="0.8"/>
<ellipse cx="453.2" cy="222.3" rx="5.031" ry="5.031" fill="#a880cc"/>
<ellipse cx="453.2" cy="222.3" rx="3.12" ry="3.12" fill="none" stroke="#6a30a2" stroke-width="1.51"/>
<ellipse cx="452.96" cy="225.06" rx="1.51" ry="1.11" fill="#5a2494" transform="rotate(185 452.96 225.06)"/>
<ellipse cx="451.39" cy="220.21" rx="1.51" ry="1.11" fill="#5a2494" transform="rotate(319 451.39 220.21)"/>
<ellipse cx="455.87" cy="221.59" rx="1.51" ry="1.11" fill="#5a2494" transform="rotate(435 455.87 221.59)"/>
<circle cx="453.2" cy="222.3" r="1.81" fill="#dccbe6"/>
<ellipse cx="456.6" cy="229.8" rx="4.644" ry="4.644" fill="#f6f3f4" fill-opacity="0.8"/>
<ellipse cx="456.6" cy="229.8" rx="3.7439999999999998" ry="3.7439999999999998" fill="#5a4ab0"/>
<ellipse cx="456.6" cy="229.8" rx="3.18" ry="3.18" fill="#2a1a7a"/>
<ellipse cx="466.2" cy="210.6" rx="5.931" ry="5.931" fill="#f6f3f4" fill-opacity="0.8"/>
<ellipse cx="466.2" cy="210.6" rx="5.031" ry="5.031" fill="#9a6ecc"/>
<ellipse cx="464.89" cy="210.70" rx="3.62" ry="3.62" fill="#6e3aa8"/>
<circle cx="467.00" cy="209.48" r="1.11" fill="#8e5ec2"/>
<circle cx="468.29" cy="211.84" r="1.11" fill="#8e5ec2"/>
<ellipse cx="474.6" cy="215.8" rx="6.165" ry="6.165" fill="#f6f3f4" fill-opacity="0.8"/>
<ellipse cx="474.6" cy="215.8" rx="5.265" ry="5.265" fill="#a880cc"/>
<ellipse cx="474.6" cy="215.8" rx="3.26" ry="3.26" fill="none" stroke="#6a30a2" stroke-width="1.58"/>
<ellipse cx="477.14" cy="217.20" rx="1.58" ry="1.16" fill="#5a2494" transform="rotate(119 477.14 217.20)"/>
<ellipse cx="471.85" cy="216.72" rx="1.58" ry="1.16" fill="#5a2494" transform="rotate(252 471.85 216.72)"/>
<ellipse cx="472.70" cy="213.61" rx="1.58" ry="1.16" fill="#5a2494" transform="rotate(319 472.70 213.61)"/>
<circle cx="474.6" cy="215.8" r="1.90" fill="#dccbe6"/>
<ellipse cx="473.1" cy="203.5" rx="2.691" ry="2.691" fill="url(#gG)"/>
<ellipse cx="477.7" cy="209.6" rx="2.34" ry="2.34" fill="url(#gG)"/>
<ellipse cx="467.7" cy="223.4" rx="6.048" ry="6.048" fill="#f6f3f4" fill-opacity="0.8"/>
<ellipse cx="467.7" cy="223.4" rx="5.148" ry="5.148" fill="#9a6ecc"/>
<ellipse cx="468.17" cy="223.87" rx="3.71" ry="3.71" fill="#6e3aa8"/>
<circle cx="464.97" cy="223.94" r="1.13" fill="#8e5ec2"/>
<circle cx="467.31" cy="224.61" r="1.13" fill="#8e5ec2"/>
<ellipse cx="480.8" cy="224.2" rx="5.463" ry="5.463" fill="#f6f3f4" fill-opacity="0.8"/>
<ellipse cx="480.8" cy="224.2" rx="4.563" ry="4.563" fill="#9a6ecc"/>
<ellipse cx="480.50" cy="224.19" rx="3.29" ry="3.29" fill="#6e3aa8"/>
<circle cx="481.27" cy="223.00" r="1.00" fill="#8e5ec2"/>
<circle cx="481.62" cy="224.06" r="1.00" fill="#8e5ec2"/>
<ellipse cx="466.9" cy="231.8" rx="5.814" ry="5.814" fill="#f6f3f4" fill-opacity="0.8"/>
<ellipse cx="466.9" cy="231.8" rx="4.914" ry="4.914" fill="#9a6ecc"/>
<ellipse cx="467.26" cy="231.42" rx="3.54" ry="3.54" fill="#6e3aa8"/>
<circle cx="468.50" cy="232.69" r="1.08" fill="#8e5ec2"/>
<circle cx="466.64" cy="232.73" r="1.08" fill="#8e5ec2"/>
<ellipse cx="476.9" cy="231.6" rx="5.463" ry="5.463" fill="#f6f3f4" fill-opacity="0.8"/>
<ellipse cx="476.9" cy="231.6" rx="4.563" ry="4.563" fill="#9a6ecc"/>
<ellipse cx="477.76" cy="232.83" rx="3.29" ry="3.29" fill="#6e3aa8"/>
<circle cx="474.75" cy="232.81" r="1.00" fill="#8e5ec2"/>
<circle cx="477.54" cy="231.47" r="1.00" fill="#8e5ec2"/>
<ellipse cx="461.5" cy="238.8" rx="5.931" ry="5.931" fill="#f6f3f4" fill-opacity="0.8"/>
<ellipse cx="461.5" cy="238.8" rx="5.031" ry="5.031" fill="#9a6ecc"/>
<ellipse cx="460.74" cy="239.75" rx="3.62" ry="3.62" fill="#6e3aa8"/>
<circle cx="459.60" cy="239.66" r="1.11" fill="#8e5ec2"/>
<circle cx="463.46" cy="236.39" r="1.11" fill="#8e5ec2"/>
<ellipse cx="453.8" cy="240.4" rx="4.059" ry="4.059" fill="#f6f3f4" fill-opacity="0.8"/>
<ellipse cx="453.8" cy="240.4" rx="3.159" ry="3.159" fill="#5a4ab0"/>
<ellipse cx="453.8" cy="240.4" rx="2.69" ry="2.69" fill="#2a1a7a"/>
<ellipse cx="446.9" cy="242.7" rx="5.931" ry="5.931" fill="#f6f3f4" fill-opacity="0.8"/>
<ellipse cx="446.9" cy="242.7" rx="5.031" ry="5.031" fill="#a880cc"/>
<ellipse cx="446.9" cy="242.7" rx="3.12" ry="3.12" fill="none" stroke="#6a30a2" stroke-width="1.51"/>
<ellipse cx="449.57" cy="241.96" rx="1.51" ry="1.11" fill="#5a2494" transform="rotate(74 449.57 241.96)"/>
<ellipse cx="444.78" cy="244.48" rx="1.51" ry="1.11" fill="#5a2494" transform="rotate(230 444.78 244.48)"/>
<ellipse cx="447.80" cy="240.08" rx="1.51" ry="1.11" fill="#5a2494" transform="rotate(379 447.80 240.08)"/>
<circle cx="446.9" cy="242.7" r="1.81" fill="#dccbe6"/>
<ellipse cx="434.6" cy="241.8" rx="6.516" ry="6.516" fill="#f6f3f4" fill-opacity="0.8"/>
<ellipse cx="434.6" cy="241.8" rx="5.616" ry="5.616" fill="#a880cc"/>
<ellipse cx="434.6" cy="241.8" rx="3.48" ry="3.48" fill="none" stroke="#6a30a2" stroke-width="1.68"/>
<ellipse cx="434.24" cy="238.73" rx="1.68" ry="1.24" fill="#5a2494" transform="rotate(353 434.24 238.73)"/>
<ellipse cx="436.55" cy="244.20" rx="1.68" ry="1.24" fill="#5a2494" transform="rotate(501 436.55 244.20)"/>
<ellipse cx="431.70" cy="240.74" rx="1.68" ry="1.24" fill="#5a2494" transform="rotate(650 431.70 240.74)"/>
<circle cx="434.6" cy="241.8" r="2.02" fill="#dccbe6"/>
<ellipse cx="423.1" cy="239.6" rx="6.984" ry="6.984" fill="#f6f3f4" fill-opacity="0.8"/>
<ellipse cx="423.1" cy="239.6" rx="6.084" ry="6.084" fill="#a880cc"/>
<ellipse cx="423.1" cy="239.6" rx="3.77" ry="3.77" fill="none" stroke="#6a30a2" stroke-width="1.83"/>
<ellipse cx="422.45" cy="236.32" rx="1.83" ry="1.34" fill="#5a2494" transform="rotate(349 422.45 236.32)"/>
<ellipse cx="426.41" cy="239.13" rx="1.83" ry="1.34" fill="#5a2494" transform="rotate(442 426.41 239.13)"/>
<ellipse cx="420.70" cy="241.93" rx="1.83" ry="1.34" fill="#5a2494" transform="rotate(586 420.70 241.93)"/>
<circle cx="423.1" cy="239.6" r="2.19" fill="#dccbe6"/>
<ellipse cx="408.6" cy="237.2" rx="6.282" ry="6.282" fill="#f6f3f4" fill-opacity="0.8"/>
<ellipse cx="408.6" cy="237.2" rx="5.382" ry="5.382" fill="#9a6ecc"/>
<ellipse cx="408.59" cy="237.04" rx="3.88" ry="3.88" fill="#6e3aa8"/>
<circle cx="407.41" cy="237.83" r="1.18" fill="#8e5ec2"/>
<circle cx="409.10" cy="237.05" r="1.18" fill="#8e5ec2"/>
<ellipse cx="414.8" cy="243.6" rx="6.165" ry="6.165" fill="#f6f3f4" fill-opacity="0.8"/>
<ellipse cx="414.8" cy="243.6" rx="5.265" ry="5.265" fill="#a880cc"/>
<ellipse cx="414.8" cy="243.6" rx="3.26" ry="3.26" fill="none" stroke="#6a30a2" stroke-width="1.58"/>
<ellipse cx="417.57" cy="242.77" rx="1.58" ry="1.16" fill="#5a2494" transform="rotate(73 417.57 242.77)"/>
<ellipse cx="413.29" cy="246.07" rx="1.58" ry="1.16" fill="#5a2494" transform="rotate(212 413.29 246.07)"/>
<ellipse cx="415.32" cy="240.75" rx="1.58" ry="1.16" fill="#5a2494" transform="rotate(370 415.32 240.75)"/>
<circle cx="414.8" cy="243.6" r="1.90" fill="#dccbe6"/>
<ellipse cx="470.8" cy="240.4" rx="6.165" ry="6.165" fill="#f6f3f4" fill-opacity="0.8"/>
<ellipse cx="470.8" cy="240.4" rx="5.265" ry="5.265" fill="#9a6ecc"/>
<ellipse cx="470.65" cy="239.26" rx="3.79" ry="3.79" fill="#6e3aa8"/>
<circle cx="472.91" cy="241.24" r="1.16" fill="#8e5ec2"/>
<circle cx="474.13" cy="240.50" r="1.16" fill="#8e5ec2"/>
<ellipse cx="480.0" cy="240.4" rx="5.814" ry="5.814" fill="#f6f3f4" fill-opacity="0.8"/>
<ellipse cx="480.0" cy="240.4" rx="4.914" ry="4.914" fill="#9a6ecc"/>
<ellipse cx="479.66" cy="239.33" rx="3.54" ry="3.54" fill="#6e3aa8"/>
<circle cx="481.95" cy="244.19" r="1.08" fill="#8e5ec2"/>
<circle cx="478.79" cy="239.45" r="1.08" fill="#8e5ec2"/>
<ellipse cx="459.2" cy="249.6" rx="8.154" ry="8.154" fill="#f6f3f4" fill-opacity="0.8"/>
<ellipse cx="459.2" cy="249.6" rx="7.254" ry="7.254" fill="url(#gL)"/>
<ellipse cx="472.3" cy="255.8" rx="8.388" ry="8.388" fill="#f6f3f4" fill-opacity="0.8"/>
<ellipse cx="472.3" cy="255.8" rx="7.4879999999999995" ry="7.4879999999999995" fill="url(#gL)"/>
<ellipse cx="473.1" cy="248.1" rx="5.931" ry="5.931" fill="#f6f3f4" fill-opacity="0.8"/>
<ellipse cx="473.1" cy="248.1" rx="5.031" ry="5.031" fill="#5a4ab0"/>
<ellipse cx="473.1" cy="248.1" rx="4.28" ry="4.28" fill="#2a1a7a"/>
<ellipse cx="483.1" cy="248.1" rx="5.814" ry="5.814" fill="#f6f3f4" fill-opacity="0.8"/>
<ellipse cx="483.1" cy="248.1" rx="4.914" ry="4.914" fill="#9a6ecc"/>
<ellipse cx="483.54" cy="247.49" rx="3.54" ry="3.54" fill="#6e3aa8"/>
<circle cx="482.70" cy="247.58" r="1.08" fill="#8e5ec2"/>
<circle cx="483.38" cy="249.71" r="1.08" fill="#8e5ec2"/>
<ellipse cx="451.5" cy="258.1" rx="6.516" ry="6.516" fill="#f6f3f4" fill-opacity="0.8"/>
<ellipse cx="451.5" cy="258.1" rx="5.616" ry="5.616" fill="#a880cc"/>
<ellipse cx="451.5" cy="258.1" rx="3.48" ry="3.48" fill="none" stroke="#6a30a2" stroke-width="1.68"/>
<ellipse cx="452.65" cy="260.97" rx="1.68" ry="1.24" fill="#5a2494" transform="rotate(158 452.65 260.97)"/>
<ellipse cx="448.65" cy="259.29" rx="1.68" ry="1.24" fill="#5a2494" transform="rotate(247 448.65 259.29)"/>
<ellipse cx="452.78" cy="255.29" rx="1.68" ry="1.24" fill="#5a2494" transform="rotate(384 452.78 255.29)"/>
<circle cx="451.5" cy="258.1" r="2.02" fill="#dccbe6"/>
<ellipse cx="461.5" cy="260.4" rx="6.516" ry="6.516" fill="#f6f3f4" fill-opacity="0.8"/>
<ellipse cx="461.5" cy="260.4" rx="5.616" ry="5.616" fill="#a880cc"/>
<ellipse cx="461.5" cy="260.4" rx="3.48" ry="3.48" fill="none" stroke="#6a30a2" stroke-width="1.68"/>
<ellipse cx="464.56" cy="260.85" rx="1.68" ry="1.24" fill="#5a2494" transform="rotate(98 464.56 260.85)"/>
<ellipse cx="458.41" cy="260.41" rx="1.68" ry="1.24" fill="#5a2494" transform="rotate(270 458.41 260.41)"/>
<ellipse cx="461.39" cy="257.31" rx="1.68" ry="1.24" fill="#5a2494" transform="rotate(358 461.39 257.31)"/>
<circle cx="461.5" cy="260.4" r="2.02" fill="#dccbe6"/>
<ellipse cx="394.2" cy="249.7" rx="5.814" ry="5.814" fill="#f6f3f4" fill-opacity="0.8"/>
<ellipse cx="394.2" cy="249.7" rx="4.914" ry="4.914" fill="#a880cc"/>
<ellipse cx="394.2" cy="249.7" rx="3.05" ry="3.05" fill="none" stroke="#6a30a2" stroke-width="1.47"/>
<ellipse cx="396.72" cy="248.73" rx="1.47" ry="1.08" fill="#5a2494" transform="rotate(429 396.72 248.73)"/>
<ellipse cx="392.99" cy="252.11" rx="1.47" ry="1.08" fill="#5a2494" transform="rotate(567 392.99 252.11)"/>
<ellipse cx="392.29" cy="247.79" rx="1.47" ry="1.08" fill="#5a2494" transform="rotate(675 392.29 247.79)"/>
<circle cx="394.2" cy="249.7" r="1.77" fill="#dccbe6"/>
<ellipse cx="405.6" cy="282.8" rx="4.878" ry="4.878" fill="#f6f3f4" fill-opacity="0.8"/>
<ellipse cx="405.6" cy="282.8" rx="3.9779999999999998" ry="3.9779999999999998" fill="#9a6ecc"/>
<ellipse cx="406.21" cy="282.73" rx="2.86" ry="2.86" fill="#6e3aa8"/>
<circle cx="404.77" cy="281.93" r="0.88" fill="#8e5ec2"/>
<circle cx="405.02" cy="281.45" r="0.88" fill="#8e5ec2"/>
<ellipse cx="463.4" cy="282.0" rx="5.112" ry="5.112" fill="#f6f3f4" fill-opacity="0.8"/>
<ellipse cx="463.4" cy="282.0" rx="4.212" ry="4.212" fill="url(#gL)"/>
<ellipse cx="389.5" cy="235.5" rx="1.755" ry="1.755" fill="url(#gG)"/>
<ellipse cx="443.6" cy="276" rx="2.574" ry="2.574" fill="url(#gG)"/>
</g></g>
<text x="387.10" y="181.30" font-size="13.2" text-anchor="start" font-weight="normal" fill="#111" textLength="20.3" lengthAdjust="spacingAndGlyphs" stroke="#111" stroke-width="0.15">WT</text>
<g clip-path="url(#cE2)">
<rect x="384.00" y="287.80" width="116.40" height="115.60" fill="#e9e6da"/>
<g filter="url(#blur1)">
<ellipse cx="435.1" cy="297.2" rx="6.516" ry="6.516" fill="#f6f3f4" fill-opacity="0.8"/>
<ellipse cx="435.1" cy="297.2" rx="5.616" ry="5.616" fill="#a880cc"/>
<ellipse cx="435.1" cy="297.2" rx="3.48" ry="3.48" fill="none" stroke="#6a30a2" stroke-width="1.68"/>
<ellipse cx="436.02" cy="294.25" rx="1.68" ry="1.24" fill="#5a2494" transform="rotate(377 436.02 294.25)"/>
<ellipse cx="436.86" cy="299.74" rx="1.68" ry="1.24" fill="#5a2494" transform="rotate(505 436.86 299.74)"/>
<ellipse cx="432.17" cy="298.17" rx="1.68" ry="1.24" fill="#5a2494" transform="rotate(612 432.17 298.17)"/>
<circle cx="435.1" cy="297.2" r="2.02" fill="#dccbe6"/>
<ellipse cx="405.6" cy="308.6" rx="8.504999999999999" ry="5.112" fill="#f6f3f4" fill-opacity="0.8" transform="rotate(-10 405.6 308.6)"/>
<ellipse cx="405.6" cy="308.6" rx="7.6049999999999995" ry="4.212" fill="#a880cc" transform="rotate(-10 405.6 308.6)"/>
<ellipse cx="405.6" cy="308.6" rx="4.72" ry="2.61" fill="none" stroke="#6a30a2" stroke-width="1.93" transform="rotate(-10 405.6 308.6)"/>
<ellipse cx="405.72" cy="312.14" rx="1.93" ry="1.42" fill="#5a2494" transform="rotate(178 405.72 312.14)"/>
<ellipse cx="402.69" cy="306.58" rx="1.93" ry="1.42" fill="#5a2494" transform="rotate(305 402.69 306.58)"/>
<ellipse cx="409.12" cy="308.25" rx="1.93" ry="1.42" fill="#5a2494" transform="rotate(444 409.12 308.25)"/>
<circle cx="405.6" cy="308.6" r="2.32" fill="#dccbe6"/>
<ellipse cx="480.4" cy="293.8" rx="8.154" ry="8.154" fill="#f6f3f4" fill-opacity="0.8"/>
<ellipse cx="480.4" cy="293.8" rx="7.254" ry="7.254" fill="url(#gM)"/>
<ellipse cx="433.9" cy="310.8" rx="8.154" ry="8.154" fill="#f6f3f4" fill-opacity="0.8"/>
<ellipse cx="433.9" cy="310.8" rx="7.254" ry="7.254" fill="#9a6ecc"/>
<ellipse cx="434.53" cy="310.10" rx="5.22" ry="5.22" fill="#6e3aa8"/>
<circle cx="432.32" cy="315.18" r="1.60" fill="#8e5ec2"/>
<circle cx="435.55" cy="314.79" r="1.60" fill="#8e5ec2"/>
<ellipse cx="423.7" cy="318.8" rx="7.218" ry="7.218" fill="#f6f3f4" fill-opacity="0.8"/>
<ellipse cx="423.7" cy="318.8" rx="6.318" ry="6.318" fill="#9a6ecc"/>
<ellipse cx="425.72" cy="318.02" rx="4.55" ry="4.55" fill="#6e3aa8"/>
<circle cx="424.43" cy="319.67" r="1.39" fill="#8e5ec2"/>
<circle cx="424.76" cy="319.83" r="1.39" fill="#8e5ec2"/>
<ellipse cx="452.1" cy="315.4" rx="7.218" ry="7.218" fill="#f6f3f4" fill-opacity="0.8"/>
<ellipse cx="452.1" cy="315.4" rx="6.318" ry="6.318" fill="#a880cc"/>
<ellipse cx="452.1" cy="315.4" rx="3.92" ry="3.92" fill="none" stroke="#6a30a2" stroke-width="1.90"/>
<ellipse cx="448.68" cy="314.77" rx="1.90" ry="1.39" fill="#5a2494" transform="rotate(281 448.68 314.77)"/>
<ellipse cx="452.22" cy="311.93" rx="1.90" ry="1.39" fill="#5a2494" transform="rotate(362 452.22 311.93)"/>
<ellipse cx="453.70" cy="318.49" rx="1.90" ry="1.39" fill="#5a2494" transform="rotate(513 453.70 318.49)"/>
<circle cx="452.1" cy="315.4" r="2.27" fill="#dccbe6"/>
<ellipse cx="458.9" cy="307.4" rx="6.048" ry="6.048" fill="#f6f3f4" fill-opacity="0.8"/>
<ellipse cx="458.9" cy="307.4" rx="5.148" ry="5.148" fill="#a880cc"/>
<ellipse cx="458.9" cy="307.4" rx="3.19" ry="3.19" fill="none" stroke="#6a30a2" stroke-width="1.54"/>
<ellipse cx="456.25" cy="306.41" rx="1.54" ry="1.13" fill="#5a2494" transform="rotate(290 456.25 306.41)"/>
<ellipse cx="460.60" cy="305.13" rx="1.54" ry="1.13" fill="#5a2494" transform="rotate(397 460.60 305.13)"/>
<ellipse cx="458.82" cy="310.23" rx="1.54" ry="1.13" fill="#5a2494" transform="rotate(542 458.82 310.23)"/>
<circle cx="458.9" cy="307.4" r="1.85" fill="#dccbe6"/>
<ellipse cx="438.5" cy="322.2" rx="9.558" ry="7.218" fill="#f6f3f4" fill-opacity="0.8" transform="rotate(15 438.5 322.2)"/>
<ellipse cx="438.5" cy="322.2" rx="8.658" ry="6.318" fill="#9a6ecc" transform="rotate(15 438.5 322.2)"/>
<ellipse cx="439.39" cy="322.54" rx="6.23" ry="4.55" fill="#6e3aa8" transform="rotate(15 438.5 322.2)"/>
<circle cx="439.19" cy="322.40" r="1.60" fill="#8e5ec2"/>
<circle cx="437.53" cy="321.84" r="1.60" fill="#8e5ec2"/>
<ellipse cx="413.5" cy="330.1" rx="9.09" ry="9.09" fill="#f6f3f4" fill-opacity="0.8"/>
<ellipse cx="413.5" cy="330.1" rx="8.19" ry="8.19" fill="#9a6ecc"/>
<ellipse cx="412.89" cy="330.58" rx="5.90" ry="5.90" fill="#6e3aa8"/>
<circle cx="413.53" cy="331.53" r="1.80" fill="#8e5ec2"/>
<circle cx="410.24" cy="332.28" r="1.80" fill="#8e5ec2"/>
<ellipse cx="427.1" cy="334.7" rx="9.09" ry="9.09" fill="#f6f3f4" fill-opacity="0.8"/>
<ellipse cx="427.1" cy="334.7" rx="8.19" ry="8.19" fill="#a880cc"/>
<ellipse cx="427.1" cy="334.7" rx="5.08" ry="5.08" fill="none" stroke="#6a30a2" stroke-width="2.46"/>
<ellipse cx="426.70" cy="330.21" rx="2.46" ry="1.80" fill="#5a2494" transform="rotate(355 426.70 330.21)"/>
<ellipse cx="430.69" cy="337.42" rx="2.46" ry="1.80" fill="#5a2494" transform="rotate(487 430.69 337.42)"/>
<ellipse cx="423.25" cy="337.04" rx="2.46" ry="1.80" fill="#5a2494" transform="rotate(599 423.25 337.04)"/>
<circle cx="427.1" cy="334.7" r="2.95" fill="#dccbe6"/>
<ellipse cx="415.8" cy="341.5" rx="6.516" ry="6.516" fill="#f6f3f4" fill-opacity="0.8"/>
<ellipse cx="415.8" cy="341.5" rx="5.616" ry="5.616" fill="#9a6ecc"/>
<ellipse cx="416.05" cy="341.02" rx="4.04" ry="4.04" fill="#6e3aa8"/>
<circle cx="414.00" cy="340.07" r="1.24" fill="#8e5ec2"/>
<circle cx="418.01" cy="341.57" r="1.24" fill="#8e5ec2"/>
<ellipse cx="450.9" cy="326.7" rx="6.048" ry="6.048" fill="#f6f3f4" fill-opacity="0.8"/>
<ellipse cx="450.9" cy="326.7" rx="5.148" ry="5.148" fill="#a880cc"/>
<ellipse cx="450.9" cy="326.7" rx="3.19" ry="3.19" fill="none" stroke="#6a30a2" stroke-width="1.54"/>
<ellipse cx="453.10" cy="328.49" rx="1.54" ry="1.13" fill="#5a2494" transform="rotate(129 453.10 328.49)"/>
<ellipse cx="449.35" cy="329.07" rx="1.54" ry="1.13" fill="#5a2494" transform="rotate(213 449.35 329.07)"/>
<ellipse cx="453.06" cy="324.87" rx="1.54" ry="1.13" fill="#5a2494" transform="rotate(410 453.06 324.87)"/>
<circle cx="450.9" cy="326.7" r="1.85" fill="#dccbe6"/>
<ellipse cx="445.3" cy="335.8" rx="6.516" ry="6.516" fill="#f6f3f4" fill-opacity="0.8"/>
<ellipse cx="445.3" cy="335.8" rx="5.616" ry="5.616" fill="#a880cc"/>
<ellipse cx="445.3" cy="335.8" rx="3.48" ry="3.48" fill="none" stroke="#6a30a2" stroke-width="1.68"/>
<ellipse cx="443.48" cy="333.31" rx="1.68" ry="1.24" fill="#5a2494" transform="rotate(324 443.48 333.31)"/>
<ellipse cx="448.38" cy="335.54" rx="1.68" ry="1.24" fill="#5a2494" transform="rotate(445 448.38 335.54)"/>
<ellipse cx="446.38" cy="338.69" rx="1.68" ry="1.24" fill="#5a2494" transform="rotate(520 446.38 338.69)"/>
<circle cx="445.3" cy="335.8" r="2.02" fill="#dccbe6"/>
<ellipse cx="457.7" cy="335.8" rx="6.048" ry="6.048" fill="#f6f3f4" fill-opacity="0.8"/>
<ellipse cx="457.7" cy="335.8" rx="5.148" ry="5.148" fill="#a880cc"/>
<ellipse cx="457.7" cy="335.8" rx="3.19" ry="3.19" fill="none" stroke="#6a30a2" stroke-width="1.54"/>
<ellipse cx="458.55" cy="338.50" rx="1.54" ry="1.13" fill="#5a2494" transform="rotate(162 458.55 338.50)"/>
<ellipse cx="454.87" cy="335.79" rx="1.54" ry="1.13" fill="#5a2494" transform="rotate(270 454.87 335.79)"/>
<ellipse cx="458.92" cy="333.24" rx="1.54" ry="1.13" fill="#5a2494" transform="rotate(385 458.92 333.24)"/>
<circle cx="457.7" cy="335.8" r="1.85" fill="#dccbe6"/>
<ellipse cx="452.1" cy="344.9" rx="7.218" ry="7.218" fill="#f6f3f4" fill-opacity="0.8"/>
<ellipse cx="452.1" cy="344.9" rx="6.318" ry="6.318" fill="#9a6ecc"/>
<ellipse cx="453.00" cy="345.05" rx="4.55" ry="4.55" fill="#6e3aa8"/>
<circle cx="452.74" cy="344.66" r="1.39" fill="#8e5ec2"/>
<circle cx="453.30" cy="343.12" r="1.39" fill="#8e5ec2"/>
<ellipse cx="445.3" cy="352.8" rx="7.218" ry="7.218" fill="#f6f3f4" fill-opacity="0.8"/>
<ellipse cx="445.3" cy="352.8" rx="6.318" ry="6.318" fill="#a880cc"/>
<ellipse cx="445.3" cy="352.8" rx="3.92" ry="3.92" fill="none" stroke="#6a30a2" stroke-width="1.90"/>
<ellipse cx="448.55" cy="351.56" rx="1.90" ry="1.39" fill="#5a2494" transform="rotate(429 448.55 351.56)"/>
<ellipse cx="445.57" cy="356.26" rx="1.90" ry="1.39" fill="#5a2494" transform="rotate(536 445.57 356.26)"/>
<ellipse cx="443.50" cy="349.83" rx="1.90" ry="1.39" fill="#5a2494" transform="rotate(689 443.50 349.83)"/>
<circle cx="445.3" cy="352.8" r="2.27" fill="#dccbe6"/>
<ellipse cx="455.5" cy="356.2" rx="6.516" ry="6.516" fill="#f6f3f4" fill-opacity="0.8"/>
<ellipse cx="455.5" cy="356.2" rx="5.616" ry="5.616" fill="#a880cc"/>
<ellipse cx="455.5" cy="356.2" rx="3.48" ry="3.48" fill="none" stroke="#6a30a2" stroke-width="1.68"/>
<ellipse cx="456.79" cy="359.01" rx="1.68" ry="1.24" fill="#5a2494" transform="rotate(155 456.79 359.01)"/>
<ellipse cx="452.79" cy="357.68" rx="1.68" ry="1.24" fill="#5a2494" transform="rotate(241 452.79 357.68)"/>
<ellipse cx="457.00" cy="353.50" rx="1.68" ry="1.24" fill="#5a2494" transform="rotate(389 457.00 353.50)"/>
<circle cx="455.5" cy="356.2" r="2.02" fill="#dccbe6"/>
<ellipse cx="469.1" cy="340.3" rx="3.51" ry="3.51" fill="url(#gG)"/>
<ellipse cx="424.8" cy="360.7" rx="7.335" ry="7.335" fill="#f6f3f4" fill-opacity="0.8"/>
<ellipse cx="424.8" cy="360.7" rx="6.435" ry="6.435" fill="url(#gM)"/>
<ellipse cx="452.1" cy="369.8" rx="6.048" ry="6.048" fill="#f6f3f4" fill-opacity="0.8"/>
<ellipse cx="452.1" cy="369.8" rx="5.148" ry="5.148" fill="#9a6ecc"/>
<ellipse cx="451.75" cy="369.70" rx="3.71" ry="3.71" fill="#6e3aa8"/>
<circle cx="452.24" cy="366.22" r="1.13" fill="#8e5ec2"/>
<circle cx="452.40" cy="368.21" r="1.13" fill="#8e5ec2"/>
<ellipse cx="430.5" cy="372.1" rx="5.346" ry="5.346" fill="#f6f3f4" fill-opacity="0.8"/>
<ellipse cx="430.5" cy="372.1" rx="4.446" ry="4.446" fill="#5a4ab0"/>
<ellipse cx="430.5" cy="372.1" rx="3.78" ry="3.78" fill="#2a1a7a"/>
<ellipse cx="430.5" cy="381.2" rx="7.218" ry="7.218" fill="#f6f3f4" fill-opacity="0.8"/>
<ellipse cx="430.5" cy="381.2" rx="6.318" ry="6.318" fill="#9a6ecc"/>
<ellipse cx="429.84" cy="379.80" rx="4.55" ry="4.55" fill="#6e3aa8"/>
<circle cx="427.63" cy="379.41" r="1.39" fill="#8e5ec2"/>
<circle cx="432.06" cy="384.36" r="1.39" fill="#8e5ec2"/>
<ellipse cx="454.3" cy="383.4" rx="9.09" ry="9.09" fill="#f6f3f4" fill-opacity="0.8"/>
<ellipse cx="454.3" cy="383.4" rx="8.19" ry="8.19" fill="#a880cc"/>
<ellipse cx="454.3" cy="383.4" rx="5.08" ry="5.08" fill="none" stroke="#6a30a2" stroke-width="2.46"/>
<ellipse cx="450.31" cy="381.31" rx="2.46" ry="1.80" fill="#5a2494" transform="rotate(298 450.31 381.31)"/>
<ellipse cx="456.32" cy="379.37" rx="2.46" ry="1.80" fill="#5a2494" transform="rotate(387 456.32 379.37)"/>
<ellipse cx="458.57" cy="384.85" rx="2.46" ry="1.80" fill="#5a2494" transform="rotate(469 458.57 384.85)"/>
<circle cx="454.3" cy="383.4" r="2.95" fill="#dccbe6"/>
<ellipse cx="492.9" cy="383.4" rx="8.154" ry="8.154" fill="#f6f3f4" fill-opacity="0.8"/>
<ellipse cx="492.9" cy="383.4" rx="7.254" ry="7.254" fill="#9a6ecc"/>
<ellipse cx="493.06" cy="383.88" rx="5.22" ry="5.22" fill="#6e3aa8"/>
<circle cx="491.97" cy="384.06" r="1.60" fill="#8e5ec2"/>
<circle cx="494.15" cy="381.52" r="1.60" fill="#8e5ec2"/>
<ellipse cx="409.0" cy="388.0" rx="9.792" ry="9.792" fill="#f6f3f4" fill-opacity="0.8"/>
<ellipse cx="409.0" cy="388.0" rx="8.892" ry="8.892" fill="url(#gM)"/>
<ellipse cx="450.9" cy="400.5" rx="4.761" ry="4.761" fill="#f6f3f4" fill-opacity="0.8"/>
<ellipse cx="450.9" cy="400.5" rx="3.8609999999999998" ry="3.8609999999999998" fill="#5a4ab0"/>
<ellipse cx="450.9" cy="400.5" rx="3.28" ry="3.28" fill="#2a1a7a"/>
<ellipse cx="471.4" cy="361.9" rx="4.68" ry="4.68" fill="url(#gG)"/>
<ellipse cx="478" cy="354" rx="2.574" ry="2.574" fill="url(#gG)"/>
<ellipse cx="402" cy="318" rx="2.34" ry="2.34" fill="url(#gG)"/>
</g></g>
<text x="387.10" y="300.60" font-size="13.2" text-anchor="start" font-weight="normal" fill="#111" textLength="20.3" lengthAdjust="spacingAndGlyphs" stroke="#111" stroke-width="0.15">KM</text>
<g clip-path="url(#cE3)">
<rect x="384.00" y="407.20" width="116.40" height="116.30" fill="#e9e6da"/>
<g filter="url(#blur1)">
<ellipse cx="418.0" cy="440.0" rx="10.26" ry="10.26" fill="#f6f3f4" fill-opacity="0.8"/>
<ellipse cx="418.0" cy="440.0" rx="9.36" ry="9.36" fill="url(#gKp)"/>
<circle cx="413.16" cy="439.28" r="2.06" fill="#9c8cc8"/>
<circle cx="417.31" cy="438.84" r="2.06" fill="#9c8cc8"/>
<circle cx="421.23" cy="445.65" r="2.06" fill="#9c8cc8"/>
<ellipse cx="429.4" cy="446.8" rx="8.388" ry="8.388" fill="#f6f3f4" fill-opacity="0.8"/>
<ellipse cx="429.4" cy="446.8" rx="7.4879999999999995" ry="7.4879999999999995" fill="url(#gKp)"/>
<circle cx="428.31" cy="448.63" r="1.65" fill="#9c8cc8"/>
<circle cx="431.87" cy="448.67" r="1.65" fill="#9c8cc8"/>
<circle cx="432.15" cy="445.78" r="1.65" fill="#9c8cc8"/>
<ellipse cx="390.8" cy="457.0" rx="7.335" ry="7.335" fill="#f6f3f4" fill-opacity="0.8"/>
<ellipse cx="390.8" cy="457.0" rx="6.435" ry="6.435" fill="url(#gKp)"/>
<circle cx="392.47" cy="461.56" r="1.42" fill="#9c8cc8"/>
<circle cx="392.61" cy="455.60" r="1.42" fill="#9c8cc8"/>
<circle cx="392.17" cy="459.84" r="1.42" fill="#9c8cc8"/>
<ellipse cx="389.7" cy="478.6" rx="7.335" ry="7.335" fill="#f6f3f4" fill-opacity="0.8"/>
<ellipse cx="389.7" cy="478.6" rx="6.435" ry="6.435" fill="url(#gKp)"/>
<circle cx="390.53" cy="477.33" r="1.42" fill="#9c8cc8"/>
<circle cx="393.18" cy="475.79" r="1.42" fill="#9c8cc8"/>
<circle cx="390.83" cy="478.56" r="1.42" fill="#9c8cc8"/>
<ellipse cx="399.9" cy="487.7" rx="6.165" ry="6.165" fill="#f6f3f4" fill-opacity="0.8"/>
<ellipse cx="399.9" cy="487.7" rx="5.265" ry="5.265" fill="url(#gKp)"/>
<circle cx="397.70" cy="489.95" r="1.16" fill="#9c8cc8"/>
<circle cx="400.54" cy="485.55" r="1.16" fill="#9c8cc8"/>
<circle cx="401.01" cy="486.90" r="1.16" fill="#9c8cc8"/>
<ellipse cx="426.0" cy="504.7" rx="10.26" ry="10.26" fill="#f6f3f4" fill-opacity="0.8"/>
<ellipse cx="426.0" cy="504.7" rx="9.36" ry="9.36" fill="url(#gL)"/>
<ellipse cx="483.8" cy="446.8" rx="5.58" ry="5.58" fill="#f6f3f4" fill-opacity="0.8"/>
<ellipse cx="483.8" cy="446.8" rx="4.68" ry="4.68" fill="url(#gKp)"/>
<circle cx="480.68" cy="445.67" r="1.03" fill="#9c8cc8"/>
<circle cx="484.23" cy="447.84" r="1.03" fill="#9c8cc8"/>
<circle cx="484.07" cy="446.87" r="1.03" fill="#9c8cc8"/>
<ellipse cx="423.7" cy="427.6" rx="6.048" ry="6.048" fill="#f6f3f4" fill-opacity="0.8"/>
<ellipse cx="423.7" cy="427.6" rx="5.148" ry="5.148" fill="#aa9ed6" stroke="#6c5cae" stroke-width="0.6"/>
<ellipse cx="423.99" cy="427.47" rx="3.71" ry="3.71" fill="#9284c8"/>
<circle cx="425.52" cy="427.83" r="1.29" fill="#a698d2"/>
<circle cx="424.15" cy="428.44" r="1.29" fill="#a698d2"/>
<ellipse cx="442.5" cy="433.2" rx="10.026" ry="10.026" fill="#f6f3f4" fill-opacity="0.8"/>
<ellipse cx="442.5" cy="433.2" rx="9.126" ry="9.126" fill="#aa9ed6" stroke="#6c5cae" stroke-width="0.6"/>
<ellipse cx="441.34" cy="432.42" rx="6.57" ry="6.57" fill="#9284c8"/>
<circle cx="446.68" cy="434.12" r="2.28" fill="#a698d2"/>
<circle cx="441.73" cy="434.13" r="2.28" fill="#a698d2"/>
<ellipse cx="448.7" cy="440.0" rx="4.644" ry="4.644" fill="#f6f3f4" fill-opacity="0.8"/>
<ellipse cx="448.7" cy="440.0" rx="3.7439999999999998" ry="3.7439999999999998" fill="#5a4ab0"/>
<ellipse cx="448.7" cy="440.0" rx="3.18" ry="3.18" fill="#2a1a7a"/>
<ellipse cx="456.6" cy="421.9" rx="7.218" ry="7.218" fill="#f6f3f4" fill-opacity="0.8"/>
<ellipse cx="456.6" cy="421.9" rx="6.318" ry="6.318" fill="#aa9ed6" stroke="#6c5cae" stroke-width="0.6"/>
<ellipse cx="456.23" cy="422.11" rx="4.55" ry="4.55" fill="#9284c8"/>
<circle cx="455.34" cy="422.42" r="1.58" fill="#a698d2"/>
<circle cx="453.61" cy="424.42" r="1.58" fill="#a698d2"/>
<ellipse cx="464.6" cy="416.2" rx="6.75" ry="6.75" fill="#f6f3f4" fill-opacity="0.8"/>
<ellipse cx="464.6" cy="416.2" rx="5.85" ry="5.85" fill="#aa9ed6" stroke="#6c5cae" stroke-width="0.6"/>
<ellipse cx="464.24" cy="415.09" rx="4.21" ry="4.21" fill="#9284c8"/>
<circle cx="464.21" cy="415.55" r="1.46" fill="#a698d2"/>
<circle cx="464.87" cy="414.19" r="1.46" fill="#a698d2"/>
<ellipse cx="471.4" cy="425.3" rx="6.048" ry="6.048" fill="#f6f3f4" fill-opacity="0.8"/>
<ellipse cx="471.4" cy="425.3" rx="5.148" ry="5.148" fill="#aa9ed6" stroke="#6c5cae" stroke-width="0.6"/>
<ellipse cx="471.65" cy="427.54" rx="3.71" ry="3.71" fill="#9284c8"/>
<circle cx="469.43" cy="425.82" r="1.29" fill="#a698d2"/>
<circle cx="470.92" cy="425.60" r="1.29" fill="#a698d2"/>
<ellipse cx="458.9" cy="410.5" rx="4.878" ry="4.878" fill="#f6f3f4" fill-opacity="0.8"/>
<ellipse cx="458.9" cy="410.5" rx="3.9779999999999998" ry="3.9779999999999998" fill="#aa9ed6" stroke="#6c5cae" stroke-width="0.6"/>
<ellipse cx="458.04" cy="409.95" rx="2.86" ry="2.86" fill="#9284c8"/>
<circle cx="459.45" cy="410.45" r="0.99" fill="#a698d2"/>
<circle cx="460.85" cy="409.66" r="0.99" fill="#a698d2"/>
<ellipse cx="497.5" cy="409.4" rx="3.7079999999999997" ry="3.7079999999999997" fill="#f6f3f4" fill-opacity="0.8"/>
<ellipse cx="497.5" cy="409.4" rx="2.808" ry="2.808" fill="#5a4ab0"/>
<ellipse cx="497.5" cy="409.4" rx="2.39" ry="2.39" fill="#2a1a7a"/>
<ellipse cx="456.6" cy="435.5" rx="7.218" ry="7.218" fill="#f6f3f4" fill-opacity="0.8"/>
<ellipse cx="456.6" cy="435.5" rx="6.318" ry="6.318" fill="#aa9ed6" stroke="#6c5cae" stroke-width="0.6"/>
<ellipse cx="456.73" cy="437.71" rx="4.55" ry="4.55" fill="#9284c8"/>
<circle cx="455.15" cy="433.79" r="1.58" fill="#a698d2"/>
<circle cx="456.53" cy="435.42" r="1.58" fill="#a698d2"/>
<ellipse cx="464.6" cy="448.0" rx="9.09" ry="9.09" fill="#f6f3f4" fill-opacity="0.8"/>
<ellipse cx="464.6" cy="448.0" rx="8.19" ry="8.19" fill="#aa9ed6" stroke="#6c5cae" stroke-width="0.6"/>
<ellipse cx="465.43" cy="448.13" rx="5.90" ry="5.90" fill="#9284c8"/>
<circle cx="462.74" cy="448.52" r="2.05" fill="#a698d2"/>
<circle cx="471.08" cy="451.12" r="2.05" fill="#a698d2"/>
<ellipse cx="443.0" cy="450.2" rx="8.154" ry="8.154" fill="#f6f3f4" fill-opacity="0.8"/>
<ellipse cx="443.0" cy="450.2" rx="7.254" ry="7.254" fill="#aa9ed6" stroke="#6c5cae" stroke-width="0.6"/>
<ellipse cx="440.58" cy="450.08" rx="5.22" ry="5.22" fill="#9284c8"/>
<circle cx="441.10" cy="451.55" r="1.81" fill="#a698d2"/>
<circle cx="442.62" cy="454.41" r="1.81" fill="#a698d2"/>
<ellipse cx="477.0" cy="453.7" rx="7.218" ry="7.218" fill="#f6f3f4" fill-opacity="0.8"/>
<ellipse cx="477.0" cy="453.7" rx="6.318" ry="6.318" fill="#aa9ed6" stroke="#6c5cae" stroke-width="0.6"/>
<ellipse cx="477.71" cy="454.38" rx="4.55" ry="4.55" fill="#9284c8"/>
<circle cx="477.35" cy="453.62" r="1.58" fill="#a698d2"/>
<circle cx="477.64" cy="456.16" r="1.58" fill="#a698d2"/>
<ellipse cx="492.9" cy="451.4" rx="7.218" ry="7.218" fill="#f6f3f4" fill-opacity="0.8"/>
<ellipse cx="492.9" cy="451.4" rx="6.318" ry="6.318" fill="#aa9ed6" stroke="#6c5cae" stroke-width="0.6"/>
<ellipse cx="493.31" cy="451.13" rx="4.55" ry="4.55" fill="#9284c8"/>
<circle cx="495.32" cy="451.76" r="1.58" fill="#a698d2"/>
<circle cx="492.75" cy="449.90" r="1.58" fill="#a698d2"/>
<ellipse cx="432.8" cy="461.6" rx="7.92" ry="7.92" fill="#f6f3f4" fill-opacity="0.8"/>
<ellipse cx="432.8" cy="461.6" rx="7.02" ry="7.02" fill="#5a4ab0"/>
<ellipse cx="432.8" cy="461.6" rx="5.97" ry="5.97" fill="#2a1a7a"/>
<ellipse cx="447.5" cy="459.3" rx="8.622" ry="8.622" fill="#f6f3f4" fill-opacity="0.8"/>
<ellipse cx="447.5" cy="459.3" rx="7.7219999999999995" ry="7.7219999999999995" fill="#aa9ed6" stroke="#6c5cae" stroke-width="0.6"/>
<ellipse cx="446.98" cy="458.71" rx="5.56" ry="5.56" fill="#9284c8"/>
<circle cx="441.03" cy="461.66" r="1.93" fill="#a698d2"/>
<circle cx="448.81" cy="458.80" r="1.93" fill="#a698d2"/>
<ellipse cx="461.1" cy="460.5" rx="8.154" ry="8.154" fill="#f6f3f4" fill-opacity="0.8"/>
<ellipse cx="461.1" cy="460.5" rx="7.254" ry="7.254" fill="#aa9ed6" stroke="#6c5cae" stroke-width="0.6"/>
<ellipse cx="462.01" cy="460.88" rx="5.22" ry="5.22" fill="#9284c8"/>
<circle cx="461.91" cy="455.11" r="1.81" fill="#a698d2"/>
<circle cx="460.59" cy="461.66" r="1.81" fill="#a698d2"/>
<ellipse cx="477.0" cy="466.1" rx="7.218" ry="7.218" fill="#f6f3f4" fill-opacity="0.8"/>
<ellipse cx="477.0" cy="466.1" rx="6.318" ry="6.318" fill="#aa9ed6" stroke="#6c5cae" stroke-width="0.6"/>
<ellipse cx="478.22" cy="467.50" rx="4.55" ry="4.55" fill="#9284c8"/>
<circle cx="479.70" cy="463.90" r="1.58" fill="#a698d2"/>
<circle cx="472.83" cy="467.18" r="1.58" fill="#a698d2"/>
<ellipse cx="486.1" cy="459.3" rx="6.516" ry="6.516" fill="#f6f3f4" fill-opacity="0.8"/>
<ellipse cx="486.1" cy="459.3" rx="5.616" ry="5.616" fill="#aa9ed6" stroke="#6c5cae" stroke-width="0.6"/>
<ellipse cx="486.12" cy="459.95" rx="4.04" ry="4.04" fill="#9284c8"/>
<circle cx="485.89" cy="459.67" r="1.40" fill="#a698d2"/>
<circle cx="483.57" cy="460.05" r="1.40" fill="#a698d2"/>
<ellipse cx="427.1" cy="473.0" rx="8.622" ry="8.622" fill="#f6f3f4" fill-opacity="0.8"/>
<ellipse cx="427.1" cy="473.0" rx="7.7219999999999995" ry="7.7219999999999995" fill="#aa9ed6" stroke="#6c5cae" stroke-width="0.6"/>
<ellipse cx="426.69" cy="473.32" rx="5.56" ry="5.56" fill="#9284c8"/>
<circle cx="428.16" cy="472.73" r="1.93" fill="#a698d2"/>
<circle cx="427.83" cy="472.97" r="1.93" fill="#a698d2"/>
<ellipse cx="440.7" cy="471.8" rx="8.622" ry="8.622" fill="#f6f3f4" fill-opacity="0.8"/>
<ellipse cx="440.7" cy="471.8" rx="7.7219999999999995" ry="7.7219999999999995" fill="#aa9ed6" stroke="#6c5cae" stroke-width="0.6"/>
<ellipse cx="441.40" cy="472.26" rx="5.56" ry="5.56" fill="#9284c8"/>
<circle cx="439.43" cy="470.44" r="1.93" fill="#a698d2"/>
<circle cx="444.74" cy="471.56" r="1.93" fill="#a698d2"/>
<ellipse cx="456.6" cy="470.7" rx="8.622" ry="8.622" fill="#f6f3f4" fill-opacity="0.8"/>
<ellipse cx="456.6" cy="470.7" rx="7.7219999999999995" ry="7.7219999999999995" fill="#aa9ed6" stroke="#6c5cae" stroke-width="0.6"/>
<ellipse cx="457.52" cy="471.06" rx="5.56" ry="5.56" fill="#9284c8"/>
<circle cx="455.29" cy="468.96" r="1.93" fill="#a698d2"/>
<circle cx="456.88" cy="471.29" r="1.93" fill="#a698d2"/>
<ellipse cx="421.4" cy="484.3" rx="8.154" ry="8.154" fill="#f6f3f4" fill-opacity="0.8"/>
<ellipse cx="421.4" cy="484.3" rx="7.254" ry="7.254" fill="#aa9ed6" stroke="#6c5cae" stroke-width="0.6"/>
<ellipse cx="421.93" cy="483.20" rx="5.22" ry="5.22" fill="#9284c8"/>
<circle cx="420.11" cy="484.09" r="1.81" fill="#a698d2"/>
<circle cx="424.88" cy="479.16" r="1.81" fill="#a698d2"/>
<ellipse cx="436.2" cy="485.4" rx="8.154" ry="8.154" fill="#f6f3f4" fill-opacity="0.8"/>
<ellipse cx="436.2" cy="485.4" rx="7.254" ry="7.254" fill="#aa9ed6" stroke="#6c5cae" stroke-width="0.6"/>
<ellipse cx="436.58" cy="484.93" rx="5.22" ry="5.22" fill="#9284c8"/>
<circle cx="437.14" cy="484.33" r="1.81" fill="#a698d2"/>
<circle cx="436.99" cy="488.80" r="1.81" fill="#a698d2"/>
<ellipse cx="449.8" cy="478.6" rx="7.218" ry="7.218" fill="#f6f3f4" fill-opacity="0.8"/>
<ellipse cx="449.8" cy="478.6" rx="6.318" ry="6.318" fill="#aa9ed6" stroke="#6c5cae" stroke-width="0.6"/>
<ellipse cx="450.07" cy="478.93" rx="4.55" ry="4.55" fill="#9284c8"/>
<circle cx="450.51" cy="477.18" r="1.58" fill="#a698d2"/>
<circle cx="450.83" cy="478.21" r="1.58" fill="#a698d2"/>
<ellipse cx="428.2" cy="493.4" rx="6.048" ry="6.048" fill="#f6f3f4" fill-opacity="0.8"/>
<ellipse cx="428.2" cy="493.4" rx="5.148" ry="5.148" fill="#5a4ab0"/>
<ellipse cx="428.2" cy="493.4" rx="4.38" ry="4.38" fill="#2a1a7a"/>
<ellipse cx="396.5" cy="499.0" rx="6.516" ry="6.516" fill="#f6f3f4" fill-opacity="0.8"/>
<ellipse cx="396.5" cy="499.0" rx="5.616" ry="5.616" fill="#5a4ab0"/>
<ellipse cx="396.5" cy="499.0" rx="4.77" ry="4.77" fill="#2a1a7a"/>
<ellipse cx="406.7" cy="503.6" rx="6.516" ry="6.516" fill="#f6f3f4" fill-opacity="0.8"/>
<ellipse cx="406.7" cy="503.6" rx="5.616" ry="5.616" fill="#aa9ed6" stroke="#6c5cae" stroke-width="0.6"/>
<ellipse cx="406.15" cy="503.57" rx="4.04" ry="4.04" fill="#9284c8"/>
<circle cx="406.32" cy="504.87" r="1.40" fill="#a698d2"/>
<circle cx="406.63" cy="502.71" r="1.40" fill="#a698d2"/>
<ellipse cx="388.5" cy="505.8" rx="7.335" ry="7.335" fill="#f6f3f4" fill-opacity="0.8"/>
<ellipse cx="388.5" cy="505.8" rx="6.435" ry="6.435" fill="#aa9ed6" stroke="#6c5cae" stroke-width="0.6"/>
<ellipse cx="389.62" cy="506.56" rx="4.63" ry="4.63" fill="#9284c8"/>
<circle cx="390.95" cy="506.97" r="1.61" fill="#a698d2"/>
<circle cx="388.29" cy="504.99" r="1.61" fill="#a698d2"/>
<ellipse cx="390.8" cy="520.6" rx="8.504999999999999" ry="8.504999999999999" fill="#f6f3f4" fill-opacity="0.8"/>
<ellipse cx="390.8" cy="520.6" rx="7.6049999999999995" ry="7.6049999999999995" fill="#aa9ed6" stroke="#6c5cae" stroke-width="0.6"/>
<ellipse cx="390.55" cy="521.46" rx="5.48" ry="5.48" fill="#9284c8"/>
<circle cx="391.06" cy="517.22" r="1.90" fill="#a698d2"/>
<circle cx="390.71" cy="517.37" r="1.90" fill="#a698d2"/>
</g></g>
<text x="387.10" y="420.60" font-size="13.2" text-anchor="start" font-weight="normal" fill="#111" textLength="48" lengthAdjust="spacingAndGlyphs" stroke="#111" stroke-width="0.15">KMUKO</text>
<text x="6.60" y="443.00" font-size="11.5" text-anchor="start" font-weight="bold" fill="#111">F</text>
<line x1="60.00" y1="445.30" x2="60.00" y2="527.90" stroke="#2a2a2a" stroke-width="1.3"/>
<line x1="57.00" y1="527.90" x2="60.00" y2="527.90" stroke="#2a2a2a" stroke-width="1.0"/>
<text x="54.00" y="530.74" font-size="7.9" text-anchor="end" font-weight="normal" fill="#333" stroke="#333" stroke-width="0.15">0</text>
<line x1="57.00" y1="512.00" x2="60.00" y2="512.00" stroke="#2a2a2a" stroke-width="1.0"/>
<text x="54.00" y="514.84" font-size="7.9" text-anchor="end" font-weight="normal" fill="#333" stroke="#333" stroke-width="0.15">20</text>
<line x1="57.00" y1="496.10" x2="60.00" y2="496.10" stroke="#2a2a2a" stroke-width="1.0"/>
<text x="54.00" y="498.94" font-size="7.9" text-anchor="end" font-weight="normal" fill="#333" stroke="#333" stroke-width="0.15">40</text>
<line x1="57.00" y1="480.20" x2="60.00" y2="480.20" stroke="#2a2a2a" stroke-width="1.0"/>
<text x="54.00" y="483.04" font-size="7.9" text-anchor="end" font-weight="normal" fill="#333" stroke="#333" stroke-width="0.15">60</text>
<line x1="57.00" y1="464.30" x2="60.00" y2="464.30" stroke="#2a2a2a" stroke-width="1.0"/>
<text x="54.00" y="467.14" font-size="7.9" text-anchor="end" font-weight="normal" fill="#333" stroke="#333" stroke-width="0.15">80</text>
<line x1="57.00" y1="448.40" x2="60.00" y2="448.40" stroke="#2a2a2a" stroke-width="1.0"/>
<text x="54.00" y="451.24" font-size="7.9" text-anchor="end" font-weight="normal" fill="#333" stroke="#333" stroke-width="0.15">100</text>
<line x1="59.40" y1="527.90" x2="111.80" y2="527.90" stroke="#2a2a2a" stroke-width="1.3"/>
<text x="86.00" y="442.40" font-size="10.0" text-anchor="middle" font-weight="normal" fill="#333" textLength="21" lengthAdjust="spacingAndGlyphs" stroke="#333" stroke-width="0.15">CMP</text>
<text x="35.00" y="488.00" font-size="8.6" text-anchor="middle" font-weight="normal" fill="#333" textLength="29" lengthAdjust="spacingAndGlyphs" transform="rotate(-90 35.0 488.0)" stroke="#333" stroke-width="0.15">BrdU+ %</text>
<rect x="70.10" y="508.78" width="5.80" height="5.80" fill="#3d5b80" stroke="#16243a" stroke-width="0.9"/>
<rect x="70.10" y="505.68" width="5.80" height="5.80" fill="#3d5b80" stroke="#16243a" stroke-width="0.9"/>
<rect x="70.10" y="502.58" width="5.80" height="5.80" fill="#3d5b80" stroke="#16243a" stroke-width="0.9"/>
<rect x="70.10" y="499.48" width="5.80" height="5.80" fill="#3d5b80" stroke="#16243a" stroke-width="0.9"/>
<rect x="70.10" y="496.38" width="5.80" height="5.80" fill="#3d5b80" stroke="#16243a" stroke-width="0.9"/>
<rect x="70.10" y="516.73" width="5.80" height="5.80" fill="#3d5b80" stroke="#16243a" stroke-width="0.9"/>
<line x1="73.00" y1="512.48" x2="73.00" y2="502.14" stroke="#111" stroke-width="0.9"/>
<line x1="68.10" y1="512.48" x2="77.90" y2="512.48" stroke="#111" stroke-width="0.9"/>
<line x1="68.10" y1="502.14" x2="77.90" y2="502.14" stroke="#111" stroke-width="0.9"/>
<line x1="64.10" y1="507.87" x2="81.90" y2="507.87" stroke="#111" stroke-width="1.1"/>
<rect x="96.20" y="474.36" width="5.80" height="5.80" fill="#a21d3e" stroke="#3f0714" stroke-width="0.9"/>
<rect x="96.20" y="502.02" width="5.80" height="5.80" fill="#a21d3e" stroke="#3f0714" stroke-width="0.9"/>
<rect x="96.20" y="496.78" width="5.80" height="5.80" fill="#a21d3e" stroke="#3f0714" stroke-width="0.9"/>
<rect x="96.20" y="491.53" width="5.80" height="5.80" fill="#a21d3e" stroke="#3f0714" stroke-width="0.9"/>
<rect x="96.20" y="486.28" width="5.80" height="5.80" fill="#a21d3e" stroke="#3f0714" stroke-width="0.9"/>
<rect x="96.20" y="516.73" width="5.80" height="5.80" fill="#a21d3e" stroke="#3f0714" stroke-width="0.9"/>
<line x1="99.10" y1="511.28" x2="99.10" y2="485.37" stroke="#111" stroke-width="0.9"/>
<line x1="94.20" y1="511.28" x2="104.00" y2="511.28" stroke="#111" stroke-width="0.9"/>
<line x1="94.20" y1="485.37" x2="104.00" y2="485.37" stroke="#111" stroke-width="0.9"/>
<line x1="90.20" y1="498.33" x2="108.00" y2="498.33" stroke="#111" stroke-width="1.1"/>
<line x1="160.00" y1="445.30" x2="160.00" y2="527.90" stroke="#2a2a2a" stroke-width="1.3"/>
<line x1="157.00" y1="527.90" x2="160.00" y2="527.90" stroke="#2a2a2a" stroke-width="1.0"/>
<text x="154.40" y="530.74" font-size="7.9" text-anchor="end" font-weight="normal" fill="#333" stroke="#333" stroke-width="0.15">0</text>
<line x1="157.00" y1="512.00" x2="160.00" y2="512.00" stroke="#2a2a2a" stroke-width="1.0"/>
<text x="154.40" y="514.84" font-size="7.9" text-anchor="end" font-weight="normal" fill="#333" stroke="#333" stroke-width="0.15">20</text>
<line x1="157.00" y1="496.10" x2="160.00" y2="496.10" stroke="#2a2a2a" stroke-width="1.0"/>
<text x="154.40" y="498.94" font-size="7.9" text-anchor="end" font-weight="normal" fill="#333" stroke="#333" stroke-width="0.15">40</text>
<line x1="157.00" y1="480.20" x2="160.00" y2="480.20" stroke="#2a2a2a" stroke-width="1.0"/>
<text x="154.40" y="483.04" font-size="7.9" text-anchor="end" font-weight="normal" fill="#333" stroke="#333" stroke-width="0.15">60</text>
<line x1="157.00" y1="464.30" x2="160.00" y2="464.30" stroke="#2a2a2a" stroke-width="1.0"/>
<text x="154.40" y="467.14" font-size="7.9" text-anchor="end" font-weight="normal" fill="#333" stroke="#333" stroke-width="0.15">80</text>
<line x1="157.00" y1="448.40" x2="160.00" y2="448.40" stroke="#2a2a2a" stroke-width="1.0"/>
<text x="154.40" y="451.24" font-size="7.9" text-anchor="end" font-weight="normal" fill="#333" stroke="#333" stroke-width="0.15">100</text>
<line x1="159.40" y1="527.90" x2="212.50" y2="527.90" stroke="#2a2a2a" stroke-width="1.3"/>
<text x="186.80" y="442.40" font-size="10.0" text-anchor="middle" font-weight="normal" fill="#333" textLength="22.5" lengthAdjust="spacingAndGlyphs" stroke="#333" stroke-width="0.15">GMP</text>
<text x="135.50" y="486.50" font-size="8.6" text-anchor="middle" font-weight="normal" fill="#333" textLength="29" lengthAdjust="spacingAndGlyphs" transform="rotate(-90 135.5 486.5)" stroke="#333" stroke-width="0.15">BrdU+ %</text>
<rect x="170.90" y="503.14" width="5.80" height="5.80" fill="#3d5b80" stroke="#16243a" stroke-width="0.9"/>
<rect x="170.90" y="500.06" width="5.80" height="5.80" fill="#3d5b80" stroke="#16243a" stroke-width="0.9"/>
<rect x="170.90" y="496.98" width="5.80" height="5.80" fill="#3d5b80" stroke="#16243a" stroke-width="0.9"/>
<rect x="170.90" y="493.90" width="5.80" height="5.80" fill="#3d5b80" stroke="#16243a" stroke-width="0.9"/>
<rect x="170.90" y="490.81" width="5.80" height="5.80" fill="#3d5b80" stroke="#16243a" stroke-width="0.9"/>
<line x1="173.80" y1="501.66" x2="173.80" y2="494.51" stroke="#111" stroke-width="0.9"/>
<line x1="168.90" y1="501.66" x2="178.70" y2="501.66" stroke="#111" stroke-width="0.9"/>
<line x1="168.90" y1="494.51" x2="178.70" y2="494.51" stroke="#111" stroke-width="0.9"/>
<line x1="164.90" y1="498.33" x2="182.70" y2="498.33" stroke="#111" stroke-width="1.1"/>
<rect x="197.10" y="462.99" width="5.80" height="5.80" fill="#a21d3e" stroke="#3f0714" stroke-width="0.9"/>
<rect x="197.10" y="493.20" width="5.80" height="5.80" fill="#a21d3e" stroke="#3f0714" stroke-width="0.9"/>
<rect x="197.10" y="489.23" width="5.80" height="5.80" fill="#a21d3e" stroke="#3f0714" stroke-width="0.9"/>
<rect x="197.10" y="485.25" width="5.80" height="5.80" fill="#a21d3e" stroke="#3f0714" stroke-width="0.9"/>
<rect x="197.10" y="481.27" width="5.80" height="5.80" fill="#a21d3e" stroke="#3f0714" stroke-width="0.9"/>
<rect x="197.10" y="512.68" width="5.80" height="5.80" fill="#a21d3e" stroke="#3f0714" stroke-width="0.9"/>
<line x1="200.00" y1="504.45" x2="200.00" y2="474.63" stroke="#111" stroke-width="0.9"/>
<line x1="195.10" y1="504.45" x2="204.90" y2="504.45" stroke="#111" stroke-width="0.9"/>
<line x1="195.10" y1="474.63" x2="204.90" y2="474.63" stroke="#111" stroke-width="0.9"/>
<line x1="191.10" y1="489.74" x2="208.90" y2="489.74" stroke="#111" stroke-width="1.1"/>
<line x1="260.00" y1="445.30" x2="260.00" y2="528.00" stroke="#2a2a2a" stroke-width="1.3"/>
<line x1="257.00" y1="528.00" x2="260.00" y2="528.00" stroke="#2a2a2a" stroke-width="1.0"/>
<text x="256.80" y="530.84" font-size="7.9" text-anchor="end" font-weight="normal" fill="#333" stroke="#333" stroke-width="0.15">0</text>
<line x1="257.00" y1="511.94" x2="260.00" y2="511.94" stroke="#2a2a2a" stroke-width="1.0"/>
<text x="256.80" y="514.78" font-size="7.9" text-anchor="end" font-weight="normal" fill="#333" stroke="#333" stroke-width="0.15">10</text>
<line x1="257.00" y1="495.88" x2="260.00" y2="495.88" stroke="#2a2a2a" stroke-width="1.0"/>
<text x="256.80" y="498.72" font-size="7.9" text-anchor="end" font-weight="normal" fill="#333" stroke="#333" stroke-width="0.15">20</text>
<line x1="257.00" y1="479.82" x2="260.00" y2="479.82" stroke="#2a2a2a" stroke-width="1.0"/>
<text x="256.80" y="482.66" font-size="7.9" text-anchor="end" font-weight="normal" fill="#333" stroke="#333" stroke-width="0.15">30</text>
<line x1="257.00" y1="463.76" x2="260.00" y2="463.76" stroke="#2a2a2a" stroke-width="1.0"/>
<text x="256.80" y="466.60" font-size="7.9" text-anchor="end" font-weight="normal" fill="#333" stroke="#333" stroke-width="0.15">40</text>
<line x1="257.00" y1="447.70" x2="260.00" y2="447.70" stroke="#2a2a2a" stroke-width="1.0"/>
<text x="256.80" y="450.54" font-size="7.9" text-anchor="end" font-weight="normal" fill="#333" stroke="#333" stroke-width="0.15">50</text>
<line x1="259.40" y1="528.00" x2="312.50" y2="528.00" stroke="#2a2a2a" stroke-width="1.3"/>
<text x="288.00" y="442.80" font-size="10.0" text-anchor="middle" font-weight="normal" fill="#333" textLength="37" lengthAdjust="spacingAndGlyphs" stroke="#333" stroke-width="0.15">CD11b<tspan font-size="6.5" dy="-3.8">+</tspan></text>
<text x="234.70" y="488.50" font-size="8.6" text-anchor="middle" font-weight="normal" fill="#333" textLength="29" lengthAdjust="spacingAndGlyphs" transform="rotate(-90 234.7 488.5)" stroke="#333" stroke-width="0.15">BrdU+ %</text>
<rect x="271.10" y="504.22" width="5.80" height="5.80" fill="#3d5b80" stroke="#16243a" stroke-width="0.9"/>
<rect x="271.10" y="499.60" width="5.80" height="5.80" fill="#3d5b80" stroke="#16243a" stroke-width="0.9"/>
<rect x="271.10" y="494.99" width="5.80" height="5.80" fill="#3d5b80" stroke="#16243a" stroke-width="0.9"/>
<rect x="271.10" y="490.37" width="5.80" height="5.80" fill="#3d5b80" stroke="#16243a" stroke-width="0.9"/>
<rect x="271.10" y="485.75" width="5.80" height="5.80" fill="#3d5b80" stroke="#16243a" stroke-width="0.9"/>
<rect x="271.10" y="513.06" width="5.80" height="5.80" fill="#3d5b80" stroke="#16243a" stroke-width="0.9"/>
<line x1="274.00" y1="508.73" x2="274.00" y2="492.19" stroke="#111" stroke-width="0.9"/>
<line x1="269.10" y1="508.73" x2="278.90" y2="508.73" stroke="#111" stroke-width="0.9"/>
<line x1="269.10" y1="492.19" x2="278.90" y2="492.19" stroke="#111" stroke-width="0.9"/>
<line x1="265.10" y1="500.70" x2="282.90" y2="500.70" stroke="#111" stroke-width="1.1"/>
<rect x="297.50" y="509.84" width="5.80" height="5.80" fill="#a21d3e" stroke="#3f0714" stroke-width="0.9"/>
<rect x="297.50" y="506.47" width="5.80" height="5.80" fill="#a21d3e" stroke="#3f0714" stroke-width="0.9"/>
<rect x="297.50" y="503.10" width="5.80" height="5.80" fill="#a21d3e" stroke="#3f0714" stroke-width="0.9"/>
<rect x="297.50" y="499.73" width="5.80" height="5.80" fill="#a21d3e" stroke="#3f0714" stroke-width="0.9"/>
<line x1="300.40" y1="511.62" x2="300.40" y2="503.75" stroke="#111" stroke-width="0.9"/>
<line x1="295.50" y1="511.62" x2="305.30" y2="511.62" stroke="#111" stroke-width="0.9"/>
<line x1="295.50" y1="503.75" x2="305.30" y2="503.75" stroke="#111" stroke-width="0.9"/>
<line x1="291.50" y1="507.60" x2="309.30" y2="507.60" stroke="#111" stroke-width="1.1"/>
<rect x="313.50" y="457.40" width="6.00" height="6.00" fill="#3d5b80" stroke="#16243a" stroke-width="0.9"/>
<rect x="313.50" y="466.00" width="6.00" height="6.00" fill="#a21d3e" stroke="#3f0714" stroke-width="0.9"/>
<text x="322.20" y="462.80" font-size="7.4" text-anchor="start" font-weight="normal" fill="#333" textLength="10.3" lengthAdjust="spacingAndGlyphs" stroke="#333" stroke-width="0.15">KM</text>
<text x="322.20" y="471.40" font-size="7.4" text-anchor="start" font-weight="normal" fill="#333" textLength="29.5" lengthAdjust="spacingAndGlyphs" stroke="#333" stroke-width="0.15">KM UKO</text>
<text x="6.60" y="554.20" font-size="11.5" text-anchor="start" font-weight="bold" fill="#111">G</text>
<line x1="61.90" y1="563.50" x2="61.90" y2="650.40" stroke="#2a2a2a" stroke-width="1.3"/>
<line x1="58.90" y1="650.40" x2="61.90" y2="650.40" stroke="#2a2a2a" stroke-width="1.0"/>
<text x="57.30" y="653.00" font-size="7.7" text-anchor="end" font-weight="normal" fill="#333" stroke="#333" stroke-width="0.15">0</text>
<line x1="58.90" y1="630.97" x2="61.90" y2="630.97" stroke="#2a2a2a" stroke-width="1.0"/>
<text x="57.30" y="633.57" font-size="7.7" text-anchor="end" font-weight="normal" fill="#333" stroke="#333" stroke-width="0.15">20</text>
<line x1="58.90" y1="611.55" x2="61.90" y2="611.55" stroke="#2a2a2a" stroke-width="1.0"/>
<text x="57.30" y="614.15" font-size="7.7" text-anchor="end" font-weight="normal" fill="#333" stroke="#333" stroke-width="0.15">40</text>
<line x1="58.90" y1="592.12" x2="61.90" y2="592.12" stroke="#2a2a2a" stroke-width="1.0"/>
<text x="57.30" y="594.72" font-size="7.7" text-anchor="end" font-weight="normal" fill="#333" stroke="#333" stroke-width="0.15">60</text>
<line x1="58.90" y1="572.70" x2="61.90" y2="572.70" stroke="#2a2a2a" stroke-width="1.0"/>
<text x="57.30" y="575.30" font-size="7.7" text-anchor="end" font-weight="normal" fill="#333" stroke="#333" stroke-width="0.15">80</text>
<line x1="61.30" y1="650.40" x2="192.30" y2="650.40" stroke="#2a2a2a" stroke-width="1.3"/>
<rect x="75.00" y="632.30" width="15.80" height="18.10" fill="#2f5596" stroke="#1f3a6a" stroke-width="0.5"/>
<line x1="82.90" y1="632.30" x2="82.90" y2="626.50" stroke="#333" stroke-width="1.0"/>
<line x1="78.10" y1="626.50" x2="87.70" y2="626.50" stroke="#333" stroke-width="1.0"/>
<rect x="98.80" y="599.60" width="16.30" height="50.80" fill="#b4062c" stroke="#7a0a20" stroke-width="0.5"/>
<line x1="106.95" y1="599.60" x2="106.95" y2="596.40" stroke="#333" stroke-width="1.0"/>
<line x1="102.15" y1="596.40" x2="111.75" y2="596.40" stroke="#333" stroke-width="1.0"/>
<rect x="139.70" y="604.20" width="16.10" height="46.20" fill="#2f5596" stroke="#1f3a6a" stroke-width="0.5"/>
<line x1="147.75" y1="604.20" x2="147.75" y2="595.50" stroke="#333" stroke-width="1.0"/>
<line x1="142.95" y1="595.50" x2="152.55" y2="595.50" stroke="#333" stroke-width="1.0"/>
<rect x="163.90" y="584.20" width="16.40" height="66.20" fill="#b4062c" stroke="#7a0a20" stroke-width="0.5"/>
<line x1="172.10" y1="584.20" x2="172.10" y2="583.60" stroke="#333" stroke-width="1.0"/>
<line x1="167.30" y1="583.60" x2="176.90" y2="583.60" stroke="#333" stroke-width="1.0"/>
<line x1="94.60" y1="650.40" x2="94.60" y2="653.20" stroke="#2a2a2a" stroke-width="1.0"/>
<line x1="160.00" y1="650.40" x2="160.00" y2="653.20" stroke="#2a2a2a" stroke-width="1.0"/>
<line x1="81.50" y1="590.40" x2="105.60" y2="590.40" stroke="#222" stroke-width="1.0"/>
<line x1="81.50" y1="587.80" x2="81.50" y2="593.00" stroke="#222" stroke-width="1.0"/>
<line x1="105.60" y1="587.80" x2="105.60" y2="593.00" stroke="#222" stroke-width="1.0"/>
<text x="93.55" y="587.30" font-size="7" text-anchor="middle" font-weight="normal" fill="#222" stroke="#222" stroke-width="0.15">**</text>
<line x1="148.50" y1="575.80" x2="172.20" y2="575.80" stroke="#222" stroke-width="1.0"/>
<line x1="148.50" y1="573.20" x2="148.50" y2="578.40" stroke="#222" stroke-width="1.0"/>
<line x1="172.20" y1="573.20" x2="172.20" y2="578.40" stroke="#222" stroke-width="1.0"/>
<text x="160.35" y="572.80" font-size="7" text-anchor="middle" font-weight="normal" fill="#222" stroke="#222" stroke-width="0.15">*</text>
<rect x="73.80" y="556.70" width="8.90" height="6.80" fill="#2f5596"/>
<rect x="73.80" y="567.10" width="8.90" height="6.80" fill="#b4062c"/>
<text x="85.40" y="563.20" font-size="7.5" text-anchor="start" font-weight="normal" fill="#333" textLength="10.5" lengthAdjust="spacingAndGlyphs" stroke="#333" stroke-width="0.15">KM</text>
<text x="85.40" y="573.60" font-size="7.5" text-anchor="start" font-weight="normal" fill="#333" textLength="27" lengthAdjust="spacingAndGlyphs" stroke="#333" stroke-width="0.15">KMUKO</text>
<text x="94.50" y="664.00" font-size="8.0" text-anchor="middle" font-weight="normal" fill="#333" textLength="41" lengthAdjust="spacingAndGlyphs" stroke="#333" stroke-width="0.15">No cytokine</text>
<text x="160.00" y="664.00" font-size="8.0" text-anchor="middle" font-weight="normal" fill="#333" textLength="34.6" lengthAdjust="spacingAndGlyphs" stroke="#333" stroke-width="0.15">+GM-CSF</text>
<text x="30.50" y="608.50" font-size="8.8" text-anchor="middle" font-weight="normal" fill="#333" textLength="56" lengthAdjust="spacingAndGlyphs" transform="rotate(-90 30.5 608.5)" stroke="#333" stroke-width="0.15">Colony number /</text>
<text x="40.60" y="608.50" font-size="8.8" text-anchor="middle" font-weight="normal" fill="#333" textLength="49" lengthAdjust="spacingAndGlyphs" transform="rotate(-90 40.6 608.5)" stroke="#333" stroke-width="0.15">10<tspan font-size="5.4" dy="-3">5</tspan><tspan dy="3"> WBM cells</tspan></text>
<text x="208.40" y="554.00" font-size="11.5" text-anchor="start" font-weight="bold" fill="#111">H</text>
<line x1="262.80" y1="565.20" x2="262.80" y2="588.60" stroke="#2a2a2a" stroke-width="1.3"/>
<line x1="261.20" y1="588.60" x2="264.80" y2="588.60" stroke="#2a2a2a" stroke-width="1.0"/>
<line x1="262.80" y1="596.00" x2="262.80" y2="650.60" stroke="#2a2a2a" stroke-width="1.3"/>
<line x1="260.20" y1="596.00" x2="265.00" y2="596.00" stroke="#2a2a2a" stroke-width="1.0"/>
<line x1="259.80" y1="650.60" x2="262.80" y2="650.60" stroke="#2a2a2a" stroke-width="1.0"/>
<text x="257.00" y="653.20" font-size="7.7" text-anchor="end" font-weight="normal" fill="#333" stroke="#333" stroke-width="0.15">0</text>
<line x1="259.80" y1="637.11" x2="262.80" y2="637.11" stroke="#2a2a2a" stroke-width="1.0"/>
<text x="257.00" y="639.71" font-size="7.7" text-anchor="end" font-weight="normal" fill="#333" stroke="#333" stroke-width="0.15">10</text>
<line x1="259.80" y1="623.62" x2="262.80" y2="623.62" stroke="#2a2a2a" stroke-width="1.0"/>
<text x="257.00" y="626.22" font-size="7.7" text-anchor="end" font-weight="normal" fill="#333" stroke="#333" stroke-width="0.15">20</text>
<line x1="259.80" y1="610.13" x2="262.80" y2="610.13" stroke="#2a2a2a" stroke-width="1.0"/>
<text x="257.00" y="612.73" font-size="7.7" text-anchor="end" font-weight="normal" fill="#333" stroke="#333" stroke-width="0.15">30</text>
<text x="257.00" y="598.60" font-size="7.7" text-anchor="end" font-weight="normal" fill="#333" stroke="#333" stroke-width="0.15">40</text>
<line x1="259.80" y1="585.00" x2="262.80" y2="585.00" stroke="#2a2a2a" stroke-width="1.0"/>
<text x="257.00" y="587.60" font-size="7.7" text-anchor="end" font-weight="normal" fill="#333" stroke="#333" stroke-width="0.15">50</text>
<line x1="259.80" y1="568.30" x2="262.80" y2="568.30" stroke="#2a2a2a" stroke-width="1.0"/>
<text x="257.00" y="570.90" font-size="7.7" text-anchor="end" font-weight="normal" fill="#333" stroke="#333" stroke-width="0.15">100</text>
<line x1="262.20" y1="650.60" x2="412.60" y2="650.60" stroke="#2a2a2a" stroke-width="1.3"/>
<rect x="269.60" y="622.30" width="9.60" height="28.30" fill="#2f5596" stroke="#1f3a6a" stroke-width="0.5"/>
<line x1="274.40" y1="622.30" x2="274.40" y2="614.00" stroke="#333" stroke-width="1.0"/>
<line x1="269.60" y1="614.00" x2="279.20" y2="614.00" stroke="#333" stroke-width="1.0"/>
<rect x="284.00" y="621.20" width="9.70" height="29.40" fill="#b4062c" stroke="#7a0a20" stroke-width="0.5"/>
<line x1="288.85" y1="621.20" x2="288.85" y2="614.60" stroke="#333" stroke-width="1.0"/>
<line x1="284.05" y1="614.60" x2="293.65" y2="614.60" stroke="#333" stroke-width="1.0"/>
<rect x="307.30" y="611.20" width="9.60" height="39.40" fill="#2f5596" stroke="#1f3a6a" stroke-width="0.5"/>
<line x1="312.10" y1="611.20" x2="312.10" y2="609.20" stroke="#333" stroke-width="1.0"/>
<line x1="307.30" y1="609.20" x2="316.90" y2="609.20" stroke="#333" stroke-width="1.0"/>
<rect x="321.30" y="596.20" width="9.70" height="54.40" fill="#b4062c" stroke="#7a0a20" stroke-width="0.5"/>
<rect x="321.30" y="572.70" width="9.70" height="15.30" fill="#b4062c" stroke="#7a0a20" stroke-width="0.5"/>
<line x1="326.15" y1="572.70" x2="326.15" y2="565.00" stroke="#333" stroke-width="1.0"/>
<line x1="321.35" y1="565.00" x2="330.95" y2="565.00" stroke="#333" stroke-width="1.0"/>
<rect x="344.80" y="614.60" width="9.20" height="36.00" fill="#2f5596" stroke="#1f3a6a" stroke-width="0.5"/>
<line x1="349.40" y1="614.60" x2="349.40" y2="611.50" stroke="#333" stroke-width="1.0"/>
<line x1="344.60" y1="611.50" x2="354.20" y2="611.50" stroke="#333" stroke-width="1.0"/>
<rect x="358.70" y="596.20" width="9.60" height="54.40" fill="#b4062c" stroke="#7a0a20" stroke-width="0.5"/>
<rect x="358.70" y="583.30" width="9.60" height="4.70" fill="#b4062c" stroke="#7a0a20" stroke-width="0.5"/>
<line x1="363.50" y1="583.30" x2="363.50" y2="578.80" stroke="#333" stroke-width="1.0"/>
<line x1="358.70" y1="578.80" x2="368.30" y2="578.80" stroke="#333" stroke-width="1.0"/>
<rect x="382.30" y="644.60" width="9.60" height="6.00" fill="#2f5596" stroke="#1f3a6a" stroke-width="0.5"/>
<rect x="396.30" y="622.30" width="9.70" height="28.30" fill="#b4062c" stroke="#7a0a20" stroke-width="0.5"/>
<line x1="401.15" y1="622.30" x2="401.15" y2="622.00" stroke="#333" stroke-width="1.0"/>
<line x1="396.35" y1="622.00" x2="405.95" y2="622.00" stroke="#333" stroke-width="1.0"/>
<line x1="281.70" y1="650.60" x2="281.70" y2="653.40" stroke="#2a2a2a" stroke-width="1.0"/>
<text x="281.70" y="664.20" font-size="7.8" text-anchor="middle" font-weight="normal" fill="#333" stroke="#333" stroke-width="0.15">1</text>
<line x1="318.80" y1="650.60" x2="318.80" y2="653.40" stroke="#2a2a2a" stroke-width="1.0"/>
<text x="318.80" y="664.20" font-size="7.8" text-anchor="middle" font-weight="normal" fill="#333" stroke="#333" stroke-width="0.15">2</text>
<line x1="356.30" y1="650.60" x2="356.30" y2="653.40" stroke="#2a2a2a" stroke-width="1.0"/>
<text x="356.30" y="664.20" font-size="7.8" text-anchor="middle" font-weight="normal" fill="#333" stroke="#333" stroke-width="0.15">3</text>
<line x1="393.90" y1="650.60" x2="393.90" y2="653.40" stroke="#2a2a2a" stroke-width="1.0"/>
<text x="393.90" y="664.20" font-size="7.8" text-anchor="middle" font-weight="normal" fill="#333" stroke="#333" stroke-width="0.15">4</text>
<text x="338.00" y="676.00" font-size="8.4" text-anchor="middle" font-weight="normal" fill="#333" textLength="22.5" lengthAdjust="spacingAndGlyphs" stroke="#333" stroke-width="0.15">Round</text>
<line x1="311.20" y1="557.30" x2="325.60" y2="557.30" stroke="#222" stroke-width="1.0"/>
<line x1="311.20" y1="554.70" x2="311.20" y2="559.90" stroke="#222" stroke-width="1.0"/>
<line x1="325.60" y1="554.70" x2="325.60" y2="559.90" stroke="#222" stroke-width="1.0"/>
<text x="318.40" y="554.30" font-size="7" text-anchor="middle" font-weight="normal" fill="#222" stroke="#222" stroke-width="0.15">*</text>
<line x1="348.70" y1="571.70" x2="362.70" y2="571.70" stroke="#222" stroke-width="1.0"/>
<line x1="348.70" y1="569.10" x2="348.70" y2="574.30" stroke="#222" stroke-width="1.0"/>
<line x1="362.70" y1="569.10" x2="362.70" y2="574.30" stroke="#222" stroke-width="1.0"/>
<text x="355.70" y="568.70" font-size="7" text-anchor="middle" font-weight="normal" fill="#222" stroke="#222" stroke-width="0.15">*</text>
<line x1="384.60" y1="612.00" x2="399.00" y2="612.00" stroke="#222" stroke-width="1.0"/>
<line x1="384.60" y1="609.40" x2="384.60" y2="614.60" stroke="#222" stroke-width="1.0"/>
<line x1="399.00" y1="609.40" x2="399.00" y2="614.60" stroke="#222" stroke-width="1.0"/>
<text x="391.80" y="608.80" font-size="7" text-anchor="middle" font-weight="normal" fill="#222" stroke="#222" stroke-width="0.15">***</text>
<rect x="386.00" y="566.70" width="8.70" height="6.60" fill="#2f5596"/>
<rect x="386.00" y="577.20" width="8.70" height="6.60" fill="#b4062c"/>
<text x="397.70" y="573.00" font-size="7.5" text-anchor="start" font-weight="normal" fill="#333" textLength="10.5" lengthAdjust="spacingAndGlyphs" stroke="#333" stroke-width="0.15">KM</text>
<text x="397.70" y="583.40" font-size="7.5" text-anchor="start" font-weight="normal" fill="#333" textLength="27.6" lengthAdjust="spacingAndGlyphs" stroke="#333" stroke-width="0.15">KMUKO</text>
<text x="226.80" y="608.30" font-size="8.8" text-anchor="middle" font-weight="normal" fill="#333" textLength="56" lengthAdjust="spacingAndGlyphs" transform="rotate(-90 226.8 608.3)" stroke="#333" stroke-width="0.15">Colony number /</text>
<text x="236.20" y="608.30" font-size="8.8" text-anchor="middle" font-weight="normal" fill="#333" textLength="49" lengthAdjust="spacingAndGlyphs" transform="rotate(-90 236.2 608.3)" stroke="#333" stroke-width="0.15">10<tspan font-size="5.4" dy="-3">5</tspan><tspan dy="3"> WBM cells</tspan></text>
<rect x="0" y="0" width="520" height="1.3" fill="#000"/>
<rect x="0" y="0" width="1.3" height="684" fill="#000"/>
<rect x="518.3" y="0" width="1.7" height="684" fill="#000"/>
<rect x="0" y="682.3" width="520" height="1.7" fill="#000"/>
</svg></body></html>
